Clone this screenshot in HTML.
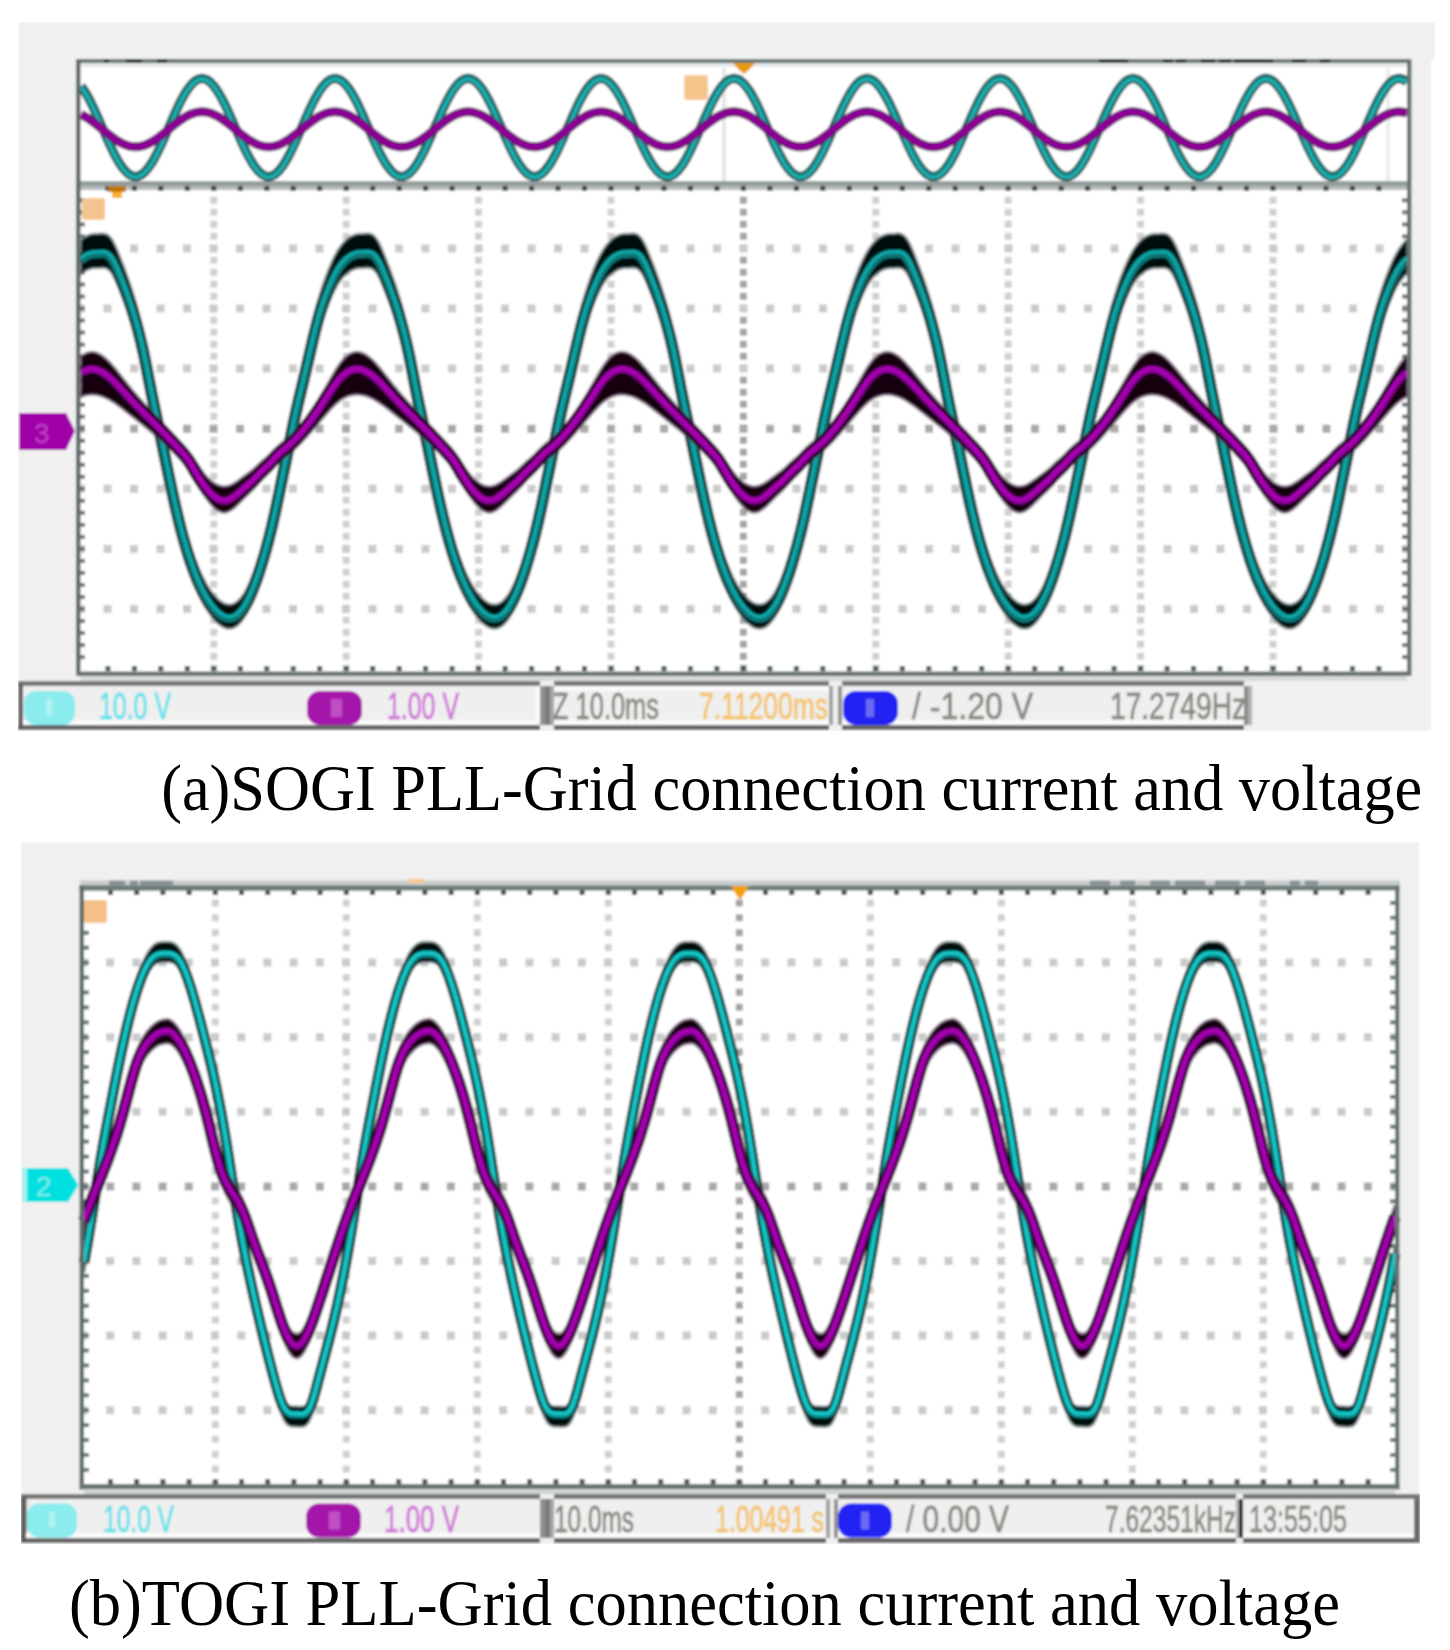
<!DOCTYPE html><html><head><meta charset="utf-8"><style>html,body{margin:0;padding:0;background:#fff;}body{width:1450px;height:1650px;overflow:hidden;} svg{display:block}</style></head><body>
<svg width="1450" height="1650" viewBox="0 0 1450 1650">
<defs><filter id="soft" x="0" y="0" width="1" height="1" filterUnits="objectBoundingBox"><feGaussianBlur stdDeviation="0.8"/></filter></defs>
<rect width="1450" height="1650" fill="#fff"/>
<g filter="url(#soft)">
<rect x="18" y="22" width="1417" height="37" fill="#f0f0f0"/>
<rect x="18" y="59" width="1413" height="672" fill="#f0f0f0"/>
<rect x="78" y="61" width="1331" height="612" fill="#fff"/>
<rect x="80" y="63" width="1327" height="4" fill="#e4e8e8"/>
<rect x="722" y="68" width="4" height="113" fill="#e6e6e6"/>
<rect x="1386" y="68" width="4" height="113" fill="#ececec"/>
<rect x="80" y="181" width="1327" height="5" fill="#949c9c"/>
<rect x="80" y="186" width="1327" height="4" fill="#b4bcbc"/>
<line x1="213.8" y1="196.8" x2="213.8" y2="671" stroke="#d0d0d0" stroke-width="7" stroke-dasharray="7 5" />
<line x1="346.2" y1="196.8" x2="346.2" y2="671" stroke="#d0d0d0" stroke-width="7" stroke-dasharray="7 5" />
<line x1="478.6" y1="196.8" x2="478.6" y2="671" stroke="#d0d0d0" stroke-width="7" stroke-dasharray="7 5" />
<line x1="611" y1="196.8" x2="611" y2="671" stroke="#d0d0d0" stroke-width="7" stroke-dasharray="7 5" />
<line x1="743.4" y1="196.8" x2="743.4" y2="671" stroke="#a4a4a4" stroke-width="7" stroke-dasharray="7 5" />
<line x1="875.8" y1="196.8" x2="875.8" y2="671" stroke="#d0d0d0" stroke-width="7" stroke-dasharray="7 5" />
<line x1="1008.2" y1="196.8" x2="1008.2" y2="671" stroke="#d0d0d0" stroke-width="7" stroke-dasharray="7 5" />
<line x1="1140.6" y1="196.8" x2="1140.6" y2="671" stroke="#d0d0d0" stroke-width="7" stroke-dasharray="7 5" />
<line x1="1273" y1="196.8" x2="1273" y2="671" stroke="#d0d0d0" stroke-width="7" stroke-dasharray="7 5" />
<line x1="81" y1="248.4" x2="1407" y2="248.4" stroke="#cacaca" stroke-width="8" stroke-dasharray="8 18.5" stroke-dashoffset="4"/>
<line x1="81" y1="308.5" x2="1407" y2="308.5" stroke="#cacaca" stroke-width="8" stroke-dasharray="8 18.5" stroke-dashoffset="4"/>
<line x1="81" y1="368.6" x2="1407" y2="368.6" stroke="#cacaca" stroke-width="8" stroke-dasharray="8 18.5" stroke-dashoffset="4"/>
<line x1="81" y1="428.7" x2="1407" y2="428.7" stroke="#a8a8a8" stroke-width="8" stroke-dasharray="8 18.5" stroke-dashoffset="4"/>
<line x1="81" y1="488.8" x2="1407" y2="488.8" stroke="#cacaca" stroke-width="8" stroke-dasharray="8 18.5" stroke-dashoffset="4"/>
<line x1="81" y1="548.9" x2="1407" y2="548.9" stroke="#cacaca" stroke-width="8" stroke-dasharray="8 18.5" stroke-dashoffset="4"/>
<line x1="81" y1="609" x2="1407" y2="609" stroke="#cacaca" stroke-width="8" stroke-dasharray="8 18.5" stroke-dashoffset="4"/>
<rect x="105.4" y="186" width="5" height="5" fill="#3c4848"/>
<rect x="105.4" y="666" width="5" height="5" fill="#4a5656"/>
<rect x="131.9" y="186" width="5" height="5" fill="#3c4848"/>
<rect x="131.9" y="666" width="5" height="5" fill="#4a5656"/>
<rect x="158.3" y="186" width="5" height="5" fill="#3c4848"/>
<rect x="158.3" y="666" width="5" height="5" fill="#4a5656"/>
<rect x="184.8" y="186" width="5" height="5" fill="#3c4848"/>
<rect x="184.8" y="666" width="5" height="5" fill="#4a5656"/>
<rect x="211.3" y="186" width="5" height="5" fill="#3c4848"/>
<rect x="211.3" y="666" width="5" height="5" fill="#4a5656"/>
<rect x="237.8" y="186" width="5" height="5" fill="#3c4848"/>
<rect x="237.8" y="666" width="5" height="5" fill="#4a5656"/>
<rect x="264.3" y="186" width="5" height="5" fill="#3c4848"/>
<rect x="264.3" y="666" width="5" height="5" fill="#4a5656"/>
<rect x="290.7" y="186" width="5" height="5" fill="#3c4848"/>
<rect x="290.7" y="666" width="5" height="5" fill="#4a5656"/>
<rect x="317.2" y="186" width="5" height="5" fill="#3c4848"/>
<rect x="317.2" y="666" width="5" height="5" fill="#4a5656"/>
<rect x="343.7" y="186" width="5" height="5" fill="#3c4848"/>
<rect x="343.7" y="666" width="5" height="5" fill="#4a5656"/>
<rect x="370.2" y="186" width="5" height="5" fill="#3c4848"/>
<rect x="370.2" y="666" width="5" height="5" fill="#4a5656"/>
<rect x="396.7" y="186" width="5" height="5" fill="#3c4848"/>
<rect x="396.7" y="666" width="5" height="5" fill="#4a5656"/>
<rect x="423.1" y="186" width="5" height="5" fill="#3c4848"/>
<rect x="423.1" y="666" width="5" height="5" fill="#4a5656"/>
<rect x="449.6" y="186" width="5" height="5" fill="#3c4848"/>
<rect x="449.6" y="666" width="5" height="5" fill="#4a5656"/>
<rect x="476.1" y="186" width="5" height="5" fill="#3c4848"/>
<rect x="476.1" y="666" width="5" height="5" fill="#4a5656"/>
<rect x="502.6" y="186" width="5" height="5" fill="#3c4848"/>
<rect x="502.6" y="666" width="5" height="5" fill="#4a5656"/>
<rect x="529.1" y="186" width="5" height="5" fill="#3c4848"/>
<rect x="529.1" y="666" width="5" height="5" fill="#4a5656"/>
<rect x="555.5" y="186" width="5" height="5" fill="#3c4848"/>
<rect x="555.5" y="666" width="5" height="5" fill="#4a5656"/>
<rect x="582" y="186" width="5" height="5" fill="#3c4848"/>
<rect x="582" y="666" width="5" height="5" fill="#4a5656"/>
<rect x="608.5" y="186" width="5" height="5" fill="#3c4848"/>
<rect x="608.5" y="666" width="5" height="5" fill="#4a5656"/>
<rect x="635" y="186" width="5" height="5" fill="#3c4848"/>
<rect x="635" y="666" width="5" height="5" fill="#4a5656"/>
<rect x="661.5" y="186" width="5" height="5" fill="#3c4848"/>
<rect x="661.5" y="666" width="5" height="5" fill="#4a5656"/>
<rect x="687.9" y="186" width="5" height="5" fill="#3c4848"/>
<rect x="687.9" y="666" width="5" height="5" fill="#4a5656"/>
<rect x="714.4" y="186" width="5" height="5" fill="#3c4848"/>
<rect x="714.4" y="666" width="5" height="5" fill="#4a5656"/>
<rect x="740.9" y="186" width="5" height="5" fill="#3c4848"/>
<rect x="740.9" y="666" width="5" height="5" fill="#4a5656"/>
<rect x="767.4" y="186" width="5" height="5" fill="#3c4848"/>
<rect x="767.4" y="666" width="5" height="5" fill="#4a5656"/>
<rect x="793.9" y="186" width="5" height="5" fill="#3c4848"/>
<rect x="793.9" y="666" width="5" height="5" fill="#4a5656"/>
<rect x="820.3" y="186" width="5" height="5" fill="#3c4848"/>
<rect x="820.3" y="666" width="5" height="5" fill="#4a5656"/>
<rect x="846.8" y="186" width="5" height="5" fill="#3c4848"/>
<rect x="846.8" y="666" width="5" height="5" fill="#4a5656"/>
<rect x="873.3" y="186" width="5" height="5" fill="#3c4848"/>
<rect x="873.3" y="666" width="5" height="5" fill="#4a5656"/>
<rect x="899.8" y="186" width="5" height="5" fill="#3c4848"/>
<rect x="899.8" y="666" width="5" height="5" fill="#4a5656"/>
<rect x="926.3" y="186" width="5" height="5" fill="#3c4848"/>
<rect x="926.3" y="666" width="5" height="5" fill="#4a5656"/>
<rect x="952.7" y="186" width="5" height="5" fill="#3c4848"/>
<rect x="952.7" y="666" width="5" height="5" fill="#4a5656"/>
<rect x="979.2" y="186" width="5" height="5" fill="#3c4848"/>
<rect x="979.2" y="666" width="5" height="5" fill="#4a5656"/>
<rect x="1005.7" y="186" width="5" height="5" fill="#3c4848"/>
<rect x="1005.7" y="666" width="5" height="5" fill="#4a5656"/>
<rect x="1032.2" y="186" width="5" height="5" fill="#3c4848"/>
<rect x="1032.2" y="666" width="5" height="5" fill="#4a5656"/>
<rect x="1058.7" y="186" width="5" height="5" fill="#3c4848"/>
<rect x="1058.7" y="666" width="5" height="5" fill="#4a5656"/>
<rect x="1085.1" y="186" width="5" height="5" fill="#3c4848"/>
<rect x="1085.1" y="666" width="5" height="5" fill="#4a5656"/>
<rect x="1111.6" y="186" width="5" height="5" fill="#3c4848"/>
<rect x="1111.6" y="666" width="5" height="5" fill="#4a5656"/>
<rect x="1138.1" y="186" width="5" height="5" fill="#3c4848"/>
<rect x="1138.1" y="666" width="5" height="5" fill="#4a5656"/>
<rect x="1164.6" y="186" width="5" height="5" fill="#3c4848"/>
<rect x="1164.6" y="666" width="5" height="5" fill="#4a5656"/>
<rect x="1191.1" y="186" width="5" height="5" fill="#3c4848"/>
<rect x="1191.1" y="666" width="5" height="5" fill="#4a5656"/>
<rect x="1217.5" y="186" width="5" height="5" fill="#3c4848"/>
<rect x="1217.5" y="666" width="5" height="5" fill="#4a5656"/>
<rect x="1244" y="186" width="5" height="5" fill="#3c4848"/>
<rect x="1244" y="666" width="5" height="5" fill="#4a5656"/>
<rect x="1270.5" y="186" width="5" height="5" fill="#3c4848"/>
<rect x="1270.5" y="666" width="5" height="5" fill="#4a5656"/>
<rect x="1297" y="186" width="5" height="5" fill="#3c4848"/>
<rect x="1297" y="666" width="5" height="5" fill="#4a5656"/>
<rect x="1323.5" y="186" width="5" height="5" fill="#3c4848"/>
<rect x="1323.5" y="666" width="5" height="5" fill="#4a5656"/>
<rect x="1349.9" y="186" width="5" height="5" fill="#3c4848"/>
<rect x="1349.9" y="666" width="5" height="5" fill="#4a5656"/>
<rect x="1376.4" y="186" width="5" height="5" fill="#3c4848"/>
<rect x="1376.4" y="666" width="5" height="5" fill="#4a5656"/>
<rect x="80" y="198.3" width="5" height="4" fill="#6a7474"/>
<rect x="1402" y="198.3" width="5" height="4" fill="#6a7474"/>
<rect x="80" y="210.3" width="5" height="4" fill="#6a7474"/>
<rect x="1402" y="210.3" width="5" height="4" fill="#6a7474"/>
<rect x="80" y="222.4" width="5" height="4" fill="#6a7474"/>
<rect x="1402" y="222.4" width="5" height="4" fill="#6a7474"/>
<rect x="80" y="234.4" width="5" height="4" fill="#6a7474"/>
<rect x="1402" y="234.4" width="5" height="4" fill="#6a7474"/>
<rect x="80" y="246.4" width="5" height="4" fill="#6a7474"/>
<rect x="1402" y="246.4" width="5" height="4" fill="#6a7474"/>
<rect x="80" y="258.4" width="5" height="4" fill="#6a7474"/>
<rect x="1402" y="258.4" width="5" height="4" fill="#6a7474"/>
<rect x="80" y="270.4" width="5" height="4" fill="#6a7474"/>
<rect x="1402" y="270.4" width="5" height="4" fill="#6a7474"/>
<rect x="80" y="282.5" width="5" height="4" fill="#6a7474"/>
<rect x="1402" y="282.5" width="5" height="4" fill="#6a7474"/>
<rect x="80" y="294.5" width="5" height="4" fill="#6a7474"/>
<rect x="1402" y="294.5" width="5" height="4" fill="#6a7474"/>
<rect x="80" y="306.5" width="5" height="4" fill="#6a7474"/>
<rect x="1402" y="306.5" width="5" height="4" fill="#6a7474"/>
<rect x="80" y="318.5" width="5" height="4" fill="#6a7474"/>
<rect x="1402" y="318.5" width="5" height="4" fill="#6a7474"/>
<rect x="80" y="330.5" width="5" height="4" fill="#6a7474"/>
<rect x="1402" y="330.5" width="5" height="4" fill="#6a7474"/>
<rect x="80" y="342.6" width="5" height="4" fill="#6a7474"/>
<rect x="1402" y="342.6" width="5" height="4" fill="#6a7474"/>
<rect x="80" y="354.6" width="5" height="4" fill="#6a7474"/>
<rect x="1402" y="354.6" width="5" height="4" fill="#6a7474"/>
<rect x="80" y="366.6" width="5" height="4" fill="#6a7474"/>
<rect x="1402" y="366.6" width="5" height="4" fill="#6a7474"/>
<rect x="80" y="378.6" width="5" height="4" fill="#6a7474"/>
<rect x="1402" y="378.6" width="5" height="4" fill="#6a7474"/>
<rect x="80" y="390.6" width="5" height="4" fill="#6a7474"/>
<rect x="1402" y="390.6" width="5" height="4" fill="#6a7474"/>
<rect x="80" y="402.7" width="5" height="4" fill="#6a7474"/>
<rect x="1402" y="402.7" width="5" height="4" fill="#6a7474"/>
<rect x="80" y="414.7" width="5" height="4" fill="#6a7474"/>
<rect x="1402" y="414.7" width="5" height="4" fill="#6a7474"/>
<rect x="80" y="426.7" width="5" height="4" fill="#6a7474"/>
<rect x="1402" y="426.7" width="5" height="4" fill="#6a7474"/>
<rect x="80" y="438.7" width="5" height="4" fill="#6a7474"/>
<rect x="1402" y="438.7" width="5" height="4" fill="#6a7474"/>
<rect x="80" y="450.7" width="5" height="4" fill="#6a7474"/>
<rect x="1402" y="450.7" width="5" height="4" fill="#6a7474"/>
<rect x="80" y="462.8" width="5" height="4" fill="#6a7474"/>
<rect x="1402" y="462.8" width="5" height="4" fill="#6a7474"/>
<rect x="80" y="474.8" width="5" height="4" fill="#6a7474"/>
<rect x="1402" y="474.8" width="5" height="4" fill="#6a7474"/>
<rect x="80" y="486.8" width="5" height="4" fill="#6a7474"/>
<rect x="1402" y="486.8" width="5" height="4" fill="#6a7474"/>
<rect x="80" y="498.8" width="5" height="4" fill="#6a7474"/>
<rect x="1402" y="498.8" width="5" height="4" fill="#6a7474"/>
<rect x="80" y="510.8" width="5" height="4" fill="#6a7474"/>
<rect x="1402" y="510.8" width="5" height="4" fill="#6a7474"/>
<rect x="80" y="522.9" width="5" height="4" fill="#6a7474"/>
<rect x="1402" y="522.9" width="5" height="4" fill="#6a7474"/>
<rect x="80" y="534.9" width="5" height="4" fill="#6a7474"/>
<rect x="1402" y="534.9" width="5" height="4" fill="#6a7474"/>
<rect x="80" y="546.9" width="5" height="4" fill="#6a7474"/>
<rect x="1402" y="546.9" width="5" height="4" fill="#6a7474"/>
<rect x="80" y="558.9" width="5" height="4" fill="#6a7474"/>
<rect x="1402" y="558.9" width="5" height="4" fill="#6a7474"/>
<rect x="80" y="570.9" width="5" height="4" fill="#6a7474"/>
<rect x="1402" y="570.9" width="5" height="4" fill="#6a7474"/>
<rect x="80" y="583" width="5" height="4" fill="#6a7474"/>
<rect x="1402" y="583" width="5" height="4" fill="#6a7474"/>
<rect x="80" y="595" width="5" height="4" fill="#6a7474"/>
<rect x="1402" y="595" width="5" height="4" fill="#6a7474"/>
<rect x="80" y="607" width="5" height="4" fill="#6a7474"/>
<rect x="1402" y="607" width="5" height="4" fill="#6a7474"/>
<rect x="80" y="619" width="5" height="4" fill="#6a7474"/>
<rect x="1402" y="619" width="5" height="4" fill="#6a7474"/>
<rect x="80" y="631" width="5" height="4" fill="#6a7474"/>
<rect x="1402" y="631" width="5" height="4" fill="#6a7474"/>
<rect x="80" y="643.1" width="5" height="4" fill="#6a7474"/>
<rect x="1402" y="643.1" width="5" height="4" fill="#6a7474"/>
<rect x="80" y="655.1" width="5" height="4" fill="#6a7474"/>
<rect x="1402" y="655.1" width="5" height="4" fill="#6a7474"/>
<path d="M81,86.2 82.5,88.1 84,90.3 85.5,92.6 87,95.2 88.5,97.9 90,100.7 91.5,103.7 93,106.8 94.5,110 96,113.2 97.5,116.6 99,120 100.5,123.5 102,126.9 103.5,130.4 105,133.8 106.5,137.3 108,140.6 109.5,144 111,147.2 112.5,150.3 114,153.3 115.5,156.2 117,158.9 118.5,161.5 120,163.9 121.5,166.2 123,168.2 124.5,170 126,171.6 127.5,173 129,174.2 130.5,175.1 132,175.8 133.5,176.3 135,176.5 136.5,176.4 138,176.2 139.5,175.6 141,174.9 142.5,173.8 144,172.6 145.5,171.1 147,169.4 148.5,167.5 150,165.4 151.5,163.2 153,160.7 154.5,158.1 156,155.3 157.5,152.3 159,149.3 160.5,146.1 162,142.9 163.5,139.5 165,136.1 166.5,132.7 168,129.2 169.5,125.8 171,122.3 172.5,118.9 174,115.5 175.5,112.1 177,108.9 178.5,105.7 180,102.7 181.5,99.7 183,96.9 184.5,94.3 186,91.8 187.5,89.6 189,87.5 190.5,85.6 192,83.9 193.5,82.4 195,81.2 196.5,80.1 198,79.4 199.5,78.8 201,78.6 202.5,78.5 204,78.7 205.5,79.2 207,79.9 208.5,80.8 210,82 211.5,83.4 213,85 214.5,86.8 216,88.8 217.5,91.1 219,93.5 220.5,96.1 222,98.8 223.5,101.7 225,104.7 226.5,107.8 228,111 229.5,114.4 231,117.7 232.5,121.2 234,124.6 235.5,128.1 237,131.5 238.5,135 240,138.4 241.5,141.8 243,145 244.5,148.2 246,151.3 247.5,154.3 249,157.1 250.5,159.8 252,162.4 253.5,164.7 255,166.9 256.5,168.8 258,170.6 259.5,172.1 261,173.5 262.5,174.5 264,175.4 265.5,176 267,176.4 268.5,176.5 270,176.4 271.5,176 273,175.4 274.5,174.5 276,173.5 277.5,172.1 279,170.6 280.5,168.8 282,166.9 283.5,164.7 285,162.4 286.5,159.8 288,157.1 289.5,154.3 291,151.3 292.5,148.2 294,145 295.5,141.8 297,138.4 298.5,135 300,131.5 301.5,128.1 303,124.6 304.5,121.2 306,117.7 307.5,114.4 309,111 310.5,107.8 312,104.7 313.5,101.7 315,98.8 316.5,96.1 318,93.5 319.5,91.1 321,88.8 322.5,86.8 324,85 325.5,83.4 327,82 328.5,80.8 330,79.9 331.5,79.2 333,78.7 334.5,78.5 336,78.6 337.5,78.8 339,79.4 340.5,80.1 342,81.2 343.5,82.4 345,83.9 346.5,85.6 348,87.5 349.5,89.6 351,91.8 352.5,94.3 354,96.9 355.5,99.7 357,102.7 358.5,105.7 360,108.9 361.5,112.1 363,115.5 364.5,118.9 366,122.3 367.5,125.8 369,129.2 370.5,132.7 372,136.1 373.5,139.5 375,142.9 376.5,146.1 378,149.3 379.5,152.3 381,155.3 382.5,158.1 384,160.7 385.5,163.2 387,165.4 388.5,167.5 390,169.4 391.5,171.1 393,172.6 394.5,173.8 396,174.9 397.5,175.6 399,176.2 400.5,176.4 402,176.5 403.5,176.3 405,175.8 406.5,175.1 408,174.2 409.5,173 411,171.6 412.5,170 414,168.2 415.5,166.2 417,163.9 418.5,161.5 420,158.9 421.5,156.2 423,153.3 424.5,150.3 426,147.2 427.5,144 429,140.6 430.5,137.3 432,133.8 433.5,130.4 435,126.9 436.5,123.5 438,120 439.5,116.6 441,113.2 442.5,110 444,106.8 445.5,103.7 447,100.7 448.5,97.9 450,95.2 451.5,92.6 453,90.3 454.5,88.1 456,86.2 457.5,84.4 459,82.9 460.5,81.5 462,80.5 463.5,79.6 465,79 466.5,78.6 468,78.5 469.5,78.6 471,79 472.5,79.6 474,80.5 475.5,81.5 477,82.9 478.5,84.4 480,86.2 481.5,88.1 483,90.3 484.5,92.6 486,95.2 487.5,97.9 489,100.7 490.5,103.7 492,106.8 493.5,110 495,113.2 496.5,116.6 498,120 499.5,123.5 501,126.9 502.5,130.4 504,133.8 505.5,137.3 507,140.6 508.5,144 510,147.2 511.5,150.3 513,153.3 514.5,156.2 516,158.9 517.5,161.5 519,163.9 520.5,166.2 522,168.2 523.5,170 525,171.6 526.5,173 528,174.2 529.5,175.1 531,175.8 532.5,176.3 534,176.5 535.5,176.4 537,176.2 538.5,175.6 540,174.9 541.5,173.8 543,172.6 544.5,171.1 546,169.4 547.5,167.5 549,165.4 550.5,163.2 552,160.7 553.5,158.1 555,155.3 556.5,152.3 558,149.3 559.5,146.1 561,142.9 562.5,139.5 564,136.1 565.5,132.7 567,129.2 568.5,125.8 570,122.3 571.5,118.9 573,115.5 574.5,112.1 576,108.9 577.5,105.7 579,102.7 580.5,99.7 582,96.9 583.5,94.3 585,91.8 586.5,89.6 588,87.5 589.5,85.6 591,83.9 592.5,82.4 594,81.2 595.5,80.1 597,79.4 598.5,78.8 600,78.6 601.5,78.5 603,78.7 604.5,79.2 606,79.9 607.5,80.8 609,82 610.5,83.4 612,85 613.5,86.8 615,88.8 616.5,91.1 618,93.5 619.5,96.1 621,98.8 622.5,101.7 624,104.7 625.5,107.8 627,111 628.5,114.4 630,117.7 631.5,121.2 633,124.6 634.5,128.1 636,131.5 637.5,135 639,138.4 640.5,141.8 642,145 643.5,148.2 645,151.3 646.5,154.3 648,157.1 649.5,159.8 651,162.4 652.5,164.7 654,166.9 655.5,168.8 657,170.6 658.5,172.1 660,173.5 661.5,174.5 663,175.4 664.5,176 666,176.4 667.5,176.5 669,176.4 670.5,176 672,175.4 673.5,174.5 675,173.5 676.5,172.1 678,170.6 679.5,168.8 681,166.9 682.5,164.7 684,162.4 685.5,159.8 687,157.1 688.5,154.3 690,151.3 691.5,148.2 693,145 694.5,141.8 696,138.4 697.5,135 699,131.5 700.5,128.1 702,124.6 703.5,121.2 705,117.7 706.5,114.4 708,111 709.5,107.8 711,104.7 712.5,101.7 714,98.8 715.5,96.1 717,93.5 718.5,91.1 720,88.8 721.5,86.8 723,85 724.5,83.4 726,82 727.5,80.8 729,79.9 730.5,79.2 732,78.7 733.5,78.5 735,78.6 736.5,78.8 738,79.4 739.5,80.1 741,81.2 742.5,82.4 744,83.9 745.5,85.6 747,87.5 748.5,89.6 750,91.8 751.5,94.3 753,96.9 754.5,99.7 756,102.7 757.5,105.7 759,108.9 760.5,112.1 762,115.5 763.5,118.9 765,122.3 766.5,125.8 768,129.2 769.5,132.7 771,136.1 772.5,139.5 774,142.9 775.5,146.1 777,149.3 778.5,152.3 780,155.3 781.5,158.1 783,160.7 784.5,163.2 786,165.4 787.5,167.5 789,169.4 790.5,171.1 792,172.6 793.5,173.8 795,174.9 796.5,175.6 798,176.2 799.5,176.4 801,176.5 802.5,176.3 804,175.8 805.5,175.1 807,174.2 808.5,173 810,171.6 811.5,170 813,168.2 814.5,166.2 816,163.9 817.5,161.5 819,158.9 820.5,156.2 822,153.3 823.5,150.3 825,147.2 826.5,144 828,140.6 829.5,137.3 831,133.8 832.5,130.4 834,126.9 835.5,123.5 837,120 838.5,116.6 840,113.2 841.5,110 843,106.8 844.5,103.7 846,100.7 847.5,97.9 849,95.2 850.5,92.6 852,90.3 853.5,88.1 855,86.2 856.5,84.4 858,82.9 859.5,81.5 861,80.5 862.5,79.6 864,79 865.5,78.6 867,78.5 868.5,78.6 870,79 871.5,79.6 873,80.5 874.5,81.5 876,82.9 877.5,84.4 879,86.2 880.5,88.1 882,90.3 883.5,92.6 885,95.2 886.5,97.9 888,100.7 889.5,103.7 891,106.8 892.5,110 894,113.2 895.5,116.6 897,120 898.5,123.5 900,126.9 901.5,130.4 903,133.8 904.5,137.3 906,140.6 907.5,144 909,147.2 910.5,150.3 912,153.3 913.5,156.2 915,158.9 916.5,161.5 918,163.9 919.5,166.2 921,168.2 922.5,170 924,171.6 925.5,173 927,174.2 928.5,175.1 930,175.8 931.5,176.3 933,176.5 934.5,176.4 936,176.2 937.5,175.6 939,174.9 940.5,173.8 942,172.6 943.5,171.1 945,169.4 946.5,167.5 948,165.4 949.5,163.2 951,160.7 952.5,158.1 954,155.3 955.5,152.3 957,149.3 958.5,146.1 960,142.9 961.5,139.5 963,136.1 964.5,132.7 966,129.2 967.5,125.8 969,122.3 970.5,118.9 972,115.5 973.5,112.1 975,108.9 976.5,105.7 978,102.7 979.5,99.7 981,96.9 982.5,94.3 984,91.8 985.5,89.6 987,87.5 988.5,85.6 990,83.9 991.5,82.4 993,81.2 994.5,80.1 996,79.4 997.5,78.8 999,78.6 1000.5,78.5 1002,78.7 1003.5,79.2 1005,79.9 1006.5,80.8 1008,82 1009.5,83.4 1011,85 1012.5,86.8 1014,88.8 1015.5,91.1 1017,93.5 1018.5,96.1 1020,98.8 1021.5,101.7 1023,104.7 1024.5,107.8 1026,111 1027.5,114.4 1029,117.7 1030.5,121.2 1032,124.6 1033.5,128.1 1035,131.5 1036.5,135 1038,138.4 1039.5,141.8 1041,145 1042.5,148.2 1044,151.3 1045.5,154.3 1047,157.1 1048.5,159.8 1050,162.4 1051.5,164.7 1053,166.9 1054.5,168.8 1056,170.6 1057.5,172.1 1059,173.5 1060.5,174.5 1062,175.4 1063.5,176 1065,176.4 1066.5,176.5 1068,176.4 1069.5,176 1071,175.4 1072.5,174.5 1074,173.5 1075.5,172.1 1077,170.6 1078.5,168.8 1080,166.9 1081.5,164.7 1083,162.4 1084.5,159.8 1086,157.1 1087.5,154.3 1089,151.3 1090.5,148.2 1092,145 1093.5,141.8 1095,138.4 1096.5,135 1098,131.5 1099.5,128.1 1101,124.6 1102.5,121.2 1104,117.7 1105.5,114.4 1107,111 1108.5,107.8 1110,104.7 1111.5,101.7 1113,98.8 1114.5,96.1 1116,93.5 1117.5,91.1 1119,88.8 1120.5,86.8 1122,85 1123.5,83.4 1125,82 1126.5,80.8 1128,79.9 1129.5,79.2 1131,78.7 1132.5,78.5 1134,78.6 1135.5,78.8 1137,79.4 1138.5,80.1 1140,81.2 1141.5,82.4 1143,83.9 1144.5,85.6 1146,87.5 1147.5,89.6 1149,91.8 1150.5,94.3 1152,96.9 1153.5,99.7 1155,102.7 1156.5,105.7 1158,108.9 1159.5,112.1 1161,115.5 1162.5,118.9 1164,122.3 1165.5,125.8 1167,129.2 1168.5,132.7 1170,136.1 1171.5,139.5 1173,142.9 1174.5,146.1 1176,149.3 1177.5,152.3 1179,155.3 1180.5,158.1 1182,160.7 1183.5,163.2 1185,165.4 1186.5,167.5 1188,169.4 1189.5,171.1 1191,172.6 1192.5,173.8 1194,174.9 1195.5,175.6 1197,176.2 1198.5,176.4 1200,176.5 1201.5,176.3 1203,175.8 1204.5,175.1 1206,174.2 1207.5,173 1209,171.6 1210.5,170 1212,168.2 1213.5,166.2 1215,163.9 1216.5,161.5 1218,158.9 1219.5,156.2 1221,153.3 1222.5,150.3 1224,147.2 1225.5,144 1227,140.6 1228.5,137.3 1230,133.8 1231.5,130.4 1233,126.9 1234.5,123.5 1236,120 1237.5,116.6 1239,113.2 1240.5,110 1242,106.8 1243.5,103.7 1245,100.7 1246.5,97.9 1248,95.2 1249.5,92.6 1251,90.3 1252.5,88.1 1254,86.2 1255.5,84.4 1257,82.9 1258.5,81.5 1260,80.5 1261.5,79.6 1263,79 1264.5,78.6 1266,78.5 1267.5,78.6 1269,79 1270.5,79.6 1272,80.5 1273.5,81.5 1275,82.9 1276.5,84.4 1278,86.2 1279.5,88.1 1281,90.3 1282.5,92.6 1284,95.2 1285.5,97.9 1287,100.7 1288.5,103.7 1290,106.8 1291.5,110 1293,113.2 1294.5,116.6 1296,120 1297.5,123.5 1299,126.9 1300.5,130.4 1302,133.8 1303.5,137.3 1305,140.6 1306.5,144 1308,147.2 1309.5,150.3 1311,153.3 1312.5,156.2 1314,158.9 1315.5,161.5 1317,163.9 1318.5,166.2 1320,168.2 1321.5,170 1323,171.6 1324.5,173 1326,174.2 1327.5,175.1 1329,175.8 1330.5,176.3 1332,176.5 1333.5,176.4 1335,176.2 1336.5,175.6 1338,174.9 1339.5,173.8 1341,172.6 1342.5,171.1 1344,169.4 1345.5,167.5 1347,165.4 1348.5,163.2 1350,160.7 1351.5,158.1 1353,155.3 1354.5,152.3 1356,149.3 1357.5,146.1 1359,142.9 1360.5,139.5 1362,136.1 1363.5,132.7 1365,129.2 1366.5,125.8 1368,122.3 1369.5,118.9 1371,115.5 1372.5,112.1 1374,108.9 1375.5,105.7 1377,102.7 1378.5,99.7 1380,96.9 1381.5,94.3 1383,91.8 1384.5,89.6 1386,87.5 1387.5,85.6 1389,83.9 1390.5,82.4 1392,81.2 1393.5,80.1 1395,79.4 1396.5,78.8 1398,78.6 1399.5,78.5 1401,78.7 1402.5,79.2 1404,79.9 1405.5,80.8 1407,82" fill="none" stroke="#1c4848" stroke-width="9.5" stroke-linejoin="round" />
<path d="M81,86.2 82.5,88.1 84,90.3 85.5,92.6 87,95.2 88.5,97.9 90,100.7 91.5,103.7 93,106.8 94.5,110 96,113.2 97.5,116.6 99,120 100.5,123.5 102,126.9 103.5,130.4 105,133.8 106.5,137.3 108,140.6 109.5,144 111,147.2 112.5,150.3 114,153.3 115.5,156.2 117,158.9 118.5,161.5 120,163.9 121.5,166.2 123,168.2 124.5,170 126,171.6 127.5,173 129,174.2 130.5,175.1 132,175.8 133.5,176.3 135,176.5 136.5,176.4 138,176.2 139.5,175.6 141,174.9 142.5,173.8 144,172.6 145.5,171.1 147,169.4 148.5,167.5 150,165.4 151.5,163.2 153,160.7 154.5,158.1 156,155.3 157.5,152.3 159,149.3 160.5,146.1 162,142.9 163.5,139.5 165,136.1 166.5,132.7 168,129.2 169.5,125.8 171,122.3 172.5,118.9 174,115.5 175.5,112.1 177,108.9 178.5,105.7 180,102.7 181.5,99.7 183,96.9 184.5,94.3 186,91.8 187.5,89.6 189,87.5 190.5,85.6 192,83.9 193.5,82.4 195,81.2 196.5,80.1 198,79.4 199.5,78.8 201,78.6 202.5,78.5 204,78.7 205.5,79.2 207,79.9 208.5,80.8 210,82 211.5,83.4 213,85 214.5,86.8 216,88.8 217.5,91.1 219,93.5 220.5,96.1 222,98.8 223.5,101.7 225,104.7 226.5,107.8 228,111 229.5,114.4 231,117.7 232.5,121.2 234,124.6 235.5,128.1 237,131.5 238.5,135 240,138.4 241.5,141.8 243,145 244.5,148.2 246,151.3 247.5,154.3 249,157.1 250.5,159.8 252,162.4 253.5,164.7 255,166.9 256.5,168.8 258,170.6 259.5,172.1 261,173.5 262.5,174.5 264,175.4 265.5,176 267,176.4 268.5,176.5 270,176.4 271.5,176 273,175.4 274.5,174.5 276,173.5 277.5,172.1 279,170.6 280.5,168.8 282,166.9 283.5,164.7 285,162.4 286.5,159.8 288,157.1 289.5,154.3 291,151.3 292.5,148.2 294,145 295.5,141.8 297,138.4 298.5,135 300,131.5 301.5,128.1 303,124.6 304.5,121.2 306,117.7 307.5,114.4 309,111 310.5,107.8 312,104.7 313.5,101.7 315,98.8 316.5,96.1 318,93.5 319.5,91.1 321,88.8 322.5,86.8 324,85 325.5,83.4 327,82 328.5,80.8 330,79.9 331.5,79.2 333,78.7 334.5,78.5 336,78.6 337.5,78.8 339,79.4 340.5,80.1 342,81.2 343.5,82.4 345,83.9 346.5,85.6 348,87.5 349.5,89.6 351,91.8 352.5,94.3 354,96.9 355.5,99.7 357,102.7 358.5,105.7 360,108.9 361.5,112.1 363,115.5 364.5,118.9 366,122.3 367.5,125.8 369,129.2 370.5,132.7 372,136.1 373.5,139.5 375,142.9 376.5,146.1 378,149.3 379.5,152.3 381,155.3 382.5,158.1 384,160.7 385.5,163.2 387,165.4 388.5,167.5 390,169.4 391.5,171.1 393,172.6 394.5,173.8 396,174.9 397.5,175.6 399,176.2 400.5,176.4 402,176.5 403.5,176.3 405,175.8 406.5,175.1 408,174.2 409.5,173 411,171.6 412.5,170 414,168.2 415.5,166.2 417,163.9 418.5,161.5 420,158.9 421.5,156.2 423,153.3 424.5,150.3 426,147.2 427.5,144 429,140.6 430.5,137.3 432,133.8 433.5,130.4 435,126.9 436.5,123.5 438,120 439.5,116.6 441,113.2 442.5,110 444,106.8 445.5,103.7 447,100.7 448.5,97.9 450,95.2 451.5,92.6 453,90.3 454.5,88.1 456,86.2 457.5,84.4 459,82.9 460.5,81.5 462,80.5 463.5,79.6 465,79 466.5,78.6 468,78.5 469.5,78.6 471,79 472.5,79.6 474,80.5 475.5,81.5 477,82.9 478.5,84.4 480,86.2 481.5,88.1 483,90.3 484.5,92.6 486,95.2 487.5,97.9 489,100.7 490.5,103.7 492,106.8 493.5,110 495,113.2 496.5,116.6 498,120 499.5,123.5 501,126.9 502.5,130.4 504,133.8 505.5,137.3 507,140.6 508.5,144 510,147.2 511.5,150.3 513,153.3 514.5,156.2 516,158.9 517.5,161.5 519,163.9 520.5,166.2 522,168.2 523.5,170 525,171.6 526.5,173 528,174.2 529.5,175.1 531,175.8 532.5,176.3 534,176.5 535.5,176.4 537,176.2 538.5,175.6 540,174.9 541.5,173.8 543,172.6 544.5,171.1 546,169.4 547.5,167.5 549,165.4 550.5,163.2 552,160.7 553.5,158.1 555,155.3 556.5,152.3 558,149.3 559.5,146.1 561,142.9 562.5,139.5 564,136.1 565.5,132.7 567,129.2 568.5,125.8 570,122.3 571.5,118.9 573,115.5 574.5,112.1 576,108.9 577.5,105.7 579,102.7 580.5,99.7 582,96.9 583.5,94.3 585,91.8 586.5,89.6 588,87.5 589.5,85.6 591,83.9 592.5,82.4 594,81.2 595.5,80.1 597,79.4 598.5,78.8 600,78.6 601.5,78.5 603,78.7 604.5,79.2 606,79.9 607.5,80.8 609,82 610.5,83.4 612,85 613.5,86.8 615,88.8 616.5,91.1 618,93.5 619.5,96.1 621,98.8 622.5,101.7 624,104.7 625.5,107.8 627,111 628.5,114.4 630,117.7 631.5,121.2 633,124.6 634.5,128.1 636,131.5 637.5,135 639,138.4 640.5,141.8 642,145 643.5,148.2 645,151.3 646.5,154.3 648,157.1 649.5,159.8 651,162.4 652.5,164.7 654,166.9 655.5,168.8 657,170.6 658.5,172.1 660,173.5 661.5,174.5 663,175.4 664.5,176 666,176.4 667.5,176.5 669,176.4 670.5,176 672,175.4 673.5,174.5 675,173.5 676.5,172.1 678,170.6 679.5,168.8 681,166.9 682.5,164.7 684,162.4 685.5,159.8 687,157.1 688.5,154.3 690,151.3 691.5,148.2 693,145 694.5,141.8 696,138.4 697.5,135 699,131.5 700.5,128.1 702,124.6 703.5,121.2 705,117.7 706.5,114.4 708,111 709.5,107.8 711,104.7 712.5,101.7 714,98.8 715.5,96.1 717,93.5 718.5,91.1 720,88.8 721.5,86.8 723,85 724.5,83.4 726,82 727.5,80.8 729,79.9 730.5,79.2 732,78.7 733.5,78.5 735,78.6 736.5,78.8 738,79.4 739.5,80.1 741,81.2 742.5,82.4 744,83.9 745.5,85.6 747,87.5 748.5,89.6 750,91.8 751.5,94.3 753,96.9 754.5,99.7 756,102.7 757.5,105.7 759,108.9 760.5,112.1 762,115.5 763.5,118.9 765,122.3 766.5,125.8 768,129.2 769.5,132.7 771,136.1 772.5,139.5 774,142.9 775.5,146.1 777,149.3 778.5,152.3 780,155.3 781.5,158.1 783,160.7 784.5,163.2 786,165.4 787.5,167.5 789,169.4 790.5,171.1 792,172.6 793.5,173.8 795,174.9 796.5,175.6 798,176.2 799.5,176.4 801,176.5 802.5,176.3 804,175.8 805.5,175.1 807,174.2 808.5,173 810,171.6 811.5,170 813,168.2 814.5,166.2 816,163.9 817.5,161.5 819,158.9 820.5,156.2 822,153.3 823.5,150.3 825,147.2 826.5,144 828,140.6 829.5,137.3 831,133.8 832.5,130.4 834,126.9 835.5,123.5 837,120 838.5,116.6 840,113.2 841.5,110 843,106.8 844.5,103.7 846,100.7 847.5,97.9 849,95.2 850.5,92.6 852,90.3 853.5,88.1 855,86.2 856.5,84.4 858,82.9 859.5,81.5 861,80.5 862.5,79.6 864,79 865.5,78.6 867,78.5 868.5,78.6 870,79 871.5,79.6 873,80.5 874.5,81.5 876,82.9 877.5,84.4 879,86.2 880.5,88.1 882,90.3 883.5,92.6 885,95.2 886.5,97.9 888,100.7 889.5,103.7 891,106.8 892.5,110 894,113.2 895.5,116.6 897,120 898.5,123.5 900,126.9 901.5,130.4 903,133.8 904.5,137.3 906,140.6 907.5,144 909,147.2 910.5,150.3 912,153.3 913.5,156.2 915,158.9 916.5,161.5 918,163.9 919.5,166.2 921,168.2 922.5,170 924,171.6 925.5,173 927,174.2 928.5,175.1 930,175.8 931.5,176.3 933,176.5 934.5,176.4 936,176.2 937.5,175.6 939,174.9 940.5,173.8 942,172.6 943.5,171.1 945,169.4 946.5,167.5 948,165.4 949.5,163.2 951,160.7 952.5,158.1 954,155.3 955.5,152.3 957,149.3 958.5,146.1 960,142.9 961.5,139.5 963,136.1 964.5,132.7 966,129.2 967.5,125.8 969,122.3 970.5,118.9 972,115.5 973.5,112.1 975,108.9 976.5,105.7 978,102.7 979.5,99.7 981,96.9 982.5,94.3 984,91.8 985.5,89.6 987,87.5 988.5,85.6 990,83.9 991.5,82.4 993,81.2 994.5,80.1 996,79.4 997.5,78.8 999,78.6 1000.5,78.5 1002,78.7 1003.5,79.2 1005,79.9 1006.5,80.8 1008,82 1009.5,83.4 1011,85 1012.5,86.8 1014,88.8 1015.5,91.1 1017,93.5 1018.5,96.1 1020,98.8 1021.5,101.7 1023,104.7 1024.5,107.8 1026,111 1027.5,114.4 1029,117.7 1030.5,121.2 1032,124.6 1033.5,128.1 1035,131.5 1036.5,135 1038,138.4 1039.5,141.8 1041,145 1042.5,148.2 1044,151.3 1045.5,154.3 1047,157.1 1048.5,159.8 1050,162.4 1051.5,164.7 1053,166.9 1054.5,168.8 1056,170.6 1057.5,172.1 1059,173.5 1060.5,174.5 1062,175.4 1063.5,176 1065,176.4 1066.5,176.5 1068,176.4 1069.5,176 1071,175.4 1072.5,174.5 1074,173.5 1075.5,172.1 1077,170.6 1078.5,168.8 1080,166.9 1081.5,164.7 1083,162.4 1084.5,159.8 1086,157.1 1087.5,154.3 1089,151.3 1090.5,148.2 1092,145 1093.5,141.8 1095,138.4 1096.5,135 1098,131.5 1099.5,128.1 1101,124.6 1102.5,121.2 1104,117.7 1105.5,114.4 1107,111 1108.5,107.8 1110,104.7 1111.5,101.7 1113,98.8 1114.5,96.1 1116,93.5 1117.5,91.1 1119,88.8 1120.5,86.8 1122,85 1123.5,83.4 1125,82 1126.5,80.8 1128,79.9 1129.5,79.2 1131,78.7 1132.5,78.5 1134,78.6 1135.5,78.8 1137,79.4 1138.5,80.1 1140,81.2 1141.5,82.4 1143,83.9 1144.5,85.6 1146,87.5 1147.5,89.6 1149,91.8 1150.5,94.3 1152,96.9 1153.5,99.7 1155,102.7 1156.5,105.7 1158,108.9 1159.5,112.1 1161,115.5 1162.5,118.9 1164,122.3 1165.5,125.8 1167,129.2 1168.5,132.7 1170,136.1 1171.5,139.5 1173,142.9 1174.5,146.1 1176,149.3 1177.5,152.3 1179,155.3 1180.5,158.1 1182,160.7 1183.5,163.2 1185,165.4 1186.5,167.5 1188,169.4 1189.5,171.1 1191,172.6 1192.5,173.8 1194,174.9 1195.5,175.6 1197,176.2 1198.5,176.4 1200,176.5 1201.5,176.3 1203,175.8 1204.5,175.1 1206,174.2 1207.5,173 1209,171.6 1210.5,170 1212,168.2 1213.5,166.2 1215,163.9 1216.5,161.5 1218,158.9 1219.5,156.2 1221,153.3 1222.5,150.3 1224,147.2 1225.5,144 1227,140.6 1228.5,137.3 1230,133.8 1231.5,130.4 1233,126.9 1234.5,123.5 1236,120 1237.5,116.6 1239,113.2 1240.5,110 1242,106.8 1243.5,103.7 1245,100.7 1246.5,97.9 1248,95.2 1249.5,92.6 1251,90.3 1252.5,88.1 1254,86.2 1255.5,84.4 1257,82.9 1258.5,81.5 1260,80.5 1261.5,79.6 1263,79 1264.5,78.6 1266,78.5 1267.5,78.6 1269,79 1270.5,79.6 1272,80.5 1273.5,81.5 1275,82.9 1276.5,84.4 1278,86.2 1279.5,88.1 1281,90.3 1282.5,92.6 1284,95.2 1285.5,97.9 1287,100.7 1288.5,103.7 1290,106.8 1291.5,110 1293,113.2 1294.5,116.6 1296,120 1297.5,123.5 1299,126.9 1300.5,130.4 1302,133.8 1303.5,137.3 1305,140.6 1306.5,144 1308,147.2 1309.5,150.3 1311,153.3 1312.5,156.2 1314,158.9 1315.5,161.5 1317,163.9 1318.5,166.2 1320,168.2 1321.5,170 1323,171.6 1324.5,173 1326,174.2 1327.5,175.1 1329,175.8 1330.5,176.3 1332,176.5 1333.5,176.4 1335,176.2 1336.5,175.6 1338,174.9 1339.5,173.8 1341,172.6 1342.5,171.1 1344,169.4 1345.5,167.5 1347,165.4 1348.5,163.2 1350,160.7 1351.5,158.1 1353,155.3 1354.5,152.3 1356,149.3 1357.5,146.1 1359,142.9 1360.5,139.5 1362,136.1 1363.5,132.7 1365,129.2 1366.5,125.8 1368,122.3 1369.5,118.9 1371,115.5 1372.5,112.1 1374,108.9 1375.5,105.7 1377,102.7 1378.5,99.7 1380,96.9 1381.5,94.3 1383,91.8 1384.5,89.6 1386,87.5 1387.5,85.6 1389,83.9 1390.5,82.4 1392,81.2 1393.5,80.1 1395,79.4 1396.5,78.8 1398,78.6 1399.5,78.5 1401,78.7 1402.5,79.2 1404,79.9 1405.5,80.8 1407,82" fill="none" stroke="#168a8a" stroke-width="6" stroke-linejoin="round" />
<path d="M81,87.2 82.5,89.1 84,91.3 85.5,93.6 87,96.2 88.5,98.9 90,101.7 91.5,104.7 93,107.8 94.5,111 96,114.2 97.5,117.6 99,121 100.5,124.5 102,127.9 103.5,131.4 105,134.8 106.5,138.3 108,141.6 109.5,145 111,148.2 112.5,151.3 114,154.3 115.5,157.2 117,159.9 118.5,162.5 120,164.9 121.5,167.2 123,169.2 124.5,171 126,172.6 127.5,174 129,175.2 130.5,176.1 132,176.8 133.5,177.3 135,177.5 136.5,177.4 138,177.2 139.5,176.6 141,175.9 142.5,174.8 144,173.6 145.5,172.1 147,170.4 148.5,168.5 150,166.4 151.5,164.2 153,161.7 154.5,159.1 156,156.3 157.5,153.3 159,150.3 160.5,147.1 162,143.9 163.5,140.5 165,137.1 166.5,133.7 168,130.2 169.5,126.8 171,123.3 172.5,119.9 174,116.5 175.5,113.1 177,109.9 178.5,106.7 180,103.7 181.5,100.7 183,97.9 184.5,95.3 186,92.8 187.5,90.6 189,88.5 190.5,86.6 192,84.9 193.5,83.4 195,82.2 196.5,81.1 198,80.4 199.5,79.8 201,79.6 202.5,79.5 204,79.7 205.5,80.2 207,80.9 208.5,81.8 210,83 211.5,84.4 213,86 214.5,87.8 216,89.8 217.5,92.1 219,94.5 220.5,97.1 222,99.8 223.5,102.7 225,105.7 226.5,108.8 228,112 229.5,115.4 231,118.7 232.5,122.2 234,125.6 235.5,129.1 237,132.5 238.5,136 240,139.4 241.5,142.8 243,146 244.5,149.2 246,152.3 247.5,155.3 249,158.1 250.5,160.8 252,163.4 253.5,165.7 255,167.9 256.5,169.8 258,171.6 259.5,173.1 261,174.5 262.5,175.5 264,176.4 265.5,177 267,177.4 268.5,177.5 270,177.4 271.5,177 273,176.4 274.5,175.5 276,174.5 277.5,173.1 279,171.6 280.5,169.8 282,167.9 283.5,165.7 285,163.4 286.5,160.8 288,158.1 289.5,155.3 291,152.3 292.5,149.2 294,146 295.5,142.8 297,139.4 298.5,136 300,132.5 301.5,129.1 303,125.6 304.5,122.2 306,118.7 307.5,115.4 309,112 310.5,108.8 312,105.7 313.5,102.7 315,99.8 316.5,97.1 318,94.5 319.5,92.1 321,89.8 322.5,87.8 324,86 325.5,84.4 327,83 328.5,81.8 330,80.9 331.5,80.2 333,79.7 334.5,79.5 336,79.6 337.5,79.8 339,80.4 340.5,81.1 342,82.2 343.5,83.4 345,84.9 346.5,86.6 348,88.5 349.5,90.6 351,92.8 352.5,95.3 354,97.9 355.5,100.7 357,103.7 358.5,106.7 360,109.9 361.5,113.1 363,116.5 364.5,119.9 366,123.3 367.5,126.8 369,130.2 370.5,133.7 372,137.1 373.5,140.5 375,143.9 376.5,147.1 378,150.3 379.5,153.3 381,156.3 382.5,159.1 384,161.7 385.5,164.2 387,166.4 388.5,168.5 390,170.4 391.5,172.1 393,173.6 394.5,174.8 396,175.9 397.5,176.6 399,177.2 400.5,177.4 402,177.5 403.5,177.3 405,176.8 406.5,176.1 408,175.2 409.5,174 411,172.6 412.5,171 414,169.2 415.5,167.2 417,164.9 418.5,162.5 420,159.9 421.5,157.2 423,154.3 424.5,151.3 426,148.2 427.5,145 429,141.6 430.5,138.3 432,134.8 433.5,131.4 435,127.9 436.5,124.5 438,121 439.5,117.6 441,114.2 442.5,111 444,107.8 445.5,104.7 447,101.7 448.5,98.9 450,96.2 451.5,93.6 453,91.3 454.5,89.1 456,87.2 457.5,85.4 459,83.9 460.5,82.5 462,81.5 463.5,80.6 465,80 466.5,79.6 468,79.5 469.5,79.6 471,80 472.5,80.6 474,81.5 475.5,82.5 477,83.9 478.5,85.4 480,87.2 481.5,89.1 483,91.3 484.5,93.6 486,96.2 487.5,98.9 489,101.7 490.5,104.7 492,107.8 493.5,111 495,114.2 496.5,117.6 498,121 499.5,124.5 501,127.9 502.5,131.4 504,134.8 505.5,138.3 507,141.6 508.5,145 510,148.2 511.5,151.3 513,154.3 514.5,157.2 516,159.9 517.5,162.5 519,164.9 520.5,167.2 522,169.2 523.5,171 525,172.6 526.5,174 528,175.2 529.5,176.1 531,176.8 532.5,177.3 534,177.5 535.5,177.4 537,177.2 538.5,176.6 540,175.9 541.5,174.8 543,173.6 544.5,172.1 546,170.4 547.5,168.5 549,166.4 550.5,164.2 552,161.7 553.5,159.1 555,156.3 556.5,153.3 558,150.3 559.5,147.1 561,143.9 562.5,140.5 564,137.1 565.5,133.7 567,130.2 568.5,126.8 570,123.3 571.5,119.9 573,116.5 574.5,113.1 576,109.9 577.5,106.7 579,103.7 580.5,100.7 582,97.9 583.5,95.3 585,92.8 586.5,90.6 588,88.5 589.5,86.6 591,84.9 592.5,83.4 594,82.2 595.5,81.1 597,80.4 598.5,79.8 600,79.6 601.5,79.5 603,79.7 604.5,80.2 606,80.9 607.5,81.8 609,83 610.5,84.4 612,86 613.5,87.8 615,89.8 616.5,92.1 618,94.5 619.5,97.1 621,99.8 622.5,102.7 624,105.7 625.5,108.8 627,112 628.5,115.4 630,118.7 631.5,122.2 633,125.6 634.5,129.1 636,132.5 637.5,136 639,139.4 640.5,142.8 642,146 643.5,149.2 645,152.3 646.5,155.3 648,158.1 649.5,160.8 651,163.4 652.5,165.7 654,167.9 655.5,169.8 657,171.6 658.5,173.1 660,174.5 661.5,175.5 663,176.4 664.5,177 666,177.4 667.5,177.5 669,177.4 670.5,177 672,176.4 673.5,175.5 675,174.5 676.5,173.1 678,171.6 679.5,169.8 681,167.9 682.5,165.7 684,163.4 685.5,160.8 687,158.1 688.5,155.3 690,152.3 691.5,149.2 693,146 694.5,142.8 696,139.4 697.5,136 699,132.5 700.5,129.1 702,125.6 703.5,122.2 705,118.7 706.5,115.4 708,112 709.5,108.8 711,105.7 712.5,102.7 714,99.8 715.5,97.1 717,94.5 718.5,92.1 720,89.8 721.5,87.8 723,86 724.5,84.4 726,83 727.5,81.8 729,80.9 730.5,80.2 732,79.7 733.5,79.5 735,79.6 736.5,79.8 738,80.4 739.5,81.1 741,82.2 742.5,83.4 744,84.9 745.5,86.6 747,88.5 748.5,90.6 750,92.8 751.5,95.3 753,97.9 754.5,100.7 756,103.7 757.5,106.7 759,109.9 760.5,113.1 762,116.5 763.5,119.9 765,123.3 766.5,126.8 768,130.2 769.5,133.7 771,137.1 772.5,140.5 774,143.9 775.5,147.1 777,150.3 778.5,153.3 780,156.3 781.5,159.1 783,161.7 784.5,164.2 786,166.4 787.5,168.5 789,170.4 790.5,172.1 792,173.6 793.5,174.8 795,175.9 796.5,176.6 798,177.2 799.5,177.4 801,177.5 802.5,177.3 804,176.8 805.5,176.1 807,175.2 808.5,174 810,172.6 811.5,171 813,169.2 814.5,167.2 816,164.9 817.5,162.5 819,159.9 820.5,157.2 822,154.3 823.5,151.3 825,148.2 826.5,145 828,141.6 829.5,138.3 831,134.8 832.5,131.4 834,127.9 835.5,124.5 837,121 838.5,117.6 840,114.2 841.5,111 843,107.8 844.5,104.7 846,101.7 847.5,98.9 849,96.2 850.5,93.6 852,91.3 853.5,89.1 855,87.2 856.5,85.4 858,83.9 859.5,82.5 861,81.5 862.5,80.6 864,80 865.5,79.6 867,79.5 868.5,79.6 870,80 871.5,80.6 873,81.5 874.5,82.5 876,83.9 877.5,85.4 879,87.2 880.5,89.1 882,91.3 883.5,93.6 885,96.2 886.5,98.9 888,101.7 889.5,104.7 891,107.8 892.5,111 894,114.2 895.5,117.6 897,121 898.5,124.5 900,127.9 901.5,131.4 903,134.8 904.5,138.3 906,141.6 907.5,145 909,148.2 910.5,151.3 912,154.3 913.5,157.2 915,159.9 916.5,162.5 918,164.9 919.5,167.2 921,169.2 922.5,171 924,172.6 925.5,174 927,175.2 928.5,176.1 930,176.8 931.5,177.3 933,177.5 934.5,177.4 936,177.2 937.5,176.6 939,175.9 940.5,174.8 942,173.6 943.5,172.1 945,170.4 946.5,168.5 948,166.4 949.5,164.2 951,161.7 952.5,159.1 954,156.3 955.5,153.3 957,150.3 958.5,147.1 960,143.9 961.5,140.5 963,137.1 964.5,133.7 966,130.2 967.5,126.8 969,123.3 970.5,119.9 972,116.5 973.5,113.1 975,109.9 976.5,106.7 978,103.7 979.5,100.7 981,97.9 982.5,95.3 984,92.8 985.5,90.6 987,88.5 988.5,86.6 990,84.9 991.5,83.4 993,82.2 994.5,81.1 996,80.4 997.5,79.8 999,79.6 1000.5,79.5 1002,79.7 1003.5,80.2 1005,80.9 1006.5,81.8 1008,83 1009.5,84.4 1011,86 1012.5,87.8 1014,89.8 1015.5,92.1 1017,94.5 1018.5,97.1 1020,99.8 1021.5,102.7 1023,105.7 1024.5,108.8 1026,112 1027.5,115.4 1029,118.7 1030.5,122.2 1032,125.6 1033.5,129.1 1035,132.5 1036.5,136 1038,139.4 1039.5,142.8 1041,146 1042.5,149.2 1044,152.3 1045.5,155.3 1047,158.1 1048.5,160.8 1050,163.4 1051.5,165.7 1053,167.9 1054.5,169.8 1056,171.6 1057.5,173.1 1059,174.5 1060.5,175.5 1062,176.4 1063.5,177 1065,177.4 1066.5,177.5 1068,177.4 1069.5,177 1071,176.4 1072.5,175.5 1074,174.5 1075.5,173.1 1077,171.6 1078.5,169.8 1080,167.9 1081.5,165.7 1083,163.4 1084.5,160.8 1086,158.1 1087.5,155.3 1089,152.3 1090.5,149.2 1092,146 1093.5,142.8 1095,139.4 1096.5,136 1098,132.5 1099.5,129.1 1101,125.6 1102.5,122.2 1104,118.7 1105.5,115.4 1107,112 1108.5,108.8 1110,105.7 1111.5,102.7 1113,99.8 1114.5,97.1 1116,94.5 1117.5,92.1 1119,89.8 1120.5,87.8 1122,86 1123.5,84.4 1125,83 1126.5,81.8 1128,80.9 1129.5,80.2 1131,79.7 1132.5,79.5 1134,79.6 1135.5,79.8 1137,80.4 1138.5,81.1 1140,82.2 1141.5,83.4 1143,84.9 1144.5,86.6 1146,88.5 1147.5,90.6 1149,92.8 1150.5,95.3 1152,97.9 1153.5,100.7 1155,103.7 1156.5,106.7 1158,109.9 1159.5,113.1 1161,116.5 1162.5,119.9 1164,123.3 1165.5,126.8 1167,130.2 1168.5,133.7 1170,137.1 1171.5,140.5 1173,143.9 1174.5,147.1 1176,150.3 1177.5,153.3 1179,156.3 1180.5,159.1 1182,161.7 1183.5,164.2 1185,166.4 1186.5,168.5 1188,170.4 1189.5,172.1 1191,173.6 1192.5,174.8 1194,175.9 1195.5,176.6 1197,177.2 1198.5,177.4 1200,177.5 1201.5,177.3 1203,176.8 1204.5,176.1 1206,175.2 1207.5,174 1209,172.6 1210.5,171 1212,169.2 1213.5,167.2 1215,164.9 1216.5,162.5 1218,159.9 1219.5,157.2 1221,154.3 1222.5,151.3 1224,148.2 1225.5,145 1227,141.6 1228.5,138.3 1230,134.8 1231.5,131.4 1233,127.9 1234.5,124.5 1236,121 1237.5,117.6 1239,114.2 1240.5,111 1242,107.8 1243.5,104.7 1245,101.7 1246.5,98.9 1248,96.2 1249.5,93.6 1251,91.3 1252.5,89.1 1254,87.2 1255.5,85.4 1257,83.9 1258.5,82.5 1260,81.5 1261.5,80.6 1263,80 1264.5,79.6 1266,79.5 1267.5,79.6 1269,80 1270.5,80.6 1272,81.5 1273.5,82.5 1275,83.9 1276.5,85.4 1278,87.2 1279.5,89.1 1281,91.3 1282.5,93.6 1284,96.2 1285.5,98.9 1287,101.7 1288.5,104.7 1290,107.8 1291.5,111 1293,114.2 1294.5,117.6 1296,121 1297.5,124.5 1299,127.9 1300.5,131.4 1302,134.8 1303.5,138.3 1305,141.6 1306.5,145 1308,148.2 1309.5,151.3 1311,154.3 1312.5,157.2 1314,159.9 1315.5,162.5 1317,164.9 1318.5,167.2 1320,169.2 1321.5,171 1323,172.6 1324.5,174 1326,175.2 1327.5,176.1 1329,176.8 1330.5,177.3 1332,177.5 1333.5,177.4 1335,177.2 1336.5,176.6 1338,175.9 1339.5,174.8 1341,173.6 1342.5,172.1 1344,170.4 1345.5,168.5 1347,166.4 1348.5,164.2 1350,161.7 1351.5,159.1 1353,156.3 1354.5,153.3 1356,150.3 1357.5,147.1 1359,143.9 1360.5,140.5 1362,137.1 1363.5,133.7 1365,130.2 1366.5,126.8 1368,123.3 1369.5,119.9 1371,116.5 1372.5,113.1 1374,109.9 1375.5,106.7 1377,103.7 1378.5,100.7 1380,97.9 1381.5,95.3 1383,92.8 1384.5,90.6 1386,88.5 1387.5,86.6 1389,84.9 1390.5,83.4 1392,82.2 1393.5,81.1 1395,80.4 1396.5,79.8 1398,79.6 1399.5,79.5 1401,79.7 1402.5,80.2 1404,80.9 1405.5,81.8 1407,83" fill="none" stroke="#20b4b4" stroke-width="2.5" stroke-linejoin="round" />
<path d="M81,114.5 82.5,115.2 84,116 85.5,116.9 87,117.8 88.5,118.7 90,119.7 91.5,120.8 93,121.9 94.5,123 96,124.2 97.5,125.4 99,126.6 100.5,127.9 102,129.1 103.5,130.3 105,131.6 106.5,132.8 108,134 109.5,135.2 111,136.3 112.5,137.4 114,138.5 115.5,139.6 117,140.5 118.5,141.5 120,142.3 121.5,143.1 123,143.8 124.5,144.5 126,145.1 127.5,145.6 129,146 130.5,146.3 132,146.6 133.5,146.7 135,146.8 136.5,146.8 138,146.7 139.5,146.5 141,146.2 142.5,145.9 144,145.4 145.5,144.9 147,144.3 148.5,143.6 150,142.9 151.5,142 153,141.2 154.5,140.2 156,139.2 157.5,138.2 159,137.1 160.5,135.9 162,134.8 163.5,133.6 165,132.4 166.5,131.2 168,129.9 169.5,128.7 171,127.4 172.5,126.2 174,125 175.5,123.8 177,122.7 178.5,121.5 180,120.4 181.5,119.4 183,118.4 184.5,117.4 186,116.6 187.5,115.7 189,115 190.5,114.3 192,113.7 193.5,113.2 195,112.7 196.5,112.4 198,112.1 199.5,111.9 201,111.8 202.5,111.8 204,111.9 205.5,112 207,112.3 208.5,112.6 210,113 211.5,113.5 213,114.1 214.5,114.8 216,115.5 217.5,116.3 219,117.1 220.5,118.1 222,119 223.5,120.1 225,121.2 226.5,122.3 228,123.4 229.5,124.6 231,125.8 232.5,127 234,128.3 235.5,129.5 237,130.7 238.5,132 240,133.2 241.5,134.4 243,135.6 244.5,136.7 246,137.8 247.5,138.9 249,139.9 250.5,140.8 252,141.7 253.5,142.6 255,143.4 256.5,144.1 258,144.7 259.5,145.2 261,145.7 262.5,146.1 264,146.4 265.5,146.6 267,146.8 268.5,146.8 270,146.8 271.5,146.6 273,146.4 274.5,146.1 276,145.7 277.5,145.2 279,144.7 280.5,144.1 282,143.4 283.5,142.6 285,141.7 286.5,140.8 288,139.9 289.5,138.9 291,137.8 292.5,136.7 294,135.6 295.5,134.4 297,133.2 298.5,132 300,130.7 301.5,129.5 303,128.3 304.5,127 306,125.8 307.5,124.6 309,123.4 310.5,122.3 312,121.2 313.5,120.1 315,119 316.5,118.1 318,117.1 319.5,116.3 321,115.5 322.5,114.8 324,114.1 325.5,113.5 327,113 328.5,112.6 330,112.3 331.5,112 333,111.9 334.5,111.8 336,111.8 337.5,111.9 339,112.1 340.5,112.4 342,112.7 343.5,113.2 345,113.7 346.5,114.3 348,115 349.5,115.7 351,116.6 352.5,117.4 354,118.4 355.5,119.4 357,120.4 358.5,121.5 360,122.7 361.5,123.8 363,125 364.5,126.2 366,127.4 367.5,128.7 369,129.9 370.5,131.2 372,132.4 373.5,133.6 375,134.8 376.5,135.9 378,137.1 379.5,138.2 381,139.2 382.5,140.2 384,141.2 385.5,142 387,142.9 388.5,143.6 390,144.3 391.5,144.9 393,145.4 394.5,145.9 396,146.2 397.5,146.5 399,146.7 400.5,146.8 402,146.8 403.5,146.7 405,146.6 406.5,146.3 408,146 409.5,145.6 411,145.1 412.5,144.5 414,143.8 415.5,143.1 417,142.3 418.5,141.5 420,140.5 421.5,139.6 423,138.5 424.5,137.4 426,136.3 427.5,135.2 429,134 430.5,132.8 432,131.6 433.5,130.3 435,129.1 436.5,127.9 438,126.6 439.5,125.4 441,124.2 442.5,123 444,121.9 445.5,120.8 447,119.7 448.5,118.7 450,117.8 451.5,116.9 453,116 454.5,115.2 456,114.5 457.5,113.9 459,113.4 460.5,112.9 462,112.5 463.5,112.2 465,112 466.5,111.8 468,111.8 469.5,111.8 471,112 472.5,112.2 474,112.5 475.5,112.9 477,113.4 478.5,113.9 480,114.5 481.5,115.2 483,116 484.5,116.9 486,117.8 487.5,118.7 489,119.7 490.5,120.8 492,121.9 493.5,123 495,124.2 496.5,125.4 498,126.6 499.5,127.9 501,129.1 502.5,130.3 504,131.6 505.5,132.8 507,134 508.5,135.2 510,136.3 511.5,137.4 513,138.5 514.5,139.6 516,140.5 517.5,141.5 519,142.3 520.5,143.1 522,143.8 523.5,144.5 525,145.1 526.5,145.6 528,146 529.5,146.3 531,146.6 532.5,146.7 534,146.8 535.5,146.8 537,146.7 538.5,146.5 540,146.2 541.5,145.9 543,145.4 544.5,144.9 546,144.3 547.5,143.6 549,142.9 550.5,142 552,141.2 553.5,140.2 555,139.2 556.5,138.2 558,137.1 559.5,135.9 561,134.8 562.5,133.6 564,132.4 565.5,131.2 567,129.9 568.5,128.7 570,127.4 571.5,126.2 573,125 574.5,123.8 576,122.7 577.5,121.5 579,120.4 580.5,119.4 582,118.4 583.5,117.4 585,116.6 586.5,115.7 588,115 589.5,114.3 591,113.7 592.5,113.2 594,112.7 595.5,112.4 597,112.1 598.5,111.9 600,111.8 601.5,111.8 603,111.9 604.5,112 606,112.3 607.5,112.6 609,113 610.5,113.5 612,114.1 613.5,114.8 615,115.5 616.5,116.3 618,117.1 619.5,118.1 621,119 622.5,120.1 624,121.2 625.5,122.3 627,123.4 628.5,124.6 630,125.8 631.5,127 633,128.3 634.5,129.5 636,130.7 637.5,132 639,133.2 640.5,134.4 642,135.6 643.5,136.7 645,137.8 646.5,138.9 648,139.9 649.5,140.8 651,141.7 652.5,142.6 654,143.4 655.5,144.1 657,144.7 658.5,145.2 660,145.7 661.5,146.1 663,146.4 664.5,146.6 666,146.8 667.5,146.8 669,146.8 670.5,146.6 672,146.4 673.5,146.1 675,145.7 676.5,145.2 678,144.7 679.5,144.1 681,143.4 682.5,142.6 684,141.7 685.5,140.8 687,139.9 688.5,138.9 690,137.8 691.5,136.7 693,135.6 694.5,134.4 696,133.2 697.5,132 699,130.7 700.5,129.5 702,128.3 703.5,127 705,125.8 706.5,124.6 708,123.4 709.5,122.3 711,121.2 712.5,120.1 714,119 715.5,118.1 717,117.1 718.5,116.3 720,115.5 721.5,114.8 723,114.1 724.5,113.5 726,113 727.5,112.6 729,112.3 730.5,112 732,111.9 733.5,111.8 735,111.8 736.5,111.9 738,112.1 739.5,112.4 741,112.7 742.5,113.2 744,113.7 745.5,114.3 747,115 748.5,115.7 750,116.6 751.5,117.4 753,118.4 754.5,119.4 756,120.4 757.5,121.5 759,122.7 760.5,123.8 762,125 763.5,126.2 765,127.4 766.5,128.7 768,129.9 769.5,131.2 771,132.4 772.5,133.6 774,134.8 775.5,135.9 777,137.1 778.5,138.2 780,139.2 781.5,140.2 783,141.2 784.5,142 786,142.9 787.5,143.6 789,144.3 790.5,144.9 792,145.4 793.5,145.9 795,146.2 796.5,146.5 798,146.7 799.5,146.8 801,146.8 802.5,146.7 804,146.6 805.5,146.3 807,146 808.5,145.6 810,145.1 811.5,144.5 813,143.8 814.5,143.1 816,142.3 817.5,141.5 819,140.5 820.5,139.6 822,138.5 823.5,137.4 825,136.3 826.5,135.2 828,134 829.5,132.8 831,131.6 832.5,130.3 834,129.1 835.5,127.9 837,126.6 838.5,125.4 840,124.2 841.5,123 843,121.9 844.5,120.8 846,119.7 847.5,118.7 849,117.8 850.5,116.9 852,116 853.5,115.2 855,114.5 856.5,113.9 858,113.4 859.5,112.9 861,112.5 862.5,112.2 864,112 865.5,111.8 867,111.8 868.5,111.8 870,112 871.5,112.2 873,112.5 874.5,112.9 876,113.4 877.5,113.9 879,114.5 880.5,115.2 882,116 883.5,116.9 885,117.8 886.5,118.7 888,119.7 889.5,120.8 891,121.9 892.5,123 894,124.2 895.5,125.4 897,126.6 898.5,127.9 900,129.1 901.5,130.3 903,131.6 904.5,132.8 906,134 907.5,135.2 909,136.3 910.5,137.4 912,138.5 913.5,139.6 915,140.5 916.5,141.5 918,142.3 919.5,143.1 921,143.8 922.5,144.5 924,145.1 925.5,145.6 927,146 928.5,146.3 930,146.6 931.5,146.7 933,146.8 934.5,146.8 936,146.7 937.5,146.5 939,146.2 940.5,145.9 942,145.4 943.5,144.9 945,144.3 946.5,143.6 948,142.9 949.5,142 951,141.2 952.5,140.2 954,139.2 955.5,138.2 957,137.1 958.5,135.9 960,134.8 961.5,133.6 963,132.4 964.5,131.2 966,129.9 967.5,128.7 969,127.4 970.5,126.2 972,125 973.5,123.8 975,122.7 976.5,121.5 978,120.4 979.5,119.4 981,118.4 982.5,117.4 984,116.6 985.5,115.7 987,115 988.5,114.3 990,113.7 991.5,113.2 993,112.7 994.5,112.4 996,112.1 997.5,111.9 999,111.8 1000.5,111.8 1002,111.9 1003.5,112 1005,112.3 1006.5,112.6 1008,113 1009.5,113.5 1011,114.1 1012.5,114.8 1014,115.5 1015.5,116.3 1017,117.1 1018.5,118.1 1020,119 1021.5,120.1 1023,121.2 1024.5,122.3 1026,123.4 1027.5,124.6 1029,125.8 1030.5,127 1032,128.3 1033.5,129.5 1035,130.7 1036.5,132 1038,133.2 1039.5,134.4 1041,135.6 1042.5,136.7 1044,137.8 1045.5,138.9 1047,139.9 1048.5,140.8 1050,141.7 1051.5,142.6 1053,143.4 1054.5,144.1 1056,144.7 1057.5,145.2 1059,145.7 1060.5,146.1 1062,146.4 1063.5,146.6 1065,146.8 1066.5,146.8 1068,146.8 1069.5,146.6 1071,146.4 1072.5,146.1 1074,145.7 1075.5,145.2 1077,144.7 1078.5,144.1 1080,143.4 1081.5,142.6 1083,141.7 1084.5,140.8 1086,139.9 1087.5,138.9 1089,137.8 1090.5,136.7 1092,135.6 1093.5,134.4 1095,133.2 1096.5,132 1098,130.7 1099.5,129.5 1101,128.3 1102.5,127 1104,125.8 1105.5,124.6 1107,123.4 1108.5,122.3 1110,121.2 1111.5,120.1 1113,119 1114.5,118.1 1116,117.1 1117.5,116.3 1119,115.5 1120.5,114.8 1122,114.1 1123.5,113.5 1125,113 1126.5,112.6 1128,112.3 1129.5,112 1131,111.9 1132.5,111.8 1134,111.8 1135.5,111.9 1137,112.1 1138.5,112.4 1140,112.7 1141.5,113.2 1143,113.7 1144.5,114.3 1146,115 1147.5,115.7 1149,116.6 1150.5,117.4 1152,118.4 1153.5,119.4 1155,120.4 1156.5,121.5 1158,122.7 1159.5,123.8 1161,125 1162.5,126.2 1164,127.4 1165.5,128.7 1167,129.9 1168.5,131.2 1170,132.4 1171.5,133.6 1173,134.8 1174.5,135.9 1176,137.1 1177.5,138.2 1179,139.2 1180.5,140.2 1182,141.2 1183.5,142 1185,142.9 1186.5,143.6 1188,144.3 1189.5,144.9 1191,145.4 1192.5,145.9 1194,146.2 1195.5,146.5 1197,146.7 1198.5,146.8 1200,146.8 1201.5,146.7 1203,146.6 1204.5,146.3 1206,146 1207.5,145.6 1209,145.1 1210.5,144.5 1212,143.8 1213.5,143.1 1215,142.3 1216.5,141.5 1218,140.5 1219.5,139.6 1221,138.5 1222.5,137.4 1224,136.3 1225.5,135.2 1227,134 1228.5,132.8 1230,131.6 1231.5,130.3 1233,129.1 1234.5,127.9 1236,126.6 1237.5,125.4 1239,124.2 1240.5,123 1242,121.9 1243.5,120.8 1245,119.7 1246.5,118.7 1248,117.8 1249.5,116.9 1251,116 1252.5,115.2 1254,114.5 1255.5,113.9 1257,113.4 1258.5,112.9 1260,112.5 1261.5,112.2 1263,112 1264.5,111.8 1266,111.8 1267.5,111.8 1269,112 1270.5,112.2 1272,112.5 1273.5,112.9 1275,113.4 1276.5,113.9 1278,114.5 1279.5,115.2 1281,116 1282.5,116.9 1284,117.8 1285.5,118.7 1287,119.7 1288.5,120.8 1290,121.9 1291.5,123 1293,124.2 1294.5,125.4 1296,126.6 1297.5,127.9 1299,129.1 1300.5,130.3 1302,131.6 1303.5,132.8 1305,134 1306.5,135.2 1308,136.3 1309.5,137.4 1311,138.5 1312.5,139.6 1314,140.5 1315.5,141.5 1317,142.3 1318.5,143.1 1320,143.8 1321.5,144.5 1323,145.1 1324.5,145.6 1326,146 1327.5,146.3 1329,146.6 1330.5,146.7 1332,146.8 1333.5,146.8 1335,146.7 1336.5,146.5 1338,146.2 1339.5,145.9 1341,145.4 1342.5,144.9 1344,144.3 1345.5,143.6 1347,142.9 1348.5,142 1350,141.2 1351.5,140.2 1353,139.2 1354.5,138.2 1356,137.1 1357.5,135.9 1359,134.8 1360.5,133.6 1362,132.4 1363.5,131.2 1365,129.9 1366.5,128.7 1368,127.4 1369.5,126.2 1371,125 1372.5,123.8 1374,122.7 1375.5,121.5 1377,120.4 1378.5,119.4 1380,118.4 1381.5,117.4 1383,116.6 1384.5,115.7 1386,115 1387.5,114.3 1389,113.7 1390.5,113.2 1392,112.7 1393.5,112.4 1395,112.1 1396.5,111.9 1398,111.8 1399.5,111.8 1401,111.9 1402.5,112 1404,112.3 1405.5,112.6 1407,113" fill="none" stroke="#4a1050" stroke-width="9" stroke-linejoin="round" />
<path d="M81,114.5 82.5,115.2 84,116 85.5,116.9 87,117.8 88.5,118.7 90,119.7 91.5,120.8 93,121.9 94.5,123 96,124.2 97.5,125.4 99,126.6 100.5,127.9 102,129.1 103.5,130.3 105,131.6 106.5,132.8 108,134 109.5,135.2 111,136.3 112.5,137.4 114,138.5 115.5,139.6 117,140.5 118.5,141.5 120,142.3 121.5,143.1 123,143.8 124.5,144.5 126,145.1 127.5,145.6 129,146 130.5,146.3 132,146.6 133.5,146.7 135,146.8 136.5,146.8 138,146.7 139.5,146.5 141,146.2 142.5,145.9 144,145.4 145.5,144.9 147,144.3 148.5,143.6 150,142.9 151.5,142 153,141.2 154.5,140.2 156,139.2 157.5,138.2 159,137.1 160.5,135.9 162,134.8 163.5,133.6 165,132.4 166.5,131.2 168,129.9 169.5,128.7 171,127.4 172.5,126.2 174,125 175.5,123.8 177,122.7 178.5,121.5 180,120.4 181.5,119.4 183,118.4 184.5,117.4 186,116.6 187.5,115.7 189,115 190.5,114.3 192,113.7 193.5,113.2 195,112.7 196.5,112.4 198,112.1 199.5,111.9 201,111.8 202.5,111.8 204,111.9 205.5,112 207,112.3 208.5,112.6 210,113 211.5,113.5 213,114.1 214.5,114.8 216,115.5 217.5,116.3 219,117.1 220.5,118.1 222,119 223.5,120.1 225,121.2 226.5,122.3 228,123.4 229.5,124.6 231,125.8 232.5,127 234,128.3 235.5,129.5 237,130.7 238.5,132 240,133.2 241.5,134.4 243,135.6 244.5,136.7 246,137.8 247.5,138.9 249,139.9 250.5,140.8 252,141.7 253.5,142.6 255,143.4 256.5,144.1 258,144.7 259.5,145.2 261,145.7 262.5,146.1 264,146.4 265.5,146.6 267,146.8 268.5,146.8 270,146.8 271.5,146.6 273,146.4 274.5,146.1 276,145.7 277.5,145.2 279,144.7 280.5,144.1 282,143.4 283.5,142.6 285,141.7 286.5,140.8 288,139.9 289.5,138.9 291,137.8 292.5,136.7 294,135.6 295.5,134.4 297,133.2 298.5,132 300,130.7 301.5,129.5 303,128.3 304.5,127 306,125.8 307.5,124.6 309,123.4 310.5,122.3 312,121.2 313.5,120.1 315,119 316.5,118.1 318,117.1 319.5,116.3 321,115.5 322.5,114.8 324,114.1 325.5,113.5 327,113 328.5,112.6 330,112.3 331.5,112 333,111.9 334.5,111.8 336,111.8 337.5,111.9 339,112.1 340.5,112.4 342,112.7 343.5,113.2 345,113.7 346.5,114.3 348,115 349.5,115.7 351,116.6 352.5,117.4 354,118.4 355.5,119.4 357,120.4 358.5,121.5 360,122.7 361.5,123.8 363,125 364.5,126.2 366,127.4 367.5,128.7 369,129.9 370.5,131.2 372,132.4 373.5,133.6 375,134.8 376.5,135.9 378,137.1 379.5,138.2 381,139.2 382.5,140.2 384,141.2 385.5,142 387,142.9 388.5,143.6 390,144.3 391.5,144.9 393,145.4 394.5,145.9 396,146.2 397.5,146.5 399,146.7 400.5,146.8 402,146.8 403.5,146.7 405,146.6 406.5,146.3 408,146 409.5,145.6 411,145.1 412.5,144.5 414,143.8 415.5,143.1 417,142.3 418.5,141.5 420,140.5 421.5,139.6 423,138.5 424.5,137.4 426,136.3 427.5,135.2 429,134 430.5,132.8 432,131.6 433.5,130.3 435,129.1 436.5,127.9 438,126.6 439.5,125.4 441,124.2 442.5,123 444,121.9 445.5,120.8 447,119.7 448.5,118.7 450,117.8 451.5,116.9 453,116 454.5,115.2 456,114.5 457.5,113.9 459,113.4 460.5,112.9 462,112.5 463.5,112.2 465,112 466.5,111.8 468,111.8 469.5,111.8 471,112 472.5,112.2 474,112.5 475.5,112.9 477,113.4 478.5,113.9 480,114.5 481.5,115.2 483,116 484.5,116.9 486,117.8 487.5,118.7 489,119.7 490.5,120.8 492,121.9 493.5,123 495,124.2 496.5,125.4 498,126.6 499.5,127.9 501,129.1 502.5,130.3 504,131.6 505.5,132.8 507,134 508.5,135.2 510,136.3 511.5,137.4 513,138.5 514.5,139.6 516,140.5 517.5,141.5 519,142.3 520.5,143.1 522,143.8 523.5,144.5 525,145.1 526.5,145.6 528,146 529.5,146.3 531,146.6 532.5,146.7 534,146.8 535.5,146.8 537,146.7 538.5,146.5 540,146.2 541.5,145.9 543,145.4 544.5,144.9 546,144.3 547.5,143.6 549,142.9 550.5,142 552,141.2 553.5,140.2 555,139.2 556.5,138.2 558,137.1 559.5,135.9 561,134.8 562.5,133.6 564,132.4 565.5,131.2 567,129.9 568.5,128.7 570,127.4 571.5,126.2 573,125 574.5,123.8 576,122.7 577.5,121.5 579,120.4 580.5,119.4 582,118.4 583.5,117.4 585,116.6 586.5,115.7 588,115 589.5,114.3 591,113.7 592.5,113.2 594,112.7 595.5,112.4 597,112.1 598.5,111.9 600,111.8 601.5,111.8 603,111.9 604.5,112 606,112.3 607.5,112.6 609,113 610.5,113.5 612,114.1 613.5,114.8 615,115.5 616.5,116.3 618,117.1 619.5,118.1 621,119 622.5,120.1 624,121.2 625.5,122.3 627,123.4 628.5,124.6 630,125.8 631.5,127 633,128.3 634.5,129.5 636,130.7 637.5,132 639,133.2 640.5,134.4 642,135.6 643.5,136.7 645,137.8 646.5,138.9 648,139.9 649.5,140.8 651,141.7 652.5,142.6 654,143.4 655.5,144.1 657,144.7 658.5,145.2 660,145.7 661.5,146.1 663,146.4 664.5,146.6 666,146.8 667.5,146.8 669,146.8 670.5,146.6 672,146.4 673.5,146.1 675,145.7 676.5,145.2 678,144.7 679.5,144.1 681,143.4 682.5,142.6 684,141.7 685.5,140.8 687,139.9 688.5,138.9 690,137.8 691.5,136.7 693,135.6 694.5,134.4 696,133.2 697.5,132 699,130.7 700.5,129.5 702,128.3 703.5,127 705,125.8 706.5,124.6 708,123.4 709.5,122.3 711,121.2 712.5,120.1 714,119 715.5,118.1 717,117.1 718.5,116.3 720,115.5 721.5,114.8 723,114.1 724.5,113.5 726,113 727.5,112.6 729,112.3 730.5,112 732,111.9 733.5,111.8 735,111.8 736.5,111.9 738,112.1 739.5,112.4 741,112.7 742.5,113.2 744,113.7 745.5,114.3 747,115 748.5,115.7 750,116.6 751.5,117.4 753,118.4 754.5,119.4 756,120.4 757.5,121.5 759,122.7 760.5,123.8 762,125 763.5,126.2 765,127.4 766.5,128.7 768,129.9 769.5,131.2 771,132.4 772.5,133.6 774,134.8 775.5,135.9 777,137.1 778.5,138.2 780,139.2 781.5,140.2 783,141.2 784.5,142 786,142.9 787.5,143.6 789,144.3 790.5,144.9 792,145.4 793.5,145.9 795,146.2 796.5,146.5 798,146.7 799.5,146.8 801,146.8 802.5,146.7 804,146.6 805.5,146.3 807,146 808.5,145.6 810,145.1 811.5,144.5 813,143.8 814.5,143.1 816,142.3 817.5,141.5 819,140.5 820.5,139.6 822,138.5 823.5,137.4 825,136.3 826.5,135.2 828,134 829.5,132.8 831,131.6 832.5,130.3 834,129.1 835.5,127.9 837,126.6 838.5,125.4 840,124.2 841.5,123 843,121.9 844.5,120.8 846,119.7 847.5,118.7 849,117.8 850.5,116.9 852,116 853.5,115.2 855,114.5 856.5,113.9 858,113.4 859.5,112.9 861,112.5 862.5,112.2 864,112 865.5,111.8 867,111.8 868.5,111.8 870,112 871.5,112.2 873,112.5 874.5,112.9 876,113.4 877.5,113.9 879,114.5 880.5,115.2 882,116 883.5,116.9 885,117.8 886.5,118.7 888,119.7 889.5,120.8 891,121.9 892.5,123 894,124.2 895.5,125.4 897,126.6 898.5,127.9 900,129.1 901.5,130.3 903,131.6 904.5,132.8 906,134 907.5,135.2 909,136.3 910.5,137.4 912,138.5 913.5,139.6 915,140.5 916.5,141.5 918,142.3 919.5,143.1 921,143.8 922.5,144.5 924,145.1 925.5,145.6 927,146 928.5,146.3 930,146.6 931.5,146.7 933,146.8 934.5,146.8 936,146.7 937.5,146.5 939,146.2 940.5,145.9 942,145.4 943.5,144.9 945,144.3 946.5,143.6 948,142.9 949.5,142 951,141.2 952.5,140.2 954,139.2 955.5,138.2 957,137.1 958.5,135.9 960,134.8 961.5,133.6 963,132.4 964.5,131.2 966,129.9 967.5,128.7 969,127.4 970.5,126.2 972,125 973.5,123.8 975,122.7 976.5,121.5 978,120.4 979.5,119.4 981,118.4 982.5,117.4 984,116.6 985.5,115.7 987,115 988.5,114.3 990,113.7 991.5,113.2 993,112.7 994.5,112.4 996,112.1 997.5,111.9 999,111.8 1000.5,111.8 1002,111.9 1003.5,112 1005,112.3 1006.5,112.6 1008,113 1009.5,113.5 1011,114.1 1012.5,114.8 1014,115.5 1015.5,116.3 1017,117.1 1018.5,118.1 1020,119 1021.5,120.1 1023,121.2 1024.5,122.3 1026,123.4 1027.5,124.6 1029,125.8 1030.5,127 1032,128.3 1033.5,129.5 1035,130.7 1036.5,132 1038,133.2 1039.5,134.4 1041,135.6 1042.5,136.7 1044,137.8 1045.5,138.9 1047,139.9 1048.5,140.8 1050,141.7 1051.5,142.6 1053,143.4 1054.5,144.1 1056,144.7 1057.5,145.2 1059,145.7 1060.5,146.1 1062,146.4 1063.5,146.6 1065,146.8 1066.5,146.8 1068,146.8 1069.5,146.6 1071,146.4 1072.5,146.1 1074,145.7 1075.5,145.2 1077,144.7 1078.5,144.1 1080,143.4 1081.5,142.6 1083,141.7 1084.5,140.8 1086,139.9 1087.5,138.9 1089,137.8 1090.5,136.7 1092,135.6 1093.5,134.4 1095,133.2 1096.5,132 1098,130.7 1099.5,129.5 1101,128.3 1102.5,127 1104,125.8 1105.5,124.6 1107,123.4 1108.5,122.3 1110,121.2 1111.5,120.1 1113,119 1114.5,118.1 1116,117.1 1117.5,116.3 1119,115.5 1120.5,114.8 1122,114.1 1123.5,113.5 1125,113 1126.5,112.6 1128,112.3 1129.5,112 1131,111.9 1132.5,111.8 1134,111.8 1135.5,111.9 1137,112.1 1138.5,112.4 1140,112.7 1141.5,113.2 1143,113.7 1144.5,114.3 1146,115 1147.5,115.7 1149,116.6 1150.5,117.4 1152,118.4 1153.5,119.4 1155,120.4 1156.5,121.5 1158,122.7 1159.5,123.8 1161,125 1162.5,126.2 1164,127.4 1165.5,128.7 1167,129.9 1168.5,131.2 1170,132.4 1171.5,133.6 1173,134.8 1174.5,135.9 1176,137.1 1177.5,138.2 1179,139.2 1180.5,140.2 1182,141.2 1183.5,142 1185,142.9 1186.5,143.6 1188,144.3 1189.5,144.9 1191,145.4 1192.5,145.9 1194,146.2 1195.5,146.5 1197,146.7 1198.5,146.8 1200,146.8 1201.5,146.7 1203,146.6 1204.5,146.3 1206,146 1207.5,145.6 1209,145.1 1210.5,144.5 1212,143.8 1213.5,143.1 1215,142.3 1216.5,141.5 1218,140.5 1219.5,139.6 1221,138.5 1222.5,137.4 1224,136.3 1225.5,135.2 1227,134 1228.5,132.8 1230,131.6 1231.5,130.3 1233,129.1 1234.5,127.9 1236,126.6 1237.5,125.4 1239,124.2 1240.5,123 1242,121.9 1243.5,120.8 1245,119.7 1246.5,118.7 1248,117.8 1249.5,116.9 1251,116 1252.5,115.2 1254,114.5 1255.5,113.9 1257,113.4 1258.5,112.9 1260,112.5 1261.5,112.2 1263,112 1264.5,111.8 1266,111.8 1267.5,111.8 1269,112 1270.5,112.2 1272,112.5 1273.5,112.9 1275,113.4 1276.5,113.9 1278,114.5 1279.5,115.2 1281,116 1282.5,116.9 1284,117.8 1285.5,118.7 1287,119.7 1288.5,120.8 1290,121.9 1291.5,123 1293,124.2 1294.5,125.4 1296,126.6 1297.5,127.9 1299,129.1 1300.5,130.3 1302,131.6 1303.5,132.8 1305,134 1306.5,135.2 1308,136.3 1309.5,137.4 1311,138.5 1312.5,139.6 1314,140.5 1315.5,141.5 1317,142.3 1318.5,143.1 1320,143.8 1321.5,144.5 1323,145.1 1324.5,145.6 1326,146 1327.5,146.3 1329,146.6 1330.5,146.7 1332,146.8 1333.5,146.8 1335,146.7 1336.5,146.5 1338,146.2 1339.5,145.9 1341,145.4 1342.5,144.9 1344,144.3 1345.5,143.6 1347,142.9 1348.5,142 1350,141.2 1351.5,140.2 1353,139.2 1354.5,138.2 1356,137.1 1357.5,135.9 1359,134.8 1360.5,133.6 1362,132.4 1363.5,131.2 1365,129.9 1366.5,128.7 1368,127.4 1369.5,126.2 1371,125 1372.5,123.8 1374,122.7 1375.5,121.5 1377,120.4 1378.5,119.4 1380,118.4 1381.5,117.4 1383,116.6 1384.5,115.7 1386,115 1387.5,114.3 1389,113.7 1390.5,113.2 1392,112.7 1393.5,112.4 1395,112.1 1396.5,111.9 1398,111.8 1399.5,111.8 1401,111.9 1402.5,112 1404,112.3 1405.5,112.6 1407,113" fill="none" stroke="#8c0096" stroke-width="6.5" stroke-linejoin="round" />
<path d="M81,240.2 82.5,238.9 84,237.8 85.5,236.9 87,236 88.5,235.3 90,234.8 91.5,234.4 93,234.1 94.5,234 96,234 97.5,233.9 99,233.8 100.5,233.7 102,233.6 103.5,233.7 105,233.9 106.5,234.4 108,235.3 109.5,236.6 111,238.3 112.5,240.5 114,243.2 115.5,246.3 117,249.7 118.5,253.3 120,257.1 121.5,261 123,264.8 124.5,268.8 126,272.8 127.5,276.9 129,281.2 130.5,285.6 132,290.3 133.5,295.1 135,300.2 136.5,305.6 138,311.1 139.5,317 141,323.1 142.5,329.7 144,336.7 145.5,344.2 147,351.9 148.5,359.8 150,367.7 151.5,375.4 153,382.9 154.5,390.2 156,397.4 157.5,404.4 159,411.6 160.5,418.8 162,426.1 163.5,433.4 165,440.8 166.5,448.3 168,455.7 169.5,463 171,470.3 172.5,477.4 174,484.3 175.5,491.1 177,497.7 178.5,504 180,510.1 181.5,516 183,521.7 184.5,527.1 186,532.4 187.5,537.4 189,542.3 190.5,546.9 192,551.3 193.5,555.5 195,559.6 196.5,563.4 198,567 199.5,570.5 201,573.8 202.5,576.9 204,579.8 205.5,582.6 207,585.2 208.5,587.6 210,589.9 211.5,592 213,593.9 214.5,595.7 216,597.3 217.5,598.8 219,600.2 220.5,601.3 222,602.3 223.5,603.2 225,603.8 226.5,604.3 228,604.6 229.5,604.7 231,604.5 232.5,604.2 234,603.6 235.5,602.8 237,601.7 238.5,600.4 240,598.9 241.5,597 243,595 244.5,592.7 246,590.1 247.5,587.2 249,584.2 250.5,580.9 252,577.3 253.5,573.6 255,569.6 256.5,565.4 258,561 259.5,556.5 261,551.7 262.5,546.7 264,541.6 265.5,536.2 267,530.7 268.5,524.9 270,518.9 271.5,512.7 273,506.2 274.5,499.5 276,492.6 277.5,485.4 279,478.1 280.5,470.7 282,463.2 283.5,455.8 285,448.5 286.5,441.2 288,433.8 289.5,426.4 291,419 292.5,411.5 294,404.2 295.5,397.1 297,390.3 298.5,383.7 300,377.3 301.5,371 303,364.6 304.5,358.2 306,351.7 307.5,345.1 309,338.5 310.5,331.8 312,325.3 313.5,318.9 315,312.7 316.5,306.8 318,301.2 319.5,295.9 321,290.9 322.5,286.3 324,281.9 325.5,277.7 327,273.7 328.5,269.9 330,266.3 331.5,262.8 333,259.6 334.5,256.5 336,253.7 337.5,251.1 339,248.7 340.5,246.5 342,244.5 343.5,242.8 345,241.2 346.5,239.8 348,238.6 349.5,237.5 351,236.6 352.5,235.8 354,235.2 355.5,234.7 357,234.3 358.5,234.1 360,234 361.5,234 363,233.9 364.5,233.8 366,233.7 367.5,233.6 369,233.7 370.5,234 372,234.6 373.5,235.6 375,237 376.5,238.9 378,241.2 379.5,244 381,247.2 382.5,250.7 384,254.3 385.5,258.1 387,262 388.5,265.9 390,269.8 391.5,273.9 393,278 394.5,282.3 396,286.8 397.5,291.6 399,296.5 400.5,301.6 402,307 403.5,312.7 405,318.6 406.5,324.9 408,331.5 409.5,338.7 411,346.2 412.5,354 414,361.9 415.5,369.8 417,377.5 418.5,384.9 420,392.1 421.5,399.2 423,406.3 424.5,413.5 426,420.7 427.5,428 429,435.4 430.5,442.8 432,450.3 433.5,457.6 435,465 436.5,472.2 438,479.3 439.5,486.2 441,492.9 442.5,499.4 444,505.7 445.5,511.7 447,517.5 448.5,523.2 450,528.6 451.5,533.8 453,538.7 454.5,543.5 456,548.1 457.5,552.4 459,556.6 460.5,560.6 462,564.4 463.5,568 465,571.4 466.5,574.6 468,577.7 469.5,580.6 471,583.3 472.5,585.8 474,588.2 475.5,590.4 477,592.5 478.5,594.4 480,596.2 481.5,597.8 483,599.2 484.5,600.5 486,601.6 487.5,602.6 489,603.4 490.5,604 492,604.4 493.5,604.6 495,604.6 496.5,604.4 498,604 499.5,603.4 501,602.5 502.5,601.4 504,600 505.5,598.4 507,596.5 508.5,594.4 510,592 511.5,589.3 513,586.5 514.5,583.3 516,580 517.5,576.4 519,572.5 520.5,568.5 522,564.3 523.5,559.8 525,555.2 526.5,550.4 528,545.4 529.5,540.1 531,534.7 532.5,529.1 534,523.3 535.5,517.3 537,511 538.5,504.5 540,497.7 541.5,490.7 543,483.5 544.5,476.1 546,468.7 547.5,461.2 549,453.9 550.5,446.5 552,439.2 553.5,431.9 555,424.5 556.5,417 558,409.6 559.5,402.3 561,395.3 562.5,388.5 564,382 565.5,375.6 567,369.3 568.5,362.9 570,356.5 571.5,349.9 573,343.3 574.5,336.7 576,330.1 577.5,323.6 579,317.2 580.5,311.1 582,305.3 583.5,299.7 585,294.5 586.5,289.7 588,285.1 589.5,280.8 591,276.6 592.5,272.7 594,268.9 595.5,265.3 597,261.9 598.5,258.7 600,255.7 601.5,253 603,250.4 604.5,248.1 606,246 607.5,244.1 609,242.4 610.5,240.8 612,239.5 613.5,238.3 615,237.3 616.5,236.4 618,235.7 619.5,235 621,234.6 622.5,234.2 624,234 625.5,234 627,234 628.5,233.9 630,233.8 631.5,233.7 633,233.6 634.5,233.7 636,234.1 637.5,234.8 639,235.9 640.5,237.4 642,239.4 643.5,241.9 645,244.8 646.5,248.1 648,251.6 649.5,255.3 651,259.2 652.5,263 654,266.9 655.5,270.9 657,275 658.5,279.2 660,283.5 661.5,288.1 663,292.8 664.5,297.8 666,303 667.5,308.5 669,314.2 670.5,320.2 672,326.6 673.5,333.4 675,340.6 676.5,348.3 678,356.1 679.5,364 681,371.9 682.5,379.5 684,386.8 685.5,394 687,401.1 688.5,408.2 690,415.4 691.5,422.7 693,430 694.5,437.4 696,444.8 697.5,452.2 699,459.6 700.5,466.9 702,474.1 703.5,481.1 705,488 706.5,494.6 708,501.1 709.5,507.3 711,513.3 712.5,519.1 714,524.6 715.5,530 717,535.1 718.5,540 720,544.7 721.5,549.3 723,553.6 724.5,557.7 726,561.6 727.5,565.4 729,568.9 730.5,572.3 732,575.5 733.5,578.5 735,581.3 736.5,584 738,586.5 739.5,588.8 741,591 742.5,593 744,594.9 745.5,596.6 747,598.2 748.5,599.6 750,600.8 751.5,601.9 753,602.8 754.5,603.6 756,604.1 757.5,604.5 759,604.6 760.5,604.6 762,604.4 763.5,603.9 765,603.2 766.5,602.2 768,601.1 769.5,599.6 771,597.9 772.5,596 774,593.8 775.5,591.3 777,588.6 778.5,585.6 780,582.4 781.5,579 783,575.4 784.5,571.5 786,567.4 787.5,563.1 789,558.6 790.5,553.9 792,549.1 793.5,544 795,538.7 796.5,533.3 798,527.6 799.5,521.7 801,515.6 802.5,509.3 804,502.7 805.5,495.9 807,488.8 808.5,481.5 810,474.1 811.5,466.7 813,459.3 814.5,451.9 816,444.6 817.5,437.3 819,429.9 820.5,422.5 822,415 823.5,407.6 825,400.4 826.5,393.4 828,386.8 829.5,380.3 831,373.9 832.5,367.6 834,361.2 835.5,354.8 837,348.2 838.5,341.6 840,334.9 841.5,328.3 843,321.9 844.5,315.6 846,309.5 847.5,303.7 849,298.3 850.5,293.2 852,288.4 853.5,283.9 855,279.6 856.5,275.6 858,271.7 859.5,267.9 861,264.4 862.5,261.1 864,257.9 865.5,255 867,252.3 868.5,249.8 870,247.5 871.5,245.4 873,243.6 874.5,241.9 876,240.5 877.5,239.2 879,238 880.5,237 882,236.2 883.5,235.5 885,234.9 886.5,234.4 888,234.2 889.5,234 891,234 892.5,233.9 894,233.9 895.5,233.8 897,233.6 898.5,233.6 900,233.8 901.5,234.3 903,235.1 904.5,236.3 906,237.9 907.5,240.1 909,242.6 910.5,245.6 912,249 913.5,252.6 915,256.3 916.5,260.2 918,264.1 919.5,268 921,272 922.5,276.1 924,280.3 925.5,284.7 927,289.3 928.5,294.2 930,299.2 931.5,304.5 933,310 934.5,315.8 936,321.9 937.5,328.4 939,335.3 940.5,342.6 942,350.3 943.5,358.2 945,366.1 946.5,373.9 948,381.4 949.5,388.8 951,395.9 952.5,403 954,410.1 955.5,417.3 957,424.6 958.5,432 960,439.4 961.5,446.8 963,454.2 964.5,461.6 966,468.8 967.5,476 969,483 970.5,489.8 972,496.4 973.5,502.7 975,508.9 976.5,514.8 978,520.6 979.5,526.1 981,531.4 982.5,536.4 984,541.3 985.5,546 987,550.4 988.5,554.7 990,558.8 991.5,562.6 993,566.3 994.5,569.8 996,573.2 997.5,576.3 999,579.3 1000.5,582.1 1002,584.7 1003.5,587.1 1005,589.4 1006.5,591.6 1008,593.5 1009.5,595.4 1011,597 1012.5,598.5 1014,599.9 1015.5,601.1 1017,602.2 1018.5,603 1020,603.7 1021.5,604.2 1023,604.5 1024.5,604.7 1026,604.6 1027.5,604.3 1029,603.7 1030.5,603 1032,601.9 1033.5,600.7 1035,599.2 1036.5,597.4 1038,595.4 1039.5,593.1 1041,590.6 1042.5,587.8 1044,584.8 1045.5,581.6 1047,578.1 1048.5,574.4 1050,570.4 1051.5,566.3 1053,561.9 1054.5,557.4 1056,552.7 1057.5,547.7 1059,542.6 1060.5,537.3 1062,531.8 1063.5,526.1 1065,520.1 1066.5,514 1068,507.6 1069.5,500.9 1071,494 1072.5,486.9 1074,479.6 1075.5,472.2 1077,464.7 1078.5,457.3 1080,449.9 1081.5,442.6 1083,435.3 1084.5,427.9 1086,420.5 1087.5,413 1089,405.7 1090.5,398.5 1092,391.6 1093.5,385 1095,378.6 1096.5,372.3 1098,365.9 1099.5,359.5 1101,353 1102.5,346.4 1104,339.8 1105.5,333.2 1107,326.6 1108.5,320.2 1110,313.9 1111.5,307.9 1113,302.3 1114.5,296.9 1116,291.9 1117.5,287.2 1119,282.8 1120.5,278.5 1122,274.5 1123.5,270.7 1125,267 1126.5,263.5 1128,260.2 1129.5,257.1 1131,254.2 1132.5,251.6 1134,249.1 1135.5,246.9 1137,244.9 1138.5,243.1 1140,241.5 1141.5,240.1 1143,238.8 1144.5,237.7 1146,236.8 1147.5,236 1149,235.3 1150.5,234.8 1152,234.4 1153.5,234.1 1155,234 1156.5,234 1158,233.9 1159.5,233.8 1161,233.7 1162.5,233.6 1164,233.7 1165.5,233.9 1167,234.4 1168.5,235.4 1170,236.7 1171.5,238.4 1173,240.7 1174.5,243.4 1176,246.5 1177.5,249.9 1179,253.6 1180.5,257.4 1182,261.2 1183.5,265.1 1185,269 1186.5,273.1 1188,277.2 1189.5,281.5 1191,285.9 1192.5,290.6 1194,295.5 1195.5,300.6 1197,305.9 1198.5,311.5 1200,317.4 1201.5,323.6 1203,330.2 1204.5,337.2 1206,344.7 1207.5,352.4 1209,360.4 1210.5,368.2 1212,375.9 1213.5,383.4 1215,390.7 1216.5,397.8 1218,404.9 1219.5,412.1 1221,419.3 1222.5,426.6 1224,433.9 1225.5,441.3 1227,448.8 1228.5,456.2 1230,463.5 1231.5,470.7 1233,477.9 1234.5,484.8 1236,491.5 1237.5,498.1 1239,504.4 1240.5,510.5 1242,516.4 1243.5,522.1 1245,527.5 1246.5,532.7 1248,537.8 1249.5,542.6 1251,547.2 1252.5,551.6 1254,555.8 1255.5,559.8 1257,563.6 1258.5,567.3 1260,570.7 1261.5,574 1263,577.1 1264.5,580 1266,582.8 1267.5,585.3 1269,587.8 1270.5,590 1272,592.1 1273.5,594 1275,595.8 1276.5,597.4 1278,598.9 1279.5,600.2 1281,601.4 1282.5,602.4 1284,603.2 1285.5,603.9 1287,604.3 1288.5,604.6 1290,604.7 1291.5,604.5 1293,604.1 1294.5,603.5 1296,602.7 1297.5,601.6 1299,600.3 1300.5,598.7 1302,596.9 1303.5,594.8 1305,592.5 1306.5,589.9 1308,587.1 1309.5,584 1311,580.6 1312.5,577.1 1314,573.3 1315.5,569.3 1317,565.1 1318.5,560.7 1320,556.1 1321.5,551.4 1323,546.4 1324.5,541.2 1326,535.8 1327.5,530.3 1329,524.5 1330.5,518.5 1332,512.3 1333.5,505.8 1335,499.1 1336.5,492.1 1338,484.9 1339.5,477.6 1341,470.2 1342.5,462.7 1344,455.3 1345.5,448 1347,440.7 1348.5,433.4 1350,425.9 1351.5,418.5 1353,411.1 1354.5,403.7 1356,396.7 1357.5,389.9 1359,383.3 1360.5,376.9 1362,370.6 1363.5,364.2 1365,357.8 1366.5,351.3 1368,344.7 1369.5,338 1371,331.4 1372.5,324.9 1374,318.5 1375.5,312.3 1377,306.4 1378.5,300.8 1380,295.5 1381.5,290.6 1383,286 1384.5,281.6 1386,277.4 1387.5,273.5 1389,269.7 1390.5,266 1392,262.6 1393.5,259.3 1395,256.3 1396.5,253.5 1398,250.9 1399.5,248.5 1401,246.4 1402.5,244.4 1404,242.7 1405.5,241.1 1407,239.7 1407,273.6 1405.5,274.9 1404,276.5 1402.5,278.2 1401,280 1399.5,282.1 1398,284.4 1396.5,287 1395,289.7 1393.5,292.7 1392,295.8 1390.5,299.2 1389,302.7 1387.5,306.4 1386,310.3 1384.5,314.3 1383,318.6 1381.5,323.1 1380,327.9 1378.5,333 1377,338.4 1375.5,344.2 1374,350.2 1372.5,356.4 1371,362.8 1369.5,369.2 1368,375.7 1366.5,382.1 1365,388.4 1363.5,394.7 1362,400.9 1360.5,407 1359,413.2 1357.5,419.6 1356,426.2 1354.5,433.1 1353,440.2 1351.5,447.5 1350,454.7 1348.5,461.9 1347,469.1 1345.5,476.2 1344,483.3 1342.5,490.5 1341,497.7 1339.5,505 1338,512.1 1336.5,519.1 1335,525.9 1333.5,532.4 1332,538.7 1330.5,544.8 1329,550.6 1327.5,556.2 1326,561.6 1324.5,566.8 1323,571.9 1321.5,576.7 1320,581.4 1318.5,585.9 1317,590.1 1315.5,594.2 1314,598.1 1312.5,601.8 1311,605.2 1309.5,608.4 1308,611.4 1306.5,614.2 1305,616.7 1303.5,619 1302,621 1300.5,622.8 1299,624.4 1297.5,625.6 1296,626.7 1294.5,627.5 1293,628.1 1291.5,628.4 1290,628.6 1288.5,628.5 1287,628.3 1285.5,627.8 1284,627.2 1282.5,626.4 1281,625.4 1279.5,624.3 1278,623 1276.5,621.6 1275,620 1273.5,618.2 1272,616.4 1270.5,614.3 1269,612.1 1267.5,609.8 1266,607.3 1264.5,604.6 1263,601.8 1261.5,598.8 1260,595.6 1258.5,592.2 1257,588.7 1255.5,585 1254,581 1252.5,577 1251,572.7 1249.5,568.2 1248,563.5 1246.5,558.6 1245,553.5 1243.5,548.2 1242,542.7 1240.5,537 1239,531.1 1237.5,524.9 1236,518.5 1234.5,512 1233,505.2 1231.5,498.3 1230,491.3 1228.5,484.1 1227,476.9 1225.5,469.7 1224,462.5 1222.5,455.3 1221,448.2 1219.5,441.2 1218,434.3 1216.5,427.4 1215,420.4 1213.5,413.4 1212,406.1 1210.5,398.6 1209,390.9 1207.5,383.2 1206,375.7 1204.5,368.4 1203,361.6 1201.5,355.2 1200,349.1 1198.5,343.4 1197,338 1195.5,332.8 1194,327.8 1192.5,323.1 1191,318.5 1189.5,314.2 1188,310 1186.5,306 1185,302.1 1183.5,298.3 1182,294.5 1180.5,290.7 1179,287.1 1177.5,283.5 1176,280.2 1174.5,277.2 1173,274.5 1171.5,272.3 1170,270.6 1168.5,269.3 1167,268.4 1165.5,267.9 1164,267.7 1162.5,267.7 1161,267.7 1159.5,267.9 1158,267.9 1156.5,268 1155,268 1153.5,268.1 1152,268.4 1150.5,268.8 1149,269.3 1147.5,269.9 1146,270.7 1144.5,271.7 1143,272.7 1141.5,273.9 1140,275.3 1138.5,276.9 1137,278.6 1135.5,280.6 1134,282.7 1132.5,285.1 1131,287.7 1129.5,290.5 1128,293.5 1126.5,296.7 1125,300.1 1123.5,303.7 1122,307.4 1120.5,311.3 1119,315.4 1117.5,319.8 1116,324.3 1114.5,329.2 1113,334.4 1111.5,339.9 1110,345.8 1108.5,351.8 1107,358.1 1105.5,364.5 1104,370.9 1102.5,377.4 1101,383.8 1099.5,390.1 1098,396.3 1096.5,402.5 1095,408.7 1093.5,414.9 1092,421.4 1090.5,428.1 1089,435 1087.5,442.2 1086,449.4 1084.5,456.7 1083,463.8 1081.5,471 1080,478.1 1078.5,485.2 1077,492.4 1075.5,499.7 1074,506.9 1072.5,514 1071,520.9 1069.5,527.6 1068,534.1 1066.5,540.3 1065,546.3 1063.5,552.1 1062,557.7 1060.5,563 1059,568.2 1057.5,573.2 1056,578 1054.5,582.6 1053,587 1051.5,591.2 1050,595.3 1048.5,599.1 1047,602.7 1045.5,606.1 1044,609.3 1042.5,612.2 1041,614.9 1039.5,617.4 1038,619.6 1036.5,621.5 1035,623.3 1033.5,624.7 1032,625.9 1030.5,626.9 1029,627.7 1027.5,628.2 1026,628.5 1024.5,628.6 1023,628.5 1021.5,628.2 1020,627.7 1018.5,627 1017,626.1 1015.5,625.1 1014,624 1012.5,622.6 1011,621.2 1009.5,619.5 1008,617.8 1006.5,615.8 1005,613.8 1003.5,611.5 1002,609.1 1000.5,606.6 999,603.9 997.5,601 996,597.9 994.5,594.7 993,591.3 991.5,587.7 990,583.9 988.5,580 987,575.8 985.5,571.5 984,566.9 982.5,562.2 981,557.3 979.5,552.1 978,546.8 976.5,541.2 975,535.4 973.5,529.4 972,523.2 970.5,516.8 969,510.2 967.5,503.4 966,496.4 964.5,489.4 963,482.2 961.5,475 960,467.8 958.5,460.6 957,453.4 955.5,446.4 954,439.4 952.5,432.4 951,425.5 949.5,418.6 948,411.4 946.5,404.1 945,396.6 943.5,388.9 942,381.2 940.5,373.7 939,366.5 937.5,359.8 936,353.5 934.5,347.6 933,341.9 931.5,336.6 930,331.4 928.5,326.5 927,321.8 925.5,317.4 924,313.1 922.5,308.9 921,305 919.5,301.1 918,297.3 916.5,293.5 915,289.7 913.5,286.1 912,282.6 910.5,279.3 909,276.4 907.5,273.9 906,271.8 904.5,270.2 903,269.1 901.5,268.3 900,267.8 898.5,267.7 897,267.7 895.5,267.8 894,267.9 892.5,268 891,268 889.5,268 888,268.2 886.5,268.5 885,268.9 883.5,269.5 882,270.1 880.5,271 879,271.9 877.5,273 876,274.3 874.5,275.7 873,277.3 871.5,279.1 870,281.1 868.5,283.3 867,285.8 865.5,288.4 864,291.3 862.5,294.3 861,297.6 859.5,301 858,304.7 856.5,308.4 855,312.4 853.5,316.6 852,320.9 850.5,325.6 849,330.6 847.5,335.9 846,341.5 844.5,347.4 843,353.5 841.5,359.8 840,366.2 838.5,372.6 837,379.1 835.5,385.5 834,391.8 832.5,398 831,404.1 829.5,410.3 828,416.6 826.5,423.1 825,429.9 823.5,436.9 822,444.1 820.5,451.4 819,458.6 817.5,465.7 816,472.9 814.5,480 813,487.1 811.5,494.4 810,501.6 808.5,508.8 807,515.9 805.5,522.7 804,529.4 802.5,535.8 801,542 799.5,547.9 798,553.6 796.5,559.1 795,564.4 793.5,569.5 792,574.5 790.5,579.2 789,583.8 787.5,588.2 786,592.3 784.5,596.3 783,600.1 781.5,603.6 780,607 778.5,610.1 777,612.9 775.5,615.6 774,618 772.5,620.1 771,622 769.5,623.7 768,625.1 766.5,626.2 765,627.1 763.5,627.8 762,628.3 760.5,628.5 759,628.6 757.5,628.4 756,628 754.5,627.5 753,626.8 751.5,625.9 750,624.8 748.5,623.6 747,622.2 745.5,620.7 744,619.1 742.5,617.3 741,615.3 739.5,613.2 738,610.9 736.5,608.5 735,605.9 733.5,603.1 732,600.2 730.5,597.1 729,593.8 727.5,590.4 726,586.7 724.5,582.9 723,578.9 721.5,574.7 720,570.3 718.5,565.7 717,560.9 715.5,555.9 714,550.7 712.5,545.3 711,539.7 709.5,533.9 708,527.8 706.5,521.5 705,515.1 703.5,508.4 702,501.6 700.5,494.6 699,487.5 697.5,480.3 696,473.1 694.5,465.9 693,458.7 691.5,451.5 690,444.5 688.5,437.5 687,430.6 685.5,423.7 684,416.7 682.5,409.5 681,402.1 679.5,394.5 678,386.8 676.5,379.2 675,371.7 673.5,364.7 672,358.1 670.5,351.9 669,346 667.5,340.5 666,335.2 664.5,330.1 663,325.3 661.5,320.6 660,316.2 658.5,312 657,307.9 655.5,303.9 654,300 652.5,296.2 651,292.5 649.5,288.8 648,285.1 646.5,281.7 645,278.5 643.5,275.7 642,273.3 640.5,271.4 639,269.9 637.5,268.8 636,268.1 634.5,267.8 633,267.6 631.5,267.7 630,267.8 628.5,267.9 627,268 625.5,268 624,268.1 622.5,268.2 621,268.6 619.5,269 618,269.6 616.5,270.4 615,271.2 613.5,272.2 612,273.4 610.5,274.7 609,276.1 607.5,277.8 606,279.6 604.5,281.7 603,284 601.5,286.5 600,289.2 598.5,292.1 597,295.2 595.5,298.5 594,302 592.5,305.7 591,309.5 589.5,313.5 588,317.7 586.5,322.2 585,326.9 583.5,331.9 582,337.3 580.5,343 579,349 577.5,355.2 576,361.5 574.5,367.9 573,374.4 571.5,380.8 570,387.2 568.5,393.4 567,399.6 565.5,405.8 564,412 562.5,418.3 561,424.9 559.5,431.7 558,438.8 556.5,446 555,453.3 553.5,460.5 552,467.6 550.5,474.8 549,481.9 547.5,489.1 546,496.3 544.5,503.5 543,510.7 541.5,517.7 540,524.5 538.5,531.1 537,537.5 535.5,543.6 534,549.5 532.5,555.1 531,560.6 529.5,565.8 528,570.9 526.5,575.8 525,580.5 523.5,585 522,589.3 520.5,593.4 519,597.3 517.5,601 516,604.5 514.5,607.8 513,610.9 511.5,613.7 510,616.2 508.5,618.6 507,620.7 505.5,622.5 504,624.1 502.5,625.4 501,626.5 499.5,627.3 498,628 496.5,628.4 495,628.6 493.5,628.5 492,628.3 490.5,627.9 489,627.3 487.5,626.6 486,625.6 484.5,624.5 483,623.3 481.5,621.9 480,620.3 478.5,618.6 477,616.7 475.5,614.7 474,612.6 472.5,610.3 471,607.8 469.5,605.2 468,602.3 466.5,599.4 465,596.2 463.5,592.9 462,589.4 460.5,585.7 459,581.8 457.5,577.8 456,573.5 454.5,569.1 453,564.4 451.5,559.6 450,554.6 448.5,549.3 447,543.8 445.5,538.2 444,532.3 442.5,526.2 441,519.8 439.5,513.3 438,506.6 436.5,499.7 435,492.7 433.5,485.6 432,478.4 430.5,471.2 429,463.9 427.5,456.8 426,449.6 424.5,442.6 423,435.7 421.5,428.8 420,421.8 418.5,414.8 417,407.6 415.5,400.1 414,392.5 412.5,384.8 411,377.2 409.5,369.8 408,362.9 406.5,356.4 405,350.3 403.5,344.5 402,339 400.5,333.8 399,328.8 397.5,324 396,319.4 394.5,315 393,310.9 391.5,306.8 390,302.9 388.5,299 387,295.2 385.5,291.5 384,287.8 382.5,284.2 381,280.8 379.5,277.7 378,275 376.5,272.8 375,270.9 373.5,269.5 372,268.6 370.5,268 369,267.7 367.5,267.6 366,267.7 364.5,267.8 363,267.9 361.5,268 360,268 358.5,268.1 357,268.3 355.5,268.7 354,269.2 352.5,269.8 351,270.6 349.5,271.5 348,272.5 346.5,273.7 345,275 343.5,276.6 342,278.3 340.5,280.2 339,282.3 337.5,284.6 336,287.2 334.5,289.9 333,292.9 331.5,296 330,299.4 328.5,302.9 327,306.7 325.5,310.5 324,314.6 322.5,318.9 321,323.4 319.5,328.2 318,333.3 316.5,338.8 315,344.6 313.5,350.6 312,356.8 310.5,363.2 309,369.6 307.5,376.1 306,382.5 304.5,388.9 303,395.1 301.5,401.3 300,407.4 298.5,413.7 297,420.1 295.5,426.7 294,433.6 292.5,440.7 291,448 289.5,455.2 288,462.4 286.5,469.5 285,476.7 283.5,483.8 282,491 280.5,498.2 279,505.5 277.5,512.6 276,519.6 274.5,526.3 273,532.8 271.5,539.1 270,545.2 268.5,551 267,556.6 265.5,562 264,567.2 262.5,572.2 261,577 259.5,581.7 258,586.1 256.5,590.4 255,594.5 253.5,598.3 252,602 250.5,605.4 249,608.7 247.5,611.6 246,614.4 244.5,616.9 243,619.2 241.5,621.2 240,622.9 238.5,624.4 237,625.7 235.5,626.7 234,627.5 232.5,628.1 231,628.4 229.5,628.6 228,628.5 226.5,628.2 225,627.8 223.5,627.1 222,626.3 220.5,625.3 219,624.2 217.5,622.9 216,621.5 214.5,619.9 213,618.1 211.5,616.2 210,614.2 208.5,612 207,609.6 205.5,607.1 204,604.4 202.5,601.6 201,598.6 199.5,595.4 198,592 196.5,588.4 195,584.7 193.5,580.8 192,576.7 190.5,572.4 189,567.9 187.5,563.2 186,558.3 184.5,553.2 183,547.9 181.5,542.3 180,536.6 178.5,530.7 177,524.5 175.5,518.1 174,511.5 172.5,504.8 171,497.8 169.5,490.8 168,483.7 166.5,476.5 165,469.2 163.5,462 162,454.9 160.5,447.8 159,440.8 157.5,433.8 156,426.9 154.5,420 153,412.9 151.5,405.6 150,398.1 148.5,390.4 147,382.7 145.5,375.2 144,367.9 142.5,361.1 141,354.7 139.5,348.7 138,343 136.5,337.6 135,332.4 133.5,327.5 132,322.8 130.5,318.2 129,313.9 127.5,309.8 126,305.7 124.5,301.8 123,298 121.5,294.2 120,290.5 118.5,286.8 117,283.3 115.5,280 114,277 112.5,274.4 111,272.2 109.5,270.5 108,269.3 106.5,268.4 105,267.9 103.5,267.7 102,267.7 100.5,267.7 99,267.9 97.5,267.9 96,268 94.5,268 93,268.1 91.5,268.4 90,268.8 88.5,269.3 87,270 85.5,270.8 84,271.7 82.5,272.8 81,274Z" fill="#030c0c" stroke="#6a7878" stroke-width="3" stroke-opacity="0.55"/>
<path d="M81,260.1 82.5,258.9 84,257.8 85.5,256.8 87,256 88.5,255.3 90,254.8 91.5,254.4 93,254.1 94.5,254 96,254 97.5,253.9 99,253.9 100.5,253.7 102,253.6 103.5,253.7 105,253.9 106.5,254.4 108,255.3 109.5,256.5 111,258.3 112.5,260.4 114,263.1 115.5,266.1 117,269.4 118.5,273 120,276.7 121.5,280.5 123,284.3 124.5,288.2 126,292.2 127.5,296.2 129,300.4 130.5,304.8 132,309.4 133.5,314.2 135,319.2 136.5,324.4 138,329.9 139.5,335.6 141,341.7 142.5,348.2 144,355.1 145.5,362.4 147,370 148.5,377.8 150,385.5 151.5,393.1 153,400.5 154.5,407.7 156,414.7 157.5,421.7 159,428.7 160.5,435.8 162,442.9 163.5,450.2 165,457.5 166.5,464.8 168,472.1 169.5,479.3 171,486.4 172.5,493.4 174,500.3 175.5,506.9 177,513.4 178.5,519.6 180,525.6 181.5,531.4 183,537 184.5,542.4 186,547.5 187.5,552.5 189,557.2 190.5,561.8 192,566.1 193.5,570.3 195,574.2 196.5,578 198,581.6 199.5,585 201,588.2 202.5,591.3 204,594.2 205.5,596.9 207,599.4 208.5,601.8 210,604.1 211.5,606.1 213,608 214.5,609.8 216,611.4 217.5,612.9 219,614.2 220.5,615.3 222,616.3 223.5,617.1 225,617.8 226.5,618.3 228,618.5 229.5,618.6 231,618.5 232.5,618.1 234,617.5 235.5,616.7 237,615.7 238.5,614.4 240,612.9 241.5,611.1 243,609.1 244.5,606.8 246,604.3 247.5,601.5 249,598.5 250.5,595.2 252,591.7 253.5,588 255,584.1 256.5,580 258,575.7 259.5,571.2 261,566.5 262.5,561.6 264,556.5 265.5,551.3 267,545.8 268.5,540.1 270,534.3 271.5,528.2 273,521.8 274.5,515.2 276,508.4 277.5,501.3 279,494.1 280.5,486.8 282,479.5 283.5,472.2 285,465 286.5,457.8 288,450.6 289.5,443.3 291,436 292.5,428.7 294,421.4 295.5,414.5 297,407.7 298.5,401.3 300,395 301.5,388.8 303,382.5 304.5,376.2 306,369.8 307.5,363.3 309,356.8 310.5,350.3 312,343.8 313.5,337.5 315,331.4 316.5,325.6 318,320.1 319.5,314.9 321,310 322.5,305.4 324,301.1 325.5,297 327,293.1 328.5,289.3 330,285.8 331.5,282.4 333,279.1 334.5,276.1 336,273.4 337.5,270.8 339,268.4 340.5,266.3 342,264.4 343.5,262.7 345,261.1 346.5,259.7 348,258.5 349.5,257.5 351,256.6 352.5,255.8 354,255.2 355.5,254.7 357,254.3 358.5,254.1 360,254 361.5,254 363,253.9 364.5,253.8 366,253.7 367.5,253.6 369,253.7 370.5,254 372,254.6 373.5,255.6 375,257 376.5,258.8 378,261.1 379.5,263.8 381,267 382.5,270.4 384,274 385.5,277.7 387,281.5 388.5,285.4 390,289.3 391.5,293.2 393,297.3 394.5,301.6 396,306 397.5,310.6 399,315.5 400.5,320.5 402,325.8 403.5,331.4 405,337.2 406.5,343.4 408,350 409.5,357 411,364.4 412.5,372.1 414,379.9 415.5,387.6 417,395.1 418.5,402.4 420,409.5 421.5,416.6 423,423.5 424.5,430.6 426,437.7 427.5,444.9 429,452.1 430.5,459.4 432,466.7 433.5,474 435,481.2 436.5,488.3 438,495.3 439.5,502 441,508.6 442.5,515 444,521.2 445.5,527.2 447,532.9 448.5,538.4 450,543.8 451.5,548.9 453,553.8 454.5,558.5 456,563 457.5,567.2 459,571.4 460.5,575.3 462,579 463.5,582.5 465,585.9 466.5,589.1 468,592.1 469.5,594.9 471,597.6 472.5,600.1 474,602.4 475.5,604.6 477,606.7 478.5,608.5 480,610.2 481.5,611.8 483,613.2 484.5,614.5 486,615.6 487.5,616.6 489,617.3 490.5,617.9 492,618.4 493.5,618.6 495,618.6 496.5,618.4 498,618 499.5,617.4 501,616.5 502.5,615.4 504,614 505.5,612.5 507,610.6 508.5,608.5 510,606.1 511.5,603.5 513,600.7 514.5,597.6 516,594.3 517.5,590.8 519,587 520.5,583.1 522,578.9 523.5,574.5 525,570 526.5,565.2 528,560.3 529.5,555.1 531,549.8 532.5,544.3 534,538.6 535.5,532.7 537,526.5 538.5,520.1 540,513.4 541.5,506.5 543,499.4 544.5,492.2 546,484.9 547.5,477.5 549,470.3 550.5,463.1 552,455.9 553.5,448.6 555,441.4 556.5,434 558,426.7 559.5,419.6 561,412.6 562.5,406 564,399.6 565.5,393.3 567,387.1 568.5,380.8 570,374.5 571.5,368.1 573,361.6 574.5,355 576,348.5 577.5,342.1 579,335.9 580.5,329.9 582,324.1 583.5,318.7 585,313.5 586.5,308.8 588,304.3 589.5,300 591,295.9 592.5,292.1 594,288.4 595.5,284.8 597,281.5 598.5,278.3 600,275.4 601.5,272.7 603,270.1 604.5,267.9 606,265.8 607.5,263.9 609,262.2 610.5,260.7 612,259.4 613.5,258.2 615,257.2 616.5,256.4 618,255.6 619.5,255 621,254.6 622.5,254.2 624,254.1 625.5,254 627,254 628.5,253.9 630,253.8 631.5,253.7 633,253.6 634.5,253.8 636,254.1 637.5,254.8 639,255.9 640.5,257.4 642,259.4 643.5,261.8 645,264.6 646.5,267.9 648,271.3 649.5,275 651,278.7 652.5,282.6 654,286.4 655.5,290.3 657,294.3 658.5,298.4 660,302.7 661.5,307.2 663,311.9 664.5,316.8 666,321.9 667.5,327.3 669,332.9 670.5,338.8 672,345.1 673.5,351.8 675,358.9 676.5,366.4 678,374.1 679.5,381.9 681,389.6 682.5,397.1 684,404.3 685.5,411.4 687,418.4 688.5,425.4 690,432.5 691.5,439.6 693,446.8 694.5,454.1 696,461.4 697.5,468.7 699,475.9 700.5,483.1 702,490.2 703.5,497.1 705,503.8 706.5,510.4 708,516.7 709.5,522.8 711,528.7 712.5,534.4 714,539.9 715.5,545.1 717,550.2 718.5,555 720,559.7 721.5,564.1 723,568.4 724.5,572.4 726,576.3 727.5,580 729,583.5 730.5,586.8 732,589.9 733.5,592.9 735,595.7 736.5,598.3 738,600.7 739.5,603 741,605.2 742.5,607.2 744,609 745.5,610.7 747,612.2 748.5,613.6 750,614.8 751.5,615.9 753,616.8 754.5,617.5 756,618.1 757.5,618.4 759,618.6 760.5,618.6 762,618.3 763.5,617.8 765,617.2 766.5,616.2 768,615.1 769.5,613.6 771,612 772.5,610.1 774,607.9 775.5,605.5 777,602.8 778.5,599.9 780,596.8 781.5,593.4 783,589.8 784.5,586 786,582 787.5,577.7 789,573.3 790.5,568.7 792,563.9 793.5,558.9 795,553.7 796.5,548.4 798,542.8 799.5,537 801,531 802.5,524.8 804,518.3 805.5,511.6 807,504.6 808.5,497.5 810,490.2 811.5,482.9 813,475.6 814.5,468.3 816,461.2 817.5,454 819,446.7 820.5,439.4 822,432.1 823.5,424.8 825,417.7 826.5,410.8 828,404.3 829.5,397.9 831,391.7 832.5,385.4 834,379.2 835.5,372.8 837,366.3 838.5,359.8 840,353.3 841.5,346.8 843,340.5 844.5,334.3 846,328.3 847.5,322.6 849,317.3 850.5,312.2 852,307.5 853.5,303.1 855,298.9 856.5,294.9 858,291.1 859.5,287.4 861,283.9 862.5,280.6 864,277.5 865.5,274.6 867,272 868.5,269.5 870,267.3 871.5,265.3 873,263.4 874.5,261.8 876,260.4 877.5,259.1 879,258 880.5,257 882,256.2 883.5,255.5 885,254.9 886.5,254.4 888,254.2 889.5,254 891,254 892.5,254 894,253.9 895.5,253.8 897,253.7 898.5,253.6 900,253.8 901.5,254.3 903,255.1 904.5,256.2 906,257.9 907.5,260 909,262.5 910.5,265.5 912,268.8 913.5,272.3 915,276 916.5,279.8 918,283.6 919.5,287.4 921,291.4 922.5,295.4 924,299.6 925.5,303.9 927,308.4 928.5,313.2 930,318.1 931.5,323.3 933,328.8 934.5,334.5 936,340.5 937.5,346.8 939,353.6 940.5,360.9 942,368.4 943.5,376.2 945,384 946.5,391.6 948,399 949.5,406.2 951,413.3 952.5,420.3 954,427.3 955.5,434.3 957,441.5 958.5,448.7 960,456 961.5,463.3 963,470.6 964.5,477.8 966,485 967.5,492 969,498.9 970.5,505.6 972,512.1 973.5,518.4 975,524.4 976.5,530.3 978,535.9 979.5,541.3 981,546.5 982.5,551.5 984,556.3 985.5,560.9 987,565.3 988.5,569.5 990,573.5 991.5,577.3 993,580.9 994.5,584.4 996,587.6 997.5,590.7 999,593.6 1000.5,596.4 1002,599 1003.5,601.4 1005,603.6 1006.5,605.7 1008,607.7 1009.5,609.5 1011,611.1 1012.5,612.6 1014,613.9 1015.5,615.1 1017,616.1 1018.5,617 1020,617.7 1021.5,618.2 1023,618.5 1024.5,618.6 1026,618.5 1027.5,618.2 1029,617.7 1030.5,616.9 1032,615.9 1033.5,614.7 1035,613.2 1036.5,611.5 1038,609.5 1039.5,607.3 1041,604.8 1042.5,602.1 1044,599.1 1045.5,595.9 1047,592.5 1048.5,588.8 1050,584.9 1051.5,580.9 1053,576.6 1054.5,572.1 1056,567.4 1057.5,562.6 1059,557.6 1060.5,552.3 1062,546.9 1063.5,541.3 1065,535.5 1066.5,529.4 1068,523.1 1069.5,516.5 1071,509.8 1072.5,502.7 1074,495.6 1075.5,488.3 1077,480.9 1078.5,473.7 1080,466.4 1081.5,459.2 1083,452 1084.5,444.8 1086,437.4 1087.5,430.1 1089,422.9 1090.5,415.8 1092,409.1 1093.5,402.6 1095,396.2 1096.5,390 1098,383.8 1099.5,377.5 1101,371.1 1102.5,364.6 1104,358.1 1105.5,351.6 1107,345.1 1108.5,338.8 1110,332.6 1111.5,326.7 1113,321.2 1114.5,315.9 1116,311 1117.5,306.3 1119,302 1120.5,297.8 1122,293.9 1123.5,290.1 1125,286.5 1126.5,283 1128,279.8 1129.5,276.7 1131,273.9 1132.5,271.3 1134,268.9 1135.5,266.7 1137,264.7 1138.5,263 1140,261.4 1141.5,260 1143,258.8 1144.5,257.7 1146,256.8 1147.5,256 1149,255.3 1150.5,254.8 1152,254.4 1153.5,254.1 1155,254 1156.5,254 1158,253.9 1159.5,253.9 1161,253.7 1162.5,253.6 1164,253.7 1165.5,253.9 1167,254.4 1168.5,255.3 1170,256.6 1171.5,258.4 1173,260.6 1174.5,263.3 1176,266.3 1177.5,269.7 1179,273.3 1180.5,277 1182,280.8 1183.5,284.6 1185,288.5 1186.5,292.4 1188,296.5 1189.5,300.7 1191,305.1 1192.5,309.7 1194,314.5 1195.5,319.5 1197,324.8 1198.5,330.3 1200,336 1201.5,342.1 1203,348.6 1204.5,355.5 1206,362.9 1207.5,370.5 1209,378.3 1210.5,386.1 1212,393.6 1213.5,401 1215,408.1 1216.5,415.2 1218,422.1 1219.5,429.2 1221,436.2 1222.5,443.4 1224,450.7 1225.5,458 1227,465.3 1228.5,472.5 1230,479.8 1231.5,486.9 1233,493.9 1234.5,500.7 1236,507.3 1237.5,513.8 1239,520 1240.5,526 1242,531.8 1243.5,537.4 1245,542.7 1246.5,547.9 1248,552.8 1249.5,557.5 1251,562.1 1252.5,566.4 1254,570.5 1255.5,574.5 1257,578.3 1258.5,581.8 1260,585.2 1261.5,588.5 1263,591.5 1264.5,594.4 1266,597.1 1267.5,599.6 1269,602 1270.5,604.2 1272,606.3 1273.5,608.2 1275,609.9 1276.5,611.5 1278,613 1279.5,614.3 1281,615.4 1282.5,616.4 1284,617.2 1285.5,617.8 1287,618.3 1288.5,618.5 1290,618.6 1291.5,618.5 1293,618.1 1294.5,617.5 1296,616.7 1297.5,615.6 1299,614.3 1300.5,612.8 1302,611 1303.5,608.9 1305,606.6 1306.5,604.1 1308,601.3 1309.5,598.3 1311,595 1312.5,591.5 1314,587.8 1315.5,583.9 1317,579.7 1318.5,575.4 1320,570.9 1321.5,566.2 1323,561.3 1324.5,556.2 1326,550.9 1327.5,545.4 1329,539.8 1330.5,533.9 1332,527.7 1333.5,521.4 1335,514.8 1336.5,507.9 1338,500.9 1339.5,493.6 1341,486.3 1342.5,479 1344,471.7 1345.5,464.5 1347,457.3 1348.5,450.1 1350,442.8 1351.5,435.5 1353,428.2 1354.5,421 1356,414 1357.5,407.3 1359,400.9 1360.5,394.6 1362,388.4 1363.5,382.1 1365,375.8 1366.5,369.4 1368,362.9 1369.5,356.3 1371,349.8 1372.5,343.4 1374,337.1 1375.5,331 1377,325.2 1378.5,319.7 1380,314.5 1381.5,309.7 1383,305.1 1384.5,300.8 1386,296.7 1387.5,292.8 1389,289.1 1390.5,285.5 1392,282.1 1393.5,278.9 1395,276 1396.5,273.2 1398,270.6 1399.5,268.3 1401,266.2 1402.5,264.3 1404,262.5 1405.5,261 1407,259.7" fill="none" stroke="#051818" stroke-width="12" stroke-linejoin="round" />
<path d="M81,260.1 82.5,258.9 84,257.8 85.5,256.8 87,256 88.5,255.3 90,254.8 91.5,254.4 93,254.1 94.5,254 96,254 97.5,253.9 99,253.9 100.5,253.7 102,253.6 103.5,253.7 105,253.9 106.5,254.4 108,255.3 109.5,256.5 111,258.3 112.5,260.4 114,263.1 115.5,266.1 117,269.4 118.5,273 120,276.7 121.5,280.5 123,284.3 124.5,288.2 126,292.2 127.5,296.2 129,300.4 130.5,304.8 132,309.4 133.5,314.2 135,319.2 136.5,324.4 138,329.9 139.5,335.6 141,341.7 142.5,348.2 144,355.1 145.5,362.4 147,370 148.5,377.8 150,385.5 151.5,393.1 153,400.5 154.5,407.7 156,414.7 157.5,421.7 159,428.7 160.5,435.8 162,442.9 163.5,450.2 165,457.5 166.5,464.8 168,472.1 169.5,479.3 171,486.4 172.5,493.4 174,500.3 175.5,506.9 177,513.4 178.5,519.6 180,525.6 181.5,531.4 183,537 184.5,542.4 186,547.5 187.5,552.5 189,557.2 190.5,561.8 192,566.1 193.5,570.3 195,574.2 196.5,578 198,581.6 199.5,585 201,588.2 202.5,591.3 204,594.2 205.5,596.9 207,599.4 208.5,601.8 210,604.1 211.5,606.1 213,608 214.5,609.8 216,611.4 217.5,612.9 219,614.2 220.5,615.3 222,616.3 223.5,617.1 225,617.8 226.5,618.3 228,618.5 229.5,618.6 231,618.5 232.5,618.1 234,617.5 235.5,616.7 237,615.7 238.5,614.4 240,612.9 241.5,611.1 243,609.1 244.5,606.8 246,604.3 247.5,601.5 249,598.5 250.5,595.2 252,591.7 253.5,588 255,584.1 256.5,580 258,575.7 259.5,571.2 261,566.5 262.5,561.6 264,556.5 265.5,551.3 267,545.8 268.5,540.1 270,534.3 271.5,528.2 273,521.8 274.5,515.2 276,508.4 277.5,501.3 279,494.1 280.5,486.8 282,479.5 283.5,472.2 285,465 286.5,457.8 288,450.6 289.5,443.3 291,436 292.5,428.7 294,421.4 295.5,414.5 297,407.7 298.5,401.3 300,395 301.5,388.8 303,382.5 304.5,376.2 306,369.8 307.5,363.3 309,356.8 310.5,350.3 312,343.8 313.5,337.5 315,331.4 316.5,325.6 318,320.1 319.5,314.9 321,310 322.5,305.4 324,301.1 325.5,297 327,293.1 328.5,289.3 330,285.8 331.5,282.4 333,279.1 334.5,276.1 336,273.4 337.5,270.8 339,268.4 340.5,266.3 342,264.4 343.5,262.7 345,261.1 346.5,259.7 348,258.5 349.5,257.5 351,256.6 352.5,255.8 354,255.2 355.5,254.7 357,254.3 358.5,254.1 360,254 361.5,254 363,253.9 364.5,253.8 366,253.7 367.5,253.6 369,253.7 370.5,254 372,254.6 373.5,255.6 375,257 376.5,258.8 378,261.1 379.5,263.8 381,267 382.5,270.4 384,274 385.5,277.7 387,281.5 388.5,285.4 390,289.3 391.5,293.2 393,297.3 394.5,301.6 396,306 397.5,310.6 399,315.5 400.5,320.5 402,325.8 403.5,331.4 405,337.2 406.5,343.4 408,350 409.5,357 411,364.4 412.5,372.1 414,379.9 415.5,387.6 417,395.1 418.5,402.4 420,409.5 421.5,416.6 423,423.5 424.5,430.6 426,437.7 427.5,444.9 429,452.1 430.5,459.4 432,466.7 433.5,474 435,481.2 436.5,488.3 438,495.3 439.5,502 441,508.6 442.5,515 444,521.2 445.5,527.2 447,532.9 448.5,538.4 450,543.8 451.5,548.9 453,553.8 454.5,558.5 456,563 457.5,567.2 459,571.4 460.5,575.3 462,579 463.5,582.5 465,585.9 466.5,589.1 468,592.1 469.5,594.9 471,597.6 472.5,600.1 474,602.4 475.5,604.6 477,606.7 478.5,608.5 480,610.2 481.5,611.8 483,613.2 484.5,614.5 486,615.6 487.5,616.6 489,617.3 490.5,617.9 492,618.4 493.5,618.6 495,618.6 496.5,618.4 498,618 499.5,617.4 501,616.5 502.5,615.4 504,614 505.5,612.5 507,610.6 508.5,608.5 510,606.1 511.5,603.5 513,600.7 514.5,597.6 516,594.3 517.5,590.8 519,587 520.5,583.1 522,578.9 523.5,574.5 525,570 526.5,565.2 528,560.3 529.5,555.1 531,549.8 532.5,544.3 534,538.6 535.5,532.7 537,526.5 538.5,520.1 540,513.4 541.5,506.5 543,499.4 544.5,492.2 546,484.9 547.5,477.5 549,470.3 550.5,463.1 552,455.9 553.5,448.6 555,441.4 556.5,434 558,426.7 559.5,419.6 561,412.6 562.5,406 564,399.6 565.5,393.3 567,387.1 568.5,380.8 570,374.5 571.5,368.1 573,361.6 574.5,355 576,348.5 577.5,342.1 579,335.9 580.5,329.9 582,324.1 583.5,318.7 585,313.5 586.5,308.8 588,304.3 589.5,300 591,295.9 592.5,292.1 594,288.4 595.5,284.8 597,281.5 598.5,278.3 600,275.4 601.5,272.7 603,270.1 604.5,267.9 606,265.8 607.5,263.9 609,262.2 610.5,260.7 612,259.4 613.5,258.2 615,257.2 616.5,256.4 618,255.6 619.5,255 621,254.6 622.5,254.2 624,254.1 625.5,254 627,254 628.5,253.9 630,253.8 631.5,253.7 633,253.6 634.5,253.8 636,254.1 637.5,254.8 639,255.9 640.5,257.4 642,259.4 643.5,261.8 645,264.6 646.5,267.9 648,271.3 649.5,275 651,278.7 652.5,282.6 654,286.4 655.5,290.3 657,294.3 658.5,298.4 660,302.7 661.5,307.2 663,311.9 664.5,316.8 666,321.9 667.5,327.3 669,332.9 670.5,338.8 672,345.1 673.5,351.8 675,358.9 676.5,366.4 678,374.1 679.5,381.9 681,389.6 682.5,397.1 684,404.3 685.5,411.4 687,418.4 688.5,425.4 690,432.5 691.5,439.6 693,446.8 694.5,454.1 696,461.4 697.5,468.7 699,475.9 700.5,483.1 702,490.2 703.5,497.1 705,503.8 706.5,510.4 708,516.7 709.5,522.8 711,528.7 712.5,534.4 714,539.9 715.5,545.1 717,550.2 718.5,555 720,559.7 721.5,564.1 723,568.4 724.5,572.4 726,576.3 727.5,580 729,583.5 730.5,586.8 732,589.9 733.5,592.9 735,595.7 736.5,598.3 738,600.7 739.5,603 741,605.2 742.5,607.2 744,609 745.5,610.7 747,612.2 748.5,613.6 750,614.8 751.5,615.9 753,616.8 754.5,617.5 756,618.1 757.5,618.4 759,618.6 760.5,618.6 762,618.3 763.5,617.8 765,617.2 766.5,616.2 768,615.1 769.5,613.6 771,612 772.5,610.1 774,607.9 775.5,605.5 777,602.8 778.5,599.9 780,596.8 781.5,593.4 783,589.8 784.5,586 786,582 787.5,577.7 789,573.3 790.5,568.7 792,563.9 793.5,558.9 795,553.7 796.5,548.4 798,542.8 799.5,537 801,531 802.5,524.8 804,518.3 805.5,511.6 807,504.6 808.5,497.5 810,490.2 811.5,482.9 813,475.6 814.5,468.3 816,461.2 817.5,454 819,446.7 820.5,439.4 822,432.1 823.5,424.8 825,417.7 826.5,410.8 828,404.3 829.5,397.9 831,391.7 832.5,385.4 834,379.2 835.5,372.8 837,366.3 838.5,359.8 840,353.3 841.5,346.8 843,340.5 844.5,334.3 846,328.3 847.5,322.6 849,317.3 850.5,312.2 852,307.5 853.5,303.1 855,298.9 856.5,294.9 858,291.1 859.5,287.4 861,283.9 862.5,280.6 864,277.5 865.5,274.6 867,272 868.5,269.5 870,267.3 871.5,265.3 873,263.4 874.5,261.8 876,260.4 877.5,259.1 879,258 880.5,257 882,256.2 883.5,255.5 885,254.9 886.5,254.4 888,254.2 889.5,254 891,254 892.5,254 894,253.9 895.5,253.8 897,253.7 898.5,253.6 900,253.8 901.5,254.3 903,255.1 904.5,256.2 906,257.9 907.5,260 909,262.5 910.5,265.5 912,268.8 913.5,272.3 915,276 916.5,279.8 918,283.6 919.5,287.4 921,291.4 922.5,295.4 924,299.6 925.5,303.9 927,308.4 928.5,313.2 930,318.1 931.5,323.3 933,328.8 934.5,334.5 936,340.5 937.5,346.8 939,353.6 940.5,360.9 942,368.4 943.5,376.2 945,384 946.5,391.6 948,399 949.5,406.2 951,413.3 952.5,420.3 954,427.3 955.5,434.3 957,441.5 958.5,448.7 960,456 961.5,463.3 963,470.6 964.5,477.8 966,485 967.5,492 969,498.9 970.5,505.6 972,512.1 973.5,518.4 975,524.4 976.5,530.3 978,535.9 979.5,541.3 981,546.5 982.5,551.5 984,556.3 985.5,560.9 987,565.3 988.5,569.5 990,573.5 991.5,577.3 993,580.9 994.5,584.4 996,587.6 997.5,590.7 999,593.6 1000.5,596.4 1002,599 1003.5,601.4 1005,603.6 1006.5,605.7 1008,607.7 1009.5,609.5 1011,611.1 1012.5,612.6 1014,613.9 1015.5,615.1 1017,616.1 1018.5,617 1020,617.7 1021.5,618.2 1023,618.5 1024.5,618.6 1026,618.5 1027.5,618.2 1029,617.7 1030.5,616.9 1032,615.9 1033.5,614.7 1035,613.2 1036.5,611.5 1038,609.5 1039.5,607.3 1041,604.8 1042.5,602.1 1044,599.1 1045.5,595.9 1047,592.5 1048.5,588.8 1050,584.9 1051.5,580.9 1053,576.6 1054.5,572.1 1056,567.4 1057.5,562.6 1059,557.6 1060.5,552.3 1062,546.9 1063.5,541.3 1065,535.5 1066.5,529.4 1068,523.1 1069.5,516.5 1071,509.8 1072.5,502.7 1074,495.6 1075.5,488.3 1077,480.9 1078.5,473.7 1080,466.4 1081.5,459.2 1083,452 1084.5,444.8 1086,437.4 1087.5,430.1 1089,422.9 1090.5,415.8 1092,409.1 1093.5,402.6 1095,396.2 1096.5,390 1098,383.8 1099.5,377.5 1101,371.1 1102.5,364.6 1104,358.1 1105.5,351.6 1107,345.1 1108.5,338.8 1110,332.6 1111.5,326.7 1113,321.2 1114.5,315.9 1116,311 1117.5,306.3 1119,302 1120.5,297.8 1122,293.9 1123.5,290.1 1125,286.5 1126.5,283 1128,279.8 1129.5,276.7 1131,273.9 1132.5,271.3 1134,268.9 1135.5,266.7 1137,264.7 1138.5,263 1140,261.4 1141.5,260 1143,258.8 1144.5,257.7 1146,256.8 1147.5,256 1149,255.3 1150.5,254.8 1152,254.4 1153.5,254.1 1155,254 1156.5,254 1158,253.9 1159.5,253.9 1161,253.7 1162.5,253.6 1164,253.7 1165.5,253.9 1167,254.4 1168.5,255.3 1170,256.6 1171.5,258.4 1173,260.6 1174.5,263.3 1176,266.3 1177.5,269.7 1179,273.3 1180.5,277 1182,280.8 1183.5,284.6 1185,288.5 1186.5,292.4 1188,296.5 1189.5,300.7 1191,305.1 1192.5,309.7 1194,314.5 1195.5,319.5 1197,324.8 1198.5,330.3 1200,336 1201.5,342.1 1203,348.6 1204.5,355.5 1206,362.9 1207.5,370.5 1209,378.3 1210.5,386.1 1212,393.6 1213.5,401 1215,408.1 1216.5,415.2 1218,422.1 1219.5,429.2 1221,436.2 1222.5,443.4 1224,450.7 1225.5,458 1227,465.3 1228.5,472.5 1230,479.8 1231.5,486.9 1233,493.9 1234.5,500.7 1236,507.3 1237.5,513.8 1239,520 1240.5,526 1242,531.8 1243.5,537.4 1245,542.7 1246.5,547.9 1248,552.8 1249.5,557.5 1251,562.1 1252.5,566.4 1254,570.5 1255.5,574.5 1257,578.3 1258.5,581.8 1260,585.2 1261.5,588.5 1263,591.5 1264.5,594.4 1266,597.1 1267.5,599.6 1269,602 1270.5,604.2 1272,606.3 1273.5,608.2 1275,609.9 1276.5,611.5 1278,613 1279.5,614.3 1281,615.4 1282.5,616.4 1284,617.2 1285.5,617.8 1287,618.3 1288.5,618.5 1290,618.6 1291.5,618.5 1293,618.1 1294.5,617.5 1296,616.7 1297.5,615.6 1299,614.3 1300.5,612.8 1302,611 1303.5,608.9 1305,606.6 1306.5,604.1 1308,601.3 1309.5,598.3 1311,595 1312.5,591.5 1314,587.8 1315.5,583.9 1317,579.7 1318.5,575.4 1320,570.9 1321.5,566.2 1323,561.3 1324.5,556.2 1326,550.9 1327.5,545.4 1329,539.8 1330.5,533.9 1332,527.7 1333.5,521.4 1335,514.8 1336.5,507.9 1338,500.9 1339.5,493.6 1341,486.3 1342.5,479 1344,471.7 1345.5,464.5 1347,457.3 1348.5,450.1 1350,442.8 1351.5,435.5 1353,428.2 1354.5,421 1356,414 1357.5,407.3 1359,400.9 1360.5,394.6 1362,388.4 1363.5,382.1 1365,375.8 1366.5,369.4 1368,362.9 1369.5,356.3 1371,349.8 1372.5,343.4 1374,337.1 1375.5,331 1377,325.2 1378.5,319.7 1380,314.5 1381.5,309.7 1383,305.1 1384.5,300.8 1386,296.7 1387.5,292.8 1389,289.1 1390.5,285.5 1392,282.1 1393.5,278.9 1395,276 1396.5,273.2 1398,270.6 1399.5,268.3 1401,266.2 1402.5,264.3 1404,262.5 1405.5,261 1407,259.7" fill="none" stroke="#0a7474" stroke-width="8" stroke-linejoin="round" />
<path d="M81,258.1 82.5,256.9 84,255.8 85.5,254.8 87,254 88.5,253.3 90,252.8 91.5,252.4 93,252.1 94.5,252 96,252 97.5,251.9 99,251.9 100.5,251.7 102,251.6 103.5,251.7 105,251.9 106.5,252.4 108,253.3 109.5,254.5 111,256.3 112.5,258.4 114,261.1 115.5,264.1 117,267.4 118.5,271 120,274.7 121.5,278.5 123,282.3 124.5,286.2 126,290.2 127.5,294.2 129,298.4 130.5,302.8 132,307.4 133.5,312.2 135,317.2 136.5,322.4 138,327.9 139.5,333.6 141,339.7 142.5,346.2 144,353.1 145.5,360.4 147,368 148.5,375.8 150,383.5 151.5,391.1 153,398.5 154.5,405.7 156,412.7 157.5,419.7 159,426.7 160.5,433.8 162,440.9 163.5,448.2 165,455.5 166.5,462.8 168,470.1 169.5,477.3 171,484.4 172.5,491.4 174,498.3 175.5,504.9 177,511.4 178.5,517.6 180,523.6 181.5,529.4 183,535 184.5,540.4 186,545.5 187.5,550.5 189,555.2 190.5,559.8 192,564.1 193.5,568.3 195,572.2 196.5,576 198,579.6 199.5,583 201,586.2 202.5,589.3 204,592.2 205.5,594.9 207,597.4 208.5,599.8 210,602.1 211.5,604.1 213,606 214.5,607.8 216,609.4 217.5,610.9 219,612.2 220.5,613.3 222,614.3 223.5,615.1 225,615.8 226.5,616.3 228,616.5 229.5,616.6 231,616.5 232.5,616.1 234,615.5 235.5,614.7 237,613.7 238.5,612.4 240,610.9 241.5,609.1 243,607.1 244.5,604.8 246,602.3 247.5,599.5 249,596.5 250.5,593.2 252,589.7 253.5,586 255,582.1 256.5,578 258,573.7 259.5,569.2 261,564.5 262.5,559.6 264,554.5 265.5,549.3 267,543.8 268.5,538.1 270,532.3 271.5,526.2 273,519.8 274.5,513.2 276,506.4 277.5,499.3 279,492.1 280.5,484.8 282,477.5 283.5,470.2 285,463 286.5,455.8 288,448.6 289.5,441.3 291,434 292.5,426.7 294,419.4 295.5,412.5 297,405.7 298.5,399.3 300,393 301.5,386.8 303,380.5 304.5,374.2 306,367.8 307.5,361.3 309,354.8 310.5,348.3 312,341.8 313.5,335.5 315,329.4 316.5,323.6 318,318.1 319.5,312.9 321,308 322.5,303.4 324,299.1 325.5,295 327,291.1 328.5,287.3 330,283.8 331.5,280.4 333,277.1 334.5,274.1 336,271.4 337.5,268.8 339,266.4 340.5,264.3 342,262.4 343.5,260.7 345,259.1 346.5,257.7 348,256.5 349.5,255.5 351,254.6 352.5,253.8 354,253.2 355.5,252.7 357,252.3 358.5,252.1 360,252 361.5,252 363,251.9 364.5,251.8 366,251.7 367.5,251.6 369,251.7 370.5,252 372,252.6 373.5,253.6 375,255 376.5,256.8 378,259.1 379.5,261.8 381,265 382.5,268.4 384,272 385.5,275.7 387,279.5 388.5,283.4 390,287.3 391.5,291.2 393,295.3 394.5,299.6 396,304 397.5,308.6 399,313.5 400.5,318.5 402,323.8 403.5,329.4 405,335.2 406.5,341.4 408,348 409.5,355 411,362.4 412.5,370.1 414,377.9 415.5,385.6 417,393.1 418.5,400.4 420,407.5 421.5,414.6 423,421.5 424.5,428.6 426,435.7 427.5,442.9 429,450.1 430.5,457.4 432,464.7 433.5,472 435,479.2 436.5,486.3 438,493.3 439.5,500 441,506.6 442.5,513 444,519.2 445.5,525.2 447,530.9 448.5,536.4 450,541.8 451.5,546.9 453,551.8 454.5,556.5 456,561 457.5,565.2 459,569.4 460.5,573.3 462,577 463.5,580.5 465,583.9 466.5,587.1 468,590.1 469.5,592.9 471,595.6 472.5,598.1 474,600.4 475.5,602.6 477,604.7 478.5,606.5 480,608.2 481.5,609.8 483,611.2 484.5,612.5 486,613.6 487.5,614.6 489,615.3 490.5,615.9 492,616.4 493.5,616.6 495,616.6 496.5,616.4 498,616 499.5,615.4 501,614.5 502.5,613.4 504,612 505.5,610.5 507,608.6 508.5,606.5 510,604.1 511.5,601.5 513,598.7 514.5,595.6 516,592.3 517.5,588.8 519,585 520.5,581.1 522,576.9 523.5,572.5 525,568 526.5,563.2 528,558.3 529.5,553.1 531,547.8 532.5,542.3 534,536.6 535.5,530.7 537,524.5 538.5,518.1 540,511.4 541.5,504.5 543,497.4 544.5,490.2 546,482.9 547.5,475.5 549,468.3 550.5,461.1 552,453.9 553.5,446.6 555,439.4 556.5,432 558,424.7 559.5,417.6 561,410.6 562.5,404 564,397.6 565.5,391.3 567,385.1 568.5,378.8 570,372.5 571.5,366.1 573,359.6 574.5,353 576,346.5 577.5,340.1 579,333.9 580.5,327.9 582,322.1 583.5,316.7 585,311.5 586.5,306.8 588,302.3 589.5,298 591,293.9 592.5,290.1 594,286.4 595.5,282.8 597,279.5 598.5,276.3 600,273.4 601.5,270.7 603,268.1 604.5,265.9 606,263.8 607.5,261.9 609,260.2 610.5,258.7 612,257.4 613.5,256.2 615,255.2 616.5,254.4 618,253.6 619.5,253 621,252.6 622.5,252.2 624,252.1 625.5,252 627,252 628.5,251.9 630,251.8 631.5,251.7 633,251.6 634.5,251.8 636,252.1 637.5,252.8 639,253.9 640.5,255.4 642,257.4 643.5,259.8 645,262.6 646.5,265.9 648,269.3 649.5,273 651,276.7 652.5,280.6 654,284.4 655.5,288.3 657,292.3 658.5,296.4 660,300.7 661.5,305.2 663,309.9 664.5,314.8 666,319.9 667.5,325.3 669,330.9 670.5,336.8 672,343.1 673.5,349.8 675,356.9 676.5,364.4 678,372.1 679.5,379.9 681,387.6 682.5,395.1 684,402.3 685.5,409.4 687,416.4 688.5,423.4 690,430.5 691.5,437.6 693,444.8 694.5,452.1 696,459.4 697.5,466.7 699,473.9 700.5,481.1 702,488.2 703.5,495.1 705,501.8 706.5,508.4 708,514.7 709.5,520.8 711,526.7 712.5,532.4 714,537.9 715.5,543.1 717,548.2 718.5,553 720,557.7 721.5,562.1 723,566.4 724.5,570.4 726,574.3 727.5,578 729,581.5 730.5,584.8 732,587.9 733.5,590.9 735,593.7 736.5,596.3 738,598.7 739.5,601 741,603.2 742.5,605.2 744,607 745.5,608.7 747,610.2 748.5,611.6 750,612.8 751.5,613.9 753,614.8 754.5,615.5 756,616.1 757.5,616.4 759,616.6 760.5,616.6 762,616.3 763.5,615.8 765,615.2 766.5,614.2 768,613.1 769.5,611.6 771,610 772.5,608.1 774,605.9 775.5,603.5 777,600.8 778.5,597.9 780,594.8 781.5,591.4 783,587.8 784.5,584 786,580 787.5,575.7 789,571.3 790.5,566.7 792,561.9 793.5,556.9 795,551.7 796.5,546.4 798,540.8 799.5,535 801,529 802.5,522.8 804,516.3 805.5,509.6 807,502.6 808.5,495.5 810,488.2 811.5,480.9 813,473.6 814.5,466.3 816,459.2 817.5,452 819,444.7 820.5,437.4 822,430.1 823.5,422.8 825,415.7 826.5,408.8 828,402.3 829.5,395.9 831,389.7 832.5,383.4 834,377.2 835.5,370.8 837,364.3 838.5,357.8 840,351.3 841.5,344.8 843,338.5 844.5,332.3 846,326.3 847.5,320.6 849,315.3 850.5,310.2 852,305.5 853.5,301.1 855,296.9 856.5,292.9 858,289.1 859.5,285.4 861,281.9 862.5,278.6 864,275.5 865.5,272.6 867,270 868.5,267.5 870,265.3 871.5,263.3 873,261.4 874.5,259.8 876,258.4 877.5,257.1 879,256 880.5,255 882,254.2 883.5,253.5 885,252.9 886.5,252.4 888,252.2 889.5,252 891,252 892.5,252 894,251.9 895.5,251.8 897,251.7 898.5,251.6 900,251.8 901.5,252.3 903,253.1 904.5,254.2 906,255.9 907.5,258 909,260.5 910.5,263.5 912,266.8 913.5,270.3 915,274 916.5,277.8 918,281.6 919.5,285.4 921,289.4 922.5,293.4 924,297.6 925.5,301.9 927,306.4 928.5,311.2 930,316.1 931.5,321.3 933,326.8 934.5,332.5 936,338.5 937.5,344.8 939,351.6 940.5,358.9 942,366.4 943.5,374.2 945,382 946.5,389.6 948,397 949.5,404.2 951,411.3 952.5,418.3 954,425.3 955.5,432.3 957,439.5 958.5,446.7 960,454 961.5,461.3 963,468.6 964.5,475.8 966,483 967.5,490 969,496.9 970.5,503.6 972,510.1 973.5,516.4 975,522.4 976.5,528.3 978,533.9 979.5,539.3 981,544.5 982.5,549.5 984,554.3 985.5,558.9 987,563.3 988.5,567.5 990,571.5 991.5,575.3 993,578.9 994.5,582.4 996,585.6 997.5,588.7 999,591.6 1000.5,594.4 1002,597 1003.5,599.4 1005,601.6 1006.5,603.7 1008,605.7 1009.5,607.5 1011,609.1 1012.5,610.6 1014,611.9 1015.5,613.1 1017,614.1 1018.5,615 1020,615.7 1021.5,616.2 1023,616.5 1024.5,616.6 1026,616.5 1027.5,616.2 1029,615.7 1030.5,614.9 1032,613.9 1033.5,612.7 1035,611.2 1036.5,609.5 1038,607.5 1039.5,605.3 1041,602.8 1042.5,600.1 1044,597.1 1045.5,593.9 1047,590.5 1048.5,586.8 1050,582.9 1051.5,578.9 1053,574.6 1054.5,570.1 1056,565.4 1057.5,560.6 1059,555.6 1060.5,550.3 1062,544.9 1063.5,539.3 1065,533.5 1066.5,527.4 1068,521.1 1069.5,514.5 1071,507.8 1072.5,500.7 1074,493.6 1075.5,486.3 1077,478.9 1078.5,471.7 1080,464.4 1081.5,457.2 1083,450 1084.5,442.8 1086,435.4 1087.5,428.1 1089,420.9 1090.5,413.8 1092,407.1 1093.5,400.6 1095,394.2 1096.5,388 1098,381.8 1099.5,375.5 1101,369.1 1102.5,362.6 1104,356.1 1105.5,349.6 1107,343.1 1108.5,336.8 1110,330.6 1111.5,324.7 1113,319.2 1114.5,313.9 1116,309 1117.5,304.3 1119,300 1120.5,295.8 1122,291.9 1123.5,288.1 1125,284.5 1126.5,281 1128,277.8 1129.5,274.7 1131,271.9 1132.5,269.3 1134,266.9 1135.5,264.7 1137,262.7 1138.5,261 1140,259.4 1141.5,258 1143,256.8 1144.5,255.7 1146,254.8 1147.5,254 1149,253.3 1150.5,252.8 1152,252.4 1153.5,252.1 1155,252 1156.5,252 1158,251.9 1159.5,251.9 1161,251.7 1162.5,251.6 1164,251.7 1165.5,251.9 1167,252.4 1168.5,253.3 1170,254.6 1171.5,256.4 1173,258.6 1174.5,261.3 1176,264.3 1177.5,267.7 1179,271.3 1180.5,275 1182,278.8 1183.5,282.6 1185,286.5 1186.5,290.4 1188,294.5 1189.5,298.7 1191,303.1 1192.5,307.7 1194,312.5 1195.5,317.5 1197,322.8 1198.5,328.3 1200,334 1201.5,340.1 1203,346.6 1204.5,353.5 1206,360.9 1207.5,368.5 1209,376.3 1210.5,384.1 1212,391.6 1213.5,399 1215,406.1 1216.5,413.2 1218,420.1 1219.5,427.2 1221,434.2 1222.5,441.4 1224,448.7 1225.5,456 1227,463.3 1228.5,470.5 1230,477.8 1231.5,484.9 1233,491.9 1234.5,498.7 1236,505.3 1237.5,511.8 1239,518 1240.5,524 1242,529.8 1243.5,535.4 1245,540.7 1246.5,545.9 1248,550.8 1249.5,555.5 1251,560.1 1252.5,564.4 1254,568.5 1255.5,572.5 1257,576.3 1258.5,579.8 1260,583.2 1261.5,586.5 1263,589.5 1264.5,592.4 1266,595.1 1267.5,597.6 1269,600 1270.5,602.2 1272,604.3 1273.5,606.2 1275,607.9 1276.5,609.5 1278,611 1279.5,612.3 1281,613.4 1282.5,614.4 1284,615.2 1285.5,615.8 1287,616.3 1288.5,616.5 1290,616.6 1291.5,616.5 1293,616.1 1294.5,615.5 1296,614.7 1297.5,613.6 1299,612.3 1300.5,610.8 1302,609 1303.5,606.9 1305,604.6 1306.5,602.1 1308,599.3 1309.5,596.3 1311,593 1312.5,589.5 1314,585.8 1315.5,581.9 1317,577.7 1318.5,573.4 1320,568.9 1321.5,564.2 1323,559.3 1324.5,554.2 1326,548.9 1327.5,543.4 1329,537.8 1330.5,531.9 1332,525.7 1333.5,519.4 1335,512.8 1336.5,505.9 1338,498.9 1339.5,491.6 1341,484.3 1342.5,477 1344,469.7 1345.5,462.5 1347,455.3 1348.5,448.1 1350,440.8 1351.5,433.5 1353,426.2 1354.5,419 1356,412 1357.5,405.3 1359,398.9 1360.5,392.6 1362,386.4 1363.5,380.1 1365,373.8 1366.5,367.4 1368,360.9 1369.5,354.3 1371,347.8 1372.5,341.4 1374,335.1 1375.5,329 1377,323.2 1378.5,317.7 1380,312.5 1381.5,307.7 1383,303.1 1384.5,298.8 1386,294.7 1387.5,290.8 1389,287.1 1390.5,283.5 1392,280.1 1393.5,276.9 1395,274 1396.5,271.2 1398,268.6 1399.5,266.3 1401,264.2 1402.5,262.3 1404,260.5 1405.5,259 1407,257.7" fill="none" stroke="#10acac" stroke-width="3" stroke-linejoin="round" />
<path d="M81,356.7 82.5,355.5 84,354.5 85.5,353.6 87,352.9 88.5,352.5 90,352.2 91.5,352 93,352.1 94.5,352.3 96,352.7 97.5,353.2 99,353.9 100.5,354.7 102,355.6 103.5,356.7 105,357.9 106.5,359.3 108,360.7 109.5,362.2 111,363.8 112.5,365.5 114,367.2 115.5,369 117,370.9 118.5,372.8 120,374.6 121.5,376.6 123,378.5 124.5,380.4 126,382.3 127.5,384.2 129,386 130.5,387.9 132,389.7 133.5,391.4 135,393.2 136.5,395 138,396.7 139.5,398.4 141,400.1 142.5,401.8 144,403.4 145.5,405.1 147,406.7 148.5,408.3 150,409.9 151.5,411.5 153,413.1 154.5,414.7 156,416.3 157.5,417.9 159,419.5 160.5,421 162,422.6 163.5,424.2 165,425.8 166.5,427.4 168,428.9 169.5,430.5 171,432.1 172.5,433.7 174,435.3 175.5,436.9 177,438.5 178.5,440.2 180,441.8 181.5,443.4 183,445 184.5,446.6 186,448.3 187.5,450.1 189,452.1 190.5,454.3 192,456.6 193.5,458.9 195,461.3 196.5,463.6 198,465.8 199.5,467.9 201,469.9 202.5,471.8 204,473.7 205.5,475.4 207,477 208.5,478.5 210,479.9 211.5,481.2 213,482.3 214.5,483.3 216,484.2 217.5,484.9 219,485.5 220.5,486 222,486.3 223.5,486.4 225,486.4 226.5,486.3 228,485.9 229.5,485.5 231,484.9 232.5,484.2 234,483.3 235.5,482.4 237,481.4 238.5,480.4 240,479.3 241.5,478.1 243,477 244.5,475.9 246,474.8 247.5,473.7 249,472.6 250.5,471.5 252,470.3 253.5,469.1 255,467.8 256.5,466.3 258,464.9 259.5,463.4 261,462 262.5,460.7 264,459.4 265.5,458.2 267,457 268.5,455.6 270,454.2 271.5,452.6 273,451 274.5,449.4 276,447.9 277.5,446.4 279,445.1 280.5,443.8 282,442.6 283.5,441.5 285,440.3 286.5,439.1 288,437.9 289.5,436.6 291,435.2 292.5,433.8 294,432.3 295.5,430.8 297,429.2 298.5,427.5 300,425.8 301.5,424 303,422.1 304.5,420.2 306,418.3 307.5,416.3 309,414.2 310.5,412 312,409.9 313.5,407.6 315,405.3 316.5,403 318,400.6 319.5,398.1 321,395.6 322.5,393 324,390.4 325.5,387.8 327,385.1 328.5,382.4 330,379.7 331.5,377.1 333,374.4 334.5,371.9 336,369.4 337.5,367.1 339,364.9 340.5,362.8 342,360.9 343.5,359.2 345,357.7 346.5,356.4 348,355.2 349.5,354.2 351,353.4 352.5,352.8 354,352.4 355.5,352.1 357,352 358.5,352.1 360,352.4 361.5,352.8 363,353.4 364.5,354.1 366,354.9 367.5,355.9 369,357 370.5,358.3 372,359.6 373.5,361.1 375,362.6 376.5,364.3 378,366 379.5,367.7 381,369.5 382.5,371.4 384,373.3 385.5,375.2 387,377.1 388.5,379 390,380.9 391.5,382.8 393,384.7 394.5,386.5 396,388.3 397.5,390.1 399,391.9 400.5,393.7 402,395.4 403.5,397.1 405,398.8 406.5,400.5 408,402.2 409.5,403.8 411,405.5 412.5,407.1 414,408.7 415.5,410.4 417,412 418.5,413.6 420,415.1 421.5,416.7 423,418.3 424.5,419.9 426,421.5 427.5,423 429,424.6 430.5,426.2 432,427.8 433.5,429.4 435,431 436.5,432.6 438,434.2 439.5,435.8 441,437.4 442.5,439 444,440.6 445.5,442.2 447,443.8 448.5,445.4 450,447 451.5,448.8 453,450.7 454.5,452.7 456,454.9 457.5,457.2 459,459.6 460.5,461.9 462,464.2 463.5,466.3 465,468.4 466.5,470.4 468,472.3 469.5,474.1 471,475.8 472.5,477.4 474,478.9 475.5,480.2 477,481.5 478.5,482.6 480,483.6 481.5,484.4 483,485.1 484.5,485.7 486,486.1 487.5,486.3 489,486.4 490.5,486.4 492,486.2 493.5,485.8 495,485.3 496.5,484.7 498,483.9 499.5,483.1 501,482.2 502.5,481.1 504,480.1 505.5,479 507,477.8 508.5,476.7 510,475.6 511.5,474.5 513,473.4 514.5,472.3 516,471.2 517.5,470 519,468.7 520.5,467.4 522,465.9 523.5,464.5 525,463 526.5,461.6 528,460.3 529.5,459.1 531,457.9 532.5,456.6 534,455.2 535.5,453.8 537,452.2 538.5,450.6 540,449 541.5,447.5 543,446.1 544.5,444.8 546,443.5 547.5,442.3 549,441.2 550.5,440 552,438.8 553.5,437.5 555,436.2 556.5,434.8 558,433.4 559.5,431.9 561,430.4 562.5,428.7 564,427 565.5,425.3 567,423.5 568.5,421.6 570,419.7 571.5,417.7 573,415.7 574.5,413.6 576,411.5 577.5,409.3 579,407 580.5,404.7 582,402.3 583.5,399.9 585,397.4 586.5,394.9 588,392.4 589.5,389.7 591,387.1 592.5,384.4 594,381.7 595.5,379 597,376.4 598.5,373.7 600,371.2 601.5,368.8 603,366.5 604.5,364.3 606,362.3 607.5,360.5 609,358.8 610.5,357.3 612,356 613.5,354.9 615,354 616.5,353.2 618,352.7 619.5,352.3 621,352.1 622.5,352 624,352.2 625.5,352.5 627,352.9 628.5,353.5 630,354.3 631.5,355.2 633,356.2 634.5,357.4 636,358.6 637.5,360 639,361.5 640.5,363.1 642,364.7 643.5,366.4 645,368.2 646.5,370 648,371.9 649.5,373.8 651,375.7 652.5,377.6 654,379.5 655.5,381.4 657,383.3 658.5,385.2 660,387 661.5,388.8 663,390.6 664.5,392.4 666,394.1 667.5,395.9 669,397.6 670.5,399.3 672,401 673.5,402.6 675,404.3 676.5,405.9 678,407.6 679.5,409.2 681,410.8 682.5,412.4 684,414 685.5,415.6 687,417.1 688.5,418.7 690,420.3 691.5,421.9 693,423.5 694.5,425 696,426.6 697.5,428.2 699,429.8 700.5,431.4 702,433 703.5,434.6 705,436.2 706.5,437.8 708,439.4 709.5,441 711,442.6 712.5,444.2 714,445.8 715.5,447.5 717,449.3 718.5,451.2 720,453.3 721.5,455.5 723,457.9 724.5,460.2 726,462.5 727.5,464.7 729,466.9 730.5,469 732,471 733.5,472.8 735,474.6 736.5,476.3 738,477.8 739.5,479.3 741,480.6 742.5,481.8 744,482.9 745.5,483.8 747,484.6 748.5,485.3 750,485.8 751.5,486.2 753,486.4 754.5,486.4 756,486.4 757.5,486.1 759,485.7 760.5,485.2 762,484.5 763.5,483.7 765,482.9 766.5,481.9 768,480.9 769.5,479.8 771,478.7 772.5,477.5 774,476.4 775.5,475.3 777,474.2 778.5,473.1 780,472 781.5,470.9 783,469.7 784.5,468.4 786,467 787.5,465.5 789,464.1 790.5,462.6 792,461.3 793.5,460 795,458.8 796.5,457.5 798,456.3 799.5,454.9 801,453.4 802.5,451.8 804,450.2 805.5,448.6 807,447.1 808.5,445.7 810,444.4 811.5,443.2 813,442 814.5,440.8 816,439.7 817.5,438.4 819,437.2 820.5,435.8 822,434.5 823.5,433 825,431.5 826.5,429.9 828,428.3 829.5,426.6 831,424.8 832.5,423 834,421.1 835.5,419.2 837,417.2 838.5,415.2 840,413 841.5,410.9 843,408.7 844.5,406.4 846,404.1 847.5,401.7 849,399.3 850.5,396.8 852,394.2 853.5,391.7 855,389 856.5,386.4 858,383.7 859.5,381 861,378.3 862.5,375.7 864,373.1 865.5,370.5 867,368.1 868.5,365.9 870,363.7 871.5,361.8 873,360 874.5,358.4 876,357 877.5,355.7 879,354.6 880.5,353.8 882,353.1 883.5,352.5 885,352.2 886.5,352 888,352.1 889.5,352.3 891,352.6 892.5,353.1 894,353.7 895.5,354.5 897,355.4 898.5,356.5 900,357.7 901.5,359 903,360.4 904.5,361.9 906,363.5 907.5,365.2 909,366.9 910.5,368.7 912,370.5 913.5,372.4 915,374.3 916.5,376.2 918,378.1 919.5,380 921,381.9 922.5,383.8 924,385.6 925.5,387.5 927,389.3 928.5,391.1 930,392.9 931.5,394.6 933,396.3 934.5,398 936,399.7 937.5,401.4 939,403.1 940.5,404.7 942,406.4 943.5,408 945,409.6 946.5,411.2 948,412.8 949.5,414.4 951,416 952.5,417.6 954,419.2 955.5,420.7 957,422.3 958.5,423.9 960,425.5 961.5,427 963,428.6 964.5,430.2 966,431.8 967.5,433.4 969,435 970.5,436.6 972,438.2 973.5,439.8 975,441.4 976.5,443 978,444.6 979.5,446.3 981,447.9 982.5,449.8 984,451.7 985.5,453.9 987,456.1 988.5,458.5 990,460.8 991.5,463.1 993,465.3 994.5,467.5 996,469.5 997.5,471.5 999,473.3 1000.5,475.1 1002,476.7 1003.5,478.2 1005,479.6 1006.5,480.9 1008,482.1 1009.5,483.1 1011,484 1012.5,484.8 1014,485.4 1015.5,485.9 1017,486.2 1018.5,486.4 1020,486.4 1021.5,486.3 1023,486 1024.5,485.6 1026,485 1027.5,484.3 1029,483.5 1030.5,482.6 1032,481.6 1033.5,480.6 1035,479.5 1036.5,478.4 1038,477.2 1039.5,476.1 1041,475 1042.5,473.9 1044,472.8 1045.5,471.7 1047,470.6 1048.5,469.3 1050,468 1051.5,466.6 1053,465.2 1054.5,463.7 1056,462.3 1057.5,460.9 1059,459.7 1060.5,458.4 1062,457.2 1063.5,455.9 1065,454.5 1066.5,452.9 1068,451.3 1069.5,449.7 1071,448.2 1072.5,446.7 1074,445.4 1075.5,444.1 1077,442.9 1078.5,441.7 1080,440.5 1081.5,439.3 1083,438.1 1084.5,436.8 1086,435.5 1087.5,434.1 1089,432.6 1090.5,431.1 1092,429.5 1093.5,427.8 1095,426.1 1096.5,424.4 1098,422.5 1099.5,420.6 1101,418.7 1102.5,416.7 1104,414.6 1105.5,412.5 1107,410.3 1108.5,408.1 1110,405.8 1111.5,403.4 1113,401 1114.5,398.6 1116,396.1 1117.5,393.6 1119,391 1120.5,388.3 1122,385.7 1123.5,383 1125,380.3 1126.5,377.6 1128,375 1129.5,372.4 1131,369.9 1132.5,367.5 1134,365.3 1135.5,363.2 1137,361.3 1138.5,359.6 1140,358 1141.5,356.6 1143,355.4 1144.5,354.4 1146,353.6 1147.5,352.9 1149,352.4 1150.5,352.1 1152,352 1153.5,352.1 1155,352.3 1156.5,352.7 1158,353.3 1159.5,353.9 1161,354.7 1162.5,355.7 1164,356.8 1165.5,358 1167,359.4 1168.5,360.8 1170,362.3 1171.5,363.9 1173,365.6 1174.5,367.4 1176,369.2 1177.5,371 1179,372.9 1180.5,374.8 1182,376.7 1183.5,378.6 1185,380.5 1186.5,382.4 1188,384.3 1189.5,386.1 1191,388 1192.5,389.8 1194,391.6 1195.5,393.3 1197,395.1 1198.5,396.8 1200,398.5 1201.5,400.2 1203,401.9 1204.5,403.5 1206,405.2 1207.5,406.8 1209,408.4 1210.5,410 1212,411.6 1213.5,413.2 1215,414.8 1216.5,416.4 1218,418 1219.5,419.6 1221,421.1 1222.5,422.7 1224,424.3 1225.5,425.9 1227,427.5 1228.5,429.1 1230,430.6 1231.5,432.2 1233,433.8 1234.5,435.4 1236,437 1237.5,438.7 1239,440.3 1240.5,441.9 1242,443.5 1243.5,445.1 1245,446.7 1246.5,448.4 1248,450.3 1249.5,452.3 1251,454.5 1252.5,456.8 1254,459.1 1255.5,461.4 1257,463.7 1258.5,465.9 1260,468 1261.5,470 1263,472 1264.5,473.8 1266,475.5 1267.5,477.1 1269,478.6 1270.5,480 1272,481.2 1273.5,482.4 1275,483.4 1276.5,484.2 1278,485 1279.5,485.6 1281,486 1282.5,486.3 1284,486.4 1285.5,486.4 1287,486.2 1288.5,485.9 1290,485.4 1291.5,484.8 1293,484.1 1294.5,483.3 1296,482.3 1297.5,481.4 1299,480.3 1300.5,479.2 1302,478.1 1303.5,476.9 1305,475.8 1306.5,474.7 1308,473.6 1309.5,472.5 1311,471.4 1312.5,470.2 1314,469 1315.5,467.7 1317,466.2 1318.5,464.8 1320,463.3 1321.5,461.9 1323,460.6 1324.5,459.3 1326,458.1 1327.5,456.9 1329,455.5 1330.5,454.1 1332,452.5 1333.5,450.9 1335,449.3 1336.5,447.8 1338,446.4 1339.5,445 1341,443.8 1342.5,442.6 1344,441.4 1345.5,440.2 1347,439 1348.5,437.8 1350,436.5 1351.5,435.1 1353,433.7 1354.5,432.2 1356,430.7 1357.5,429.1 1359,427.4 1360.5,425.7 1362,423.9 1363.5,422 1365,420.1 1366.5,418.1 1368,416.1 1369.5,414 1371,411.9 1372.5,409.7 1374,407.5 1375.5,405.2 1377,402.8 1378.5,400.4 1380,397.9 1381.5,395.4 1383,392.9 1384.5,390.3 1386,387.6 1387.5,385 1389,382.3 1390.5,379.6 1392,376.9 1393.5,374.3 1395,371.7 1396.5,369.3 1398,366.9 1399.5,364.7 1401,362.7 1402.5,360.8 1404,359.1 1405.5,357.6 1407,356.3 1407,396.7 1405.5,397.4 1404,398.1 1402.5,399 1401,400.1 1399.5,401.2 1398,402.4 1396.5,403.7 1395,405.1 1393.5,406.6 1392,408.2 1390.5,409.8 1389,411.5 1387.5,413.2 1386,414.9 1384.5,416.6 1383,418.4 1381.5,420.2 1380,421.9 1378.5,423.7 1377,425.4 1375.5,427.1 1374,428.9 1372.5,430.6 1371,432.3 1369.5,434 1368,435.7 1366.5,437.3 1365,438.9 1363.5,440.6 1362,442.1 1360.5,443.7 1359,445.2 1357.5,446.7 1356,448.1 1354.5,449.5 1353,450.9 1351.5,452.2 1350,453.5 1348.5,454.8 1347,456 1345.5,457.1 1344,458.3 1342.5,459.4 1341,460.7 1339.5,461.9 1338,463.3 1336.5,464.8 1335,466.4 1333.5,468.1 1332,469.8 1330.5,471.5 1329,473.1 1327.5,474.6 1326,476 1324.5,477.4 1323,478.8 1321.5,480.3 1320,482 1318.5,483.7 1317,485.5 1315.5,487.3 1314,488.9 1312.5,490.5 1311,491.9 1309.5,493.4 1308,494.8 1306.5,496.2 1305,497.7 1303.5,499.2 1302,500.7 1300.5,502.2 1299,503.7 1297.5,505.2 1296,506.6 1294.5,507.9 1293,509.1 1291.5,510.1 1290,511 1288.5,511.7 1287,512.2 1285.5,512.4 1284,512.4 1282.5,512.2 1281,511.8 1279.5,511.2 1278,510.3 1276.5,509.3 1275,508 1273.5,506.6 1272,505 1270.5,503.3 1269,501.4 1267.5,499.4 1266,497.3 1264.5,495 1263,492.7 1261.5,490.2 1260,487.7 1258.5,485.1 1257,482.5 1255.5,479.8 1254,477.1 1252.5,474.5 1251,471.9 1249.5,469.5 1248,467.4 1246.5,465.4 1245,463.6 1243.5,462 1242,460.3 1240.5,458.8 1239,457.2 1237.5,455.6 1236,454.1 1234.5,452.5 1233,451 1231.5,449.6 1230,448.1 1228.5,446.7 1227,445.3 1225.5,443.9 1224,442.5 1222.5,441.2 1221,439.8 1219.5,438.5 1218,437.2 1216.5,435.9 1215,434.6 1213.5,433.3 1212,432.1 1210.5,430.8 1209,429.6 1207.5,428.4 1206,427.1 1204.5,425.9 1203,424.7 1201.5,423.5 1200,422.3 1198.5,421.1 1197,419.9 1195.5,418.7 1194,417.5 1192.5,416.3 1191,415.1 1189.5,413.9 1188,412.7 1186.5,411.6 1185,410.4 1183.5,409.2 1182,408 1180.5,406.9 1179,405.8 1177.5,404.7 1176,403.6 1174.5,402.6 1173,401.7 1171.5,400.7 1170,399.9 1168.5,399 1167,398.3 1165.5,397.6 1164,396.9 1162.5,396.4 1161,395.9 1159.5,395.5 1158,395.1 1156.5,394.9 1155,394.7 1153.5,394.6 1152,394.5 1150.5,394.6 1149,394.7 1147.5,395 1146,395.3 1144.5,395.7 1143,396.2 1141.5,396.8 1140,397.6 1138.5,398.4 1137,399.3 1135.5,400.3 1134,401.5 1132.5,402.7 1131,404.1 1129.5,405.5 1128,407 1126.5,408.6 1125,410.2 1123.5,411.9 1122,413.6 1120.5,415.4 1119,417.1 1117.5,418.9 1116,420.6 1114.5,422.4 1113,424.1 1111.5,425.9 1110,427.6 1108.5,429.3 1107,431 1105.5,432.7 1104,434.4 1102.5,436.1 1101,437.8 1099.5,439.4 1098,441 1096.5,442.5 1095,444.1 1093.5,445.6 1092,447.1 1090.5,448.5 1089,449.9 1087.5,451.3 1086,452.6 1084.5,453.9 1083,455.1 1081.5,456.3 1080,457.4 1078.5,458.6 1077,459.8 1075.5,461 1074,462.3 1072.5,463.7 1071,465.2 1069.5,466.8 1068,468.5 1066.5,470.2 1065,471.9 1063.5,473.5 1062,475 1060.5,476.4 1059,477.8 1057.5,479.2 1056,480.8 1054.5,482.4 1053,484.2 1051.5,486 1050,487.7 1048.5,489.3 1047,490.9 1045.5,492.3 1044,493.7 1042.5,495.1 1041,496.6 1039.5,498.1 1038,499.6 1036.5,501.1 1035,502.6 1033.5,504.1 1032,505.6 1030.5,506.9 1029,508.2 1027.5,509.4 1026,510.4 1024.5,511.2 1023,511.8 1021.5,512.2 1020,512.4 1018.5,512.4 1017,512.1 1015.5,511.7 1014,511 1012.5,510.1 1011,509 1009.5,507.7 1008,506.2 1006.5,504.6 1005,502.8 1003.5,500.9 1002,498.8 1000.5,496.7 999,494.4 997.5,492 996,489.6 994.5,487 993,484.4 991.5,481.8 990,479.1 988.5,476.4 987,473.8 985.5,471.3 984,468.9 982.5,466.8 981,464.9 979.5,463.2 978,461.5 976.5,459.9 975,458.3 973.5,456.8 972,455.2 970.5,453.7 969,452.1 967.5,450.6 966,449.2 964.5,447.7 963,446.3 961.5,444.9 960,443.5 958.5,442.1 957,440.8 955.5,439.5 954,438.1 952.5,436.8 951,435.6 949.5,434.3 948,433 946.5,431.8 945,430.5 943.5,429.3 942,428 940.5,426.8 939,425.6 937.5,424.4 936,423.2 934.5,422 933,420.8 931.5,419.6 930,418.4 928.5,417.2 927,416 925.5,414.8 924,413.6 922.5,412.4 921,411.2 919.5,410.1 918,408.9 916.5,407.7 915,406.6 913.5,405.5 912,404.4 910.5,403.4 909,402.4 907.5,401.4 906,400.5 904.5,399.6 903,398.8 901.5,398.1 900,397.4 898.5,396.8 897,396.2 895.5,395.8 894,395.4 892.5,395 891,394.8 889.5,394.6 888,394.5 886.5,394.5 885,394.6 883.5,394.8 882,395 880.5,395.4 879,395.8 877.5,396.4 876,397 874.5,397.8 873,398.6 871.5,399.6 870,400.6 868.5,401.8 867,403.1 865.5,404.4 864,405.9 862.5,407.4 861,409 859.5,410.7 858,412.4 856.5,414.1 855,415.8 853.5,417.6 852,419.3 850.5,421.1 849,422.8 847.5,424.6 846,426.3 844.5,428.1 843,429.8 841.5,431.5 840,433.2 838.5,434.9 837,436.5 835.5,438.2 834,439.8 832.5,441.4 831,443 829.5,444.5 828,446 826.5,447.5 825,448.9 823.5,450.3 822,451.6 820.5,452.9 819,454.2 817.5,455.4 816,456.6 814.5,457.7 813,458.9 811.5,460.1 810,461.3 808.5,462.6 807,464.1 805.5,465.6 804,467.3 802.5,469 801,470.7 799.5,472.3 798,473.9 796.5,475.3 795,476.7 793.5,478.1 792,479.6 790.5,481.2 789,482.9 787.5,484.7 786,486.5 784.5,488.2 783,489.8 781.5,491.3 780,492.7 778.5,494.1 777,495.5 775.5,497 774,498.5 772.5,500 771,501.5 769.5,503 768,504.5 766.5,505.9 765,507.3 763.5,508.5 762,509.6 760.5,510.6 759,511.4 757.5,512 756,512.3 754.5,512.5 753,512.4 751.5,512 750,511.5 748.5,510.7 747,509.8 745.5,508.6 744,507.3 742.5,505.8 741,504.1 739.5,502.3 738,500.4 736.5,498.3 735,496.1 733.5,493.8 732,491.4 730.5,488.9 729,486.3 727.5,483.7 726,481 724.5,478.4 723,475.7 721.5,473.1 720,470.6 718.5,468.4 717,466.3 715.5,464.5 714,462.7 712.5,461.1 711,459.5 709.5,457.9 708,456.3 706.5,454.8 705,453.3 703.5,451.7 702,450.3 700.5,448.8 699,447.3 697.5,445.9 696,444.5 694.5,443.1 693,441.8 691.5,440.4 690,439.1 688.5,437.8 687,436.5 685.5,435.2 684,433.9 682.5,432.7 681,431.4 679.5,430.2 678,428.9 676.5,427.7 675,426.5 673.5,425.3 672,424.1 670.5,422.9 669,421.7 667.5,420.5 666,419.3 664.5,418.1 663,416.9 661.5,415.7 660,414.5 658.5,413.3 657,412.1 655.5,410.9 654,409.8 652.5,408.6 651,407.4 649.5,406.3 648,405.2 646.5,404.1 645,403.1 643.5,402.1 642,401.2 640.5,400.3 639,399.4 637.5,398.6 636,397.9 634.5,397.2 633,396.6 631.5,396.1 630,395.7 628.5,395.3 627,395 625.5,394.7 624,394.6 622.5,394.5 621,394.5 619.5,394.6 618,394.8 616.5,395.1 615,395.5 613.5,396 612,396.5 610.5,397.2 609,398 607.5,398.9 606,399.8 604.5,400.9 603,402.1 601.5,403.4 600,404.8 598.5,406.3 597,407.9 595.5,409.5 594,411.1 592.5,412.8 591,414.6 589.5,416.3 588,418 586.5,419.8 585,421.6 583.5,423.3 582,425.1 580.5,426.8 579,428.5 577.5,430.2 576,432 574.5,433.7 573,435.3 571.5,437 570,438.6 568.5,440.2 567,441.8 565.5,443.4 564,444.9 562.5,446.4 561,447.8 559.5,449.3 558,450.6 556.5,452 555,453.3 553.5,454.5 552,455.7 550.5,456.9 549,458.1 547.5,459.2 546,460.4 544.5,461.7 543,463 541.5,464.5 540,466 538.5,467.7 537,469.4 535.5,471.2 534,472.8 532.5,474.3 531,475.7 529.5,477.1 528,478.5 526.5,480 525,481.6 523.5,483.4 522,485.2 520.5,486.9 519,488.6 517.5,490.2 516,491.6 514.5,493.1 513,494.5 511.5,495.9 510,497.4 508.5,498.9 507,500.4 505.5,501.9 504,503.4 502.5,504.9 501,506.3 499.5,507.6 498,508.8 496.5,509.9 495,510.8 493.5,511.6 492,512.1 490.5,512.4 489,512.5 487.5,512.3 486,511.9 484.5,511.3 483,510.5 481.5,509.5 480,508.3 478.5,506.9 477,505.4 475.5,503.7 474,501.8 472.5,499.8 471,497.7 469.5,495.5 468,493.1 466.5,490.7 465,488.2 463.5,485.6 462,483 460.5,480.3 459,477.6 457.5,475 456,472.4 454.5,470 453,467.8 451.5,465.8 450,464 448.5,462.3 447,460.7 445.5,459.1 444,457.5 442.5,455.9 441,454.4 439.5,452.8 438,451.3 436.5,449.9 435,448.4 433.5,447 432,445.6 430.5,444.2 429,442.8 427.5,441.4 426,440.1 424.5,438.8 423,437.5 421.5,436.2 420,434.9 418.5,433.6 417,432.3 415.5,431.1 414,429.8 412.5,428.6 411,427.4 409.5,426.2 408,425 406.5,423.7 405,422.5 403.5,421.3 402,420.1 400.5,418.9 399,417.8 397.5,416.6 396,415.4 394.5,414.2 393,413 391.5,411.8 390,410.6 388.5,409.4 387,408.3 385.5,407.1 384,406 382.5,404.9 381,403.9 379.5,402.8 378,401.9 376.5,400.9 375,400 373.5,399.2 372,398.4 370.5,397.7 369,397.1 367.5,396.5 366,396 364.5,395.5 363,395.2 361.5,394.9 360,394.7 358.5,394.6 357,394.5 355.5,394.6 354,394.7 352.5,394.9 351,395.2 349.5,395.6 348,396.1 346.5,396.7 345,397.4 343.5,398.2 342,399.1 340.5,400.1 339,401.2 337.5,402.5 336,403.8 334.5,405.2 333,406.7 331.5,408.3 330,409.9 328.5,411.6 327,413.3 325.5,415 324,416.8 322.5,418.5 321,420.3 319.5,422 318,423.8 316.5,425.5 315,427.3 313.5,429 312,430.7 310.5,432.4 309,434.1 307.5,435.8 306,437.4 304.5,439.1 303,440.7 301.5,442.2 300,443.8 298.5,445.3 297,446.8 295.5,448.2 294,449.6 292.5,451 291,452.3 289.5,453.6 288,454.8 286.5,456 285,457.2 283.5,458.4 282,459.5 280.5,460.7 279,462 277.5,463.4 276,464.9 274.5,466.5 273,468.2 271.5,469.9 270,471.6 268.5,473.2 267,474.7 265.5,476.1 264,477.5 262.5,478.9 261,480.4 259.5,482.1 258,483.8 256.5,485.6 255,487.4 253.5,489 252,490.6 250.5,492 249,493.4 247.5,494.9 246,496.3 244.5,497.8 243,499.3 241.5,500.8 240,502.3 238.5,503.8 237,505.3 235.5,506.7 234,508 232.5,509.1 231,510.2 229.5,511 228,511.7 226.5,512.2 225,512.4 223.5,512.4 222,512.2 220.5,511.8 219,511.1 217.5,510.2 216,509.2 214.5,507.9 213,506.5 211.5,504.9 210,503.2 208.5,501.3 207,499.3 205.5,497.1 204,494.9 202.5,492.5 201,490.1 199.5,487.5 198,484.9 196.5,482.3 195,479.6 193.5,476.9 192,474.3 190.5,471.8 189,469.4 187.5,467.2 186,465.3 184.5,463.5 183,461.9 181.5,460.2 180,458.6 178.5,457.1 177,455.5 175.5,454 174,452.4 172.5,450.9 171,449.5 169.5,448 168,446.6 166.5,445.2 165,443.8 163.5,442.4 162,441.1 160.5,439.7 159,438.4 157.5,437.1 156,435.8 154.5,434.5 153,433.3 151.5,432 150,430.8 148.5,429.5 147,428.3 145.5,427.1 144,425.8 142.5,424.6 141,423.4 139.5,422.2 138,421 136.5,419.8 135,418.6 133.5,417.4 132,416.2 130.5,415.1 129,413.9 127.5,412.7 126,411.5 124.5,410.3 123,409.1 121.5,408 120,406.8 118.5,405.7 117,404.6 115.5,403.6 114,402.6 112.5,401.6 111,400.7 109.5,399.8 108,399 106.5,398.2 105,397.5 103.5,396.9 102,396.3 100.5,395.9 99,395.4 97.5,395.1 96,394.8 94.5,394.7 93,394.5 91.5,394.5 90,394.6 88.5,394.7 87,395 85.5,395.3 84,395.7 82.5,396.3 81,396.9Z" fill="#120010" stroke="#705870" stroke-width="3" stroke-opacity="0.55"/>
<path d="M81,373 82.5,372 84,371.2 85.5,370.5 87,370 88.5,369.6 90,369.3 91.5,369.2 93,369.3 94.5,369.4 96,369.7 97.5,370.2 99,370.7 100.5,371.4 102,372.1 103.5,373 105,374 106.5,375.1 108,376.3 109.5,377.5 111,378.8 112.5,380.2 114,381.7 115.5,383.2 117,384.7 118.5,386.3 120,387.9 121.5,389.5 123,391.2 124.5,392.8 126,394.4 127.5,396.1 129,397.7 130.5,399.3 132,400.9 133.5,402.5 135,404 136.5,405.6 138,407.1 139.5,408.7 141,410.2 142.5,411.7 144,413.2 145.5,414.7 147,416.2 148.5,417.7 150,419.2 151.5,420.7 153,422.2 154.5,423.7 156,425.2 157.5,426.7 159,428.2 160.5,429.7 162,431.2 163.5,432.8 165,434.3 166.5,435.9 168,437.4 169.5,439 171,440.6 172.5,442.2 174,443.8 175.5,445.4 177,447 178.5,448.7 180,450.3 181.5,452 183,453.6 184.5,455.3 186,457.1 187.5,459.1 189,461.2 190.5,463.6 192,466 193.5,468.6 195,471.2 196.5,473.7 198,476.2 199.5,478.6 201,480.9 202.5,483.2 204,485.3 205.5,487.3 207,489.2 208.5,491 210,492.7 211.5,494.2 213,495.6 214.5,496.8 216,497.9 217.5,498.8 219,499.5 220.5,500.1 222,500.5 223.5,500.7 225,500.7 226.5,500.5 228,500.1 229.5,499.5 231,498.7 232.5,497.9 234,496.8 235.5,495.7 237,494.5 238.5,493.2 240,491.9 241.5,490.6 243,489.2 244.5,487.9 246,486.6 247.5,485.3 249,484 250.5,482.7 252,481.4 253.5,480 255,478.5 256.5,476.8 258,475.2 259.5,473.5 261,472 262.5,470.5 264,469.1 265.5,467.8 267,466.4 268.5,465 270,463.4 271.5,461.7 273,460 274.5,458.3 276,456.7 277.5,455.2 279,453.8 280.5,452.5 282,451.2 283.5,450 285,448.8 286.5,447.6 288,446.3 289.5,445 291,443.7 292.5,442.2 294,440.8 295.5,439.2 297,437.6 298.5,436 300,434.3 301.5,432.6 303,430.8 304.5,429 306,427.1 307.5,425.2 309,423.2 310.5,421.2 312,419.1 313.5,417.1 315,414.9 316.5,412.8 318,410.6 319.5,408.4 321,406.1 322.5,403.9 324,401.6 325.5,399.2 327,396.9 328.5,394.6 330,392.3 331.5,390 333,387.7 334.5,385.6 336,383.5 337.5,381.5 339,379.7 340.5,378 342,376.5 343.5,375.1 345,373.8 346.5,372.7 348,371.8 349.5,371 351,370.3 352.5,369.8 354,369.5 355.5,369.3 357,369.2 358.5,369.3 360,369.5 361.5,369.8 363,370.3 364.5,370.9 366,371.6 367.5,372.4 369,373.3 370.5,374.3 372,375.4 373.5,376.6 375,377.9 376.5,379.2 378,380.6 379.5,382.1 381,383.6 382.5,385.1 384,386.7 385.5,388.3 387,390 388.5,391.6 390,393.2 391.5,394.9 393,396.5 394.5,398.1 396,399.7 397.5,401.3 399,402.9 400.5,404.4 402,406 403.5,407.5 405,409.1 406.5,410.6 408,412.1 409.5,413.6 411,415.1 412.5,416.6 414,418.1 415.5,419.6 417,421.1 418.5,422.6 420,424.1 421.5,425.6 423,427.1 424.5,428.6 426,430.1 427.5,431.7 429,433.2 430.5,434.7 432,436.3 433.5,437.8 435,439.4 436.5,441 438,442.6 439.5,444.2 441,445.8 442.5,447.5 444,449.1 445.5,450.8 447,452.4 448.5,454.1 450,455.8 451.5,457.6 453,459.6 454.5,461.8 456,464.2 457.5,466.7 459,469.3 460.5,471.9 462,474.4 463.5,476.8 465,479.2 466.5,481.5 468,483.7 469.5,485.8 471,487.8 472.5,489.7 474,491.5 475.5,493.1 477,494.6 478.5,495.9 480,497.1 481.5,498.2 483,499 484.5,499.7 486,500.2 487.5,500.6 489,500.7 490.5,500.6 492,500.4 493.5,499.9 495,499.3 496.5,498.5 498,497.6 499.5,496.6 501,495.4 502.5,494.2 504,492.9 505.5,491.6 507,490.2 508.5,488.9 510,487.5 511.5,486.2 513,484.9 514.5,483.7 516,482.4 517.5,481 519,479.6 520.5,478 522,476.4 523.5,474.7 525,473.1 526.5,471.6 528,470.1 529.5,468.8 531,467.4 532.5,466 534,464.6 535.5,463 537,461.3 538.5,459.6 540,457.9 541.5,456.3 543,454.8 544.5,453.4 546,452.1 547.5,450.9 549,449.7 550.5,448.5 552,447.3 553.5,446 555,444.7 556.5,443.3 558,441.8 559.5,440.4 561,438.8 562.5,437.2 564,435.6 565.5,433.9 567,432.1 568.5,430.3 570,428.5 571.5,426.6 573,424.6 574.5,422.7 576,420.6 577.5,418.6 579,416.5 580.5,414.4 582,412.2 583.5,410 585,407.8 586.5,405.5 588,403.3 589.5,401 591,398.6 592.5,396.3 594,394 595.5,391.6 597,389.4 598.5,387.1 600,385 601.5,383 603,381 604.5,379.2 606,377.6 607.5,376.1 609,374.7 610.5,373.5 612,372.5 613.5,371.5 615,370.8 616.5,370.2 618,369.7 619.5,369.4 621,369.3 622.5,369.2 624,369.3 625.5,369.6 627,370 628.5,370.4 630,371 631.5,371.8 633,372.6 634.5,373.5 636,374.6 637.5,375.7 639,376.9 640.5,378.2 642,379.6 643.5,381 645,382.5 646.5,384 648,385.6 649.5,387.2 651,388.8 652.5,390.4 654,392 655.5,393.7 657,395.3 658.5,396.9 660,398.5 661.5,400.1 663,401.7 664.5,403.3 666,404.9 667.5,406.4 669,407.9 670.5,409.5 672,411 673.5,412.5 675,414 676.5,415.5 678,417 679.5,418.5 681,420 682.5,421.5 684,423 685.5,424.5 687,426 688.5,427.5 690,429 691.5,430.5 693,432.1 694.5,433.6 696,435.1 697.5,436.7 699,438.3 700.5,439.8 702,441.4 703.5,443 705,444.6 706.5,446.3 708,447.9 709.5,449.6 711,451.2 712.5,452.9 714,454.5 715.5,456.3 717,458.2 718.5,460.2 720,462.5 721.5,464.9 723,467.4 724.5,470 726,472.5 727.5,475 729,477.5 730.5,479.8 732,482.1 733.5,484.3 735,486.4 736.5,488.3 738,490.2 739.5,491.9 741,493.5 742.5,495 744,496.3 745.5,497.4 747,498.4 748.5,499.2 750,499.9 751.5,500.3 753,500.6 754.5,500.7 756,500.6 757.5,500.3 759,499.8 760.5,499.1 762,498.3 763.5,497.3 765,496.3 766.5,495.1 768,493.8 769.5,492.5 771,491.2 772.5,489.8 774,488.5 775.5,487.2 777,485.9 778.5,484.6 780,483.3 781.5,482 783,480.6 784.5,479.2 786,477.6 787.5,475.9 789,474.3 790.5,472.7 792,471.2 793.5,469.8 795,468.4 796.5,467.1 798,465.7 799.5,464.1 801,462.5 802.5,460.8 804,459.1 805.5,457.5 807,455.9 808.5,454.4 810,453.1 811.5,451.8 813,450.6 814.5,449.4 816,448.2 817.5,446.9 819,445.6 820.5,444.3 822,442.9 823.5,441.5 825,440 826.5,438.4 828,436.8 829.5,435.1 831,433.4 832.5,431.6 834,429.8 835.5,428 837,426.1 838.5,424.1 840,422.1 841.5,420.1 843,418 844.5,415.9 846,413.8 847.5,411.6 849,409.4 850.5,407.2 852,404.9 853.5,402.6 855,400.3 856.5,398 858,395.7 859.5,393.3 861,391 862.5,388.8 864,386.6 865.5,384.4 867,382.4 868.5,380.5 870,378.8 871.5,377.2 873,375.7 874.5,374.4 876,373.2 877.5,372.2 879,371.3 880.5,370.6 882,370 883.5,369.6 885,369.4 886.5,369.2 888,369.2 889.5,369.4 891,369.7 892.5,370.1 894,370.6 895.5,371.2 897,372 898.5,372.8 900,373.8 901.5,374.9 903,376 904.5,377.3 906,378.6 907.5,380 909,381.4 910.5,382.9 912,384.4 913.5,386 915,387.6 916.5,389.2 918,390.8 919.5,392.5 921,394.1 922.5,395.7 924,397.4 925.5,399 927,400.6 928.5,402.1 930,403.7 931.5,405.3 933,406.8 934.5,408.3 936,409.9 937.5,411.4 939,412.9 940.5,414.4 942,415.9 943.5,417.4 945,418.9 946.5,420.4 948,421.9 949.5,423.4 951,424.9 952.5,426.4 954,427.9 955.5,429.4 957,430.9 958.5,432.5 960,434 961.5,435.6 963,437.1 964.5,438.7 966,440.3 967.5,441.9 969,443.5 970.5,445.1 972,446.7 973.5,448.4 975,450 976.5,451.6 978,453.3 979.5,455 981,456.8 982.5,458.7 984,460.8 985.5,463.1 987,465.5 988.5,468.1 990,470.7 991.5,473.2 993,475.7 994.5,478.1 996,480.5 997.5,482.7 999,484.9 1000.5,486.9 1002,488.8 1003.5,490.7 1005,492.3 1006.5,493.9 1008,495.3 1009.5,496.6 1011,497.7 1012.5,498.6 1014,499.4 1015.5,500 1017,500.4 1018.5,500.6 1020,500.7 1021.5,500.5 1023,500.2 1024.5,499.6 1026,498.9 1027.5,498 1029,497.1 1030.5,495.9 1032,494.8 1033.5,493.5 1035,492.2 1036.5,490.8 1038,489.5 1039.5,488.1 1041,486.8 1042.5,485.5 1044,484.3 1045.5,483 1047,481.7 1048.5,480.3 1050,478.8 1051.5,477.2 1053,475.5 1054.5,473.8 1056,472.3 1057.5,470.8 1059,469.4 1060.5,468 1062,466.7 1063.5,465.3 1065,463.7 1066.5,462.1 1068,460.4 1069.5,458.7 1071,457 1072.5,455.5 1074,454.1 1075.5,452.7 1077,451.5 1078.5,450.3 1080,449.1 1081.5,447.8 1083,446.6 1084.5,445.3 1086,443.9 1087.5,442.5 1089,441.1 1090.5,439.5 1092,438 1093.5,436.3 1095,434.7 1096.5,432.9 1098,431.1 1099.5,429.3 1101,427.5 1102.5,425.5 1104,423.6 1105.5,421.6 1107,419.6 1108.5,417.5 1110,415.4 1111.5,413.2 1113,411 1114.5,408.8 1116,406.6 1117.5,404.3 1119,402 1120.5,399.7 1122,397.4 1123.5,395 1125,392.7 1126.5,390.4 1128,388.2 1129.5,386 1131,383.9 1132.5,381.9 1134,380.1 1135.5,378.3 1137,376.8 1138.5,375.3 1140,374.1 1141.5,372.9 1143,371.9 1144.5,371.1 1146,370.5 1147.5,369.9 1149,369.5 1150.5,369.3 1152,369.2 1153.5,369.3 1155,369.5 1156.5,369.8 1158,370.2 1159.5,370.7 1161,371.4 1162.5,372.2 1164,373.1 1165.5,374.1 1167,375.2 1168.5,376.3 1170,377.6 1171.5,378.9 1173,380.3 1174.5,381.8 1176,383.3 1177.5,384.8 1179,386.4 1180.5,388 1182,389.6 1183.5,391.3 1185,392.9 1186.5,394.5 1188,396.2 1189.5,397.8 1191,399.4 1192.5,401 1194,402.6 1195.5,404.1 1197,405.7 1198.5,407.2 1200,408.8 1201.5,410.3 1203,411.8 1204.5,413.3 1206,414.8 1207.5,416.3 1209,417.8 1210.5,419.3 1212,420.8 1213.5,422.3 1215,423.8 1216.5,425.3 1218,426.8 1219.5,428.3 1221,429.8 1222.5,431.4 1224,432.9 1225.5,434.4 1227,436 1228.5,437.5 1230,439.1 1231.5,440.7 1233,442.3 1234.5,443.9 1236,445.5 1237.5,447.1 1239,448.8 1240.5,450.4 1242,452.1 1243.5,453.7 1245,455.5 1246.5,457.3 1248,459.2 1249.5,461.4 1251,463.7 1252.5,466.2 1254,468.8 1255.5,471.3 1257,473.9 1258.5,476.4 1260,478.8 1261.5,481.1 1263,483.3 1264.5,485.4 1266,487.4 1267.5,489.3 1269,491.1 1270.5,492.8 1272,494.3 1273.5,495.7 1275,496.9 1276.5,498 1278,498.9 1279.5,499.6 1281,500.1 1282.5,500.5 1284,500.7 1285.5,500.7 1287,500.4 1288.5,500 1290,499.4 1291.5,498.7 1293,497.8 1294.5,496.8 1296,495.6 1297.5,494.4 1299,493.1 1300.5,491.8 1302,490.5 1303.5,489.1 1305,487.8 1306.5,486.5 1308,485.2 1309.5,483.9 1311,482.6 1312.5,481.3 1314,479.9 1315.5,478.3 1317,476.7 1318.5,475.1 1320,473.4 1321.5,471.9 1323,470.4 1324.5,469 1326,467.7 1327.5,466.3 1329,464.9 1330.5,463.3 1332,461.6 1333.5,459.9 1335,458.2 1336.5,456.6 1338,455.1 1339.5,453.7 1341,452.4 1342.5,451.2 1344,449.9 1345.5,448.7 1347,447.5 1348.5,446.2 1350,444.9 1351.5,443.6 1353,442.1 1354.5,440.7 1356,439.1 1357.5,437.5 1359,435.9 1360.5,434.2 1362,432.5 1363.5,430.7 1365,428.8 1366.5,427 1368,425 1369.5,423.1 1371,421.1 1372.5,419 1374,416.9 1375.5,414.8 1377,412.6 1378.5,410.5 1380,408.2 1381.5,406 1383,403.7 1384.5,401.4 1386,399.1 1387.5,396.8 1389,394.4 1390.5,392.1 1392,389.8 1393.5,387.6 1395,385.4 1396.5,383.4 1398,381.4 1399.5,379.6 1401,377.9 1402.5,376.4 1404,375 1405.5,373.7 1407,372.7" fill="none" stroke="#1a0018" stroke-width="13" stroke-linejoin="round" />
<path d="M81,373 82.5,372 84,371.2 85.5,370.5 87,370 88.5,369.6 90,369.3 91.5,369.2 93,369.3 94.5,369.4 96,369.7 97.5,370.2 99,370.7 100.5,371.4 102,372.1 103.5,373 105,374 106.5,375.1 108,376.3 109.5,377.5 111,378.8 112.5,380.2 114,381.7 115.5,383.2 117,384.7 118.5,386.3 120,387.9 121.5,389.5 123,391.2 124.5,392.8 126,394.4 127.5,396.1 129,397.7 130.5,399.3 132,400.9 133.5,402.5 135,404 136.5,405.6 138,407.1 139.5,408.7 141,410.2 142.5,411.7 144,413.2 145.5,414.7 147,416.2 148.5,417.7 150,419.2 151.5,420.7 153,422.2 154.5,423.7 156,425.2 157.5,426.7 159,428.2 160.5,429.7 162,431.2 163.5,432.8 165,434.3 166.5,435.9 168,437.4 169.5,439 171,440.6 172.5,442.2 174,443.8 175.5,445.4 177,447 178.5,448.7 180,450.3 181.5,452 183,453.6 184.5,455.3 186,457.1 187.5,459.1 189,461.2 190.5,463.6 192,466 193.5,468.6 195,471.2 196.5,473.7 198,476.2 199.5,478.6 201,480.9 202.5,483.2 204,485.3 205.5,487.3 207,489.2 208.5,491 210,492.7 211.5,494.2 213,495.6 214.5,496.8 216,497.9 217.5,498.8 219,499.5 220.5,500.1 222,500.5 223.5,500.7 225,500.7 226.5,500.5 228,500.1 229.5,499.5 231,498.7 232.5,497.9 234,496.8 235.5,495.7 237,494.5 238.5,493.2 240,491.9 241.5,490.6 243,489.2 244.5,487.9 246,486.6 247.5,485.3 249,484 250.5,482.7 252,481.4 253.5,480 255,478.5 256.5,476.8 258,475.2 259.5,473.5 261,472 262.5,470.5 264,469.1 265.5,467.8 267,466.4 268.5,465 270,463.4 271.5,461.7 273,460 274.5,458.3 276,456.7 277.5,455.2 279,453.8 280.5,452.5 282,451.2 283.5,450 285,448.8 286.5,447.6 288,446.3 289.5,445 291,443.7 292.5,442.2 294,440.8 295.5,439.2 297,437.6 298.5,436 300,434.3 301.5,432.6 303,430.8 304.5,429 306,427.1 307.5,425.2 309,423.2 310.5,421.2 312,419.1 313.5,417.1 315,414.9 316.5,412.8 318,410.6 319.5,408.4 321,406.1 322.5,403.9 324,401.6 325.5,399.2 327,396.9 328.5,394.6 330,392.3 331.5,390 333,387.7 334.5,385.6 336,383.5 337.5,381.5 339,379.7 340.5,378 342,376.5 343.5,375.1 345,373.8 346.5,372.7 348,371.8 349.5,371 351,370.3 352.5,369.8 354,369.5 355.5,369.3 357,369.2 358.5,369.3 360,369.5 361.5,369.8 363,370.3 364.5,370.9 366,371.6 367.5,372.4 369,373.3 370.5,374.3 372,375.4 373.5,376.6 375,377.9 376.5,379.2 378,380.6 379.5,382.1 381,383.6 382.5,385.1 384,386.7 385.5,388.3 387,390 388.5,391.6 390,393.2 391.5,394.9 393,396.5 394.5,398.1 396,399.7 397.5,401.3 399,402.9 400.5,404.4 402,406 403.5,407.5 405,409.1 406.5,410.6 408,412.1 409.5,413.6 411,415.1 412.5,416.6 414,418.1 415.5,419.6 417,421.1 418.5,422.6 420,424.1 421.5,425.6 423,427.1 424.5,428.6 426,430.1 427.5,431.7 429,433.2 430.5,434.7 432,436.3 433.5,437.8 435,439.4 436.5,441 438,442.6 439.5,444.2 441,445.8 442.5,447.5 444,449.1 445.5,450.8 447,452.4 448.5,454.1 450,455.8 451.5,457.6 453,459.6 454.5,461.8 456,464.2 457.5,466.7 459,469.3 460.5,471.9 462,474.4 463.5,476.8 465,479.2 466.5,481.5 468,483.7 469.5,485.8 471,487.8 472.5,489.7 474,491.5 475.5,493.1 477,494.6 478.5,495.9 480,497.1 481.5,498.2 483,499 484.5,499.7 486,500.2 487.5,500.6 489,500.7 490.5,500.6 492,500.4 493.5,499.9 495,499.3 496.5,498.5 498,497.6 499.5,496.6 501,495.4 502.5,494.2 504,492.9 505.5,491.6 507,490.2 508.5,488.9 510,487.5 511.5,486.2 513,484.9 514.5,483.7 516,482.4 517.5,481 519,479.6 520.5,478 522,476.4 523.5,474.7 525,473.1 526.5,471.6 528,470.1 529.5,468.8 531,467.4 532.5,466 534,464.6 535.5,463 537,461.3 538.5,459.6 540,457.9 541.5,456.3 543,454.8 544.5,453.4 546,452.1 547.5,450.9 549,449.7 550.5,448.5 552,447.3 553.5,446 555,444.7 556.5,443.3 558,441.8 559.5,440.4 561,438.8 562.5,437.2 564,435.6 565.5,433.9 567,432.1 568.5,430.3 570,428.5 571.5,426.6 573,424.6 574.5,422.7 576,420.6 577.5,418.6 579,416.5 580.5,414.4 582,412.2 583.5,410 585,407.8 586.5,405.5 588,403.3 589.5,401 591,398.6 592.5,396.3 594,394 595.5,391.6 597,389.4 598.5,387.1 600,385 601.5,383 603,381 604.5,379.2 606,377.6 607.5,376.1 609,374.7 610.5,373.5 612,372.5 613.5,371.5 615,370.8 616.5,370.2 618,369.7 619.5,369.4 621,369.3 622.5,369.2 624,369.3 625.5,369.6 627,370 628.5,370.4 630,371 631.5,371.8 633,372.6 634.5,373.5 636,374.6 637.5,375.7 639,376.9 640.5,378.2 642,379.6 643.5,381 645,382.5 646.5,384 648,385.6 649.5,387.2 651,388.8 652.5,390.4 654,392 655.5,393.7 657,395.3 658.5,396.9 660,398.5 661.5,400.1 663,401.7 664.5,403.3 666,404.9 667.5,406.4 669,407.9 670.5,409.5 672,411 673.5,412.5 675,414 676.5,415.5 678,417 679.5,418.5 681,420 682.5,421.5 684,423 685.5,424.5 687,426 688.5,427.5 690,429 691.5,430.5 693,432.1 694.5,433.6 696,435.1 697.5,436.7 699,438.3 700.5,439.8 702,441.4 703.5,443 705,444.6 706.5,446.3 708,447.9 709.5,449.6 711,451.2 712.5,452.9 714,454.5 715.5,456.3 717,458.2 718.5,460.2 720,462.5 721.5,464.9 723,467.4 724.5,470 726,472.5 727.5,475 729,477.5 730.5,479.8 732,482.1 733.5,484.3 735,486.4 736.5,488.3 738,490.2 739.5,491.9 741,493.5 742.5,495 744,496.3 745.5,497.4 747,498.4 748.5,499.2 750,499.9 751.5,500.3 753,500.6 754.5,500.7 756,500.6 757.5,500.3 759,499.8 760.5,499.1 762,498.3 763.5,497.3 765,496.3 766.5,495.1 768,493.8 769.5,492.5 771,491.2 772.5,489.8 774,488.5 775.5,487.2 777,485.9 778.5,484.6 780,483.3 781.5,482 783,480.6 784.5,479.2 786,477.6 787.5,475.9 789,474.3 790.5,472.7 792,471.2 793.5,469.8 795,468.4 796.5,467.1 798,465.7 799.5,464.1 801,462.5 802.5,460.8 804,459.1 805.5,457.5 807,455.9 808.5,454.4 810,453.1 811.5,451.8 813,450.6 814.5,449.4 816,448.2 817.5,446.9 819,445.6 820.5,444.3 822,442.9 823.5,441.5 825,440 826.5,438.4 828,436.8 829.5,435.1 831,433.4 832.5,431.6 834,429.8 835.5,428 837,426.1 838.5,424.1 840,422.1 841.5,420.1 843,418 844.5,415.9 846,413.8 847.5,411.6 849,409.4 850.5,407.2 852,404.9 853.5,402.6 855,400.3 856.5,398 858,395.7 859.5,393.3 861,391 862.5,388.8 864,386.6 865.5,384.4 867,382.4 868.5,380.5 870,378.8 871.5,377.2 873,375.7 874.5,374.4 876,373.2 877.5,372.2 879,371.3 880.5,370.6 882,370 883.5,369.6 885,369.4 886.5,369.2 888,369.2 889.5,369.4 891,369.7 892.5,370.1 894,370.6 895.5,371.2 897,372 898.5,372.8 900,373.8 901.5,374.9 903,376 904.5,377.3 906,378.6 907.5,380 909,381.4 910.5,382.9 912,384.4 913.5,386 915,387.6 916.5,389.2 918,390.8 919.5,392.5 921,394.1 922.5,395.7 924,397.4 925.5,399 927,400.6 928.5,402.1 930,403.7 931.5,405.3 933,406.8 934.5,408.3 936,409.9 937.5,411.4 939,412.9 940.5,414.4 942,415.9 943.5,417.4 945,418.9 946.5,420.4 948,421.9 949.5,423.4 951,424.9 952.5,426.4 954,427.9 955.5,429.4 957,430.9 958.5,432.5 960,434 961.5,435.6 963,437.1 964.5,438.7 966,440.3 967.5,441.9 969,443.5 970.5,445.1 972,446.7 973.5,448.4 975,450 976.5,451.6 978,453.3 979.5,455 981,456.8 982.5,458.7 984,460.8 985.5,463.1 987,465.5 988.5,468.1 990,470.7 991.5,473.2 993,475.7 994.5,478.1 996,480.5 997.5,482.7 999,484.9 1000.5,486.9 1002,488.8 1003.5,490.7 1005,492.3 1006.5,493.9 1008,495.3 1009.5,496.6 1011,497.7 1012.5,498.6 1014,499.4 1015.5,500 1017,500.4 1018.5,500.6 1020,500.7 1021.5,500.5 1023,500.2 1024.5,499.6 1026,498.9 1027.5,498 1029,497.1 1030.5,495.9 1032,494.8 1033.5,493.5 1035,492.2 1036.5,490.8 1038,489.5 1039.5,488.1 1041,486.8 1042.5,485.5 1044,484.3 1045.5,483 1047,481.7 1048.5,480.3 1050,478.8 1051.5,477.2 1053,475.5 1054.5,473.8 1056,472.3 1057.5,470.8 1059,469.4 1060.5,468 1062,466.7 1063.5,465.3 1065,463.7 1066.5,462.1 1068,460.4 1069.5,458.7 1071,457 1072.5,455.5 1074,454.1 1075.5,452.7 1077,451.5 1078.5,450.3 1080,449.1 1081.5,447.8 1083,446.6 1084.5,445.3 1086,443.9 1087.5,442.5 1089,441.1 1090.5,439.5 1092,438 1093.5,436.3 1095,434.7 1096.5,432.9 1098,431.1 1099.5,429.3 1101,427.5 1102.5,425.5 1104,423.6 1105.5,421.6 1107,419.6 1108.5,417.5 1110,415.4 1111.5,413.2 1113,411 1114.5,408.8 1116,406.6 1117.5,404.3 1119,402 1120.5,399.7 1122,397.4 1123.5,395 1125,392.7 1126.5,390.4 1128,388.2 1129.5,386 1131,383.9 1132.5,381.9 1134,380.1 1135.5,378.3 1137,376.8 1138.5,375.3 1140,374.1 1141.5,372.9 1143,371.9 1144.5,371.1 1146,370.5 1147.5,369.9 1149,369.5 1150.5,369.3 1152,369.2 1153.5,369.3 1155,369.5 1156.5,369.8 1158,370.2 1159.5,370.7 1161,371.4 1162.5,372.2 1164,373.1 1165.5,374.1 1167,375.2 1168.5,376.3 1170,377.6 1171.5,378.9 1173,380.3 1174.5,381.8 1176,383.3 1177.5,384.8 1179,386.4 1180.5,388 1182,389.6 1183.5,391.3 1185,392.9 1186.5,394.5 1188,396.2 1189.5,397.8 1191,399.4 1192.5,401 1194,402.6 1195.5,404.1 1197,405.7 1198.5,407.2 1200,408.8 1201.5,410.3 1203,411.8 1204.5,413.3 1206,414.8 1207.5,416.3 1209,417.8 1210.5,419.3 1212,420.8 1213.5,422.3 1215,423.8 1216.5,425.3 1218,426.8 1219.5,428.3 1221,429.8 1222.5,431.4 1224,432.9 1225.5,434.4 1227,436 1228.5,437.5 1230,439.1 1231.5,440.7 1233,442.3 1234.5,443.9 1236,445.5 1237.5,447.1 1239,448.8 1240.5,450.4 1242,452.1 1243.5,453.7 1245,455.5 1246.5,457.3 1248,459.2 1249.5,461.4 1251,463.7 1252.5,466.2 1254,468.8 1255.5,471.3 1257,473.9 1258.5,476.4 1260,478.8 1261.5,481.1 1263,483.3 1264.5,485.4 1266,487.4 1267.5,489.3 1269,491.1 1270.5,492.8 1272,494.3 1273.5,495.7 1275,496.9 1276.5,498 1278,498.9 1279.5,499.6 1281,500.1 1282.5,500.5 1284,500.7 1285.5,500.7 1287,500.4 1288.5,500 1290,499.4 1291.5,498.7 1293,497.8 1294.5,496.8 1296,495.6 1297.5,494.4 1299,493.1 1300.5,491.8 1302,490.5 1303.5,489.1 1305,487.8 1306.5,486.5 1308,485.2 1309.5,483.9 1311,482.6 1312.5,481.3 1314,479.9 1315.5,478.3 1317,476.7 1318.5,475.1 1320,473.4 1321.5,471.9 1323,470.4 1324.5,469 1326,467.7 1327.5,466.3 1329,464.9 1330.5,463.3 1332,461.6 1333.5,459.9 1335,458.2 1336.5,456.6 1338,455.1 1339.5,453.7 1341,452.4 1342.5,451.2 1344,449.9 1345.5,448.7 1347,447.5 1348.5,446.2 1350,444.9 1351.5,443.6 1353,442.1 1354.5,440.7 1356,439.1 1357.5,437.5 1359,435.9 1360.5,434.2 1362,432.5 1363.5,430.7 1365,428.8 1366.5,427 1368,425 1369.5,423.1 1371,421.1 1372.5,419 1374,416.9 1375.5,414.8 1377,412.6 1378.5,410.5 1380,408.2 1381.5,406 1383,403.7 1384.5,401.4 1386,399.1 1387.5,396.8 1389,394.4 1390.5,392.1 1392,389.8 1393.5,387.6 1395,385.4 1396.5,383.4 1398,381.4 1399.5,379.6 1401,377.9 1402.5,376.4 1404,375 1405.5,373.7 1407,372.7" fill="none" stroke="#90009c" stroke-width="7" stroke-linejoin="round" />
<path d="M81,372 82.5,371 84,370.2 85.5,369.5 87,369 88.5,368.6 90,368.3 91.5,368.2 93,368.3 94.5,368.4 96,368.7 97.5,369.2 99,369.7 100.5,370.4 102,371.1 103.5,372 105,373 106.5,374.1 108,375.3 109.5,376.5 111,377.8 112.5,379.2 114,380.7 115.5,382.2 117,383.7 118.5,385.3 120,386.9 121.5,388.5 123,390.2 124.5,391.8 126,393.4 127.5,395.1 129,396.7 130.5,398.3 132,399.9 133.5,401.5 135,403 136.5,404.6 138,406.1 139.5,407.7 141,409.2 142.5,410.7 144,412.2 145.5,413.7 147,415.2 148.5,416.7 150,418.2 151.5,419.7 153,421.2 154.5,422.7 156,424.2 157.5,425.7 159,427.2 160.5,428.7 162,430.2 163.5,431.8 165,433.3 166.5,434.9 168,436.4 169.5,438 171,439.6 172.5,441.2 174,442.8 175.5,444.4 177,446 178.5,447.7 180,449.3 181.5,451 183,452.6 184.5,454.3 186,456.1 187.5,458.1 189,460.2 190.5,462.6 192,465 193.5,467.6 195,470.2 196.5,472.7 198,475.2 199.5,477.6 201,479.9 202.5,482.2 204,484.3 205.5,486.3 207,488.2 208.5,490 210,491.7 211.5,493.2 213,494.6 214.5,495.8 216,496.9 217.5,497.8 219,498.5 220.5,499.1 222,499.5 223.5,499.7 225,499.7 226.5,499.5 228,499.1 229.5,498.5 231,497.7 232.5,496.9 234,495.8 235.5,494.7 237,493.5 238.5,492.2 240,490.9 241.5,489.6 243,488.2 244.5,486.9 246,485.6 247.5,484.3 249,483 250.5,481.7 252,480.4 253.5,479 255,477.5 256.5,475.8 258,474.2 259.5,472.5 261,471 262.5,469.5 264,468.1 265.5,466.8 267,465.4 268.5,464 270,462.4 271.5,460.7 273,459 274.5,457.3 276,455.7 277.5,454.2 279,452.8 280.5,451.5 282,450.2 283.5,449 285,447.8 286.5,446.6 288,445.3 289.5,444 291,442.7 292.5,441.2 294,439.8 295.5,438.2 297,436.6 298.5,435 300,433.3 301.5,431.6 303,429.8 304.5,428 306,426.1 307.5,424.2 309,422.2 310.5,420.2 312,418.1 313.5,416.1 315,413.9 316.5,411.8 318,409.6 319.5,407.4 321,405.1 322.5,402.9 324,400.6 325.5,398.2 327,395.9 328.5,393.6 330,391.3 331.5,389 333,386.7 334.5,384.6 336,382.5 337.5,380.5 339,378.7 340.5,377 342,375.5 343.5,374.1 345,372.8 346.5,371.7 348,370.8 349.5,370 351,369.3 352.5,368.8 354,368.5 355.5,368.3 357,368.2 358.5,368.3 360,368.5 361.5,368.8 363,369.3 364.5,369.9 366,370.6 367.5,371.4 369,372.3 370.5,373.3 372,374.4 373.5,375.6 375,376.9 376.5,378.2 378,379.6 379.5,381.1 381,382.6 382.5,384.1 384,385.7 385.5,387.3 387,389 388.5,390.6 390,392.2 391.5,393.9 393,395.5 394.5,397.1 396,398.7 397.5,400.3 399,401.9 400.5,403.4 402,405 403.5,406.5 405,408.1 406.5,409.6 408,411.1 409.5,412.6 411,414.1 412.5,415.6 414,417.1 415.5,418.6 417,420.1 418.5,421.6 420,423.1 421.5,424.6 423,426.1 424.5,427.6 426,429.1 427.5,430.7 429,432.2 430.5,433.7 432,435.3 433.5,436.8 435,438.4 436.5,440 438,441.6 439.5,443.2 441,444.8 442.5,446.5 444,448.1 445.5,449.8 447,451.4 448.5,453.1 450,454.8 451.5,456.6 453,458.6 454.5,460.8 456,463.2 457.5,465.7 459,468.3 460.5,470.9 462,473.4 463.5,475.8 465,478.2 466.5,480.5 468,482.7 469.5,484.8 471,486.8 472.5,488.7 474,490.5 475.5,492.1 477,493.6 478.5,494.9 480,496.1 481.5,497.2 483,498 484.5,498.7 486,499.2 487.5,499.6 489,499.7 490.5,499.6 492,499.4 493.5,498.9 495,498.3 496.5,497.5 498,496.6 499.5,495.6 501,494.4 502.5,493.2 504,491.9 505.5,490.6 507,489.2 508.5,487.9 510,486.5 511.5,485.2 513,483.9 514.5,482.7 516,481.4 517.5,480 519,478.6 520.5,477 522,475.4 523.5,473.7 525,472.1 526.5,470.6 528,469.1 529.5,467.8 531,466.4 532.5,465 534,463.6 535.5,462 537,460.3 538.5,458.6 540,456.9 541.5,455.3 543,453.8 544.5,452.4 546,451.1 547.5,449.9 549,448.7 550.5,447.5 552,446.3 553.5,445 555,443.7 556.5,442.3 558,440.8 559.5,439.4 561,437.8 562.5,436.2 564,434.6 565.5,432.9 567,431.1 568.5,429.3 570,427.5 571.5,425.6 573,423.6 574.5,421.7 576,419.6 577.5,417.6 579,415.5 580.5,413.4 582,411.2 583.5,409 585,406.8 586.5,404.5 588,402.3 589.5,400 591,397.6 592.5,395.3 594,393 595.5,390.6 597,388.4 598.5,386.1 600,384 601.5,382 603,380 604.5,378.2 606,376.6 607.5,375.1 609,373.7 610.5,372.5 612,371.5 613.5,370.5 615,369.8 616.5,369.2 618,368.7 619.5,368.4 621,368.3 622.5,368.2 624,368.3 625.5,368.6 627,369 628.5,369.4 630,370 631.5,370.8 633,371.6 634.5,372.5 636,373.6 637.5,374.7 639,375.9 640.5,377.2 642,378.6 643.5,380 645,381.5 646.5,383 648,384.6 649.5,386.2 651,387.8 652.5,389.4 654,391 655.5,392.7 657,394.3 658.5,395.9 660,397.5 661.5,399.1 663,400.7 664.5,402.3 666,403.9 667.5,405.4 669,406.9 670.5,408.5 672,410 673.5,411.5 675,413 676.5,414.5 678,416 679.5,417.5 681,419 682.5,420.5 684,422 685.5,423.5 687,425 688.5,426.5 690,428 691.5,429.5 693,431.1 694.5,432.6 696,434.1 697.5,435.7 699,437.3 700.5,438.8 702,440.4 703.5,442 705,443.6 706.5,445.3 708,446.9 709.5,448.6 711,450.2 712.5,451.9 714,453.5 715.5,455.3 717,457.2 718.5,459.2 720,461.5 721.5,463.9 723,466.4 724.5,469 726,471.5 727.5,474 729,476.5 730.5,478.8 732,481.1 733.5,483.3 735,485.4 736.5,487.3 738,489.2 739.5,490.9 741,492.5 742.5,494 744,495.3 745.5,496.4 747,497.4 748.5,498.2 750,498.9 751.5,499.3 753,499.6 754.5,499.7 756,499.6 757.5,499.3 759,498.8 760.5,498.1 762,497.3 763.5,496.3 765,495.3 766.5,494.1 768,492.8 769.5,491.5 771,490.2 772.5,488.8 774,487.5 775.5,486.2 777,484.9 778.5,483.6 780,482.3 781.5,481 783,479.6 784.5,478.2 786,476.6 787.5,474.9 789,473.3 790.5,471.7 792,470.2 793.5,468.8 795,467.4 796.5,466.1 798,464.7 799.5,463.1 801,461.5 802.5,459.8 804,458.1 805.5,456.5 807,454.9 808.5,453.4 810,452.1 811.5,450.8 813,449.6 814.5,448.4 816,447.2 817.5,445.9 819,444.6 820.5,443.3 822,441.9 823.5,440.5 825,439 826.5,437.4 828,435.8 829.5,434.1 831,432.4 832.5,430.6 834,428.8 835.5,427 837,425.1 838.5,423.1 840,421.1 841.5,419.1 843,417 844.5,414.9 846,412.8 847.5,410.6 849,408.4 850.5,406.2 852,403.9 853.5,401.6 855,399.3 856.5,397 858,394.7 859.5,392.3 861,390 862.5,387.8 864,385.6 865.5,383.4 867,381.4 868.5,379.5 870,377.8 871.5,376.2 873,374.7 874.5,373.4 876,372.2 877.5,371.2 879,370.3 880.5,369.6 882,369 883.5,368.6 885,368.4 886.5,368.2 888,368.2 889.5,368.4 891,368.7 892.5,369.1 894,369.6 895.5,370.2 897,371 898.5,371.8 900,372.8 901.5,373.9 903,375 904.5,376.3 906,377.6 907.5,379 909,380.4 910.5,381.9 912,383.4 913.5,385 915,386.6 916.5,388.2 918,389.8 919.5,391.5 921,393.1 922.5,394.7 924,396.4 925.5,398 927,399.6 928.5,401.1 930,402.7 931.5,404.3 933,405.8 934.5,407.3 936,408.9 937.5,410.4 939,411.9 940.5,413.4 942,414.9 943.5,416.4 945,417.9 946.5,419.4 948,420.9 949.5,422.4 951,423.9 952.5,425.4 954,426.9 955.5,428.4 957,429.9 958.5,431.5 960,433 961.5,434.6 963,436.1 964.5,437.7 966,439.3 967.5,440.9 969,442.5 970.5,444.1 972,445.7 973.5,447.4 975,449 976.5,450.6 978,452.3 979.5,454 981,455.8 982.5,457.7 984,459.8 985.5,462.1 987,464.5 988.5,467.1 990,469.7 991.5,472.2 993,474.7 994.5,477.1 996,479.5 997.5,481.7 999,483.9 1000.5,485.9 1002,487.8 1003.5,489.7 1005,491.3 1006.5,492.9 1008,494.3 1009.5,495.6 1011,496.7 1012.5,497.6 1014,498.4 1015.5,499 1017,499.4 1018.5,499.6 1020,499.7 1021.5,499.5 1023,499.2 1024.5,498.6 1026,497.9 1027.5,497 1029,496.1 1030.5,494.9 1032,493.8 1033.5,492.5 1035,491.2 1036.5,489.8 1038,488.5 1039.5,487.1 1041,485.8 1042.5,484.5 1044,483.3 1045.5,482 1047,480.7 1048.5,479.3 1050,477.8 1051.5,476.2 1053,474.5 1054.5,472.8 1056,471.3 1057.5,469.8 1059,468.4 1060.5,467 1062,465.7 1063.5,464.3 1065,462.7 1066.5,461.1 1068,459.4 1069.5,457.7 1071,456 1072.5,454.5 1074,453.1 1075.5,451.7 1077,450.5 1078.5,449.3 1080,448.1 1081.5,446.8 1083,445.6 1084.5,444.3 1086,442.9 1087.5,441.5 1089,440.1 1090.5,438.5 1092,437 1093.5,435.3 1095,433.7 1096.5,431.9 1098,430.1 1099.5,428.3 1101,426.5 1102.5,424.5 1104,422.6 1105.5,420.6 1107,418.6 1108.5,416.5 1110,414.4 1111.5,412.2 1113,410 1114.5,407.8 1116,405.6 1117.5,403.3 1119,401 1120.5,398.7 1122,396.4 1123.5,394 1125,391.7 1126.5,389.4 1128,387.2 1129.5,385 1131,382.9 1132.5,380.9 1134,379.1 1135.5,377.3 1137,375.8 1138.5,374.3 1140,373.1 1141.5,371.9 1143,370.9 1144.5,370.1 1146,369.5 1147.5,368.9 1149,368.5 1150.5,368.3 1152,368.2 1153.5,368.3 1155,368.5 1156.5,368.8 1158,369.2 1159.5,369.7 1161,370.4 1162.5,371.2 1164,372.1 1165.5,373.1 1167,374.2 1168.5,375.3 1170,376.6 1171.5,377.9 1173,379.3 1174.5,380.8 1176,382.3 1177.5,383.8 1179,385.4 1180.5,387 1182,388.6 1183.5,390.3 1185,391.9 1186.5,393.5 1188,395.2 1189.5,396.8 1191,398.4 1192.5,400 1194,401.6 1195.5,403.1 1197,404.7 1198.5,406.2 1200,407.8 1201.5,409.3 1203,410.8 1204.5,412.3 1206,413.8 1207.5,415.3 1209,416.8 1210.5,418.3 1212,419.8 1213.5,421.3 1215,422.8 1216.5,424.3 1218,425.8 1219.5,427.3 1221,428.8 1222.5,430.4 1224,431.9 1225.5,433.4 1227,435 1228.5,436.5 1230,438.1 1231.5,439.7 1233,441.3 1234.5,442.9 1236,444.5 1237.5,446.1 1239,447.8 1240.5,449.4 1242,451.1 1243.5,452.7 1245,454.5 1246.5,456.3 1248,458.2 1249.5,460.4 1251,462.7 1252.5,465.2 1254,467.8 1255.5,470.3 1257,472.9 1258.5,475.4 1260,477.8 1261.5,480.1 1263,482.3 1264.5,484.4 1266,486.4 1267.5,488.3 1269,490.1 1270.5,491.8 1272,493.3 1273.5,494.7 1275,495.9 1276.5,497 1278,497.9 1279.5,498.6 1281,499.1 1282.5,499.5 1284,499.7 1285.5,499.7 1287,499.4 1288.5,499 1290,498.4 1291.5,497.7 1293,496.8 1294.5,495.8 1296,494.6 1297.5,493.4 1299,492.1 1300.5,490.8 1302,489.5 1303.5,488.1 1305,486.8 1306.5,485.5 1308,484.2 1309.5,482.9 1311,481.6 1312.5,480.3 1314,478.9 1315.5,477.3 1317,475.7 1318.5,474.1 1320,472.4 1321.5,470.9 1323,469.4 1324.5,468 1326,466.7 1327.5,465.3 1329,463.9 1330.5,462.3 1332,460.6 1333.5,458.9 1335,457.2 1336.5,455.6 1338,454.1 1339.5,452.7 1341,451.4 1342.5,450.2 1344,448.9 1345.5,447.7 1347,446.5 1348.5,445.2 1350,443.9 1351.5,442.6 1353,441.1 1354.5,439.7 1356,438.1 1357.5,436.5 1359,434.9 1360.5,433.2 1362,431.5 1363.5,429.7 1365,427.8 1366.5,426 1368,424 1369.5,422.1 1371,420.1 1372.5,418 1374,415.9 1375.5,413.8 1377,411.6 1378.5,409.5 1380,407.2 1381.5,405 1383,402.7 1384.5,400.4 1386,398.1 1387.5,395.8 1389,393.4 1390.5,391.1 1392,388.8 1393.5,386.6 1395,384.4 1396.5,382.4 1398,380.4 1399.5,378.6 1401,376.9 1402.5,375.4 1404,374 1405.5,372.7 1407,371.7" fill="none" stroke="#ac00b4" stroke-width="3" stroke-linejoin="round" />
<rect x="76" y="59" width="1335" height="4" fill="#6a7676"/>
<rect x="76" y="59" width="4.5" height="617" fill="#606a6a"/>
<rect x="1407" y="59" width="4.5" height="617" fill="#687272"/>
<rect x="76" y="671.5" width="1335" height="4.5" fill="#687272"/>
<rect x="80" y="676" width="1327" height="5" fill="#d8dada"/>
<rect x="104" y="59" width="5" height="4" fill="#1e2828"/>
<rect x="126" y="59" width="16" height="4" fill="#1e2828"/>
<rect x="157" y="59" width="10" height="4" fill="#1e2828"/>
<rect x="1099" y="59" width="29" height="4" fill="#1e2828"/>
<rect x="1163" y="59" width="10" height="4" fill="#1e2828"/>
<rect x="1176" y="59" width="10" height="4" fill="#1e2828"/>
<rect x="1201" y="59" width="14" height="4" fill="#1e2828"/>
<rect x="1219" y="59" width="12" height="4" fill="#1e2828"/>
<rect x="1234" y="59" width="39" height="4" fill="#1e2828"/>
<rect x="1292" y="59" width="14" height="4" fill="#1e2828"/>
<rect x="1320" y="59" width="10" height="4" fill="#1e2828"/>
<path d="M733,63 L755,63 L749,70 L744,74 L739,70 Z" fill="#e89a10"/>
<rect x="684" y="75" width="24" height="25" rx="3" fill="#f5c68c"/>
<rect x="108" y="186" width="18" height="6" fill="#c07800"/>
<rect x="112" y="192" width="10" height="6" fill="#f8b020"/>
<rect x="82" y="198" width="23" height="22" rx="3" fill="#f4c490"/>
<path d="M19,413 L66,413 L75,431 L66,450 L19,450 Z" fill="#a000a8"/>
<text x="34" y="443" font-family="Liberation Sans" font-size="28" fill="#c040c8">3</text>
<rect x="18" y="681" width="1234" height="50" fill="#efefef"/>
<rect x="18" y="681" width="522" height="5" fill="#787878"/>
<rect x="18" y="725" width="522" height="5" fill="#666"/>
<rect x="18.5" y="684" width="4.5" height="46" fill="#5e5e5e"/>
<rect x="23" y="720" width="517" height="5" fill="#fbfbfb"/>
<rect x="535" y="686" width="5" height="39" fill="#fbfbfb"/>
<rect x="540" y="686" width="5" height="39" fill="#909090"/>
<rect x="545" y="686" width="5" height="39" fill="#7a7a7a"/>
<rect x="550" y="686" width="4" height="39" fill="#a4a4a4"/>
<rect x="554" y="681" width="275" height="5" fill="#787878"/>
<rect x="554" y="725" width="275" height="5" fill="#666"/>
<rect x="554" y="686" width="275" height="5" fill="#fafafa"/>
<rect x="554" y="720" width="275" height="5" fill="#fbfbfb"/>
<rect x="829" y="686" width="4" height="39" fill="#a0a0a0"/>
<rect x="838" y="686" width="4" height="39" fill="#909090"/>
<rect x="842" y="681" width="402" height="5" fill="#787878"/>
<rect x="842" y="725" width="402" height="5" fill="#666"/>
<rect x="842" y="720" width="402" height="5" fill="#fbfbfb"/>
<rect x="1244" y="686" width="4" height="39" fill="#8a8a8a"/>
<rect x="1248" y="686" width="4" height="39" fill="#b0b0b0"/>
<rect x="24" y="691" width="51" height="34" rx="12" fill="#8aecec"/>
<rect x="46" y="699" width="6" height="16" fill="#b4f2f2"/>
<text x="99" y="719" font-family="Liberation Sans" font-size="36" fill="#66e2ea" stroke="#66e2ea" stroke-width="0.8" textLength="72" lengthAdjust="spacingAndGlyphs" >10.0 V</text>
<rect x="307" y="691" width="55" height="34" rx="13" fill="#a418aa"/>
<rect x="331" y="699" width="11" height="18" fill="#c050c6"/>
<text x="387" y="719" font-family="Liberation Sans" font-size="36" fill="#d07ad8" stroke="#d07ad8" stroke-width="0.8" textLength="72" lengthAdjust="spacingAndGlyphs" >1.00 V</text>
<text x="553" y="719" font-family="Liberation Sans" font-size="36" fill="#8a8a82" stroke="#8a8a82" stroke-width="0.8" textLength="106" lengthAdjust="spacingAndGlyphs" >Z 10.0ms</text>
<text x="699" y="719" font-family="Liberation Sans" font-size="36" fill="#f4c46c" stroke="#f4c46c" stroke-width="0.8" textLength="129" lengthAdjust="spacingAndGlyphs" >7.11200ms</text>
<rect x="843" y="691" width="55" height="34" rx="13" fill="#2020f2"/>
<rect x="866" y="699" width="8" height="18" fill="#6a6af4"/>
<text x="912" y="719" font-family="Liberation Sans" font-size="36" fill="#8a8a82" stroke="#8a8a82" stroke-width="0.8" textLength="121" lengthAdjust="spacingAndGlyphs" >/ -1.20 V</text>
<text x="1110" y="719" font-family="Liberation Sans" font-size="36" fill="#8a8a82" stroke="#8a8a82" stroke-width="0.8" textLength="136" lengthAdjust="spacingAndGlyphs" >17.2749Hz</text>
</g>
<text x="0" y="810" font-family="Liberation Serif" font-size="65" fill="#000" transform="translate(161.2,0) scale(0.9585,1)">(a)SOGI PLL-Grid connection current and voltage</text>
<g filter="url(#soft)">
<rect x="21" y="842" width="1398" height="702" fill="#f0f0f0"/>
<rect x="82" y="888" width="1315" height="598" fill="#fff"/>
<rect x="80" y="880.5" width="1320" height="5" fill="#c8cccc"/>
<line x1="215.3" y1="899.4" x2="215.3" y2="1484" stroke="#d0d0d0" stroke-width="7" stroke-dasharray="7 7.9" />
<line x1="346.3" y1="899.4" x2="346.3" y2="1484" stroke="#d0d0d0" stroke-width="7" stroke-dasharray="7 7.9" />
<line x1="477.3" y1="899.4" x2="477.3" y2="1484" stroke="#d0d0d0" stroke-width="7" stroke-dasharray="7 7.9" />
<line x1="608.3" y1="899.4" x2="608.3" y2="1484" stroke="#d0d0d0" stroke-width="7" stroke-dasharray="7 7.9" />
<line x1="739.3" y1="899.4" x2="739.3" y2="1484" stroke="#a4a4a4" stroke-width="7" stroke-dasharray="7 7.9" />
<line x1="870.3" y1="899.4" x2="870.3" y2="1484" stroke="#d0d0d0" stroke-width="7" stroke-dasharray="7 7.9" />
<line x1="1001.3" y1="899.4" x2="1001.3" y2="1484" stroke="#d0d0d0" stroke-width="7" stroke-dasharray="7 7.9" />
<line x1="1132.3" y1="899.4" x2="1132.3" y2="1484" stroke="#d0d0d0" stroke-width="7" stroke-dasharray="7 7.9" />
<line x1="1263.3" y1="899.4" x2="1263.3" y2="1484" stroke="#d0d0d0" stroke-width="7" stroke-dasharray="7 7.9" />
<line x1="84" y1="962.6" x2="1395" y2="962.6" stroke="#cacaca" stroke-width="8" stroke-dasharray="8 18.2" stroke-dashoffset="4"/>
<line x1="84" y1="1037.2" x2="1395" y2="1037.2" stroke="#cacaca" stroke-width="8" stroke-dasharray="8 18.2" stroke-dashoffset="4"/>
<line x1="84" y1="1111.8" x2="1395" y2="1111.8" stroke="#cacaca" stroke-width="8" stroke-dasharray="8 18.2" stroke-dashoffset="4"/>
<line x1="84" y1="1186.4" x2="1395" y2="1186.4" stroke="#a8a8a8" stroke-width="8" stroke-dasharray="8 18.2" stroke-dashoffset="4"/>
<line x1="84" y1="1261" x2="1395" y2="1261" stroke="#cacaca" stroke-width="8" stroke-dasharray="8 18.2" stroke-dashoffset="4"/>
<line x1="84" y1="1335.6" x2="1395" y2="1335.6" stroke="#cacaca" stroke-width="8" stroke-dasharray="8 18.2" stroke-dashoffset="4"/>
<line x1="84" y1="1410.2" x2="1395" y2="1410.2" stroke="#cacaca" stroke-width="8" stroke-dasharray="8 18.2" stroke-dashoffset="4"/>
<rect x="108" y="890" width="5" height="5" fill="#3c4848"/>
<rect x="108" y="1479" width="5" height="5" fill="#4a5656"/>
<rect x="134.2" y="890" width="5" height="5" fill="#3c4848"/>
<rect x="134.2" y="1479" width="5" height="5" fill="#4a5656"/>
<rect x="160.4" y="890" width="5" height="5" fill="#3c4848"/>
<rect x="160.4" y="1479" width="5" height="5" fill="#4a5656"/>
<rect x="186.6" y="890" width="5" height="5" fill="#3c4848"/>
<rect x="186.6" y="1479" width="5" height="5" fill="#4a5656"/>
<rect x="212.8" y="890" width="5" height="5" fill="#3c4848"/>
<rect x="212.8" y="1479" width="5" height="5" fill="#4a5656"/>
<rect x="239" y="890" width="5" height="5" fill="#3c4848"/>
<rect x="239" y="1479" width="5" height="5" fill="#4a5656"/>
<rect x="265.2" y="890" width="5" height="5" fill="#3c4848"/>
<rect x="265.2" y="1479" width="5" height="5" fill="#4a5656"/>
<rect x="291.4" y="890" width="5" height="5" fill="#3c4848"/>
<rect x="291.4" y="1479" width="5" height="5" fill="#4a5656"/>
<rect x="317.6" y="890" width="5" height="5" fill="#3c4848"/>
<rect x="317.6" y="1479" width="5" height="5" fill="#4a5656"/>
<rect x="343.8" y="890" width="5" height="5" fill="#3c4848"/>
<rect x="343.8" y="1479" width="5" height="5" fill="#4a5656"/>
<rect x="370" y="890" width="5" height="5" fill="#3c4848"/>
<rect x="370" y="1479" width="5" height="5" fill="#4a5656"/>
<rect x="396.2" y="890" width="5" height="5" fill="#3c4848"/>
<rect x="396.2" y="1479" width="5" height="5" fill="#4a5656"/>
<rect x="422.4" y="890" width="5" height="5" fill="#3c4848"/>
<rect x="422.4" y="1479" width="5" height="5" fill="#4a5656"/>
<rect x="448.6" y="890" width="5" height="5" fill="#3c4848"/>
<rect x="448.6" y="1479" width="5" height="5" fill="#4a5656"/>
<rect x="474.8" y="890" width="5" height="5" fill="#3c4848"/>
<rect x="474.8" y="1479" width="5" height="5" fill="#4a5656"/>
<rect x="501" y="890" width="5" height="5" fill="#3c4848"/>
<rect x="501" y="1479" width="5" height="5" fill="#4a5656"/>
<rect x="527.2" y="890" width="5" height="5" fill="#3c4848"/>
<rect x="527.2" y="1479" width="5" height="5" fill="#4a5656"/>
<rect x="553.4" y="890" width="5" height="5" fill="#3c4848"/>
<rect x="553.4" y="1479" width="5" height="5" fill="#4a5656"/>
<rect x="579.6" y="890" width="5" height="5" fill="#3c4848"/>
<rect x="579.6" y="1479" width="5" height="5" fill="#4a5656"/>
<rect x="605.8" y="890" width="5" height="5" fill="#3c4848"/>
<rect x="605.8" y="1479" width="5" height="5" fill="#4a5656"/>
<rect x="632" y="890" width="5" height="5" fill="#3c4848"/>
<rect x="632" y="1479" width="5" height="5" fill="#4a5656"/>
<rect x="658.2" y="890" width="5" height="5" fill="#3c4848"/>
<rect x="658.2" y="1479" width="5" height="5" fill="#4a5656"/>
<rect x="684.4" y="890" width="5" height="5" fill="#3c4848"/>
<rect x="684.4" y="1479" width="5" height="5" fill="#4a5656"/>
<rect x="710.6" y="890" width="5" height="5" fill="#3c4848"/>
<rect x="710.6" y="1479" width="5" height="5" fill="#4a5656"/>
<rect x="736.8" y="890" width="5" height="5" fill="#3c4848"/>
<rect x="736.8" y="1479" width="5" height="5" fill="#4a5656"/>
<rect x="763" y="890" width="5" height="5" fill="#3c4848"/>
<rect x="763" y="1479" width="5" height="5" fill="#4a5656"/>
<rect x="789.2" y="890" width="5" height="5" fill="#3c4848"/>
<rect x="789.2" y="1479" width="5" height="5" fill="#4a5656"/>
<rect x="815.4" y="890" width="5" height="5" fill="#3c4848"/>
<rect x="815.4" y="1479" width="5" height="5" fill="#4a5656"/>
<rect x="841.6" y="890" width="5" height="5" fill="#3c4848"/>
<rect x="841.6" y="1479" width="5" height="5" fill="#4a5656"/>
<rect x="867.8" y="890" width="5" height="5" fill="#3c4848"/>
<rect x="867.8" y="1479" width="5" height="5" fill="#4a5656"/>
<rect x="894" y="890" width="5" height="5" fill="#3c4848"/>
<rect x="894" y="1479" width="5" height="5" fill="#4a5656"/>
<rect x="920.2" y="890" width="5" height="5" fill="#3c4848"/>
<rect x="920.2" y="1479" width="5" height="5" fill="#4a5656"/>
<rect x="946.4" y="890" width="5" height="5" fill="#3c4848"/>
<rect x="946.4" y="1479" width="5" height="5" fill="#4a5656"/>
<rect x="972.6" y="890" width="5" height="5" fill="#3c4848"/>
<rect x="972.6" y="1479" width="5" height="5" fill="#4a5656"/>
<rect x="998.8" y="890" width="5" height="5" fill="#3c4848"/>
<rect x="998.8" y="1479" width="5" height="5" fill="#4a5656"/>
<rect x="1025" y="890" width="5" height="5" fill="#3c4848"/>
<rect x="1025" y="1479" width="5" height="5" fill="#4a5656"/>
<rect x="1051.2" y="890" width="5" height="5" fill="#3c4848"/>
<rect x="1051.2" y="1479" width="5" height="5" fill="#4a5656"/>
<rect x="1077.4" y="890" width="5" height="5" fill="#3c4848"/>
<rect x="1077.4" y="1479" width="5" height="5" fill="#4a5656"/>
<rect x="1103.6" y="890" width="5" height="5" fill="#3c4848"/>
<rect x="1103.6" y="1479" width="5" height="5" fill="#4a5656"/>
<rect x="1129.8" y="890" width="5" height="5" fill="#3c4848"/>
<rect x="1129.8" y="1479" width="5" height="5" fill="#4a5656"/>
<rect x="1156" y="890" width="5" height="5" fill="#3c4848"/>
<rect x="1156" y="1479" width="5" height="5" fill="#4a5656"/>
<rect x="1182.2" y="890" width="5" height="5" fill="#3c4848"/>
<rect x="1182.2" y="1479" width="5" height="5" fill="#4a5656"/>
<rect x="1208.4" y="890" width="5" height="5" fill="#3c4848"/>
<rect x="1208.4" y="1479" width="5" height="5" fill="#4a5656"/>
<rect x="1234.6" y="890" width="5" height="5" fill="#3c4848"/>
<rect x="1234.6" y="1479" width="5" height="5" fill="#4a5656"/>
<rect x="1260.8" y="890" width="5" height="5" fill="#3c4848"/>
<rect x="1260.8" y="1479" width="5" height="5" fill="#4a5656"/>
<rect x="1287" y="890" width="5" height="5" fill="#3c4848"/>
<rect x="1287" y="1479" width="5" height="5" fill="#4a5656"/>
<rect x="1313.2" y="890" width="5" height="5" fill="#3c4848"/>
<rect x="1313.2" y="1479" width="5" height="5" fill="#4a5656"/>
<rect x="1339.4" y="890" width="5" height="5" fill="#3c4848"/>
<rect x="1339.4" y="1479" width="5" height="5" fill="#4a5656"/>
<rect x="1365.6" y="890" width="5" height="5" fill="#3c4848"/>
<rect x="1365.6" y="1479" width="5" height="5" fill="#4a5656"/>
<rect x="84" y="900.9" width="5" height="4" fill="#6a7474"/>
<rect x="1390" y="900.9" width="5" height="4" fill="#6a7474"/>
<rect x="84" y="915.8" width="5" height="4" fill="#6a7474"/>
<rect x="1390" y="915.8" width="5" height="4" fill="#6a7474"/>
<rect x="84" y="930.8" width="5" height="4" fill="#6a7474"/>
<rect x="1390" y="930.8" width="5" height="4" fill="#6a7474"/>
<rect x="84" y="945.7" width="5" height="4" fill="#6a7474"/>
<rect x="1390" y="945.7" width="5" height="4" fill="#6a7474"/>
<rect x="84" y="960.6" width="5" height="4" fill="#6a7474"/>
<rect x="1390" y="960.6" width="5" height="4" fill="#6a7474"/>
<rect x="84" y="975.5" width="5" height="4" fill="#6a7474"/>
<rect x="1390" y="975.5" width="5" height="4" fill="#6a7474"/>
<rect x="84" y="990.4" width="5" height="4" fill="#6a7474"/>
<rect x="1390" y="990.4" width="5" height="4" fill="#6a7474"/>
<rect x="84" y="1005.4" width="5" height="4" fill="#6a7474"/>
<rect x="1390" y="1005.4" width="5" height="4" fill="#6a7474"/>
<rect x="84" y="1020.3" width="5" height="4" fill="#6a7474"/>
<rect x="1390" y="1020.3" width="5" height="4" fill="#6a7474"/>
<rect x="84" y="1035.2" width="5" height="4" fill="#6a7474"/>
<rect x="1390" y="1035.2" width="5" height="4" fill="#6a7474"/>
<rect x="84" y="1050.1" width="5" height="4" fill="#6a7474"/>
<rect x="1390" y="1050.1" width="5" height="4" fill="#6a7474"/>
<rect x="84" y="1065" width="5" height="4" fill="#6a7474"/>
<rect x="1390" y="1065" width="5" height="4" fill="#6a7474"/>
<rect x="84" y="1080" width="5" height="4" fill="#6a7474"/>
<rect x="1390" y="1080" width="5" height="4" fill="#6a7474"/>
<rect x="84" y="1094.9" width="5" height="4" fill="#6a7474"/>
<rect x="1390" y="1094.9" width="5" height="4" fill="#6a7474"/>
<rect x="84" y="1109.8" width="5" height="4" fill="#6a7474"/>
<rect x="1390" y="1109.8" width="5" height="4" fill="#6a7474"/>
<rect x="84" y="1124.7" width="5" height="4" fill="#6a7474"/>
<rect x="1390" y="1124.7" width="5" height="4" fill="#6a7474"/>
<rect x="84" y="1139.6" width="5" height="4" fill="#6a7474"/>
<rect x="1390" y="1139.6" width="5" height="4" fill="#6a7474"/>
<rect x="84" y="1154.6" width="5" height="4" fill="#6a7474"/>
<rect x="1390" y="1154.6" width="5" height="4" fill="#6a7474"/>
<rect x="84" y="1169.5" width="5" height="4" fill="#6a7474"/>
<rect x="1390" y="1169.5" width="5" height="4" fill="#6a7474"/>
<rect x="84" y="1184.4" width="5" height="4" fill="#6a7474"/>
<rect x="1390" y="1184.4" width="5" height="4" fill="#6a7474"/>
<rect x="84" y="1199.3" width="5" height="4" fill="#6a7474"/>
<rect x="1390" y="1199.3" width="5" height="4" fill="#6a7474"/>
<rect x="84" y="1214.2" width="5" height="4" fill="#6a7474"/>
<rect x="1390" y="1214.2" width="5" height="4" fill="#6a7474"/>
<rect x="84" y="1229.2" width="5" height="4" fill="#6a7474"/>
<rect x="1390" y="1229.2" width="5" height="4" fill="#6a7474"/>
<rect x="84" y="1244.1" width="5" height="4" fill="#6a7474"/>
<rect x="1390" y="1244.1" width="5" height="4" fill="#6a7474"/>
<rect x="84" y="1259" width="5" height="4" fill="#6a7474"/>
<rect x="1390" y="1259" width="5" height="4" fill="#6a7474"/>
<rect x="84" y="1273.9" width="5" height="4" fill="#6a7474"/>
<rect x="1390" y="1273.9" width="5" height="4" fill="#6a7474"/>
<rect x="84" y="1288.8" width="5" height="4" fill="#6a7474"/>
<rect x="1390" y="1288.8" width="5" height="4" fill="#6a7474"/>
<rect x="84" y="1303.8" width="5" height="4" fill="#6a7474"/>
<rect x="1390" y="1303.8" width="5" height="4" fill="#6a7474"/>
<rect x="84" y="1318.7" width="5" height="4" fill="#6a7474"/>
<rect x="1390" y="1318.7" width="5" height="4" fill="#6a7474"/>
<rect x="84" y="1333.6" width="5" height="4" fill="#6a7474"/>
<rect x="1390" y="1333.6" width="5" height="4" fill="#6a7474"/>
<rect x="84" y="1348.5" width="5" height="4" fill="#6a7474"/>
<rect x="1390" y="1348.5" width="5" height="4" fill="#6a7474"/>
<rect x="84" y="1363.4" width="5" height="4" fill="#6a7474"/>
<rect x="1390" y="1363.4" width="5" height="4" fill="#6a7474"/>
<rect x="84" y="1378.4" width="5" height="4" fill="#6a7474"/>
<rect x="1390" y="1378.4" width="5" height="4" fill="#6a7474"/>
<rect x="84" y="1393.3" width="5" height="4" fill="#6a7474"/>
<rect x="1390" y="1393.3" width="5" height="4" fill="#6a7474"/>
<rect x="84" y="1408.2" width="5" height="4" fill="#6a7474"/>
<rect x="1390" y="1408.2" width="5" height="4" fill="#6a7474"/>
<rect x="84" y="1423.1" width="5" height="4" fill="#6a7474"/>
<rect x="1390" y="1423.1" width="5" height="4" fill="#6a7474"/>
<rect x="84" y="1438" width="5" height="4" fill="#6a7474"/>
<rect x="1390" y="1438" width="5" height="4" fill="#6a7474"/>
<rect x="84" y="1453" width="5" height="4" fill="#6a7474"/>
<rect x="1390" y="1453" width="5" height="4" fill="#6a7474"/>
<rect x="84" y="1467.9" width="5" height="4" fill="#6a7474"/>
<rect x="1390" y="1467.9" width="5" height="4" fill="#6a7474"/>
<path d="M84,1253.1 85.5,1244.7 87,1236.1 88.5,1227.1 90,1218 91.5,1208.6 93,1199 94.5,1189.3 96,1179.5 97.5,1169.8 99,1160.2 100.5,1150.9 102,1142 103.5,1133.4 105,1125.1 106.5,1117 108,1109 109.5,1101.1 111,1093.3 112.5,1085.5 114,1077.7 115.5,1070 117,1062.3 118.5,1054.8 120,1047.4 121.5,1040.2 123,1033.2 124.5,1026.4 126,1019.8 127.5,1013.4 129,1007.2 130.5,1001.3 132,995.6 133.5,990.2 135,985 136.5,980.1 138,975.5 139.5,971.1 141,967.1 142.5,963.3 144,959.8 145.5,956.7 147,953.9 148.5,951.4 150,949.2 151.5,947.4 153,945.8 154.5,944.6 156,943.7 157.5,943 159,942.5 160.5,942.2 162,942 163.5,941.9 165,941.9 166.5,941.9 168,942 169.5,942.1 171,942.4 172.5,942.8 174,943.4 175.5,944.4 177,945.7 178.5,947.4 180,949.5 181.5,952.1 183,955.1 184.5,958.4 186,962.2 187.5,966.2 189,970.6 190.5,975.2 192,980.1 193.5,985.3 195,990.6 196.5,996 198,1001.6 199.5,1007.3 201,1013.1 202.5,1018.9 204,1024.8 205.5,1030.8 207,1036.8 208.5,1042.9 210,1049.1 211.5,1055.5 213,1062.1 214.5,1068.9 216,1076 217.5,1083.3 219,1091 220.5,1098.9 222,1107.2 223.5,1115.8 225,1124.7 226.5,1133.9 228,1143.3 229.5,1153 231,1162.7 232.5,1172.5 234,1182.1 235.5,1191.7 237,1201 238.5,1209.9 240,1218.6 241.5,1227 243,1235 244.5,1242.8 246,1250.3 247.5,1257.6 249,1264.8 250.5,1271.8 252,1278.7 253.5,1285.4 255,1292.1 256.5,1298.7 258,1305.3 259.5,1311.7 261,1318.1 262.5,1324.3 264,1330.5 265.5,1336.6 267,1342.7 268.5,1348.6 270,1354.5 271.5,1360.3 273,1366.1 274.5,1371.7 276,1377.1 277.5,1382.4 279,1387.3 280.5,1391.8 282,1395.8 283.5,1399.1 285,1401.7 286.5,1403.6 288,1404.9 289.5,1405.7 291,1406.2 292.5,1406.4 294,1406.5 295.5,1406.6 297,1406.6 298.5,1406.7 300,1406.7 301.5,1406.7 303,1406.5 304.5,1406.1 306,1405.3 307.5,1403.8 309,1401.7 310.5,1398.6 312,1394.7 313.5,1390.1 315,1384.8 316.5,1379.2 318,1373.5 319.5,1367.7 321,1361.9 322.5,1356.1 324,1350.5 325.5,1344.8 327,1339 328.5,1333.2 330,1327.3 331.5,1321.3 333,1315.1 334.5,1308.8 336,1302.2 337.5,1295.4 339,1288.4 340.5,1281.2 342,1273.7 343.5,1266 345,1258 346.5,1249.8 348,1241.3 349.5,1232.5 351,1223.5 352.5,1214.3 354,1204.8 355.5,1195.1 357,1185.4 358.5,1175.6 360,1165.9 361.5,1156.5 363,1147.3 364.5,1138.5 366,1130 367.5,1121.8 369,1113.8 370.5,1105.8 372,1098 373.5,1090.1 375,1082.3 376.5,1074.6 378,1066.9 379.5,1059.3 381,1051.8 382.5,1044.5 384,1037.4 385.5,1030.5 387,1023.7 388.5,1017.2 390,1010.9 391.5,1004.8 393,999 394.5,993.4 396,988.1 397.5,983 399,978.2 400.5,973.7 402,969.5 403.5,965.5 405,961.9 406.5,958.6 408,955.5 409.5,952.8 411,950.5 412.5,948.4 414,946.7 415.5,945.3 417,944.2 418.5,943.4 420,942.8 421.5,942.4 423,942.1 424.5,942 426,941.9 427.5,941.9 429,941.9 430.5,942 432,942.2 433.5,942.5 435,943 436.5,943.8 438,944.8 439.5,946.3 441,948.2 442.5,950.5 444,953.2 445.5,956.4 447,959.9 448.5,963.7 450,967.9 451.5,972.4 453,977.2 454.5,982.2 456,987.4 457.5,992.7 459,998.2 460.5,1003.9 462,1009.6 463.5,1015.4 465,1021.3 466.5,1027.2 468,1033.2 469.5,1039.2 471,1045.4 472.5,1051.7 474,1058.1 475.5,1064.8 477,1071.7 478.5,1078.9 480,1086.3 481.5,1094.1 483,1102.2 484.5,1110.6 486,1119.3 487.5,1128.3 489,1137.6 490.5,1147.2 492,1156.8 493.5,1166.6 495,1176.4 496.5,1186 498,1195.4 499.5,1204.6 501,1213.5 502.5,1222 504,1230.2 505.5,1238.1 507,1245.8 508.5,1253.2 510,1260.5 511.5,1267.6 513,1274.5 514.5,1281.4 516,1288.1 517.5,1294.8 519,1301.4 520.5,1307.8 522,1314.2 523.5,1320.6 525,1326.8 526.5,1333 528,1339.1 529.5,1345.1 531,1351 532.5,1356.9 534,1362.6 535.5,1368.3 537,1373.9 538.5,1379.3 540,1384.4 541.5,1389.2 543,1393.5 544.5,1397.2 546,1400.2 547.5,1402.5 549,1404.2 550.5,1405.3 552,1405.9 553.5,1406.3 555,1406.5 556.5,1406.6 558,1406.6 559.5,1406.6 561,1406.7 562.5,1406.7 564,1406.6 565.5,1406.4 567,1405.8 568.5,1404.8 570,1403.1 571.5,1400.6 573,1397.2 574.5,1392.9 576,1388 577.5,1382.6 579,1376.9 580.5,1371.1 582,1365.3 583.5,1359.6 585,1353.9 586.5,1348.2 588,1342.5 589.5,1336.7 591,1330.9 592.5,1324.9 594,1318.8 595.5,1312.6 597,1306.2 598.5,1299.5 600,1292.6 601.5,1285.5 603,1278.2 604.5,1270.6 606,1262.8 607.5,1254.7 609,1246.4 610.5,1237.8 612,1229 613.5,1219.8 615,1210.5 616.5,1200.9 618,1191.2 619.5,1181.5 621,1171.7 622.5,1162.1 624,1152.8 625.5,1143.8 627,1135.1 628.5,1126.7 630,1118.6 631.5,1110.6 633,1102.7 634.5,1094.8 636,1087 637.5,1079.2 639,1071.5 640.5,1063.8 642,1056.3 643.5,1048.9 645,1041.7 646.5,1034.6 648,1027.8 649.5,1021.1 651,1014.7 652.5,1008.5 654,1002.5 655.5,996.8 657,991.3 658.5,986 660,981.1 661.5,976.4 663,972 664.5,967.9 666,964 667.5,960.5 669,957.3 670.5,954.4 672,951.9 673.5,949.6 675,947.7 676.5,946.1 678,944.8 679.5,943.8 681,943.1 682.5,942.6 684,942.2 685.5,942 687,941.9 688.5,941.9 690,941.9 691.5,942 693,942.1 694.5,942.3 696,942.7 697.5,943.3 699,944.2 700.5,945.4 702,947 703.5,949.1 705,951.6 706.5,954.4 708,957.7 709.5,961.4 711,965.4 712.5,969.7 714,974.3 715.5,979.1 717,984.2 718.5,989.5 720,994.9 721.5,1000.5 723,1006.1 724.5,1011.9 726,1017.7 727.5,1023.6 729,1029.6 730.5,1035.6 732,1041.7 733.5,1047.9 735,1054.2 736.5,1060.8 738,1067.5 739.5,1074.6 741,1081.8 742.5,1089.4 744,1097.3 745.5,1105.5 747,1114 748.5,1122.9 750,1132 751.5,1141.4 753,1151 754.5,1160.7 756,1170.5 757.5,1180.2 759,1189.8 760.5,1199.1 762,1208.2 763.5,1216.9 765,1225.3 766.5,1233.4 768,1241.2 769.5,1248.8 771,1256.2 772.5,1263.3 774,1270.4 775.5,1277.3 777,1284.1 778.5,1290.8 780,1297.4 781.5,1304 783,1310.4 784.5,1316.8 786,1323.1 787.5,1329.3 789,1335.4 790.5,1341.5 792,1347.5 793.5,1353.4 795,1359.2 796.5,1364.9 798,1370.6 799.5,1376.1 801,1381.4 802.5,1386.4 804,1391 805.5,1395.1 807,1398.5 808.5,1401.3 810,1403.3 811.5,1404.7 813,1405.6 814.5,1406.1 816,1406.4 817.5,1406.5 819,1406.6 820.5,1406.6 822,1406.7 823.5,1406.7 825,1406.7 826.5,1406.6 828,1406.2 829.5,1405.5 831,1404.2 832.5,1402.2 834,1399.3 835.5,1395.6 837,1391 838.5,1385.9 840,1380.4 841.5,1374.6 843,1368.8 844.5,1363 846,1357.3 847.5,1351.6 849,1345.9 850.5,1340.2 852,1334.4 853.5,1328.5 855,1322.5 856.5,1316.4 858,1310 859.5,1303.5 861,1296.8 862.5,1289.8 864,1282.6 865.5,1275.2 867,1267.5 868.5,1259.6 870,1251.4 871.5,1243 873,1234.3 874.5,1225.3 876,1216.1 877.5,1206.7 879,1197.1 880.5,1187.3 882,1177.5 883.5,1167.8 885,1158.3 886.5,1149.1 888,1140.2 889.5,1131.7 891,1123.4 892.5,1115.4 894,1107.4 895.5,1099.5 897,1091.7 898.5,1083.9 900,1076.1 901.5,1068.4 903,1060.8 904.5,1053.3 906,1046 907.5,1038.8 909,1031.9 910.5,1025.1 912,1018.5 913.5,1012.2 915,1006 916.5,1000.2 918,994.5 919.5,989.1 921,984 922.5,979.2 924,974.6 925.5,970.3 927,966.3 928.5,962.6 930,959.2 931.5,956.1 933,953.4 934.5,950.9 936,948.8 937.5,947 939,945.6 940.5,944.4 942,943.5 943.5,942.9 945,942.4 946.5,942.1 948,942 949.5,941.9 951,941.9 952.5,941.9 954,942 955.5,942.2 957,942.4 958.5,942.9 960,943.6 961.5,944.6 963,946 964.5,947.8 966,950 967.5,952.7 969,955.7 970.5,959.2 972,962.9 973.5,967.1 975,971.5 976.5,976.2 978,981.1 979.5,986.3 981,991.6 982.5,997.1 984,1002.7 985.5,1008.4 987,1014.2 988.5,1020.1 990,1026 991.5,1032 993,1038 994.5,1044.1 996,1050.4 997.5,1056.8 999,1063.5 1000.5,1070.3 1002,1077.4 1003.5,1084.8 1005,1092.5 1006.5,1100.5 1008,1108.9 1009.5,1117.5 1011,1126.5 1012.5,1135.8 1014,1145.2 1015.5,1154.9 1017,1164.7 1018.5,1174.4 1020,1184.1 1021.5,1193.6 1023,1202.8 1024.5,1211.7 1026,1220.3 1027.5,1228.6 1029,1236.6 1030.5,1244.3 1032,1251.8 1033.5,1259.1 1035,1266.2 1036.5,1273.2 1038,1280 1039.5,1286.8 1041,1293.5 1042.5,1300.1 1044,1306.6 1045.5,1313 1047,1319.3 1048.5,1325.6 1050,1331.8 1051.5,1337.9 1053,1343.9 1054.5,1349.8 1056,1355.7 1057.5,1361.5 1059,1367.2 1060.5,1372.8 1062,1378.2 1063.5,1383.4 1065,1388.3 1066.5,1392.7 1068,1396.5 1069.5,1399.7 1071,1402.1 1072.5,1403.9 1074,1405.1 1075.5,1405.8 1077,1406.2 1078.5,1406.4 1080,1406.5 1081.5,1406.6 1083,1406.6 1084.5,1406.7 1086,1406.7 1087.5,1406.7 1089,1406.5 1090.5,1406 1092,1405 1093.5,1403.5 1095,1401.1 1096.5,1397.9 1098,1393.9 1099.5,1389.1 1101,1383.7 1102.5,1378.1 1104,1372.3 1105.5,1366.5 1107,1360.7 1108.5,1355 1110,1349.3 1111.5,1343.6 1113,1337.9 1114.5,1332.1 1116,1326.1 1117.5,1320.1 1119,1313.9 1120.5,1307.5 1122,1300.8 1123.5,1294 1125,1287 1126.5,1279.7 1128,1272.2 1129.5,1264.4 1131,1256.4 1132.5,1248.1 1134,1239.5 1135.5,1230.7 1137,1221.7 1138.5,1212.4 1140,1202.9 1141.5,1193.2 1143,1183.4 1144.5,1173.6 1146,1164 1147.5,1154.6 1149,1145.5 1150.5,1136.8 1152,1128.4 1153.5,1120.2 1155,1112.2 1156.5,1104.3 1158,1096.4 1159.5,1088.6 1161,1080.8 1162.5,1073 1164,1065.4 1165.5,1057.8 1167,1050.4 1168.5,1043.1 1170,1036 1171.5,1029.1 1173,1022.4 1174.5,1015.9 1176,1009.7 1177.5,1003.7 1179,997.9 1180.5,992.3 1182,987.1 1183.5,982 1185,977.3 1186.5,972.8 1188,968.7 1189.5,964.8 1191,961.2 1192.5,957.9 1194,955 1195.5,952.3 1197,950 1198.5,948.1 1200,946.4 1201.5,945.1 1203,944 1204.5,943.2 1206,942.7 1207.5,942.3 1209,942.1 1210.5,941.9 1212,941.9 1213.5,941.9 1215,941.9 1216.5,942 1218,942.2 1219.5,942.6 1221,943.1 1222.5,943.9 1224,945.1 1225.5,946.7 1227,948.6 1228.5,951 1230,953.8 1231.5,957 1233,960.6 1234.5,964.6 1236,968.8 1237.5,973.4 1239,978.2 1240.5,983.2 1242,988.4 1243.5,993.8 1245,999.4 1246.5,1005 1248,1010.7 1249.5,1016.6 1251,1022.4 1252.5,1028.4 1254,1034.4 1255.5,1040.4 1257,1046.6 1258.5,1053 1260,1059.5 1261.5,1066.2 1263,1073.1 1264.5,1080.4 1266,1087.9 1267.5,1095.7 1269,1103.8 1270.5,1112.3 1272,1121.1 1273.5,1130.2 1275,1139.5 1276.5,1149.1 1278,1158.8 1279.5,1168.6 1281,1178.3 1282.5,1187.9 1284,1197.3 1285.5,1206.4 1287,1215.2 1288.5,1223.7 1290,1231.8 1291.5,1239.7 1293,1247.3 1294.5,1254.7 1296,1261.9 1297.5,1269 1299,1275.9 1300.5,1282.7 1302,1289.5 1303.5,1296.1 1305,1302.7 1306.5,1309.1 1308,1315.5 1309.5,1321.8 1311,1328.1 1312.5,1334.2 1314,1340.3 1315.5,1346.3 1317,1352.2 1318.5,1358 1320,1363.8 1321.5,1369.4 1323,1375 1324.5,1380.3 1326,1385.4 1327.5,1390.1 1329,1394.3 1330.5,1397.9 1332,1400.7 1333.5,1402.9 1335,1404.5 1336.5,1405.4 1338,1406 1339.5,1406.3 1341,1406.5 1342.5,1406.6 1344,1406.6 1345.5,1406.7 1347,1406.7 1348.5,1406.7 1350,1406.6 1351.5,1406.3 1353,1405.7 1354.5,1404.5 1356,1402.6 1357.5,1399.9 1359,1396.4 1360.5,1392 1362,1387 1363.5,1381.5 1365,1375.8 1366.5,1370 1368,1364.2 1369.5,1358.4 1371,1352.7 1372.5,1347 1374,1341.3 1375.5,1335.6 1377,1329.7 1378.5,1323.7 1380,1317.6 1381.5,1311.3 1383,1304.8 1384.5,1298.1 1386,1291.2 1387.5,1284.1 1389,1276.7 1390.5,1269.1 1392,1261.2 1393.5,1253.1 1395,1244.7 1395,1264.7 1393.5,1273.1 1392,1281.2 1390.5,1289.1 1389,1296.7 1387.5,1304.1 1386,1311.2 1384.5,1318.1 1383,1324.8 1381.5,1331.3 1380,1337.6 1378.5,1343.7 1377,1349.7 1375.5,1355.6 1374,1361.3 1372.5,1367 1371,1372.7 1369.5,1378.4 1368,1384.2 1366.5,1390 1365,1395.8 1363.5,1401.5 1362,1407 1360.5,1412 1359,1416.4 1357.5,1419.9 1356,1422.6 1354.5,1424.5 1353,1425.7 1351.5,1426.3 1350,1426.6 1348.5,1426.7 1347,1426.7 1345.5,1426.7 1344,1426.6 1342.5,1426.6 1341,1426.5 1339.5,1426.3 1338,1426 1336.5,1425.4 1335,1424.5 1333.5,1422.9 1332,1420.7 1330.5,1417.9 1329,1414.3 1327.5,1410.1 1326,1405.4 1324.5,1400.3 1323,1395 1321.5,1389.4 1320,1383.8 1318.5,1378 1317,1372.2 1315.5,1366.3 1314,1360.3 1312.5,1354.2 1311,1348.1 1309.5,1341.8 1308,1335.5 1306.5,1329.1 1305,1322.7 1303.5,1316.1 1302,1309.5 1300.5,1302.7 1299,1295.9 1297.5,1289 1296,1281.9 1294.5,1274.7 1293,1267.3 1291.5,1259.7 1290,1251.8 1288.5,1243.7 1287,1235.2 1285.5,1226.4 1284,1217.3 1282.5,1207.9 1281,1198.3 1279.5,1188.6 1278,1178.8 1276.5,1169.1 1275,1159.5 1273.5,1150.2 1272,1141.1 1270.5,1132.3 1269,1123.8 1267.5,1115.7 1266,1107.9 1264.5,1100.4 1263,1093.1 1261.5,1086.2 1260,1079.5 1258.5,1073 1257,1066.6 1255.5,1060.4 1254,1054.4 1252.5,1048.4 1251,1042.4 1249.5,1036.6 1248,1030.7 1246.5,1025 1245,1019.4 1243.5,1013.8 1242,1008.4 1240.5,1003.2 1239,998.2 1237.5,993.4 1236,988.8 1234.5,984.6 1233,980.6 1231.5,977 1230,973.8 1228.5,971 1227,968.6 1225.5,966.7 1224,965.1 1222.5,963.9 1221,963.1 1219.5,962.6 1218,962.2 1216.5,962 1215,961.9 1213.5,961.9 1212,961.9 1210.5,961.9 1209,962.1 1207.5,962.3 1206,962.7 1204.5,963.2 1203,964 1201.5,965.1 1200,966.4 1198.5,968.1 1197,970 1195.5,972.3 1194,975 1192.5,977.9 1191,981.2 1189.5,984.8 1188,988.7 1186.5,992.8 1185,997.3 1183.5,1002 1182,1007.1 1180.5,1012.3 1179,1017.9 1177.5,1023.7 1176,1029.7 1174.5,1035.9 1173,1042.4 1171.5,1049.1 1170,1056 1168.5,1063.1 1167,1070.4 1165.5,1077.8 1164,1085.4 1162.5,1093 1161,1100.8 1159.5,1108.6 1158,1116.4 1156.5,1124.3 1155,1132.2 1153.5,1140.2 1152,1148.4 1150.5,1156.8 1149,1165.5 1147.5,1174.6 1146,1184 1144.5,1193.6 1143,1203.4 1141.5,1213.2 1140,1222.9 1138.5,1232.4 1137,1241.7 1135.5,1250.7 1134,1259.5 1132.5,1268.1 1131,1276.4 1129.5,1284.4 1128,1292.2 1126.5,1299.7 1125,1307 1123.5,1314 1122,1320.8 1120.5,1327.5 1119,1333.9 1117.5,1340.1 1116,1346.1 1114.5,1352.1 1113,1357.9 1111.5,1363.6 1110,1369.3 1108.5,1375 1107,1380.7 1105.5,1386.5 1104,1392.3 1102.5,1398.1 1101,1403.7 1099.5,1409.1 1098,1413.9 1096.5,1417.9 1095,1421.1 1093.5,1423.5 1092,1425 1090.5,1426 1089,1426.5 1087.5,1426.7 1086,1426.7 1084.5,1426.7 1083,1426.6 1081.5,1426.6 1080,1426.5 1078.5,1426.4 1077,1426.2 1075.5,1425.8 1074,1425.1 1072.5,1423.9 1071,1422.1 1069.5,1419.7 1068,1416.5 1066.5,1412.7 1065,1408.3 1063.5,1403.4 1062,1398.2 1060.5,1392.8 1059,1387.2 1057.5,1381.5 1056,1375.7 1054.5,1369.8 1053,1363.9 1051.5,1357.9 1050,1351.8 1048.5,1345.6 1047,1339.3 1045.5,1333 1044,1326.6 1042.5,1320.1 1041,1313.5 1039.5,1306.8 1038,1300 1036.5,1293.2 1035,1286.2 1033.5,1279.1 1032,1271.8 1030.5,1264.3 1029,1256.6 1027.5,1248.6 1026,1240.3 1024.5,1231.7 1023,1222.8 1021.5,1213.6 1020,1204.1 1018.5,1194.4 1017,1184.7 1015.5,1174.9 1014,1165.2 1012.5,1155.8 1011,1146.5 1009.5,1137.5 1008,1128.9 1006.5,1120.5 1005,1112.5 1003.5,1104.8 1002,1097.4 1000.5,1090.3 999,1083.5 997.5,1076.8 996,1070.4 994.5,1064.1 993,1058 991.5,1052 990,1046 988.5,1040.1 987,1034.2 985.5,1028.4 984,1022.7 982.5,1017.1 981,1011.6 979.5,1006.3 978,1001.1 976.5,996.2 975,991.5 973.5,987.1 972,982.9 970.5,979.2 969,975.7 967.5,972.7 966,970 964.5,967.8 963,966 961.5,964.6 960,963.6 958.5,962.9 957,962.4 955.5,962.2 954,962 952.5,961.9 951,961.9 949.5,961.9 948,962 946.5,962.1 945,962.4 943.5,962.9 942,963.5 940.5,964.4 939,965.6 937.5,967 936,968.8 934.5,970.9 933,973.4 931.5,976.1 930,979.2 928.5,982.6 927,986.3 925.5,990.3 924,994.6 922.5,999.2 921,1004 919.5,1009.1 918,1014.5 916.5,1020.2 915,1026 913.5,1032.2 912,1038.5 910.5,1045.1 909,1051.9 907.5,1058.8 906,1066 904.5,1073.3 903,1080.8 901.5,1088.4 900,1096.1 898.5,1103.9 897,1111.7 895.5,1119.5 894,1127.4 892.5,1135.4 891,1143.4 889.5,1151.7 888,1160.2 886.5,1169.1 885,1178.3 883.5,1187.8 882,1197.5 880.5,1207.3 879,1217.1 877.5,1226.7 876,1236.1 874.5,1245.3 873,1254.3 871.5,1263 870,1271.4 868.5,1279.6 867,1287.5 865.5,1295.2 864,1302.6 862.5,1309.8 861,1316.8 859.5,1323.5 858,1330 856.5,1336.4 855,1342.5 853.5,1348.5 852,1354.4 850.5,1360.2 849,1365.9 847.5,1371.6 846,1377.3 844.5,1383 843,1388.8 841.5,1394.6 840,1400.4 838.5,1405.9 837,1411 835.5,1415.6 834,1419.3 832.5,1422.2 831,1424.2 829.5,1425.5 828,1426.2 826.5,1426.6 825,1426.7 823.5,1426.7 822,1426.7 820.5,1426.6 819,1426.6 817.5,1426.5 816,1426.4 814.5,1426.1 813,1425.6 811.5,1424.7 810,1423.3 808.5,1421.3 807,1418.5 805.5,1415.1 804,1411 802.5,1406.4 801,1401.4 799.5,1396.1 798,1390.6 796.5,1384.9 795,1379.2 793.5,1373.4 792,1367.5 790.5,1361.5 789,1355.4 787.5,1349.3 786,1343.1 784.5,1336.8 783,1330.4 781.5,1324 780,1317.4 778.5,1310.8 777,1304.1 775.5,1297.3 774,1290.4 772.5,1283.3 771,1276.2 769.5,1268.8 768,1261.2 766.5,1253.4 765,1245.3 763.5,1236.9 762,1228.2 760.5,1219.1 759,1209.8 757.5,1200.2 756,1190.5 754.5,1180.7 753,1171 751.5,1161.4 750,1152 748.5,1142.9 747,1134 745.5,1125.5 744,1117.3 742.5,1109.4 741,1101.8 739.5,1094.6 738,1087.5 736.5,1080.8 735,1074.2 733.5,1067.9 732,1061.7 730.5,1055.6 729,1049.6 727.5,1043.6 726,1037.7 724.5,1031.9 723,1026.1 721.5,1020.5 720,1014.9 718.5,1009.5 717,1004.2 715.5,999.1 714,994.3 712.5,989.7 711,985.4 709.5,981.4 708,977.7 706.5,974.4 705,971.6 703.5,969.1 702,967 700.5,965.4 699,964.2 697.5,963.3 696,962.7 694.5,962.3 693,962.1 691.5,962 690,961.9 688.5,961.9 687,961.9 685.5,962 684,962.2 682.5,962.6 681,963.1 679.5,963.8 678,964.8 676.5,966.1 675,967.7 673.5,969.6 672,971.9 670.5,974.4 669,977.3 667.5,980.5 666,984 664.5,987.9 663,992 661.5,996.4 660,1001.1 658.5,1006 657,1011.3 655.5,1016.8 654,1022.5 652.5,1028.5 651,1034.7 649.5,1041.1 648,1047.8 646.5,1054.6 645,1061.7 643.5,1068.9 642,1076.3 640.5,1083.8 639,1091.5 637.5,1099.2 636,1107 634.5,1114.8 633,1122.7 631.5,1130.6 630,1138.6 628.5,1146.7 627,1155.1 625.5,1163.8 624,1172.8 622.5,1182.1 621,1191.7 619.5,1201.5 618,1211.2 616.5,1220.9 615,1230.5 613.5,1239.8 612,1249 610.5,1257.8 609,1266.4 607.5,1274.7 606,1282.8 604.5,1290.6 603,1298.2 601.5,1305.5 600,1312.6 598.5,1319.5 597,1326.2 595.5,1332.6 594,1338.8 592.5,1344.9 591,1350.9 589.5,1356.7 588,1362.5 586.5,1368.2 585,1373.9 583.5,1379.6 582,1385.3 580.5,1391.1 579,1396.9 577.5,1402.6 576,1408 574.5,1412.9 573,1417.2 571.5,1420.6 570,1423.1 568.5,1424.8 567,1425.8 565.5,1426.4 564,1426.6 562.5,1426.7 561,1426.7 559.5,1426.6 558,1426.6 556.5,1426.6 555,1426.5 553.5,1426.3 552,1425.9 550.5,1425.3 549,1424.2 547.5,1422.5 546,1420.2 544.5,1417.2 543,1413.5 541.5,1409.2 540,1404.4 538.5,1399.3 537,1393.9 535.5,1388.3 534,1382.6 532.5,1376.9 531,1371 529.5,1365.1 528,1359.1 526.5,1353 525,1346.8 523.5,1340.6 522,1334.2 520.5,1327.8 519,1321.4 517.5,1314.8 516,1308.1 514.5,1301.4 513,1294.5 511.5,1287.6 510,1280.5 508.5,1273.2 507,1265.8 505.5,1258.1 504,1250.2 502.5,1242 501,1233.5 499.5,1224.6 498,1215.4 496.5,1206 495,1196.4 493.5,1186.6 492,1176.8 490.5,1167.2 489,1157.6 487.5,1148.3 486,1139.3 484.5,1130.6 483,1122.2 481.5,1114.1 480,1106.3 478.5,1098.9 477,1091.7 475.5,1084.8 474,1078.1 472.5,1071.7 471,1065.4 469.5,1059.2 468,1053.2 466.5,1047.2 465,1041.3 463.5,1035.4 462,1029.6 460.5,1023.9 459,1018.2 457.5,1012.7 456,1007.4 454.5,1002.2 453,997.2 451.5,992.4 450,987.9 448.5,983.7 447,979.9 445.5,976.4 444,973.2 442.5,970.5 441,968.2 439.5,966.3 438,964.8 436.5,963.8 435,963 433.5,962.5 432,962.2 430.5,962 429,961.9 427.5,961.9 426,961.9 424.5,962 423,962.1 421.5,962.4 420,962.8 418.5,963.4 417,964.2 415.5,965.3 414,966.7 412.5,968.4 411,970.5 409.5,972.8 408,975.5 406.5,978.6 405,981.9 403.5,985.5 402,989.5 400.5,993.7 399,998.2 397.5,1003 396,1008.1 394.5,1013.4 393,1019 391.5,1024.8 390,1030.9 388.5,1037.2 387,1043.7 385.5,1050.5 384,1057.4 382.5,1064.5 381,1071.8 379.5,1079.3 378,1086.9 376.5,1094.6 375,1102.3 373.5,1110.1 372,1118 370.5,1125.8 369,1133.8 367.5,1141.8 366,1150 364.5,1158.5 363,1167.3 361.5,1176.5 360,1185.9 358.5,1195.6 357,1205.4 355.5,1215.1 354,1224.8 352.5,1234.3 351,1243.5 349.5,1252.5 348,1261.3 346.5,1269.8 345,1278 343.5,1286 342,1293.7 340.5,1301.2 339,1308.4 337.5,1315.4 336,1322.2 334.5,1328.8 333,1335.1 331.5,1341.3 330,1347.3 328.5,1353.2 327,1359 325.5,1364.8 324,1370.5 322.5,1376.1 321,1381.9 319.5,1387.7 318,1393.5 316.5,1399.2 315,1404.8 313.5,1410.1 312,1414.7 310.5,1418.6 309,1421.7 307.5,1423.8 306,1425.3 304.5,1426.1 303,1426.5 301.5,1426.7 300,1426.7 298.5,1426.7 297,1426.6 295.5,1426.6 294,1426.5 292.5,1426.4 291,1426.2 289.5,1425.7 288,1424.9 286.5,1423.6 285,1421.7 283.5,1419.1 282,1415.8 280.5,1411.8 279,1407.3 277.5,1402.4 276,1397.1 274.5,1391.7 273,1386.1 271.5,1380.3 270,1374.5 268.5,1368.6 267,1362.7 265.5,1356.6 264,1350.5 262.5,1344.3 261,1338.1 259.5,1331.7 258,1325.3 256.5,1318.7 255,1312.1 253.5,1305.4 252,1298.7 250.5,1291.8 249,1284.8 247.5,1277.6 246,1270.3 244.5,1262.8 243,1255 241.5,1247 240,1238.6 238.5,1229.9 237,1221 235.5,1211.7 234,1202.1 232.5,1192.5 231,1182.7 229.5,1173 228,1163.3 226.5,1153.9 225,1144.7 223.5,1135.8 222,1127.2 220.5,1118.9 219,1111 217.5,1103.3 216,1096 214.5,1088.9 213,1082.1 211.5,1075.5 210,1069.1 208.5,1062.9 207,1056.8 205.5,1050.8 204,1044.8 202.5,1038.9 201,1033.1 199.5,1027.3 198,1021.6 196.5,1016 195,1010.6 193.5,1005.3 192,1000.1 190.5,995.2 189,990.6 187.5,986.2 186,982.2 184.5,978.4 183,975.1 181.5,972.1 180,969.5 178.5,967.4 177,965.7 175.5,964.4 174,963.4 172.5,962.8 171,962.4 169.5,962.1 168,962 166.5,961.9 165,961.9 163.5,961.9 162,962 160.5,962.2 159,962.5 157.5,963 156,963.7 154.5,964.6 153,965.8 151.5,967.4 150,969.2 148.5,971.4 147,973.9 145.5,976.7 144,979.8 142.5,983.3 141,987.1 139.5,991.1 138,995.5 136.5,1000.1 135,1005 133.5,1010.2 132,1015.6 130.5,1021.3 129,1027.2 127.5,1033.4 126,1039.8 124.5,1046.4 123,1053.2 121.5,1060.2 120,1067.4 118.5,1074.8 117,1082.3 115.5,1090 114,1097.7 112.5,1105.5 111,1113.3 109.5,1121.1 108,1129 106.5,1137 105,1145.1 103.5,1153.4 102,1162 100.5,1170.9 99,1180.2 97.5,1189.8 96,1199.5 94.5,1209.3 93,1219 91.5,1228.6 90,1238 88.5,1247.1 87,1256.1 85.5,1264.7 84,1273.1Z" fill="#030c0c" stroke="#6a7878" stroke-width="3" stroke-opacity="0.55"/>
<path d="M84,1262.4 85.5,1254.1 87,1245.5 88.5,1236.7 90,1227.6 91.5,1218.3 93,1208.8 94.5,1199.1 96,1189.5 97.5,1179.8 99,1170.3 100.5,1161.1 102,1152.3 103.5,1143.7 105,1135.5 106.5,1127.5 108,1119.6 109.5,1111.8 111,1104 112.5,1096.2 114,1088.5 115.5,1080.9 117,1073.3 118.5,1065.9 120,1058.5 121.5,1051.4 123,1044.5 124.5,1037.7 126,1031.1 127.5,1024.8 129,1018.7 130.5,1012.8 132,1007.2 133.5,1001.8 135,996.7 136.5,991.8 138,987.2 139.5,982.9 141,978.9 142.5,975.1 144,971.7 145.5,968.6 147,965.8 148.5,963.3 150,961.2 151.5,959.3 153,957.8 154.5,956.6 156,955.7 157.5,955 159,954.5 160.5,954.2 162,954 163.5,953.9 165,953.9 166.5,953.9 168,954 169.5,954.1 171,954.4 172.5,954.8 174,955.4 175.5,956.4 177,957.7 178.5,959.4 180,961.5 181.5,964 183,967 184.5,970.3 186,974 187.5,978 189,982.4 190.5,987 192,991.8 193.5,996.9 195,1002.1 196.5,1007.6 198,1013.1 199.5,1018.7 201,1024.5 202.5,1030.3 204,1036.1 205.5,1042 207,1048 208.5,1054 210,1060.2 211.5,1066.6 213,1073.1 214.5,1079.8 216,1086.8 217.5,1094.1 219,1101.7 220.5,1109.6 222,1117.8 223.5,1126.3 225,1135.1 226.5,1144.2 228,1153.6 229.5,1163.1 231,1172.8 232.5,1182.5 234,1192.1 235.5,1201.5 237,1210.7 238.5,1219.6 240,1228.2 241.5,1236.5 243,1244.5 244.5,1252.2 246,1259.6 247.5,1266.9 249,1274 250.5,1280.9 252,1287.7 253.5,1294.5 255,1301.1 256.5,1307.7 258,1314.1 259.5,1320.5 261,1326.8 262.5,1333 264,1339.2 265.5,1345.2 267,1351.2 268.5,1357.1 270,1363 271.5,1368.7 273,1374.4 274.5,1379.9 276,1385.4 277.5,1390.6 279,1395.5 280.5,1399.9 282,1403.9 283.5,1407.2 285,1409.7 286.5,1411.6 288,1412.9 289.5,1413.7 291,1414.2 292.5,1414.4 294,1414.5 295.5,1414.6 297,1414.6 298.5,1414.6 300,1414.7 301.5,1414.7 303,1414.5 304.5,1414.1 306,1413.3 307.5,1411.8 309,1409.7 310.5,1406.7 312,1402.8 313.5,1398.2 315,1393 316.5,1387.5 318,1381.7 319.5,1376 321,1370.2 322.5,1364.6 324,1358.9 325.5,1353.3 327,1347.6 328.5,1341.9 330,1336 331.5,1330 333,1323.9 334.5,1317.6 336,1311.1 337.5,1304.4 339,1297.4 340.5,1290.2 342,1282.8 343.5,1275.2 345,1267.3 346.5,1259.1 348,1250.7 349.5,1242 351,1233.1 352.5,1223.9 354,1214.5 355.5,1204.9 357,1195.3 358.5,1185.6 360,1176 361.5,1166.6 363,1157.6 364.5,1148.8 366,1140.4 367.5,1132.3 369,1124.3 370.5,1116.4 372,1108.6 373.5,1100.9 375,1093.1 376.5,1085.4 378,1077.8 379.5,1070.3 381,1062.9 382.5,1055.7 384,1048.6 385.5,1041.7 387,1035 388.5,1028.6 390,1022.3 391.5,1016.3 393,1010.5 394.5,1005 396,999.7 397.5,994.7 399,989.9 400.5,985.5 402,981.3 403.5,977.3 405,973.7 406.5,970.4 408,967.4 409.5,964.8 411,962.4 412.5,960.4 414,958.7 415.5,957.3 417,956.2 418.5,955.4 420,954.8 421.5,954.4 423,954.1 424.5,954 426,953.9 427.5,953.9 429,954 430.5,954 432,954.2 433.5,954.5 435,955 436.5,955.8 438,956.8 439.5,958.3 441,960.2 442.5,962.5 444,965.2 445.5,968.3 447,971.7 448.5,975.6 450,979.7 451.5,984.2 453,988.9 454.5,993.8 456,999 457.5,1004.3 459,1009.8 460.5,1015.3 462,1021 463.5,1026.8 465,1032.6 466.5,1038.4 468,1044.4 469.5,1050.4 471,1056.5 472.5,1062.7 474,1069.2 475.5,1075.8 477,1082.6 478.5,1089.7 480,1097.1 481.5,1104.8 483,1112.8 484.5,1121.1 486,1129.8 487.5,1138.7 489,1147.9 490.5,1157.4 492,1167 493.5,1176.7 495,1186.3 496.5,1195.9 498,1205.2 499.5,1214.3 501,1223.1 502.5,1231.6 504,1239.7 505.5,1247.6 507,1255.2 508.5,1262.6 510,1269.7 511.5,1276.8 513,1283.7 514.5,1290.5 516,1297.1 517.5,1303.7 519,1310.3 520.5,1316.7 522,1323 523.5,1329.3 525,1335.5 526.5,1341.6 528,1347.6 529.5,1353.6 531,1359.5 532.5,1365.3 534,1371 535.5,1376.6 537,1382.1 538.5,1387.5 540,1392.6 541.5,1397.3 543,1401.6 544.5,1405.3 546,1408.3 547.5,1410.6 549,1412.2 550.5,1413.3 552,1413.9 553.5,1414.3 555,1414.5 556.5,1414.5 558,1414.6 559.5,1414.6 561,1414.7 562.5,1414.7 564,1414.6 565.5,1414.4 567,1413.8 568.5,1412.8 570,1411.1 571.5,1408.6 573,1405.2 574.5,1401 576,1396.2 577.5,1390.8 579,1385.2 580.5,1379.4 582,1373.7 583.5,1368 585,1362.3 586.5,1356.7 588,1351 589.5,1345.3 591,1339.5 592.5,1333.6 594,1327.6 595.5,1321.4 597,1315 598.5,1308.4 600,1301.6 601.5,1294.6 603,1287.3 604.5,1279.8 606,1272 607.5,1264 609,1255.8 610.5,1247.2 612,1238.5 613.5,1229.4 615,1220.2 616.5,1210.7 618,1201.1 619.5,1191.4 621,1181.7 622.5,1172.2 624,1163 625.5,1154 627,1145.4 628.5,1137.1 630,1129.1 631.5,1121.1 633,1113.3 634.5,1105.5 636,1097.8 637.5,1090.1 639,1082.4 640.5,1074.8 642,1067.3 643.5,1060 645,1052.8 646.5,1045.8 648,1039 649.5,1032.4 651,1026.1 652.5,1019.9 654,1014 655.5,1008.3 657,1002.9 658.5,997.7 660,992.8 661.5,988.1 663,983.7 664.5,979.7 666,975.9 667.5,972.4 669,969.2 670.5,966.3 672,963.8 673.5,961.6 675,959.7 676.5,958.1 678,956.8 679.5,955.8 681,955.1 682.5,954.6 684,954.3 685.5,954 687,953.9 688.5,953.9 690,953.9 691.5,954 693,954.1 694.5,954.3 696,954.7 697.5,955.3 699,956.2 700.5,957.4 702,959 703.5,961 705,963.5 706.5,966.4 708,969.6 709.5,973.2 711,977.2 712.5,981.5 714,986 715.5,990.8 717,995.9 718.5,1001.1 720,1006.5 721.5,1012 723,1017.6 724.5,1023.3 726,1029.1 727.5,1034.9 729,1040.8 730.5,1046.8 732,1052.8 733.5,1059 735,1065.3 736.5,1071.8 738,1078.5 739.5,1085.4 741,1092.6 742.5,1100.1 744,1108 745.5,1116.1 747,1124.6 748.5,1133.3 750,1142.4 751.5,1151.7 753,1161.2 754.5,1170.9 756,1180.5 757.5,1190.2 759,1199.6 760.5,1208.9 762,1217.9 763.5,1226.5 765,1234.9 766.5,1242.9 768,1250.7 769.5,1258.2 771,1265.4 772.5,1272.6 774,1279.5 775.5,1286.4 777,1293.1 778.5,1299.8 780,1306.4 781.5,1312.8 783,1319.2 784.5,1325.5 786,1331.8 787.5,1337.9 789,1344 790.5,1350 792,1356 793.5,1361.8 795,1367.6 796.5,1373.3 798,1378.8 799.5,1384.3 801,1389.5 802.5,1394.5 804,1399.1 805.5,1403.1 807,1406.5 808.5,1409.3 810,1411.3 811.5,1412.7 813,1413.6 814.5,1414.1 816,1414.4 817.5,1414.5 819,1414.6 820.5,1414.6 822,1414.6 823.5,1414.7 825,1414.7 826.5,1414.5 828,1414.2 829.5,1413.5 831,1412.2 832.5,1410.2 834,1407.3 835.5,1403.6 837,1399.2 838.5,1394.1 840,1388.6 841.5,1382.9 843,1377.1 844.5,1371.4 846,1365.7 847.5,1360 849,1354.4 850.5,1348.7 852,1343 853.5,1337.2 855,1331.2 856.5,1325.1 858,1318.9 859.5,1312.4 861,1305.7 862.5,1298.8 864,1291.7 865.5,1284.3 867,1276.7 868.5,1268.9 870,1260.8 871.5,1252.4 873,1243.8 874.5,1234.9 876,1225.8 877.5,1216.4 879,1206.9 880.5,1197.2 882,1187.5 883.5,1177.9 885,1168.5 886.5,1159.3 888,1150.5 889.5,1142.1 891,1133.9 892.5,1125.9 894,1118 895.5,1110.2 897,1102.4 898.5,1094.7 900,1087 901.5,1079.3 903,1071.8 904.5,1064.4 906,1057.1 907.5,1050 909,1043.1 910.5,1036.4 912,1029.9 913.5,1023.6 915,1017.5 916.5,1011.7 918,1006.1 919.5,1000.8 921,995.7 922.5,990.9 924,986.3 925.5,982.1 927,978.1 928.5,974.4 930,971.1 931.5,968 933,965.3 934.5,962.9 936,960.8 937.5,959 939,957.6 940.5,956.4 942,955.5 943.5,954.9 945,954.4 946.5,954.2 948,954 949.5,953.9 951,953.9 952.5,953.9 954,954 955.5,954.2 957,954.4 958.5,954.9 960,955.6 961.5,956.6 963,958 964.5,959.8 966,962 967.5,964.6 969,967.6 970.5,971 972,974.8 973.5,978.9 975,983.3 976.5,987.9 978,992.8 979.5,997.9 981,1003.2 982.5,1008.7 984,1014.2 985.5,1019.9 987,1025.6 988.5,1031.4 990,1037.3 991.5,1043.2 993,1049.2 994.5,1055.3 996,1061.5 997.5,1067.9 999,1074.4 1000.5,1081.2 1002,1088.3 1003.5,1095.6 1005,1103.2 1006.5,1111.2 1008,1119.4 1009.5,1128 1011,1136.9 1012.5,1146.1 1014,1155.5 1015.5,1165.1 1017,1174.7 1018.5,1184.4 1020,1194 1021.5,1203.4 1023,1212.5 1024.5,1221.4 1026,1229.9 1027.5,1238.1 1029,1246 1030.5,1253.7 1032,1261.1 1033.5,1268.3 1035,1275.4 1036.5,1282.3 1038,1289.1 1039.5,1295.8 1041,1302.4 1042.5,1309 1044,1315.4 1045.5,1321.8 1047,1328.1 1048.5,1334.3 1050,1340.4 1051.5,1346.4 1053,1352.4 1054.5,1358.3 1056,1364.1 1057.5,1369.9 1059,1375.5 1060.5,1381 1062,1386.4 1063.5,1391.6 1065,1396.4 1066.5,1400.8 1068,1404.6 1069.5,1407.7 1071,1410.2 1072.5,1411.9 1074,1413.1 1075.5,1413.8 1077,1414.2 1078.5,1414.4 1080,1414.5 1081.5,1414.6 1083,1414.6 1084.5,1414.7 1086,1414.7 1087.5,1414.6 1089,1414.4 1090.5,1414 1092,1413 1093.5,1411.5 1095,1409.1 1096.5,1406 1098,1401.9 1099.5,1397.2 1101,1391.9 1102.5,1386.3 1104,1380.6 1105.5,1374.8 1107,1369.1 1108.5,1363.4 1110,1357.8 1111.5,1352.1 1113,1346.5 1114.5,1340.7 1116,1334.8 1117.5,1328.8 1119,1322.6 1120.5,1316.3 1122,1309.7 1123.5,1303 1125,1296 1126.5,1288.8 1128,1281.3 1129.5,1273.6 1131,1265.7 1132.5,1257.4 1134,1249 1135.5,1240.2 1137,1231.3 1138.5,1222.1 1140,1212.6 1141.5,1203 1143,1193.3 1144.5,1183.7 1146,1174.1 1147.5,1164.8 1149,1155.8 1150.5,1147.1 1152,1138.8 1153.5,1130.6 1155,1122.7 1156.5,1114.9 1158,1107.1 1159.5,1099.3 1161,1091.6 1162.5,1083.9 1164,1076.3 1165.5,1068.8 1167,1061.5 1168.5,1054.2 1170,1047.2 1171.5,1040.4 1173,1033.7 1174.5,1027.3 1176,1021.1 1177.5,1015.1 1179,1009.4 1180.5,1003.9 1182,998.7 1183.5,993.7 1185,989 1186.5,984.6 1188,980.4 1189.5,976.6 1191,973 1192.5,969.8 1194,966.9 1195.5,964.3 1197,962 1198.5,960 1200,958.4 1201.5,957.1 1203,956 1204.5,955.2 1206,954.7 1207.5,954.3 1209,954.1 1210.5,954 1212,953.9 1213.5,953.9 1215,954 1216.5,954.1 1218,954.3 1219.5,954.6 1221,955.1 1222.5,956 1224,957.1 1225.5,958.6 1227,960.6 1228.5,963 1230,965.8 1231.5,968.9 1233,972.5 1234.5,976.4 1236,980.6 1237.5,985.1 1239,989.9 1240.5,994.8 1242,1000 1243.5,1005.4 1245,1010.9 1246.5,1016.5 1248,1022.2 1249.5,1027.9 1251,1033.8 1252.5,1039.6 1254,1045.6 1255.5,1051.6 1257,1057.7 1258.5,1064 1260,1070.5 1261.5,1077.1 1263,1084 1264.5,1091.2 1266,1098.6 1267.5,1106.4 1269,1114.4 1270.5,1122.8 1272,1131.5 1273.5,1140.6 1275,1149.8 1276.5,1159.3 1278,1168.9 1279.5,1178.6 1281,1188.3 1282.5,1197.8 1284,1207.1 1285.5,1216.1 1287,1224.8 1288.5,1233.2 1290,1241.3 1291.5,1249.1 1293,1256.7 1294.5,1264 1296,1271.2 1297.5,1278.2 1299,1285 1300.5,1291.8 1302,1298.5 1303.5,1305 1305,1311.5 1306.5,1318 1308,1324.3 1309.5,1330.5 1311,1336.7 1312.5,1342.8 1314,1348.8 1315.5,1354.8 1317,1360.6 1318.5,1366.4 1320,1372.1 1321.5,1377.7 1323,1383.2 1324.5,1388.5 1326,1393.6 1327.5,1398.2 1329,1402.4 1330.5,1405.9 1332,1408.8 1333.5,1410.9 1335,1412.5 1336.5,1413.4 1338,1414 1339.5,1414.3 1341,1414.5 1342.5,1414.5 1344,1414.6 1345.5,1414.6 1347,1414.7 1348.5,1414.7 1350,1414.6 1351.5,1414.3 1353,1413.6 1354.5,1412.5 1356,1410.6 1357.5,1408 1359,1404.4 1360.5,1400.1 1362,1395.1 1363.5,1389.7 1365,1384 1366.5,1378.3 1368,1372.5 1369.5,1366.8 1371,1361.2 1372.5,1355.5 1374,1349.9 1375.5,1344.2 1377,1338.4 1378.5,1332.4 1380,1326.4 1381.5,1320.1 1383,1313.7 1384.5,1307.1 1386,1300.2 1387.5,1293.1 1389,1285.8 1390.5,1278.3 1392,1270.5 1393.5,1262.4 1395,1254.1" fill="none" stroke="#061a1a" stroke-width="11" stroke-linejoin="round" />
<path d="M84,1262.4 85.5,1254.1 87,1245.5 88.5,1236.7 90,1227.6 91.5,1218.3 93,1208.8 94.5,1199.1 96,1189.5 97.5,1179.8 99,1170.3 100.5,1161.1 102,1152.3 103.5,1143.7 105,1135.5 106.5,1127.5 108,1119.6 109.5,1111.8 111,1104 112.5,1096.2 114,1088.5 115.5,1080.9 117,1073.3 118.5,1065.9 120,1058.5 121.5,1051.4 123,1044.5 124.5,1037.7 126,1031.1 127.5,1024.8 129,1018.7 130.5,1012.8 132,1007.2 133.5,1001.8 135,996.7 136.5,991.8 138,987.2 139.5,982.9 141,978.9 142.5,975.1 144,971.7 145.5,968.6 147,965.8 148.5,963.3 150,961.2 151.5,959.3 153,957.8 154.5,956.6 156,955.7 157.5,955 159,954.5 160.5,954.2 162,954 163.5,953.9 165,953.9 166.5,953.9 168,954 169.5,954.1 171,954.4 172.5,954.8 174,955.4 175.5,956.4 177,957.7 178.5,959.4 180,961.5 181.5,964 183,967 184.5,970.3 186,974 187.5,978 189,982.4 190.5,987 192,991.8 193.5,996.9 195,1002.1 196.5,1007.6 198,1013.1 199.5,1018.7 201,1024.5 202.5,1030.3 204,1036.1 205.5,1042 207,1048 208.5,1054 210,1060.2 211.5,1066.6 213,1073.1 214.5,1079.8 216,1086.8 217.5,1094.1 219,1101.7 220.5,1109.6 222,1117.8 223.5,1126.3 225,1135.1 226.5,1144.2 228,1153.6 229.5,1163.1 231,1172.8 232.5,1182.5 234,1192.1 235.5,1201.5 237,1210.7 238.5,1219.6 240,1228.2 241.5,1236.5 243,1244.5 244.5,1252.2 246,1259.6 247.5,1266.9 249,1274 250.5,1280.9 252,1287.7 253.5,1294.5 255,1301.1 256.5,1307.7 258,1314.1 259.5,1320.5 261,1326.8 262.5,1333 264,1339.2 265.5,1345.2 267,1351.2 268.5,1357.1 270,1363 271.5,1368.7 273,1374.4 274.5,1379.9 276,1385.4 277.5,1390.6 279,1395.5 280.5,1399.9 282,1403.9 283.5,1407.2 285,1409.7 286.5,1411.6 288,1412.9 289.5,1413.7 291,1414.2 292.5,1414.4 294,1414.5 295.5,1414.6 297,1414.6 298.5,1414.6 300,1414.7 301.5,1414.7 303,1414.5 304.5,1414.1 306,1413.3 307.5,1411.8 309,1409.7 310.5,1406.7 312,1402.8 313.5,1398.2 315,1393 316.5,1387.5 318,1381.7 319.5,1376 321,1370.2 322.5,1364.6 324,1358.9 325.5,1353.3 327,1347.6 328.5,1341.9 330,1336 331.5,1330 333,1323.9 334.5,1317.6 336,1311.1 337.5,1304.4 339,1297.4 340.5,1290.2 342,1282.8 343.5,1275.2 345,1267.3 346.5,1259.1 348,1250.7 349.5,1242 351,1233.1 352.5,1223.9 354,1214.5 355.5,1204.9 357,1195.3 358.5,1185.6 360,1176 361.5,1166.6 363,1157.6 364.5,1148.8 366,1140.4 367.5,1132.3 369,1124.3 370.5,1116.4 372,1108.6 373.5,1100.9 375,1093.1 376.5,1085.4 378,1077.8 379.5,1070.3 381,1062.9 382.5,1055.7 384,1048.6 385.5,1041.7 387,1035 388.5,1028.6 390,1022.3 391.5,1016.3 393,1010.5 394.5,1005 396,999.7 397.5,994.7 399,989.9 400.5,985.5 402,981.3 403.5,977.3 405,973.7 406.5,970.4 408,967.4 409.5,964.8 411,962.4 412.5,960.4 414,958.7 415.5,957.3 417,956.2 418.5,955.4 420,954.8 421.5,954.4 423,954.1 424.5,954 426,953.9 427.5,953.9 429,954 430.5,954 432,954.2 433.5,954.5 435,955 436.5,955.8 438,956.8 439.5,958.3 441,960.2 442.5,962.5 444,965.2 445.5,968.3 447,971.7 448.5,975.6 450,979.7 451.5,984.2 453,988.9 454.5,993.8 456,999 457.5,1004.3 459,1009.8 460.5,1015.3 462,1021 463.5,1026.8 465,1032.6 466.5,1038.4 468,1044.4 469.5,1050.4 471,1056.5 472.5,1062.7 474,1069.2 475.5,1075.8 477,1082.6 478.5,1089.7 480,1097.1 481.5,1104.8 483,1112.8 484.5,1121.1 486,1129.8 487.5,1138.7 489,1147.9 490.5,1157.4 492,1167 493.5,1176.7 495,1186.3 496.5,1195.9 498,1205.2 499.5,1214.3 501,1223.1 502.5,1231.6 504,1239.7 505.5,1247.6 507,1255.2 508.5,1262.6 510,1269.7 511.5,1276.8 513,1283.7 514.5,1290.5 516,1297.1 517.5,1303.7 519,1310.3 520.5,1316.7 522,1323 523.5,1329.3 525,1335.5 526.5,1341.6 528,1347.6 529.5,1353.6 531,1359.5 532.5,1365.3 534,1371 535.5,1376.6 537,1382.1 538.5,1387.5 540,1392.6 541.5,1397.3 543,1401.6 544.5,1405.3 546,1408.3 547.5,1410.6 549,1412.2 550.5,1413.3 552,1413.9 553.5,1414.3 555,1414.5 556.5,1414.5 558,1414.6 559.5,1414.6 561,1414.7 562.5,1414.7 564,1414.6 565.5,1414.4 567,1413.8 568.5,1412.8 570,1411.1 571.5,1408.6 573,1405.2 574.5,1401 576,1396.2 577.5,1390.8 579,1385.2 580.5,1379.4 582,1373.7 583.5,1368 585,1362.3 586.5,1356.7 588,1351 589.5,1345.3 591,1339.5 592.5,1333.6 594,1327.6 595.5,1321.4 597,1315 598.5,1308.4 600,1301.6 601.5,1294.6 603,1287.3 604.5,1279.8 606,1272 607.5,1264 609,1255.8 610.5,1247.2 612,1238.5 613.5,1229.4 615,1220.2 616.5,1210.7 618,1201.1 619.5,1191.4 621,1181.7 622.5,1172.2 624,1163 625.5,1154 627,1145.4 628.5,1137.1 630,1129.1 631.5,1121.1 633,1113.3 634.5,1105.5 636,1097.8 637.5,1090.1 639,1082.4 640.5,1074.8 642,1067.3 643.5,1060 645,1052.8 646.5,1045.8 648,1039 649.5,1032.4 651,1026.1 652.5,1019.9 654,1014 655.5,1008.3 657,1002.9 658.5,997.7 660,992.8 661.5,988.1 663,983.7 664.5,979.7 666,975.9 667.5,972.4 669,969.2 670.5,966.3 672,963.8 673.5,961.6 675,959.7 676.5,958.1 678,956.8 679.5,955.8 681,955.1 682.5,954.6 684,954.3 685.5,954 687,953.9 688.5,953.9 690,953.9 691.5,954 693,954.1 694.5,954.3 696,954.7 697.5,955.3 699,956.2 700.5,957.4 702,959 703.5,961 705,963.5 706.5,966.4 708,969.6 709.5,973.2 711,977.2 712.5,981.5 714,986 715.5,990.8 717,995.9 718.5,1001.1 720,1006.5 721.5,1012 723,1017.6 724.5,1023.3 726,1029.1 727.5,1034.9 729,1040.8 730.5,1046.8 732,1052.8 733.5,1059 735,1065.3 736.5,1071.8 738,1078.5 739.5,1085.4 741,1092.6 742.5,1100.1 744,1108 745.5,1116.1 747,1124.6 748.5,1133.3 750,1142.4 751.5,1151.7 753,1161.2 754.5,1170.9 756,1180.5 757.5,1190.2 759,1199.6 760.5,1208.9 762,1217.9 763.5,1226.5 765,1234.9 766.5,1242.9 768,1250.7 769.5,1258.2 771,1265.4 772.5,1272.6 774,1279.5 775.5,1286.4 777,1293.1 778.5,1299.8 780,1306.4 781.5,1312.8 783,1319.2 784.5,1325.5 786,1331.8 787.5,1337.9 789,1344 790.5,1350 792,1356 793.5,1361.8 795,1367.6 796.5,1373.3 798,1378.8 799.5,1384.3 801,1389.5 802.5,1394.5 804,1399.1 805.5,1403.1 807,1406.5 808.5,1409.3 810,1411.3 811.5,1412.7 813,1413.6 814.5,1414.1 816,1414.4 817.5,1414.5 819,1414.6 820.5,1414.6 822,1414.6 823.5,1414.7 825,1414.7 826.5,1414.5 828,1414.2 829.5,1413.5 831,1412.2 832.5,1410.2 834,1407.3 835.5,1403.6 837,1399.2 838.5,1394.1 840,1388.6 841.5,1382.9 843,1377.1 844.5,1371.4 846,1365.7 847.5,1360 849,1354.4 850.5,1348.7 852,1343 853.5,1337.2 855,1331.2 856.5,1325.1 858,1318.9 859.5,1312.4 861,1305.7 862.5,1298.8 864,1291.7 865.5,1284.3 867,1276.7 868.5,1268.9 870,1260.8 871.5,1252.4 873,1243.8 874.5,1234.9 876,1225.8 877.5,1216.4 879,1206.9 880.5,1197.2 882,1187.5 883.5,1177.9 885,1168.5 886.5,1159.3 888,1150.5 889.5,1142.1 891,1133.9 892.5,1125.9 894,1118 895.5,1110.2 897,1102.4 898.5,1094.7 900,1087 901.5,1079.3 903,1071.8 904.5,1064.4 906,1057.1 907.5,1050 909,1043.1 910.5,1036.4 912,1029.9 913.5,1023.6 915,1017.5 916.5,1011.7 918,1006.1 919.5,1000.8 921,995.7 922.5,990.9 924,986.3 925.5,982.1 927,978.1 928.5,974.4 930,971.1 931.5,968 933,965.3 934.5,962.9 936,960.8 937.5,959 939,957.6 940.5,956.4 942,955.5 943.5,954.9 945,954.4 946.5,954.2 948,954 949.5,953.9 951,953.9 952.5,953.9 954,954 955.5,954.2 957,954.4 958.5,954.9 960,955.6 961.5,956.6 963,958 964.5,959.8 966,962 967.5,964.6 969,967.6 970.5,971 972,974.8 973.5,978.9 975,983.3 976.5,987.9 978,992.8 979.5,997.9 981,1003.2 982.5,1008.7 984,1014.2 985.5,1019.9 987,1025.6 988.5,1031.4 990,1037.3 991.5,1043.2 993,1049.2 994.5,1055.3 996,1061.5 997.5,1067.9 999,1074.4 1000.5,1081.2 1002,1088.3 1003.5,1095.6 1005,1103.2 1006.5,1111.2 1008,1119.4 1009.5,1128 1011,1136.9 1012.5,1146.1 1014,1155.5 1015.5,1165.1 1017,1174.7 1018.5,1184.4 1020,1194 1021.5,1203.4 1023,1212.5 1024.5,1221.4 1026,1229.9 1027.5,1238.1 1029,1246 1030.5,1253.7 1032,1261.1 1033.5,1268.3 1035,1275.4 1036.5,1282.3 1038,1289.1 1039.5,1295.8 1041,1302.4 1042.5,1309 1044,1315.4 1045.5,1321.8 1047,1328.1 1048.5,1334.3 1050,1340.4 1051.5,1346.4 1053,1352.4 1054.5,1358.3 1056,1364.1 1057.5,1369.9 1059,1375.5 1060.5,1381 1062,1386.4 1063.5,1391.6 1065,1396.4 1066.5,1400.8 1068,1404.6 1069.5,1407.7 1071,1410.2 1072.5,1411.9 1074,1413.1 1075.5,1413.8 1077,1414.2 1078.5,1414.4 1080,1414.5 1081.5,1414.6 1083,1414.6 1084.5,1414.7 1086,1414.7 1087.5,1414.6 1089,1414.4 1090.5,1414 1092,1413 1093.5,1411.5 1095,1409.1 1096.5,1406 1098,1401.9 1099.5,1397.2 1101,1391.9 1102.5,1386.3 1104,1380.6 1105.5,1374.8 1107,1369.1 1108.5,1363.4 1110,1357.8 1111.5,1352.1 1113,1346.5 1114.5,1340.7 1116,1334.8 1117.5,1328.8 1119,1322.6 1120.5,1316.3 1122,1309.7 1123.5,1303 1125,1296 1126.5,1288.8 1128,1281.3 1129.5,1273.6 1131,1265.7 1132.5,1257.4 1134,1249 1135.5,1240.2 1137,1231.3 1138.5,1222.1 1140,1212.6 1141.5,1203 1143,1193.3 1144.5,1183.7 1146,1174.1 1147.5,1164.8 1149,1155.8 1150.5,1147.1 1152,1138.8 1153.5,1130.6 1155,1122.7 1156.5,1114.9 1158,1107.1 1159.5,1099.3 1161,1091.6 1162.5,1083.9 1164,1076.3 1165.5,1068.8 1167,1061.5 1168.5,1054.2 1170,1047.2 1171.5,1040.4 1173,1033.7 1174.5,1027.3 1176,1021.1 1177.5,1015.1 1179,1009.4 1180.5,1003.9 1182,998.7 1183.5,993.7 1185,989 1186.5,984.6 1188,980.4 1189.5,976.6 1191,973 1192.5,969.8 1194,966.9 1195.5,964.3 1197,962 1198.5,960 1200,958.4 1201.5,957.1 1203,956 1204.5,955.2 1206,954.7 1207.5,954.3 1209,954.1 1210.5,954 1212,953.9 1213.5,953.9 1215,954 1216.5,954.1 1218,954.3 1219.5,954.6 1221,955.1 1222.5,956 1224,957.1 1225.5,958.6 1227,960.6 1228.5,963 1230,965.8 1231.5,968.9 1233,972.5 1234.5,976.4 1236,980.6 1237.5,985.1 1239,989.9 1240.5,994.8 1242,1000 1243.5,1005.4 1245,1010.9 1246.5,1016.5 1248,1022.2 1249.5,1027.9 1251,1033.8 1252.5,1039.6 1254,1045.6 1255.5,1051.6 1257,1057.7 1258.5,1064 1260,1070.5 1261.5,1077.1 1263,1084 1264.5,1091.2 1266,1098.6 1267.5,1106.4 1269,1114.4 1270.5,1122.8 1272,1131.5 1273.5,1140.6 1275,1149.8 1276.5,1159.3 1278,1168.9 1279.5,1178.6 1281,1188.3 1282.5,1197.8 1284,1207.1 1285.5,1216.1 1287,1224.8 1288.5,1233.2 1290,1241.3 1291.5,1249.1 1293,1256.7 1294.5,1264 1296,1271.2 1297.5,1278.2 1299,1285 1300.5,1291.8 1302,1298.5 1303.5,1305 1305,1311.5 1306.5,1318 1308,1324.3 1309.5,1330.5 1311,1336.7 1312.5,1342.8 1314,1348.8 1315.5,1354.8 1317,1360.6 1318.5,1366.4 1320,1372.1 1321.5,1377.7 1323,1383.2 1324.5,1388.5 1326,1393.6 1327.5,1398.2 1329,1402.4 1330.5,1405.9 1332,1408.8 1333.5,1410.9 1335,1412.5 1336.5,1413.4 1338,1414 1339.5,1414.3 1341,1414.5 1342.5,1414.5 1344,1414.6 1345.5,1414.6 1347,1414.7 1348.5,1414.7 1350,1414.6 1351.5,1414.3 1353,1413.6 1354.5,1412.5 1356,1410.6 1357.5,1408 1359,1404.4 1360.5,1400.1 1362,1395.1 1363.5,1389.7 1365,1384 1366.5,1378.3 1368,1372.5 1369.5,1366.8 1371,1361.2 1372.5,1355.5 1374,1349.9 1375.5,1344.2 1377,1338.4 1378.5,1332.4 1380,1326.4 1381.5,1320.1 1383,1313.7 1384.5,1307.1 1386,1300.2 1387.5,1293.1 1389,1285.8 1390.5,1278.3 1392,1270.5 1393.5,1262.4 1395,1254.1" fill="none" stroke="#0a8686" stroke-width="7" stroke-linejoin="round" />
<path d="M84,1261.4 85.5,1253.1 87,1244.5 88.5,1235.7 90,1226.6 91.5,1217.3 93,1207.8 94.5,1198.1 96,1188.5 97.5,1178.8 99,1169.3 100.5,1160.1 102,1151.3 103.5,1142.7 105,1134.5 106.5,1126.5 108,1118.6 109.5,1110.8 111,1103 112.5,1095.2 114,1087.5 115.5,1079.9 117,1072.3 118.5,1064.9 120,1057.5 121.5,1050.4 123,1043.5 124.5,1036.7 126,1030.1 127.5,1023.8 129,1017.7 130.5,1011.8 132,1006.2 133.5,1000.8 135,995.7 136.5,990.8 138,986.2 139.5,981.9 141,977.9 142.5,974.1 144,970.7 145.5,967.6 147,964.8 148.5,962.3 150,960.2 151.5,958.3 153,956.8 154.5,955.6 156,954.7 157.5,954 159,953.5 160.5,953.2 162,953 163.5,952.9 165,952.9 166.5,952.9 168,953 169.5,953.1 171,953.4 172.5,953.8 174,954.4 175.5,955.4 177,956.7 178.5,958.4 180,960.5 181.5,963 183,966 184.5,969.3 186,973 187.5,977 189,981.4 190.5,986 192,990.8 193.5,995.9 195,1001.1 196.5,1006.6 198,1012.1 199.5,1017.7 201,1023.5 202.5,1029.3 204,1035.1 205.5,1041 207,1047 208.5,1053 210,1059.2 211.5,1065.6 213,1072.1 214.5,1078.8 216,1085.8 217.5,1093.1 219,1100.7 220.5,1108.6 222,1116.8 223.5,1125.3 225,1134.1 226.5,1143.2 228,1152.6 229.5,1162.1 231,1171.8 232.5,1181.5 234,1191.1 235.5,1200.5 237,1209.7 238.5,1218.6 240,1227.2 241.5,1235.5 243,1243.5 244.5,1251.2 246,1258.6 247.5,1265.9 249,1273 250.5,1279.9 252,1286.7 253.5,1293.5 255,1300.1 256.5,1306.7 258,1313.1 259.5,1319.5 261,1325.8 262.5,1332 264,1338.2 265.5,1344.2 267,1350.2 268.5,1356.1 270,1362 271.5,1367.7 273,1373.4 274.5,1378.9 276,1384.4 277.5,1389.6 279,1394.5 280.5,1398.9 282,1402.9 283.5,1406.2 285,1408.7 286.5,1410.6 288,1411.9 289.5,1412.7 291,1413.2 292.5,1413.4 294,1413.5 295.5,1413.6 297,1413.6 298.5,1413.6 300,1413.7 301.5,1413.7 303,1413.5 304.5,1413.1 306,1412.3 307.5,1410.8 309,1408.7 310.5,1405.7 312,1401.8 313.5,1397.2 315,1392 316.5,1386.5 318,1380.7 319.5,1375 321,1369.2 322.5,1363.6 324,1357.9 325.5,1352.3 327,1346.6 328.5,1340.9 330,1335 331.5,1329 333,1322.9 334.5,1316.6 336,1310.1 337.5,1303.4 339,1296.4 340.5,1289.2 342,1281.8 343.5,1274.2 345,1266.3 346.5,1258.1 348,1249.7 349.5,1241 351,1232.1 352.5,1222.9 354,1213.5 355.5,1203.9 357,1194.3 358.5,1184.6 360,1175 361.5,1165.6 363,1156.6 364.5,1147.8 366,1139.4 367.5,1131.3 369,1123.3 370.5,1115.4 372,1107.6 373.5,1099.9 375,1092.1 376.5,1084.4 378,1076.8 379.5,1069.3 381,1061.9 382.5,1054.7 384,1047.6 385.5,1040.7 387,1034 388.5,1027.6 390,1021.3 391.5,1015.3 393,1009.5 394.5,1004 396,998.7 397.5,993.7 399,988.9 400.5,984.5 402,980.3 403.5,976.3 405,972.7 406.5,969.4 408,966.4 409.5,963.8 411,961.4 412.5,959.4 414,957.7 415.5,956.3 417,955.2 418.5,954.4 420,953.8 421.5,953.4 423,953.1 424.5,953 426,952.9 427.5,952.9 429,953 430.5,953 432,953.2 433.5,953.5 435,954 436.5,954.8 438,955.8 439.5,957.3 441,959.2 442.5,961.5 444,964.2 445.5,967.3 447,970.7 448.5,974.6 450,978.7 451.5,983.2 453,987.9 454.5,992.8 456,998 457.5,1003.3 459,1008.8 460.5,1014.3 462,1020 463.5,1025.8 465,1031.6 466.5,1037.4 468,1043.4 469.5,1049.4 471,1055.5 472.5,1061.7 474,1068.2 475.5,1074.8 477,1081.6 478.5,1088.7 480,1096.1 481.5,1103.8 483,1111.8 484.5,1120.1 486,1128.8 487.5,1137.7 489,1146.9 490.5,1156.4 492,1166 493.5,1175.7 495,1185.3 496.5,1194.9 498,1204.2 499.5,1213.3 501,1222.1 502.5,1230.6 504,1238.7 505.5,1246.6 507,1254.2 508.5,1261.6 510,1268.7 511.5,1275.8 513,1282.7 514.5,1289.5 516,1296.1 517.5,1302.7 519,1309.3 520.5,1315.7 522,1322 523.5,1328.3 525,1334.5 526.5,1340.6 528,1346.6 529.5,1352.6 531,1358.5 532.5,1364.3 534,1370 535.5,1375.6 537,1381.1 538.5,1386.5 540,1391.6 541.5,1396.3 543,1400.6 544.5,1404.3 546,1407.3 547.5,1409.6 549,1411.2 550.5,1412.3 552,1412.9 553.5,1413.3 555,1413.5 556.5,1413.5 558,1413.6 559.5,1413.6 561,1413.7 562.5,1413.7 564,1413.6 565.5,1413.4 567,1412.8 568.5,1411.8 570,1410.1 571.5,1407.6 573,1404.2 574.5,1400 576,1395.2 577.5,1389.8 579,1384.2 580.5,1378.4 582,1372.7 583.5,1367 585,1361.3 586.5,1355.7 588,1350 589.5,1344.3 591,1338.5 592.5,1332.6 594,1326.6 595.5,1320.4 597,1314 598.5,1307.4 600,1300.6 601.5,1293.6 603,1286.3 604.5,1278.8 606,1271 607.5,1263 609,1254.8 610.5,1246.2 612,1237.5 613.5,1228.4 615,1219.2 616.5,1209.7 618,1200.1 619.5,1190.4 621,1180.7 622.5,1171.2 624,1162 625.5,1153 627,1144.4 628.5,1136.1 630,1128.1 631.5,1120.1 633,1112.3 634.5,1104.5 636,1096.8 637.5,1089.1 639,1081.4 640.5,1073.8 642,1066.3 643.5,1059 645,1051.8 646.5,1044.8 648,1038 649.5,1031.4 651,1025.1 652.5,1018.9 654,1013 655.5,1007.3 657,1001.9 658.5,996.7 660,991.8 661.5,987.1 663,982.7 664.5,978.7 666,974.9 667.5,971.4 669,968.2 670.5,965.3 672,962.8 673.5,960.6 675,958.7 676.5,957.1 678,955.8 679.5,954.8 681,954.1 682.5,953.6 684,953.3 685.5,953 687,952.9 688.5,952.9 690,952.9 691.5,953 693,953.1 694.5,953.3 696,953.7 697.5,954.3 699,955.2 700.5,956.4 702,958 703.5,960 705,962.5 706.5,965.4 708,968.6 709.5,972.2 711,976.2 712.5,980.5 714,985 715.5,989.8 717,994.9 718.5,1000.1 720,1005.5 721.5,1011 723,1016.6 724.5,1022.3 726,1028.1 727.5,1033.9 729,1039.8 730.5,1045.8 732,1051.8 733.5,1058 735,1064.3 736.5,1070.8 738,1077.5 739.5,1084.4 741,1091.6 742.5,1099.1 744,1107 745.5,1115.1 747,1123.6 748.5,1132.3 750,1141.4 751.5,1150.7 753,1160.2 754.5,1169.9 756,1179.5 757.5,1189.2 759,1198.6 760.5,1207.9 762,1216.9 763.5,1225.5 765,1233.9 766.5,1241.9 768,1249.7 769.5,1257.2 771,1264.4 772.5,1271.6 774,1278.5 775.5,1285.4 777,1292.1 778.5,1298.8 780,1305.4 781.5,1311.8 783,1318.2 784.5,1324.5 786,1330.8 787.5,1336.9 789,1343 790.5,1349 792,1355 793.5,1360.8 795,1366.6 796.5,1372.3 798,1377.8 799.5,1383.3 801,1388.5 802.5,1393.5 804,1398.1 805.5,1402.1 807,1405.5 808.5,1408.3 810,1410.3 811.5,1411.7 813,1412.6 814.5,1413.1 816,1413.4 817.5,1413.5 819,1413.6 820.5,1413.6 822,1413.6 823.5,1413.7 825,1413.7 826.5,1413.5 828,1413.2 829.5,1412.5 831,1411.2 832.5,1409.2 834,1406.3 835.5,1402.6 837,1398.2 838.5,1393.1 840,1387.6 841.5,1381.9 843,1376.1 844.5,1370.4 846,1364.7 847.5,1359 849,1353.4 850.5,1347.7 852,1342 853.5,1336.2 855,1330.2 856.5,1324.1 858,1317.9 859.5,1311.4 861,1304.7 862.5,1297.8 864,1290.7 865.5,1283.3 867,1275.7 868.5,1267.9 870,1259.8 871.5,1251.4 873,1242.8 874.5,1233.9 876,1224.8 877.5,1215.4 879,1205.9 880.5,1196.2 882,1186.5 883.5,1176.9 885,1167.5 886.5,1158.3 888,1149.5 889.5,1141.1 891,1132.9 892.5,1124.9 894,1117 895.5,1109.2 897,1101.4 898.5,1093.7 900,1086 901.5,1078.3 903,1070.8 904.5,1063.4 906,1056.1 907.5,1049 909,1042.1 910.5,1035.4 912,1028.9 913.5,1022.6 915,1016.5 916.5,1010.7 918,1005.1 919.5,999.8 921,994.7 922.5,989.9 924,985.3 925.5,981.1 927,977.1 928.5,973.4 930,970.1 931.5,967 933,964.3 934.5,961.9 936,959.8 937.5,958 939,956.6 940.5,955.4 942,954.5 943.5,953.9 945,953.4 946.5,953.2 948,953 949.5,952.9 951,952.9 952.5,952.9 954,953 955.5,953.2 957,953.4 958.5,953.9 960,954.6 961.5,955.6 963,957 964.5,958.8 966,961 967.5,963.6 969,966.6 970.5,970 972,973.8 973.5,977.9 975,982.3 976.5,986.9 978,991.8 979.5,996.9 981,1002.2 982.5,1007.7 984,1013.2 985.5,1018.9 987,1024.6 988.5,1030.4 990,1036.3 991.5,1042.2 993,1048.2 994.5,1054.3 996,1060.5 997.5,1066.9 999,1073.4 1000.5,1080.2 1002,1087.3 1003.5,1094.6 1005,1102.2 1006.5,1110.2 1008,1118.4 1009.5,1127 1011,1135.9 1012.5,1145.1 1014,1154.5 1015.5,1164.1 1017,1173.7 1018.5,1183.4 1020,1193 1021.5,1202.4 1023,1211.5 1024.5,1220.4 1026,1228.9 1027.5,1237.1 1029,1245 1030.5,1252.7 1032,1260.1 1033.5,1267.3 1035,1274.4 1036.5,1281.3 1038,1288.1 1039.5,1294.8 1041,1301.4 1042.5,1308 1044,1314.4 1045.5,1320.8 1047,1327.1 1048.5,1333.3 1050,1339.4 1051.5,1345.4 1053,1351.4 1054.5,1357.3 1056,1363.1 1057.5,1368.9 1059,1374.5 1060.5,1380 1062,1385.4 1063.5,1390.6 1065,1395.4 1066.5,1399.8 1068,1403.6 1069.5,1406.7 1071,1409.2 1072.5,1410.9 1074,1412.1 1075.5,1412.8 1077,1413.2 1078.5,1413.4 1080,1413.5 1081.5,1413.6 1083,1413.6 1084.5,1413.7 1086,1413.7 1087.5,1413.6 1089,1413.4 1090.5,1413 1092,1412 1093.5,1410.5 1095,1408.1 1096.5,1405 1098,1400.9 1099.5,1396.2 1101,1390.9 1102.5,1385.3 1104,1379.6 1105.5,1373.8 1107,1368.1 1108.5,1362.4 1110,1356.8 1111.5,1351.1 1113,1345.5 1114.5,1339.7 1116,1333.8 1117.5,1327.8 1119,1321.6 1120.5,1315.3 1122,1308.7 1123.5,1302 1125,1295 1126.5,1287.8 1128,1280.3 1129.5,1272.6 1131,1264.7 1132.5,1256.4 1134,1248 1135.5,1239.2 1137,1230.3 1138.5,1221.1 1140,1211.6 1141.5,1202 1143,1192.3 1144.5,1182.7 1146,1173.1 1147.5,1163.8 1149,1154.8 1150.5,1146.1 1152,1137.8 1153.5,1129.6 1155,1121.7 1156.5,1113.9 1158,1106.1 1159.5,1098.3 1161,1090.6 1162.5,1082.9 1164,1075.3 1165.5,1067.8 1167,1060.5 1168.5,1053.2 1170,1046.2 1171.5,1039.4 1173,1032.7 1174.5,1026.3 1176,1020.1 1177.5,1014.1 1179,1008.4 1180.5,1002.9 1182,997.7 1183.5,992.7 1185,988 1186.5,983.6 1188,979.4 1189.5,975.6 1191,972 1192.5,968.8 1194,965.9 1195.5,963.3 1197,961 1198.5,959 1200,957.4 1201.5,956.1 1203,955 1204.5,954.2 1206,953.7 1207.5,953.3 1209,953.1 1210.5,953 1212,952.9 1213.5,952.9 1215,953 1216.5,953.1 1218,953.3 1219.5,953.6 1221,954.1 1222.5,955 1224,956.1 1225.5,957.6 1227,959.6 1228.5,962 1230,964.8 1231.5,967.9 1233,971.5 1234.5,975.4 1236,979.6 1237.5,984.1 1239,988.9 1240.5,993.8 1242,999 1243.5,1004.4 1245,1009.9 1246.5,1015.5 1248,1021.2 1249.5,1026.9 1251,1032.8 1252.5,1038.6 1254,1044.6 1255.5,1050.6 1257,1056.7 1258.5,1063 1260,1069.5 1261.5,1076.1 1263,1083 1264.5,1090.2 1266,1097.6 1267.5,1105.4 1269,1113.4 1270.5,1121.8 1272,1130.5 1273.5,1139.6 1275,1148.8 1276.5,1158.3 1278,1167.9 1279.5,1177.6 1281,1187.3 1282.5,1196.8 1284,1206.1 1285.5,1215.1 1287,1223.8 1288.5,1232.2 1290,1240.3 1291.5,1248.1 1293,1255.7 1294.5,1263 1296,1270.2 1297.5,1277.2 1299,1284 1300.5,1290.8 1302,1297.5 1303.5,1304 1305,1310.5 1306.5,1317 1308,1323.3 1309.5,1329.5 1311,1335.7 1312.5,1341.8 1314,1347.8 1315.5,1353.8 1317,1359.6 1318.5,1365.4 1320,1371.1 1321.5,1376.7 1323,1382.2 1324.5,1387.5 1326,1392.6 1327.5,1397.2 1329,1401.4 1330.5,1404.9 1332,1407.8 1333.5,1409.9 1335,1411.5 1336.5,1412.4 1338,1413 1339.5,1413.3 1341,1413.5 1342.5,1413.5 1344,1413.6 1345.5,1413.6 1347,1413.7 1348.5,1413.7 1350,1413.6 1351.5,1413.3 1353,1412.6 1354.5,1411.5 1356,1409.6 1357.5,1407 1359,1403.4 1360.5,1399.1 1362,1394.1 1363.5,1388.7 1365,1383 1366.5,1377.3 1368,1371.5 1369.5,1365.8 1371,1360.2 1372.5,1354.5 1374,1348.9 1375.5,1343.2 1377,1337.4 1378.5,1331.4 1380,1325.4 1381.5,1319.1 1383,1312.7 1384.5,1306.1 1386,1299.2 1387.5,1292.1 1389,1284.8 1390.5,1277.3 1392,1269.5 1393.5,1261.4 1395,1253.1" fill="none" stroke="#14c8c8" stroke-width="3.5" stroke-linejoin="round" />
<path d="M84,1208.9 85.5,1204.7 87,1200.6 88.5,1196.5 90,1192.6 91.5,1188.7 93,1184.8 94.5,1181 96,1177.3 97.5,1173.6 99,1169.8 100.5,1166.1 102,1162.4 103.5,1158.6 105,1154.8 106.5,1150.9 108,1147 109.5,1143 111,1138.8 112.5,1134.6 114,1130.3 115.5,1125.8 117,1121.1 118.5,1116.4 120,1111.4 121.5,1106.2 123,1100.9 124.5,1095.4 126,1089.7 127.5,1084 129,1078.3 130.5,1072.7 132,1067.2 133.5,1061.9 135,1056.9 136.5,1052.3 138,1048.1 139.5,1044.4 141,1041.1 142.5,1038.2 144,1035.7 145.5,1033.5 147,1031.5 148.5,1029.7 150,1028 151.5,1026.5 153,1025.1 154.5,1023.9 156,1022.8 157.5,1021.8 159,1021 160.5,1020.4 162,1020 163.5,1019.7 165,1019.4 166.5,1019.2 168,1019.2 169.5,1019.6 171,1020.4 172.5,1021.5 174,1022.8 175.5,1024.4 177,1026.2 178.5,1028.3 180,1030.6 181.5,1033.2 183,1035.9 184.5,1038.8 186,1042 187.5,1045.3 189,1048.8 190.5,1052.5 192,1056.4 193.5,1060.4 195,1064.6 196.5,1068.9 198,1073.5 199.5,1078.2 201,1083.1 202.5,1088.2 204,1093.6 205.5,1099.1 207,1104.8 208.5,1110.8 210,1116.9 211.5,1123.1 213,1129.3 214.5,1135.4 216,1141.3 217.5,1146.9 219,1152.1 220.5,1156.9 222,1161.2 223.5,1165 225,1168.4 226.5,1171.5 228,1174.2 229.5,1176.8 231,1179.1 232.5,1181.4 234,1183.6 235.5,1185.9 237,1188.2 238.5,1190.8 240,1193.5 241.5,1196.6 243,1200 244.5,1203.7 246,1207.7 247.5,1211.9 249,1216.3 250.5,1220.7 252,1225.1 253.5,1229.3 255,1233.5 256.5,1237.6 258,1241.6 259.5,1245.5 261,1249.5 262.5,1253.4 264,1257.4 265.5,1261.5 267,1265.7 268.5,1269.9 270,1274.4 271.5,1278.9 273,1283.6 274.5,1288.4 276,1293.2 277.5,1297.9 279,1302.6 280.5,1307.1 282,1311.5 283.5,1315.6 285,1319.4 286.5,1322.8 288,1325.9 289.5,1328.4 291,1330.6 292.5,1332.3 294,1333.4 295.5,1334.1 297,1334.2 298.5,1333.8 300,1332.8 301.5,1331.4 303,1329.5 304.5,1327.2 306,1324.5 307.5,1321.4 309,1318.1 310.5,1314.4 312,1310.6 313.5,1306.5 315,1302.3 316.5,1297.9 318,1293.4 319.5,1288.9 321,1284.4 322.5,1279.8 324,1275.2 325.5,1270.5 327,1265.9 328.5,1261.2 330,1256.6 331.5,1251.9 333,1247.3 334.5,1242.7 336,1238.1 337.5,1233.6 339,1229 340.5,1224.6 342,1220.1 343.5,1215.8 345,1211.4 346.5,1207.2 348,1203 349.5,1198.9 351,1194.9 352.5,1191 354,1187.1 355.5,1183.3 357,1179.5 358.5,1175.8 360,1172.1 361.5,1168.4 363,1164.6 364.5,1160.9 366,1157.1 367.5,1153.2 369,1149.4 370.5,1145.4 372,1141.3 373.5,1137.2 375,1132.9 376.5,1128.5 378,1123.9 379.5,1119.2 381,1114.4 382.5,1109.3 384,1104.1 385.5,1098.7 387,1093.1 388.5,1087.5 390,1081.7 391.5,1076 393,1070.4 394.5,1065 396,1059.8 397.5,1055 399,1050.6 400.5,1046.6 402,1043 403.5,1039.9 405,1037.2 406.5,1034.8 408,1032.7 409.5,1030.8 411,1029 412.5,1027.4 414,1025.9 415.5,1024.6 417,1023.4 418.5,1022.4 420,1021.5 421.5,1020.8 423,1020.2 424.5,1019.8 426,1019.5 427.5,1019.3 429,1019.1 430.5,1019.3 432,1019.9 433.5,1020.8 435,1022 436.5,1023.4 438,1025.1 439.5,1027 441,1029.2 442.5,1031.6 444,1034.2 445.5,1037.1 447,1040.1 448.5,1043.3 450,1046.7 451.5,1050.3 453,1054 454.5,1058 456,1062.1 457.5,1066.3 459,1070.7 460.5,1075.4 462,1080.2 463.5,1085.2 465,1090.4 466.5,1095.8 468,1101.4 469.5,1107.2 471,1113.2 472.5,1119.4 474,1125.6 475.5,1131.7 477,1137.8 478.5,1143.6 480,1149 481.5,1154.1 483,1158.7 484.5,1162.8 486,1166.4 487.5,1169.7 489,1172.6 490.5,1175.3 492,1177.7 493.5,1180 495,1182.3 496.5,1184.5 498,1186.8 499.5,1189.2 501,1191.8 502.5,1194.7 504,1197.9 505.5,1201.4 507,1205.2 508.5,1209.4 510,1213.7 511.5,1218.1 513,1222.5 514.5,1226.8 516,1231 517.5,1235.1 519,1239.2 520.5,1243.2 522,1247.1 523.5,1251.1 525,1255 526.5,1259 528,1263.1 529.5,1267.3 531,1271.7 532.5,1276.2 534,1280.8 535.5,1285.5 537,1290.3 538.5,1295.1 540,1299.8 541.5,1304.4 543,1308.9 544.5,1313.1 546,1317.1 547.5,1320.8 549,1324.1 550.5,1326.9 552,1329.4 553.5,1331.3 555,1332.8 556.5,1333.7 558,1334.2 559.5,1334.1 561,1333.5 562.5,1332.3 564,1330.7 565.5,1328.6 567,1326.2 568.5,1323.3 570,1320.1 571.5,1316.7 573,1312.9 574.5,1309 576,1304.8 577.5,1300.5 579,1296.1 580.5,1291.6 582,1287.1 583.5,1282.5 585,1277.9 586.5,1273.3 588,1268.7 589.5,1264 591,1259.4 592.5,1254.7 594,1250.1 595.5,1245.5 597,1240.9 598.5,1236.3 600,1231.7 601.5,1227.2 603,1222.8 604.5,1218.4 606,1214 607.5,1209.7 609,1205.5 610.5,1201.4 612,1197.3 613.5,1193.3 615,1189.4 616.5,1185.6 618,1181.8 619.5,1178 621,1174.3 622.5,1170.6 624,1166.9 625.5,1163.1 627,1159.4 628.5,1155.6 630,1151.7 631.5,1147.8 633,1143.8 634.5,1139.7 636,1135.5 637.5,1131.1 639,1126.7 640.5,1122.1 642,1117.3 643.5,1112.4 645,1107.3 646.5,1102 648,1096.5 649.5,1090.9 651,1085.2 652.5,1079.4 654,1073.8 655.5,1068.2 657,1062.9 658.5,1057.9 660,1053.2 661.5,1048.9 663,1045.1 664.5,1041.7 666,1038.8 667.5,1036.2 669,1033.9 670.5,1031.9 672,1030 673.5,1028.3 675,1026.8 676.5,1025.4 678,1024.1 679.5,1023 681,1022 682.5,1021.2 684,1020.5 685.5,1020.1 687,1019.7 688.5,1019.4 690,1019.2 691.5,1019.2 693,1019.5 694.5,1020.2 696,1021.3 697.5,1022.5 699,1024.1 700.5,1025.9 702,1027.9 703.5,1030.1 705,1032.6 706.5,1035.3 708,1038.2 709.5,1041.3 711,1044.6 712.5,1048.1 714,1051.8 715.5,1055.6 717,1059.6 718.5,1063.7 720,1068.1 721.5,1072.6 723,1077.3 724.5,1082.1 726,1087.2 727.5,1092.5 729,1098 730.5,1103.7 732,1109.6 733.5,1115.7 735,1121.8 736.5,1128 738,1134.2 739.5,1140.1 741,1145.8 742.5,1151.1 744,1156 745.5,1160.4 747,1164.3 748.5,1167.8 750,1170.9 751.5,1173.7 753,1176.3 754.5,1178.7 756,1180.9 757.5,1183.2 759,1185.4 760.5,1187.8 762,1190.2 763.5,1193 765,1195.9 766.5,1199.2 768,1202.9 769.5,1206.9 771,1211.1 772.5,1215.4 774,1219.8 775.5,1224.2 777,1228.5 778.5,1232.7 780,1236.8 781.5,1240.8 783,1244.7 784.5,1248.7 786,1252.6 787.5,1256.6 789,1260.7 790.5,1264.8 792,1269.1 793.5,1273.5 795,1278 796.5,1282.7 798,1287.4 799.5,1292.2 801,1297 802.5,1301.7 804,1306.2 805.5,1310.6 807,1314.8 808.5,1318.6 810,1322.1 811.5,1325.3 813,1328 814.5,1330.2 816,1332 817.5,1333.2 819,1334 820.5,1334.2 822,1333.9 823.5,1333.1 825,1331.7 826.5,1329.9 828,1327.7 829.5,1325.1 831,1322.1 832.5,1318.8 834,1315.2 835.5,1311.4 837,1307.3 838.5,1303.1 840,1298.8 841.5,1294.3 843,1289.8 844.5,1285.3 846,1280.7 847.5,1276.1 849,1271.5 850.5,1266.8 852,1262.2 853.5,1257.5 855,1252.9 856.5,1248.2 858,1243.6 859.5,1239 861,1234.5 862.5,1229.9 864,1225.4 865.5,1221 867,1216.6 868.5,1212.3 870,1208 871.5,1203.9 873,1199.8 874.5,1195.7 876,1191.8 877.5,1187.9 879,1184.1 880.5,1180.3 882,1176.5 883.5,1172.8 885,1169.1 886.5,1165.4 888,1161.6 889.5,1157.8 891,1154 892.5,1150.1 894,1146.2 895.5,1142.1 897,1138 898.5,1133.7 900,1129.4 901.5,1124.9 903,1120.2 904.5,1115.4 906,1110.4 907.5,1105.2 909,1099.8 910.5,1094.3 912,1088.6 913.5,1082.9 915,1077.2 916.5,1071.5 918,1066.1 919.5,1060.9 921,1055.9 922.5,1051.4 924,1047.3 925.5,1043.7 927,1040.5 928.5,1037.7 930,1035.3 931.5,1033.1 933,1031.1 934.5,1029.3 936,1027.7 937.5,1026.2 939,1024.8 940.5,1023.6 942,1022.6 943.5,1021.7 945,1020.9 946.5,1020.3 948,1019.9 949.5,1019.6 951,1019.3 952.5,1019.1 954,1019.3 955.5,1019.8 957,1020.6 958.5,1021.7 960,1023.1 961.5,1024.8 963,1026.6 964.5,1028.8 966,1031.1 967.5,1033.7 969,1036.5 970.5,1039.5 972,1042.6 973.5,1046 975,1049.6 976.5,1053.3 978,1057.2 979.5,1061.2 981,1065.4 982.5,1069.8 984,1074.4 985.5,1079.2 987,1084.1 988.5,1089.3 990,1094.7 991.5,1100.2 993,1106 994.5,1112 996,1118.1 997.5,1124.3 999,1130.5 1000.5,1136.6 1002,1142.4 1003.5,1148 1005,1153.1 1006.5,1157.8 1008,1162 1009.5,1165.7 1011,1169.1 1012.5,1172 1014,1174.8 1015.5,1177.2 1017,1179.6 1018.5,1181.8 1020,1184.1 1021.5,1186.3 1023,1188.7 1024.5,1191.3 1026,1194.1 1027.5,1197.2 1029,1200.7 1030.5,1204.5 1032,1208.5 1033.5,1212.8 1035,1217.2 1036.5,1221.6 1038,1225.9 1039.5,1230.2 1041,1234.3 1042.5,1238.4 1044,1242.4 1045.5,1246.3 1047,1250.3 1048.5,1254.2 1050,1258.2 1051.5,1262.3 1053,1266.5 1054.5,1270.8 1056,1275.3 1057.5,1279.9 1059,1284.6 1060.5,1289.3 1062,1294.1 1063.5,1298.9 1065,1303.5 1066.5,1308 1068,1312.3 1069.5,1316.4 1071,1320.1 1072.5,1323.4 1074,1326.4 1075.5,1328.9 1077,1331 1078.5,1332.5 1080,1333.6 1081.5,1334.1 1083,1334.1 1084.5,1333.6 1086,1332.6 1087.5,1331.1 1089,1329.1 1090.5,1326.7 1092,1323.9 1093.5,1320.8 1095,1317.4 1096.5,1313.7 1098,1309.8 1099.5,1305.7 1101,1301.4 1102.5,1297 1104,1292.5 1105.5,1288 1107,1283.5 1108.5,1278.9 1110,1274.2 1111.5,1269.6 1113,1265 1114.5,1260.3 1116,1255.7 1117.5,1251 1119,1246.4 1120.5,1241.8 1122,1237.2 1123.5,1232.6 1125,1228.1 1126.5,1223.7 1128,1219.2 1129.5,1214.9 1131,1210.6 1132.5,1206.4 1134,1202.2 1135.5,1198.1 1137,1194.1 1138.5,1190.2 1140,1186.4 1141.5,1182.6 1143,1178.8 1144.5,1175.1 1146,1171.3 1147.5,1167.6 1149,1163.9 1150.5,1160.1 1152,1156.3 1153.5,1152.5 1155,1148.6 1156.5,1144.6 1158,1140.5 1159.5,1136.3 1161,1132 1162.5,1127.6 1164,1123 1165.5,1118.3 1167,1113.4 1168.5,1108.3 1170,1103.1 1171.5,1097.6 1173,1092 1174.5,1086.3 1176,1080.6 1177.5,1074.9 1179,1069.3 1180.5,1064 1182,1058.9 1183.5,1054.1 1185,1049.7 1186.5,1045.8 1188,1042.4 1189.5,1039.3 1191,1036.7 1192.5,1034.4 1194,1032.3 1195.5,1030.4 1197,1028.7 1198.5,1027.1 1200,1025.6 1201.5,1024.3 1203,1023.2 1204.5,1022.2 1206,1021.3 1207.5,1020.7 1209,1020.2 1210.5,1019.8 1212,1019.5 1213.5,1019.2 1215,1019.1 1216.5,1019.4 1218,1020.1 1219.5,1021 1221,1022.3 1222.5,1023.7 1224,1025.5 1225.5,1027.5 1227,1029.7 1228.5,1032.1 1230,1034.8 1231.5,1037.6 1233,1040.7 1234.5,1044 1236,1047.4 1237.5,1051 1239,1054.8 1240.5,1058.8 1242,1062.9 1243.5,1067.2 1245,1071.7 1246.5,1076.3 1248,1081.1 1249.5,1086.2 1251,1091.4 1252.5,1096.9 1254,1102.5 1255.5,1108.4 1257,1114.4 1258.5,1120.6 1260,1126.8 1261.5,1133 1263,1139 1264.5,1144.7 1266,1150.1 1267.5,1155.1 1269,1159.5 1270.5,1163.6 1272,1167.1 1273.5,1170.3 1275,1173.2 1276.5,1175.8 1278,1178.2 1279.5,1180.5 1281,1182.7 1282.5,1185 1284,1187.3 1285.5,1189.7 1287,1192.4 1288.5,1195.3 1290,1198.6 1291.5,1202.1 1293,1206 1294.5,1210.2 1296,1214.5 1297.5,1218.9 1299,1223.3 1300.5,1227.6 1302,1231.9 1303.5,1236 1305,1240 1306.5,1244 1308,1247.9 1309.5,1251.8 1311,1255.8 1312.5,1259.9 1314,1264 1315.5,1268.2 1317,1272.6 1318.5,1277.1 1320,1281.7 1321.5,1286.5 1323,1291.2 1324.5,1296 1326,1300.7 1327.5,1305.3 1329,1309.8 1330.5,1314 1332,1317.9 1333.5,1321.5 1335,1324.7 1336.5,1327.5 1338,1329.8 1339.5,1331.7 1341,1333 1342.5,1333.9 1344,1334.2 1345.5,1334 1347,1333.3 1348.5,1332 1350,1330.3 1351.5,1328.2 1353,1325.6 1354.5,1322.7 1356,1319.5 1357.5,1315.9 1359,1312.1 1360.5,1308.1 1362,1304 1363.5,1299.7 1365,1295.2 1366.5,1290.7 1368,1286.2 1369.5,1281.6 1371,1277 1372.5,1272.4 1374,1267.7 1375.5,1263.1 1377,1258.4 1378.5,1253.8 1380,1249.2 1381.5,1244.5 1383,1239.9 1384.5,1235.4 1386,1230.8 1387.5,1226.3 1389,1221.9 1390.5,1217.5 1392,1213.2 1393.5,1208.9 1395,1204.7 1395,1228.7 1393.5,1232.9 1392,1237.2 1390.5,1241.5 1389,1245.9 1387.5,1250.3 1386,1254.8 1384.5,1259.4 1383,1263.9 1381.5,1268.5 1380,1273.2 1378.5,1277.8 1377,1282.4 1375.5,1287.1 1374,1291.7 1372.5,1296.4 1371,1301 1369.5,1305.6 1368,1310.2 1366.5,1314.7 1365,1319.2 1363.5,1323.7 1362,1328 1360.5,1332.1 1359,1336.1 1357.5,1339.9 1356,1343.5 1354.5,1346.7 1353,1349.6 1351.5,1352.2 1350,1354.3 1348.5,1356 1347,1357.3 1345.5,1358 1344,1358.2 1342.5,1357.9 1341,1357 1339.5,1355.7 1338,1353.8 1336.5,1351.5 1335,1348.7 1333.5,1345.5 1332,1341.9 1330.5,1338 1329,1333.8 1327.5,1329.3 1326,1324.7 1324.5,1320 1323,1315.2 1321.5,1310.5 1320,1305.7 1318.5,1301.1 1317,1296.6 1315.5,1292.2 1314,1288 1312.5,1283.9 1311,1279.8 1309.5,1275.8 1308,1271.9 1306.5,1268 1305,1264 1303.5,1260 1302,1255.9 1300.5,1251.6 1299,1247.3 1297.5,1242.9 1296,1238.5 1294.5,1234.2 1293,1230 1291.5,1226.1 1290,1222.6 1288.5,1219.3 1287,1216.4 1285.5,1213.7 1284,1211.3 1282.5,1209 1281,1206.7 1279.5,1204.5 1278,1202.2 1276.5,1199.8 1275,1197.2 1273.5,1194.3 1272,1191.1 1270.5,1187.6 1269,1183.5 1267.5,1179.1 1266,1174.1 1264.5,1168.7 1263,1163 1261.5,1157 1260,1150.8 1258.5,1144.6 1257,1138.4 1255.5,1132.4 1254,1126.5 1252.5,1120.9 1251,1115.4 1249.5,1110.2 1248,1105.1 1246.5,1100.3 1245,1095.7 1243.5,1091.2 1242,1086.9 1240.5,1082.8 1239,1078.8 1237.5,1075 1236,1071.4 1234.5,1068 1233,1064.7 1231.5,1061.6 1230,1058.8 1228.5,1056.1 1227,1053.7 1225.5,1051.5 1224,1049.5 1222.5,1047.7 1221,1046.3 1219.5,1045 1218,1044.1 1216.5,1043.4 1215,1043.1 1213.5,1043.2 1212,1043.5 1210.5,1043.8 1209,1044.2 1207.5,1044.7 1206,1045.3 1204.5,1046.2 1203,1047.2 1201.5,1048.3 1200,1049.6 1198.5,1051.1 1197,1052.7 1195.5,1054.4 1194,1056.3 1192.5,1058.4 1191,1060.7 1189.5,1063.3 1188,1066.4 1186.5,1069.8 1185,1073.7 1183.5,1078.1 1182,1082.9 1180.5,1088 1179,1093.3 1177.5,1098.9 1176,1104.6 1174.5,1110.3 1173,1116 1171.5,1121.6 1170,1127.1 1168.5,1132.3 1167,1137.4 1165.5,1142.3 1164,1147 1162.5,1151.6 1161,1156 1159.5,1160.3 1158,1164.5 1156.5,1168.6 1155,1172.6 1153.5,1176.5 1152,1180.3 1150.5,1184.1 1149,1187.9 1147.5,1191.6 1146,1195.3 1144.5,1199.1 1143,1202.8 1141.5,1206.6 1140,1210.4 1138.5,1214.2 1137,1218.1 1135.5,1222.1 1134,1226.2 1132.5,1230.4 1131,1234.6 1129.5,1238.9 1128,1243.2 1126.5,1247.7 1125,1252.1 1123.5,1256.6 1122,1261.2 1120.5,1265.8 1119,1270.4 1117.5,1275 1116,1279.7 1114.5,1284.3 1113,1289 1111.5,1293.6 1110,1298.2 1108.5,1302.9 1107,1307.5 1105.5,1312 1104,1316.5 1102.5,1321 1101,1325.4 1099.5,1329.7 1098,1333.8 1096.5,1337.7 1095,1341.4 1093.5,1344.8 1092,1347.9 1090.5,1350.7 1089,1353.1 1087.5,1355.1 1086,1356.6 1084.5,1357.6 1083,1358.1 1081.5,1358.1 1080,1357.6 1078.5,1356.5 1077,1355 1075.5,1352.9 1074,1350.4 1072.5,1347.4 1071,1344.1 1069.5,1340.4 1068,1336.3 1066.5,1332 1065,1327.5 1063.5,1322.9 1062,1318.1 1060.5,1313.3 1059,1308.6 1057.5,1303.9 1056,1299.3 1054.5,1294.8 1053,1290.5 1051.5,1286.3 1050,1282.2 1048.5,1278.2 1047,1274.3 1045.5,1270.3 1044,1266.4 1042.5,1262.4 1041,1258.3 1039.5,1254.2 1038,1249.9 1036.5,1245.6 1035,1241.2 1033.5,1236.8 1032,1232.5 1030.5,1228.5 1029,1224.7 1027.5,1221.2 1026,1218.1 1024.5,1215.3 1023,1212.7 1021.5,1210.3 1020,1208.1 1018.5,1205.8 1017,1203.6 1015.5,1201.2 1014,1198.8 1012.5,1196 1011,1193.1 1009.5,1189.7 1008,1186 1006.5,1181.8 1005,1177.1 1003.5,1172 1002,1166.4 1000.5,1160.6 999,1154.5 997.5,1148.3 996,1142.1 994.5,1136 993,1130 991.5,1124.2 990,1118.7 988.5,1113.3 987,1108.1 985.5,1103.2 984,1098.4 982.5,1093.8 981,1089.4 979.5,1085.2 978,1081.2 976.5,1077.3 975,1073.6 973.5,1070 972,1066.6 970.5,1063.5 969,1060.5 967.5,1057.7 966,1055.1 964.5,1052.8 963,1050.6 961.5,1048.8 960,1047.1 958.5,1045.7 957,1044.6 955.5,1043.8 954,1043.3 952.5,1043.1 951,1043.3 949.5,1043.6 948,1043.9 946.5,1044.3 945,1044.9 943.5,1045.7 942,1046.6 940.5,1047.6 939,1048.8 937.5,1050.2 936,1051.7 934.5,1053.3 933,1055.1 931.5,1057.1 930,1059.3 928.5,1061.7 927,1064.5 925.5,1067.7 924,1071.3 922.5,1075.4 921,1079.9 919.5,1084.9 918,1090.1 916.5,1095.5 915,1101.2 913.5,1106.9 912,1112.6 910.5,1118.3 909,1123.8 907.5,1129.2 906,1134.4 904.5,1139.4 903,1144.2 901.5,1148.9 900,1153.4 898.5,1157.7 897,1162 895.5,1166.1 894,1170.2 892.5,1174.1 891,1178 889.5,1181.8 888,1185.6 886.5,1189.4 885,1193.1 883.5,1196.8 882,1200.5 880.5,1204.3 879,1208.1 877.5,1211.9 876,1215.8 874.5,1219.7 873,1223.8 871.5,1227.9 870,1232 868.5,1236.3 867,1240.6 865.5,1245 864,1249.4 862.5,1253.9 861,1258.5 859.5,1263 858,1267.6 856.5,1272.2 855,1276.9 853.5,1281.5 852,1286.2 850.5,1290.8 849,1295.5 847.5,1300.1 846,1304.7 844.5,1309.3 843,1313.8 841.5,1318.3 840,1322.8 838.5,1327.1 837,1331.3 835.5,1335.4 834,1339.2 832.5,1342.8 831,1346.1 829.5,1349.1 828,1351.7 826.5,1353.9 825,1355.7 823.5,1357.1 822,1357.9 820.5,1358.2 819,1358 817.5,1357.2 816,1356 814.5,1354.2 813,1352 811.5,1349.3 810,1346.1 808.5,1342.6 807,1338.8 805.5,1334.6 804,1330.2 802.5,1325.7 801,1321 799.5,1316.2 798,1311.4 796.5,1306.7 795,1302 793.5,1297.5 792,1293.1 790.5,1288.8 789,1284.7 787.5,1280.6 786,1276.6 784.5,1272.7 783,1268.7 781.5,1264.8 780,1260.8 778.5,1256.7 777,1252.5 775.5,1248.2 774,1243.8 772.5,1239.4 771,1235.1 769.5,1230.9 768,1226.9 766.5,1223.2 765,1219.9 763.5,1217 762,1214.2 760.5,1211.8 759,1209.4 757.5,1207.2 756,1204.9 754.5,1202.7 753,1200.3 751.5,1197.7 750,1194.9 748.5,1191.8 747,1188.3 745.5,1184.4 744,1180 742.5,1175.1 741,1169.8 739.5,1164.1 738,1158.2 736.5,1152 735,1145.8 733.5,1139.7 732,1133.6 730.5,1127.7 729,1122 727.5,1116.5 726,1111.2 724.5,1106.1 723,1101.3 721.5,1096.6 720,1092.1 718.5,1087.7 717,1083.6 715.5,1079.6 714,1075.8 712.5,1072.1 711,1068.6 709.5,1065.3 708,1062.2 706.5,1059.3 705,1056.6 703.5,1054.1 702,1051.9 700.5,1049.9 699,1048.1 697.5,1046.5 696,1045.3 694.5,1044.2 693,1043.5 691.5,1043.2 690,1043.2 688.5,1043.4 687,1043.7 685.5,1044.1 684,1044.5 682.5,1045.2 681,1046 679.5,1047 678,1048.1 676.5,1049.4 675,1050.8 673.5,1052.3 672,1054 670.5,1055.9 669,1057.9 667.5,1060.2 666,1062.8 664.5,1065.7 663,1069.1 661.5,1072.9 660,1077.2 658.5,1081.9 657,1086.9 655.5,1092.2 654,1097.8 652.5,1103.4 651,1109.2 649.5,1114.9 648,1120.5 646.5,1126 645,1131.3 643.5,1136.4 642,1141.3 640.5,1146.1 639,1150.7 637.5,1155.1 636,1159.5 634.5,1163.7 633,1167.8 631.5,1171.8 630,1175.7 628.5,1179.6 627,1183.4 625.5,1187.1 624,1190.9 622.5,1194.6 621,1198.3 619.5,1202 618,1205.8 616.5,1209.6 615,1213.4 613.5,1217.3 612,1221.3 610.5,1225.4 609,1229.5 607.5,1233.7 606,1238 604.5,1242.4 603,1246.8 601.5,1251.2 600,1255.7 598.5,1260.3 597,1264.9 595.5,1269.5 594,1274.1 592.5,1278.7 591,1283.4 589.5,1288 588,1292.7 586.5,1297.3 585,1301.9 583.5,1306.5 582,1311.1 580.5,1315.6 579,1320.1 577.5,1324.5 576,1328.8 574.5,1333 573,1336.9 571.5,1340.7 570,1344.1 568.5,1347.3 567,1350.2 565.5,1352.6 564,1354.7 562.5,1356.3 561,1357.5 559.5,1358.1 558,1358.2 556.5,1357.7 555,1356.8 553.5,1355.3 552,1353.4 550.5,1350.9 549,1348.1 547.5,1344.8 546,1341.1 544.5,1337.1 543,1332.9 541.5,1328.4 540,1323.8 538.5,1319.1 537,1314.3 535.5,1309.5 534,1304.8 532.5,1300.2 531,1295.7 529.5,1291.3 528,1287.1 526.5,1283 525,1279 523.5,1275.1 522,1271.1 520.5,1267.2 519,1263.2 517.5,1259.1 516,1255 514.5,1250.8 513,1246.5 511.5,1242.1 510,1237.7 508.5,1233.4 507,1229.2 505.5,1225.4 504,1221.9 502.5,1218.7 501,1215.8 499.5,1213.2 498,1210.8 496.5,1208.5 495,1206.3 493.5,1204 492,1201.7 490.5,1199.3 489,1196.6 487.5,1193.7 486,1190.4 484.5,1186.8 483,1182.7 481.5,1178.1 480,1173 478.5,1167.6 477,1161.8 475.5,1155.7 474,1149.6 472.5,1143.4 471,1137.2 469.5,1131.2 468,1125.4 466.5,1119.8 465,1114.4 463.5,1109.2 462,1104.2 460.5,1099.4 459,1094.7 457.5,1090.3 456,1086.1 454.5,1082 453,1078 451.5,1074.3 450,1070.7 448.5,1067.3 447,1064.1 445.5,1061.1 444,1058.2 442.5,1055.6 441,1053.2 439.5,1051 438,1049.1 436.5,1047.4 435,1046 433.5,1044.8 432,1043.9 430.5,1043.3 429,1043.1 427.5,1043.3 426,1043.5 424.5,1043.8 423,1044.2 421.5,1044.8 420,1045.5 418.5,1046.4 417,1047.4 415.5,1048.6 414,1049.9 412.5,1051.4 411,1053 409.5,1054.8 408,1056.7 406.5,1058.8 405,1061.2 403.5,1063.9 402,1067 400.5,1070.6 399,1074.6 397.5,1079 396,1083.8 394.5,1089 393,1094.4 391.5,1100 390,1105.7 388.5,1111.5 387,1117.1 385.5,1122.7 384,1128.1 382.5,1133.3 381,1138.4 379.5,1143.2 378,1147.9 376.5,1152.5 375,1156.9 373.5,1161.2 372,1165.3 370.5,1169.4 369,1173.4 367.5,1177.2 366,1181.1 364.5,1184.9 363,1188.6 361.5,1192.4 360,1196.1 358.5,1199.8 357,1203.5 355.5,1207.3 354,1211.1 352.5,1215 351,1218.9 349.5,1222.9 348,1227 346.5,1231.2 345,1235.4 343.5,1239.8 342,1244.1 340.5,1248.6 339,1253 337.5,1257.6 336,1262.1 334.5,1266.7 333,1271.3 331.5,1275.9 330,1280.6 328.5,1285.2 327,1289.9 325.5,1294.5 324,1299.2 322.5,1303.8 321,1308.4 319.5,1312.9 318,1317.4 316.5,1321.9 315,1326.3 313.5,1330.5 312,1334.6 310.5,1338.4 309,1342.1 307.5,1345.4 306,1348.5 304.5,1351.2 303,1353.5 301.5,1355.4 300,1356.8 298.5,1357.8 297,1358.2 295.5,1358.1 294,1357.4 292.5,1356.3 291,1354.6 289.5,1352.4 288,1349.9 286.5,1346.8 285,1343.4 283.5,1339.6 282,1335.5 280.5,1331.1 279,1326.6 277.5,1321.9 276,1317.2 274.5,1312.4 273,1307.6 271.5,1302.9 270,1298.4 268.5,1293.9 267,1289.7 265.5,1285.5 264,1281.4 262.5,1277.4 261,1273.5 259.5,1269.5 258,1265.6 256.5,1261.6 255,1257.5 253.5,1253.3 252,1249.1 250.5,1244.7 249,1240.3 247.5,1235.9 246,1231.7 244.5,1227.7 243,1224 241.5,1220.6 240,1217.5 238.5,1214.8 237,1212.2 235.5,1209.9 234,1207.6 232.5,1205.4 231,1203.1 229.5,1200.8 228,1198.2 226.5,1195.5 225,1192.4 223.5,1189 222,1185.2 220.5,1180.9 219,1176.1 217.5,1170.9 216,1165.3 214.5,1159.4 213,1153.3 211.5,1147.1 210,1140.9 208.5,1134.8 207,1128.8 205.5,1123.1 204,1117.6 202.5,1112.2 201,1107.1 199.5,1102.2 198,1097.5 196.5,1092.9 195,1088.6 193.5,1084.4 192,1080.4 190.5,1076.5 189,1072.8 187.5,1069.3 186,1066 184.5,1062.8 183,1059.9 181.5,1057.2 180,1054.6 178.5,1052.3 177,1050.2 175.5,1048.4 174,1046.8 172.5,1045.5 171,1044.4 169.5,1043.6 168,1043.2 166.5,1043.2 165,1043.4 163.5,1043.7 162,1044 160.5,1044.4 159,1045 157.5,1045.8 156,1046.8 154.5,1047.9 153,1049.1 151.5,1050.5 150,1052 148.5,1053.7 147,1055.5 145.5,1057.5 144,1059.7 142.5,1062.2 141,1065.1 139.5,1068.4 138,1072.1 136.5,1076.3 135,1080.9 133.5,1085.9 132,1091.2 130.5,1096.7 129,1102.3 127.5,1108 126,1113.7 124.5,1119.4 123,1124.9 121.5,1130.2 120,1135.4 118.5,1140.4 117,1145.1 115.5,1149.8 114,1154.3 112.5,1158.6 111,1162.8 109.5,1167 108,1171 106.5,1174.9 105,1178.8 103.5,1182.6 102,1186.4 100.5,1190.1 99,1193.8 97.5,1197.6 96,1201.3 94.5,1205 93,1208.8 91.5,1212.7 90,1216.6 88.5,1220.5 87,1224.6 85.5,1228.7 84,1232.9Z" fill="#120010" stroke="#705870" stroke-width="3" stroke-opacity="0.55"/>
<path d="M84,1220.9 85.5,1216.7 87,1212.6 88.5,1208.5 90,1204.6 91.5,1200.7 93,1196.8 94.5,1193 96,1189.3 97.5,1185.6 99,1181.8 100.5,1178.1 102,1174.4 103.5,1170.6 105,1166.8 106.5,1162.9 108,1159 109.5,1155 111,1150.8 112.5,1146.6 114,1142.3 115.5,1137.8 117,1133.1 118.5,1128.4 120,1123.4 121.5,1118.2 123,1112.9 124.5,1107.4 126,1101.7 127.5,1096 129,1090.3 130.5,1084.7 132,1079.2 133.5,1073.9 135,1068.9 136.5,1064.3 138,1060.1 139.5,1056.4 141,1053.1 142.5,1050.2 144,1047.7 145.5,1045.5 147,1043.5 148.5,1041.7 150,1040 151.5,1038.5 153,1037.1 154.5,1035.9 156,1034.8 157.5,1033.8 159,1033 160.5,1032.4 162,1032 163.5,1031.7 165,1031.4 166.5,1031.2 168,1031.2 169.5,1031.6 171,1032.4 172.5,1033.5 174,1034.8 175.5,1036.4 177,1038.2 178.5,1040.3 180,1042.6 181.5,1045.2 183,1047.9 184.5,1050.8 186,1054 187.5,1057.3 189,1060.8 190.5,1064.5 192,1068.4 193.5,1072.4 195,1076.6 196.5,1080.9 198,1085.5 199.5,1090.2 201,1095.1 202.5,1100.2 204,1105.6 205.5,1111.1 207,1116.8 208.5,1122.8 210,1128.9 211.5,1135.1 213,1141.3 214.5,1147.4 216,1153.3 217.5,1158.9 219,1164.1 220.5,1168.9 222,1173.2 223.5,1177 225,1180.4 226.5,1183.5 228,1186.2 229.5,1188.8 231,1191.1 232.5,1193.4 234,1195.6 235.5,1197.9 237,1200.2 238.5,1202.8 240,1205.5 241.5,1208.6 243,1212 244.5,1215.7 246,1219.7 247.5,1223.9 249,1228.3 250.5,1232.7 252,1237.1 253.5,1241.3 255,1245.5 256.5,1249.6 258,1253.6 259.5,1257.5 261,1261.5 262.5,1265.4 264,1269.4 265.5,1273.5 267,1277.7 268.5,1281.9 270,1286.4 271.5,1290.9 273,1295.6 274.5,1300.4 276,1305.2 277.5,1309.9 279,1314.6 280.5,1319.1 282,1323.5 283.5,1327.6 285,1331.4 286.5,1334.8 288,1337.9 289.5,1340.4 291,1342.6 292.5,1344.3 294,1345.4 295.5,1346.1 297,1346.2 298.5,1345.8 300,1344.8 301.5,1343.4 303,1341.5 304.5,1339.2 306,1336.5 307.5,1333.4 309,1330.1 310.5,1326.4 312,1322.6 313.5,1318.5 315,1314.3 316.5,1309.9 318,1305.4 319.5,1300.9 321,1296.4 322.5,1291.8 324,1287.2 325.5,1282.5 327,1277.9 328.5,1273.2 330,1268.6 331.5,1263.9 333,1259.3 334.5,1254.7 336,1250.1 337.5,1245.6 339,1241 340.5,1236.6 342,1232.1 343.5,1227.8 345,1223.4 346.5,1219.2 348,1215 349.5,1210.9 351,1206.9 352.5,1203 354,1199.1 355.5,1195.3 357,1191.5 358.5,1187.8 360,1184.1 361.5,1180.4 363,1176.6 364.5,1172.9 366,1169.1 367.5,1165.2 369,1161.4 370.5,1157.4 372,1153.3 373.5,1149.2 375,1144.9 376.5,1140.5 378,1135.9 379.5,1131.2 381,1126.4 382.5,1121.3 384,1116.1 385.5,1110.7 387,1105.1 388.5,1099.5 390,1093.7 391.5,1088 393,1082.4 394.5,1077 396,1071.8 397.5,1067 399,1062.6 400.5,1058.6 402,1055 403.5,1051.9 405,1049.2 406.5,1046.8 408,1044.7 409.5,1042.8 411,1041 412.5,1039.4 414,1037.9 415.5,1036.6 417,1035.4 418.5,1034.4 420,1033.5 421.5,1032.8 423,1032.2 424.5,1031.8 426,1031.5 427.5,1031.3 429,1031.1 430.5,1031.3 432,1031.9 433.5,1032.8 435,1034 436.5,1035.4 438,1037.1 439.5,1039 441,1041.2 442.5,1043.6 444,1046.2 445.5,1049.1 447,1052.1 448.5,1055.3 450,1058.7 451.5,1062.3 453,1066 454.5,1070 456,1074.1 457.5,1078.3 459,1082.7 460.5,1087.4 462,1092.2 463.5,1097.2 465,1102.4 466.5,1107.8 468,1113.4 469.5,1119.2 471,1125.2 472.5,1131.4 474,1137.6 475.5,1143.7 477,1149.8 478.5,1155.6 480,1161 481.5,1166.1 483,1170.7 484.5,1174.8 486,1178.4 487.5,1181.7 489,1184.6 490.5,1187.3 492,1189.7 493.5,1192 495,1194.3 496.5,1196.5 498,1198.8 499.5,1201.2 501,1203.8 502.5,1206.7 504,1209.9 505.5,1213.4 507,1217.2 508.5,1221.4 510,1225.7 511.5,1230.1 513,1234.5 514.5,1238.8 516,1243 517.5,1247.1 519,1251.2 520.5,1255.2 522,1259.1 523.5,1263.1 525,1267 526.5,1271 528,1275.1 529.5,1279.3 531,1283.7 532.5,1288.2 534,1292.8 535.5,1297.5 537,1302.3 538.5,1307.1 540,1311.8 541.5,1316.4 543,1320.9 544.5,1325.1 546,1329.1 547.5,1332.8 549,1336.1 550.5,1338.9 552,1341.4 553.5,1343.3 555,1344.8 556.5,1345.7 558,1346.2 559.5,1346.1 561,1345.5 562.5,1344.3 564,1342.7 565.5,1340.6 567,1338.2 568.5,1335.3 570,1332.1 571.5,1328.7 573,1324.9 574.5,1321 576,1316.8 577.5,1312.5 579,1308.1 580.5,1303.6 582,1299.1 583.5,1294.5 585,1289.9 586.5,1285.3 588,1280.7 589.5,1276 591,1271.4 592.5,1266.7 594,1262.1 595.5,1257.5 597,1252.9 598.5,1248.3 600,1243.7 601.5,1239.2 603,1234.8 604.5,1230.4 606,1226 607.5,1221.7 609,1217.5 610.5,1213.4 612,1209.3 613.5,1205.3 615,1201.4 616.5,1197.6 618,1193.8 619.5,1190 621,1186.3 622.5,1182.6 624,1178.9 625.5,1175.1 627,1171.4 628.5,1167.6 630,1163.7 631.5,1159.8 633,1155.8 634.5,1151.7 636,1147.5 637.5,1143.1 639,1138.7 640.5,1134.1 642,1129.3 643.5,1124.4 645,1119.3 646.5,1114 648,1108.5 649.5,1102.9 651,1097.2 652.5,1091.4 654,1085.8 655.5,1080.2 657,1074.9 658.5,1069.9 660,1065.2 661.5,1060.9 663,1057.1 664.5,1053.7 666,1050.8 667.5,1048.2 669,1045.9 670.5,1043.9 672,1042 673.5,1040.3 675,1038.8 676.5,1037.4 678,1036.1 679.5,1035 681,1034 682.5,1033.2 684,1032.5 685.5,1032.1 687,1031.7 688.5,1031.4 690,1031.2 691.5,1031.2 693,1031.5 694.5,1032.2 696,1033.3 697.5,1034.5 699,1036.1 700.5,1037.9 702,1039.9 703.5,1042.1 705,1044.6 706.5,1047.3 708,1050.2 709.5,1053.3 711,1056.6 712.5,1060.1 714,1063.8 715.5,1067.6 717,1071.6 718.5,1075.7 720,1080.1 721.5,1084.6 723,1089.3 724.5,1094.1 726,1099.2 727.5,1104.5 729,1110 730.5,1115.7 732,1121.6 733.5,1127.7 735,1133.8 736.5,1140 738,1146.2 739.5,1152.1 741,1157.8 742.5,1163.1 744,1168 745.5,1172.4 747,1176.3 748.5,1179.8 750,1182.9 751.5,1185.7 753,1188.3 754.5,1190.7 756,1192.9 757.5,1195.2 759,1197.4 760.5,1199.8 762,1202.2 763.5,1205 765,1207.9 766.5,1211.2 768,1214.9 769.5,1218.9 771,1223.1 772.5,1227.4 774,1231.8 775.5,1236.2 777,1240.5 778.5,1244.7 780,1248.8 781.5,1252.8 783,1256.7 784.5,1260.7 786,1264.6 787.5,1268.6 789,1272.7 790.5,1276.8 792,1281.1 793.5,1285.5 795,1290 796.5,1294.7 798,1299.4 799.5,1304.2 801,1309 802.5,1313.7 804,1318.2 805.5,1322.6 807,1326.8 808.5,1330.6 810,1334.1 811.5,1337.3 813,1340 814.5,1342.2 816,1344 817.5,1345.2 819,1346 820.5,1346.2 822,1345.9 823.5,1345.1 825,1343.7 826.5,1341.9 828,1339.7 829.5,1337.1 831,1334.1 832.5,1330.8 834,1327.2 835.5,1323.4 837,1319.3 838.5,1315.1 840,1310.8 841.5,1306.3 843,1301.8 844.5,1297.3 846,1292.7 847.5,1288.1 849,1283.5 850.5,1278.8 852,1274.2 853.5,1269.5 855,1264.9 856.5,1260.2 858,1255.6 859.5,1251 861,1246.5 862.5,1241.9 864,1237.4 865.5,1233 867,1228.6 868.5,1224.3 870,1220 871.5,1215.9 873,1211.8 874.5,1207.7 876,1203.8 877.5,1199.9 879,1196.1 880.5,1192.3 882,1188.5 883.5,1184.8 885,1181.1 886.5,1177.4 888,1173.6 889.5,1169.8 891,1166 892.5,1162.1 894,1158.2 895.5,1154.1 897,1150 898.5,1145.7 900,1141.4 901.5,1136.9 903,1132.2 904.5,1127.4 906,1122.4 907.5,1117.2 909,1111.8 910.5,1106.3 912,1100.6 913.5,1094.9 915,1089.2 916.5,1083.5 918,1078.1 919.5,1072.9 921,1067.9 922.5,1063.4 924,1059.3 925.5,1055.7 927,1052.5 928.5,1049.7 930,1047.3 931.5,1045.1 933,1043.1 934.5,1041.3 936,1039.7 937.5,1038.2 939,1036.8 940.5,1035.6 942,1034.6 943.5,1033.7 945,1032.9 946.5,1032.3 948,1031.9 949.5,1031.6 951,1031.3 952.5,1031.1 954,1031.3 955.5,1031.8 957,1032.6 958.5,1033.7 960,1035.1 961.5,1036.8 963,1038.6 964.5,1040.8 966,1043.1 967.5,1045.7 969,1048.5 970.5,1051.5 972,1054.6 973.5,1058 975,1061.6 976.5,1065.3 978,1069.2 979.5,1073.2 981,1077.4 982.5,1081.8 984,1086.4 985.5,1091.2 987,1096.1 988.5,1101.3 990,1106.7 991.5,1112.2 993,1118 994.5,1124 996,1130.1 997.5,1136.3 999,1142.5 1000.5,1148.6 1002,1154.4 1003.5,1160 1005,1165.1 1006.5,1169.8 1008,1174 1009.5,1177.7 1011,1181.1 1012.5,1184 1014,1186.8 1015.5,1189.2 1017,1191.6 1018.5,1193.8 1020,1196.1 1021.5,1198.3 1023,1200.7 1024.5,1203.3 1026,1206.1 1027.5,1209.2 1029,1212.7 1030.5,1216.5 1032,1220.5 1033.5,1224.8 1035,1229.2 1036.5,1233.6 1038,1237.9 1039.5,1242.2 1041,1246.3 1042.5,1250.4 1044,1254.4 1045.5,1258.3 1047,1262.3 1048.5,1266.2 1050,1270.2 1051.5,1274.3 1053,1278.5 1054.5,1282.8 1056,1287.3 1057.5,1291.9 1059,1296.6 1060.5,1301.3 1062,1306.1 1063.5,1310.9 1065,1315.5 1066.5,1320 1068,1324.3 1069.5,1328.4 1071,1332.1 1072.5,1335.4 1074,1338.4 1075.5,1340.9 1077,1343 1078.5,1344.5 1080,1345.6 1081.5,1346.1 1083,1346.1 1084.5,1345.6 1086,1344.6 1087.5,1343.1 1089,1341.1 1090.5,1338.7 1092,1335.9 1093.5,1332.8 1095,1329.4 1096.5,1325.7 1098,1321.8 1099.5,1317.7 1101,1313.4 1102.5,1309 1104,1304.5 1105.5,1300 1107,1295.5 1108.5,1290.9 1110,1286.2 1111.5,1281.6 1113,1277 1114.5,1272.3 1116,1267.7 1117.5,1263 1119,1258.4 1120.5,1253.8 1122,1249.2 1123.5,1244.6 1125,1240.1 1126.5,1235.7 1128,1231.2 1129.5,1226.9 1131,1222.6 1132.5,1218.4 1134,1214.2 1135.5,1210.1 1137,1206.1 1138.5,1202.2 1140,1198.4 1141.5,1194.6 1143,1190.8 1144.5,1187.1 1146,1183.3 1147.5,1179.6 1149,1175.9 1150.5,1172.1 1152,1168.3 1153.5,1164.5 1155,1160.6 1156.5,1156.6 1158,1152.5 1159.5,1148.3 1161,1144 1162.5,1139.6 1164,1135 1165.5,1130.3 1167,1125.4 1168.5,1120.3 1170,1115.1 1171.5,1109.6 1173,1104 1174.5,1098.3 1176,1092.6 1177.5,1086.9 1179,1081.3 1180.5,1076 1182,1070.9 1183.5,1066.1 1185,1061.7 1186.5,1057.8 1188,1054.4 1189.5,1051.3 1191,1048.7 1192.5,1046.4 1194,1044.3 1195.5,1042.4 1197,1040.7 1198.5,1039.1 1200,1037.6 1201.5,1036.3 1203,1035.2 1204.5,1034.2 1206,1033.3 1207.5,1032.7 1209,1032.2 1210.5,1031.8 1212,1031.5 1213.5,1031.2 1215,1031.1 1216.5,1031.4 1218,1032.1 1219.5,1033 1221,1034.3 1222.5,1035.7 1224,1037.5 1225.5,1039.5 1227,1041.7 1228.5,1044.1 1230,1046.8 1231.5,1049.6 1233,1052.7 1234.5,1056 1236,1059.4 1237.5,1063 1239,1066.8 1240.5,1070.8 1242,1074.9 1243.5,1079.2 1245,1083.7 1246.5,1088.3 1248,1093.1 1249.5,1098.2 1251,1103.4 1252.5,1108.9 1254,1114.5 1255.5,1120.4 1257,1126.4 1258.5,1132.6 1260,1138.8 1261.5,1145 1263,1151 1264.5,1156.7 1266,1162.1 1267.5,1167.1 1269,1171.5 1270.5,1175.6 1272,1179.1 1273.5,1182.3 1275,1185.2 1276.5,1187.8 1278,1190.2 1279.5,1192.5 1281,1194.7 1282.5,1197 1284,1199.3 1285.5,1201.7 1287,1204.4 1288.5,1207.3 1290,1210.6 1291.5,1214.1 1293,1218 1294.5,1222.2 1296,1226.5 1297.5,1230.9 1299,1235.3 1300.5,1239.6 1302,1243.9 1303.5,1248 1305,1252 1306.5,1256 1308,1259.9 1309.5,1263.8 1311,1267.8 1312.5,1271.9 1314,1276 1315.5,1280.2 1317,1284.6 1318.5,1289.1 1320,1293.7 1321.5,1298.5 1323,1303.2 1324.5,1308 1326,1312.7 1327.5,1317.3 1329,1321.8 1330.5,1326 1332,1329.9 1333.5,1333.5 1335,1336.7 1336.5,1339.5 1338,1341.8 1339.5,1343.7 1341,1345 1342.5,1345.9 1344,1346.2 1345.5,1346 1347,1345.3 1348.5,1344 1350,1342.3 1351.5,1340.2 1353,1337.6 1354.5,1334.7 1356,1331.5 1357.5,1327.9 1359,1324.1 1360.5,1320.1 1362,1316 1363.5,1311.7 1365,1307.2 1366.5,1302.7 1368,1298.2 1369.5,1293.6 1371,1289 1372.5,1284.4 1374,1279.7 1375.5,1275.1 1377,1270.4 1378.5,1265.8 1380,1261.2 1381.5,1256.5 1383,1251.9 1384.5,1247.4 1386,1242.8 1387.5,1238.3 1389,1233.9 1390.5,1229.5 1392,1225.2 1393.5,1220.9 1395,1216.7" fill="none" stroke="#1a0018" stroke-width="12" stroke-linejoin="round" />
<path d="M84,1220.9 85.5,1216.7 87,1212.6 88.5,1208.5 90,1204.6 91.5,1200.7 93,1196.8 94.5,1193 96,1189.3 97.5,1185.6 99,1181.8 100.5,1178.1 102,1174.4 103.5,1170.6 105,1166.8 106.5,1162.9 108,1159 109.5,1155 111,1150.8 112.5,1146.6 114,1142.3 115.5,1137.8 117,1133.1 118.5,1128.4 120,1123.4 121.5,1118.2 123,1112.9 124.5,1107.4 126,1101.7 127.5,1096 129,1090.3 130.5,1084.7 132,1079.2 133.5,1073.9 135,1068.9 136.5,1064.3 138,1060.1 139.5,1056.4 141,1053.1 142.5,1050.2 144,1047.7 145.5,1045.5 147,1043.5 148.5,1041.7 150,1040 151.5,1038.5 153,1037.1 154.5,1035.9 156,1034.8 157.5,1033.8 159,1033 160.5,1032.4 162,1032 163.5,1031.7 165,1031.4 166.5,1031.2 168,1031.2 169.5,1031.6 171,1032.4 172.5,1033.5 174,1034.8 175.5,1036.4 177,1038.2 178.5,1040.3 180,1042.6 181.5,1045.2 183,1047.9 184.5,1050.8 186,1054 187.5,1057.3 189,1060.8 190.5,1064.5 192,1068.4 193.5,1072.4 195,1076.6 196.5,1080.9 198,1085.5 199.5,1090.2 201,1095.1 202.5,1100.2 204,1105.6 205.5,1111.1 207,1116.8 208.5,1122.8 210,1128.9 211.5,1135.1 213,1141.3 214.5,1147.4 216,1153.3 217.5,1158.9 219,1164.1 220.5,1168.9 222,1173.2 223.5,1177 225,1180.4 226.5,1183.5 228,1186.2 229.5,1188.8 231,1191.1 232.5,1193.4 234,1195.6 235.5,1197.9 237,1200.2 238.5,1202.8 240,1205.5 241.5,1208.6 243,1212 244.5,1215.7 246,1219.7 247.5,1223.9 249,1228.3 250.5,1232.7 252,1237.1 253.5,1241.3 255,1245.5 256.5,1249.6 258,1253.6 259.5,1257.5 261,1261.5 262.5,1265.4 264,1269.4 265.5,1273.5 267,1277.7 268.5,1281.9 270,1286.4 271.5,1290.9 273,1295.6 274.5,1300.4 276,1305.2 277.5,1309.9 279,1314.6 280.5,1319.1 282,1323.5 283.5,1327.6 285,1331.4 286.5,1334.8 288,1337.9 289.5,1340.4 291,1342.6 292.5,1344.3 294,1345.4 295.5,1346.1 297,1346.2 298.5,1345.8 300,1344.8 301.5,1343.4 303,1341.5 304.5,1339.2 306,1336.5 307.5,1333.4 309,1330.1 310.5,1326.4 312,1322.6 313.5,1318.5 315,1314.3 316.5,1309.9 318,1305.4 319.5,1300.9 321,1296.4 322.5,1291.8 324,1287.2 325.5,1282.5 327,1277.9 328.5,1273.2 330,1268.6 331.5,1263.9 333,1259.3 334.5,1254.7 336,1250.1 337.5,1245.6 339,1241 340.5,1236.6 342,1232.1 343.5,1227.8 345,1223.4 346.5,1219.2 348,1215 349.5,1210.9 351,1206.9 352.5,1203 354,1199.1 355.5,1195.3 357,1191.5 358.5,1187.8 360,1184.1 361.5,1180.4 363,1176.6 364.5,1172.9 366,1169.1 367.5,1165.2 369,1161.4 370.5,1157.4 372,1153.3 373.5,1149.2 375,1144.9 376.5,1140.5 378,1135.9 379.5,1131.2 381,1126.4 382.5,1121.3 384,1116.1 385.5,1110.7 387,1105.1 388.5,1099.5 390,1093.7 391.5,1088 393,1082.4 394.5,1077 396,1071.8 397.5,1067 399,1062.6 400.5,1058.6 402,1055 403.5,1051.9 405,1049.2 406.5,1046.8 408,1044.7 409.5,1042.8 411,1041 412.5,1039.4 414,1037.9 415.5,1036.6 417,1035.4 418.5,1034.4 420,1033.5 421.5,1032.8 423,1032.2 424.5,1031.8 426,1031.5 427.5,1031.3 429,1031.1 430.5,1031.3 432,1031.9 433.5,1032.8 435,1034 436.5,1035.4 438,1037.1 439.5,1039 441,1041.2 442.5,1043.6 444,1046.2 445.5,1049.1 447,1052.1 448.5,1055.3 450,1058.7 451.5,1062.3 453,1066 454.5,1070 456,1074.1 457.5,1078.3 459,1082.7 460.5,1087.4 462,1092.2 463.5,1097.2 465,1102.4 466.5,1107.8 468,1113.4 469.5,1119.2 471,1125.2 472.5,1131.4 474,1137.6 475.5,1143.7 477,1149.8 478.5,1155.6 480,1161 481.5,1166.1 483,1170.7 484.5,1174.8 486,1178.4 487.5,1181.7 489,1184.6 490.5,1187.3 492,1189.7 493.5,1192 495,1194.3 496.5,1196.5 498,1198.8 499.5,1201.2 501,1203.8 502.5,1206.7 504,1209.9 505.5,1213.4 507,1217.2 508.5,1221.4 510,1225.7 511.5,1230.1 513,1234.5 514.5,1238.8 516,1243 517.5,1247.1 519,1251.2 520.5,1255.2 522,1259.1 523.5,1263.1 525,1267 526.5,1271 528,1275.1 529.5,1279.3 531,1283.7 532.5,1288.2 534,1292.8 535.5,1297.5 537,1302.3 538.5,1307.1 540,1311.8 541.5,1316.4 543,1320.9 544.5,1325.1 546,1329.1 547.5,1332.8 549,1336.1 550.5,1338.9 552,1341.4 553.5,1343.3 555,1344.8 556.5,1345.7 558,1346.2 559.5,1346.1 561,1345.5 562.5,1344.3 564,1342.7 565.5,1340.6 567,1338.2 568.5,1335.3 570,1332.1 571.5,1328.7 573,1324.9 574.5,1321 576,1316.8 577.5,1312.5 579,1308.1 580.5,1303.6 582,1299.1 583.5,1294.5 585,1289.9 586.5,1285.3 588,1280.7 589.5,1276 591,1271.4 592.5,1266.7 594,1262.1 595.5,1257.5 597,1252.9 598.5,1248.3 600,1243.7 601.5,1239.2 603,1234.8 604.5,1230.4 606,1226 607.5,1221.7 609,1217.5 610.5,1213.4 612,1209.3 613.5,1205.3 615,1201.4 616.5,1197.6 618,1193.8 619.5,1190 621,1186.3 622.5,1182.6 624,1178.9 625.5,1175.1 627,1171.4 628.5,1167.6 630,1163.7 631.5,1159.8 633,1155.8 634.5,1151.7 636,1147.5 637.5,1143.1 639,1138.7 640.5,1134.1 642,1129.3 643.5,1124.4 645,1119.3 646.5,1114 648,1108.5 649.5,1102.9 651,1097.2 652.5,1091.4 654,1085.8 655.5,1080.2 657,1074.9 658.5,1069.9 660,1065.2 661.5,1060.9 663,1057.1 664.5,1053.7 666,1050.8 667.5,1048.2 669,1045.9 670.5,1043.9 672,1042 673.5,1040.3 675,1038.8 676.5,1037.4 678,1036.1 679.5,1035 681,1034 682.5,1033.2 684,1032.5 685.5,1032.1 687,1031.7 688.5,1031.4 690,1031.2 691.5,1031.2 693,1031.5 694.5,1032.2 696,1033.3 697.5,1034.5 699,1036.1 700.5,1037.9 702,1039.9 703.5,1042.1 705,1044.6 706.5,1047.3 708,1050.2 709.5,1053.3 711,1056.6 712.5,1060.1 714,1063.8 715.5,1067.6 717,1071.6 718.5,1075.7 720,1080.1 721.5,1084.6 723,1089.3 724.5,1094.1 726,1099.2 727.5,1104.5 729,1110 730.5,1115.7 732,1121.6 733.5,1127.7 735,1133.8 736.5,1140 738,1146.2 739.5,1152.1 741,1157.8 742.5,1163.1 744,1168 745.5,1172.4 747,1176.3 748.5,1179.8 750,1182.9 751.5,1185.7 753,1188.3 754.5,1190.7 756,1192.9 757.5,1195.2 759,1197.4 760.5,1199.8 762,1202.2 763.5,1205 765,1207.9 766.5,1211.2 768,1214.9 769.5,1218.9 771,1223.1 772.5,1227.4 774,1231.8 775.5,1236.2 777,1240.5 778.5,1244.7 780,1248.8 781.5,1252.8 783,1256.7 784.5,1260.7 786,1264.6 787.5,1268.6 789,1272.7 790.5,1276.8 792,1281.1 793.5,1285.5 795,1290 796.5,1294.7 798,1299.4 799.5,1304.2 801,1309 802.5,1313.7 804,1318.2 805.5,1322.6 807,1326.8 808.5,1330.6 810,1334.1 811.5,1337.3 813,1340 814.5,1342.2 816,1344 817.5,1345.2 819,1346 820.5,1346.2 822,1345.9 823.5,1345.1 825,1343.7 826.5,1341.9 828,1339.7 829.5,1337.1 831,1334.1 832.5,1330.8 834,1327.2 835.5,1323.4 837,1319.3 838.5,1315.1 840,1310.8 841.5,1306.3 843,1301.8 844.5,1297.3 846,1292.7 847.5,1288.1 849,1283.5 850.5,1278.8 852,1274.2 853.5,1269.5 855,1264.9 856.5,1260.2 858,1255.6 859.5,1251 861,1246.5 862.5,1241.9 864,1237.4 865.5,1233 867,1228.6 868.5,1224.3 870,1220 871.5,1215.9 873,1211.8 874.5,1207.7 876,1203.8 877.5,1199.9 879,1196.1 880.5,1192.3 882,1188.5 883.5,1184.8 885,1181.1 886.5,1177.4 888,1173.6 889.5,1169.8 891,1166 892.5,1162.1 894,1158.2 895.5,1154.1 897,1150 898.5,1145.7 900,1141.4 901.5,1136.9 903,1132.2 904.5,1127.4 906,1122.4 907.5,1117.2 909,1111.8 910.5,1106.3 912,1100.6 913.5,1094.9 915,1089.2 916.5,1083.5 918,1078.1 919.5,1072.9 921,1067.9 922.5,1063.4 924,1059.3 925.5,1055.7 927,1052.5 928.5,1049.7 930,1047.3 931.5,1045.1 933,1043.1 934.5,1041.3 936,1039.7 937.5,1038.2 939,1036.8 940.5,1035.6 942,1034.6 943.5,1033.7 945,1032.9 946.5,1032.3 948,1031.9 949.5,1031.6 951,1031.3 952.5,1031.1 954,1031.3 955.5,1031.8 957,1032.6 958.5,1033.7 960,1035.1 961.5,1036.8 963,1038.6 964.5,1040.8 966,1043.1 967.5,1045.7 969,1048.5 970.5,1051.5 972,1054.6 973.5,1058 975,1061.6 976.5,1065.3 978,1069.2 979.5,1073.2 981,1077.4 982.5,1081.8 984,1086.4 985.5,1091.2 987,1096.1 988.5,1101.3 990,1106.7 991.5,1112.2 993,1118 994.5,1124 996,1130.1 997.5,1136.3 999,1142.5 1000.5,1148.6 1002,1154.4 1003.5,1160 1005,1165.1 1006.5,1169.8 1008,1174 1009.5,1177.7 1011,1181.1 1012.5,1184 1014,1186.8 1015.5,1189.2 1017,1191.6 1018.5,1193.8 1020,1196.1 1021.5,1198.3 1023,1200.7 1024.5,1203.3 1026,1206.1 1027.5,1209.2 1029,1212.7 1030.5,1216.5 1032,1220.5 1033.5,1224.8 1035,1229.2 1036.5,1233.6 1038,1237.9 1039.5,1242.2 1041,1246.3 1042.5,1250.4 1044,1254.4 1045.5,1258.3 1047,1262.3 1048.5,1266.2 1050,1270.2 1051.5,1274.3 1053,1278.5 1054.5,1282.8 1056,1287.3 1057.5,1291.9 1059,1296.6 1060.5,1301.3 1062,1306.1 1063.5,1310.9 1065,1315.5 1066.5,1320 1068,1324.3 1069.5,1328.4 1071,1332.1 1072.5,1335.4 1074,1338.4 1075.5,1340.9 1077,1343 1078.5,1344.5 1080,1345.6 1081.5,1346.1 1083,1346.1 1084.5,1345.6 1086,1344.6 1087.5,1343.1 1089,1341.1 1090.5,1338.7 1092,1335.9 1093.5,1332.8 1095,1329.4 1096.5,1325.7 1098,1321.8 1099.5,1317.7 1101,1313.4 1102.5,1309 1104,1304.5 1105.5,1300 1107,1295.5 1108.5,1290.9 1110,1286.2 1111.5,1281.6 1113,1277 1114.5,1272.3 1116,1267.7 1117.5,1263 1119,1258.4 1120.5,1253.8 1122,1249.2 1123.5,1244.6 1125,1240.1 1126.5,1235.7 1128,1231.2 1129.5,1226.9 1131,1222.6 1132.5,1218.4 1134,1214.2 1135.5,1210.1 1137,1206.1 1138.5,1202.2 1140,1198.4 1141.5,1194.6 1143,1190.8 1144.5,1187.1 1146,1183.3 1147.5,1179.6 1149,1175.9 1150.5,1172.1 1152,1168.3 1153.5,1164.5 1155,1160.6 1156.5,1156.6 1158,1152.5 1159.5,1148.3 1161,1144 1162.5,1139.6 1164,1135 1165.5,1130.3 1167,1125.4 1168.5,1120.3 1170,1115.1 1171.5,1109.6 1173,1104 1174.5,1098.3 1176,1092.6 1177.5,1086.9 1179,1081.3 1180.5,1076 1182,1070.9 1183.5,1066.1 1185,1061.7 1186.5,1057.8 1188,1054.4 1189.5,1051.3 1191,1048.7 1192.5,1046.4 1194,1044.3 1195.5,1042.4 1197,1040.7 1198.5,1039.1 1200,1037.6 1201.5,1036.3 1203,1035.2 1204.5,1034.2 1206,1033.3 1207.5,1032.7 1209,1032.2 1210.5,1031.8 1212,1031.5 1213.5,1031.2 1215,1031.1 1216.5,1031.4 1218,1032.1 1219.5,1033 1221,1034.3 1222.5,1035.7 1224,1037.5 1225.5,1039.5 1227,1041.7 1228.5,1044.1 1230,1046.8 1231.5,1049.6 1233,1052.7 1234.5,1056 1236,1059.4 1237.5,1063 1239,1066.8 1240.5,1070.8 1242,1074.9 1243.5,1079.2 1245,1083.7 1246.5,1088.3 1248,1093.1 1249.5,1098.2 1251,1103.4 1252.5,1108.9 1254,1114.5 1255.5,1120.4 1257,1126.4 1258.5,1132.6 1260,1138.8 1261.5,1145 1263,1151 1264.5,1156.7 1266,1162.1 1267.5,1167.1 1269,1171.5 1270.5,1175.6 1272,1179.1 1273.5,1182.3 1275,1185.2 1276.5,1187.8 1278,1190.2 1279.5,1192.5 1281,1194.7 1282.5,1197 1284,1199.3 1285.5,1201.7 1287,1204.4 1288.5,1207.3 1290,1210.6 1291.5,1214.1 1293,1218 1294.5,1222.2 1296,1226.5 1297.5,1230.9 1299,1235.3 1300.5,1239.6 1302,1243.9 1303.5,1248 1305,1252 1306.5,1256 1308,1259.9 1309.5,1263.8 1311,1267.8 1312.5,1271.9 1314,1276 1315.5,1280.2 1317,1284.6 1318.5,1289.1 1320,1293.7 1321.5,1298.5 1323,1303.2 1324.5,1308 1326,1312.7 1327.5,1317.3 1329,1321.8 1330.5,1326 1332,1329.9 1333.5,1333.5 1335,1336.7 1336.5,1339.5 1338,1341.8 1339.5,1343.7 1341,1345 1342.5,1345.9 1344,1346.2 1345.5,1346 1347,1345.3 1348.5,1344 1350,1342.3 1351.5,1340.2 1353,1337.6 1354.5,1334.7 1356,1331.5 1357.5,1327.9 1359,1324.1 1360.5,1320.1 1362,1316 1363.5,1311.7 1365,1307.2 1366.5,1302.7 1368,1298.2 1369.5,1293.6 1371,1289 1372.5,1284.4 1374,1279.7 1375.5,1275.1 1377,1270.4 1378.5,1265.8 1380,1261.2 1381.5,1256.5 1383,1251.9 1384.5,1247.4 1386,1242.8 1387.5,1238.3 1389,1233.9 1390.5,1229.5 1392,1225.2 1393.5,1220.9 1395,1216.7" fill="none" stroke="#880094" stroke-width="7" stroke-linejoin="round" />
<path d="M84,1219.9 85.5,1215.7 87,1211.6 88.5,1207.5 90,1203.6 91.5,1199.7 93,1195.8 94.5,1192 96,1188.3 97.5,1184.6 99,1180.8 100.5,1177.1 102,1173.4 103.5,1169.6 105,1165.8 106.5,1161.9 108,1158 109.5,1154 111,1149.8 112.5,1145.6 114,1141.3 115.5,1136.8 117,1132.1 118.5,1127.4 120,1122.4 121.5,1117.2 123,1111.9 124.5,1106.4 126,1100.7 127.5,1095 129,1089.3 130.5,1083.7 132,1078.2 133.5,1072.9 135,1067.9 136.5,1063.3 138,1059.1 139.5,1055.4 141,1052.1 142.5,1049.2 144,1046.7 145.5,1044.5 147,1042.5 148.5,1040.7 150,1039 151.5,1037.5 153,1036.1 154.5,1034.9 156,1033.8 157.5,1032.8 159,1032 160.5,1031.4 162,1031 163.5,1030.7 165,1030.4 166.5,1030.2 168,1030.2 169.5,1030.6 171,1031.4 172.5,1032.5 174,1033.8 175.5,1035.4 177,1037.2 178.5,1039.3 180,1041.6 181.5,1044.2 183,1046.9 184.5,1049.8 186,1053 187.5,1056.3 189,1059.8 190.5,1063.5 192,1067.4 193.5,1071.4 195,1075.6 196.5,1079.9 198,1084.5 199.5,1089.2 201,1094.1 202.5,1099.2 204,1104.6 205.5,1110.1 207,1115.8 208.5,1121.8 210,1127.9 211.5,1134.1 213,1140.3 214.5,1146.4 216,1152.3 217.5,1157.9 219,1163.1 220.5,1167.9 222,1172.2 223.5,1176 225,1179.4 226.5,1182.5 228,1185.2 229.5,1187.8 231,1190.1 232.5,1192.4 234,1194.6 235.5,1196.9 237,1199.2 238.5,1201.8 240,1204.5 241.5,1207.6 243,1211 244.5,1214.7 246,1218.7 247.5,1222.9 249,1227.3 250.5,1231.7 252,1236.1 253.5,1240.3 255,1244.5 256.5,1248.6 258,1252.6 259.5,1256.5 261,1260.5 262.5,1264.4 264,1268.4 265.5,1272.5 267,1276.7 268.5,1280.9 270,1285.4 271.5,1289.9 273,1294.6 274.5,1299.4 276,1304.2 277.5,1308.9 279,1313.6 280.5,1318.1 282,1322.5 283.5,1326.6 285,1330.4 286.5,1333.8 288,1336.9 289.5,1339.4 291,1341.6 292.5,1343.3 294,1344.4 295.5,1345.1 297,1345.2 298.5,1344.8 300,1343.8 301.5,1342.4 303,1340.5 304.5,1338.2 306,1335.5 307.5,1332.4 309,1329.1 310.5,1325.4 312,1321.6 313.5,1317.5 315,1313.3 316.5,1308.9 318,1304.4 319.5,1299.9 321,1295.4 322.5,1290.8 324,1286.2 325.5,1281.5 327,1276.9 328.5,1272.2 330,1267.6 331.5,1262.9 333,1258.3 334.5,1253.7 336,1249.1 337.5,1244.6 339,1240 340.5,1235.6 342,1231.1 343.5,1226.8 345,1222.4 346.5,1218.2 348,1214 349.5,1209.9 351,1205.9 352.5,1202 354,1198.1 355.5,1194.3 357,1190.5 358.5,1186.8 360,1183.1 361.5,1179.4 363,1175.6 364.5,1171.9 366,1168.1 367.5,1164.2 369,1160.4 370.5,1156.4 372,1152.3 373.5,1148.2 375,1143.9 376.5,1139.5 378,1134.9 379.5,1130.2 381,1125.4 382.5,1120.3 384,1115.1 385.5,1109.7 387,1104.1 388.5,1098.5 390,1092.7 391.5,1087 393,1081.4 394.5,1076 396,1070.8 397.5,1066 399,1061.6 400.5,1057.6 402,1054 403.5,1050.9 405,1048.2 406.5,1045.8 408,1043.7 409.5,1041.8 411,1040 412.5,1038.4 414,1036.9 415.5,1035.6 417,1034.4 418.5,1033.4 420,1032.5 421.5,1031.8 423,1031.2 424.5,1030.8 426,1030.5 427.5,1030.3 429,1030.1 430.5,1030.3 432,1030.9 433.5,1031.8 435,1033 436.5,1034.4 438,1036.1 439.5,1038 441,1040.2 442.5,1042.6 444,1045.2 445.5,1048.1 447,1051.1 448.5,1054.3 450,1057.7 451.5,1061.3 453,1065 454.5,1069 456,1073.1 457.5,1077.3 459,1081.7 460.5,1086.4 462,1091.2 463.5,1096.2 465,1101.4 466.5,1106.8 468,1112.4 469.5,1118.2 471,1124.2 472.5,1130.4 474,1136.6 475.5,1142.7 477,1148.8 478.5,1154.6 480,1160 481.5,1165.1 483,1169.7 484.5,1173.8 486,1177.4 487.5,1180.7 489,1183.6 490.5,1186.3 492,1188.7 493.5,1191 495,1193.3 496.5,1195.5 498,1197.8 499.5,1200.2 501,1202.8 502.5,1205.7 504,1208.9 505.5,1212.4 507,1216.2 508.5,1220.4 510,1224.7 511.5,1229.1 513,1233.5 514.5,1237.8 516,1242 517.5,1246.1 519,1250.2 520.5,1254.2 522,1258.1 523.5,1262.1 525,1266 526.5,1270 528,1274.1 529.5,1278.3 531,1282.7 532.5,1287.2 534,1291.8 535.5,1296.5 537,1301.3 538.5,1306.1 540,1310.8 541.5,1315.4 543,1319.9 544.5,1324.1 546,1328.1 547.5,1331.8 549,1335.1 550.5,1337.9 552,1340.4 553.5,1342.3 555,1343.8 556.5,1344.7 558,1345.2 559.5,1345.1 561,1344.5 562.5,1343.3 564,1341.7 565.5,1339.6 567,1337.2 568.5,1334.3 570,1331.1 571.5,1327.7 573,1323.9 574.5,1320 576,1315.8 577.5,1311.5 579,1307.1 580.5,1302.6 582,1298.1 583.5,1293.5 585,1288.9 586.5,1284.3 588,1279.7 589.5,1275 591,1270.4 592.5,1265.7 594,1261.1 595.5,1256.5 597,1251.9 598.5,1247.3 600,1242.7 601.5,1238.2 603,1233.8 604.5,1229.4 606,1225 607.5,1220.7 609,1216.5 610.5,1212.4 612,1208.3 613.5,1204.3 615,1200.4 616.5,1196.6 618,1192.8 619.5,1189 621,1185.3 622.5,1181.6 624,1177.9 625.5,1174.1 627,1170.4 628.5,1166.6 630,1162.7 631.5,1158.8 633,1154.8 634.5,1150.7 636,1146.5 637.5,1142.1 639,1137.7 640.5,1133.1 642,1128.3 643.5,1123.4 645,1118.3 646.5,1113 648,1107.5 649.5,1101.9 651,1096.2 652.5,1090.4 654,1084.8 655.5,1079.2 657,1073.9 658.5,1068.9 660,1064.2 661.5,1059.9 663,1056.1 664.5,1052.7 666,1049.8 667.5,1047.2 669,1044.9 670.5,1042.9 672,1041 673.5,1039.3 675,1037.8 676.5,1036.4 678,1035.1 679.5,1034 681,1033 682.5,1032.2 684,1031.5 685.5,1031.1 687,1030.7 688.5,1030.4 690,1030.2 691.5,1030.2 693,1030.5 694.5,1031.2 696,1032.3 697.5,1033.5 699,1035.1 700.5,1036.9 702,1038.9 703.5,1041.1 705,1043.6 706.5,1046.3 708,1049.2 709.5,1052.3 711,1055.6 712.5,1059.1 714,1062.8 715.5,1066.6 717,1070.6 718.5,1074.7 720,1079.1 721.5,1083.6 723,1088.3 724.5,1093.1 726,1098.2 727.5,1103.5 729,1109 730.5,1114.7 732,1120.6 733.5,1126.7 735,1132.8 736.5,1139 738,1145.2 739.5,1151.1 741,1156.8 742.5,1162.1 744,1167 745.5,1171.4 747,1175.3 748.5,1178.8 750,1181.9 751.5,1184.7 753,1187.3 754.5,1189.7 756,1191.9 757.5,1194.2 759,1196.4 760.5,1198.8 762,1201.2 763.5,1204 765,1206.9 766.5,1210.2 768,1213.9 769.5,1217.9 771,1222.1 772.5,1226.4 774,1230.8 775.5,1235.2 777,1239.5 778.5,1243.7 780,1247.8 781.5,1251.8 783,1255.7 784.5,1259.7 786,1263.6 787.5,1267.6 789,1271.7 790.5,1275.8 792,1280.1 793.5,1284.5 795,1289 796.5,1293.7 798,1298.4 799.5,1303.2 801,1308 802.5,1312.7 804,1317.2 805.5,1321.6 807,1325.8 808.5,1329.6 810,1333.1 811.5,1336.3 813,1339 814.5,1341.2 816,1343 817.5,1344.2 819,1345 820.5,1345.2 822,1344.9 823.5,1344.1 825,1342.7 826.5,1340.9 828,1338.7 829.5,1336.1 831,1333.1 832.5,1329.8 834,1326.2 835.5,1322.4 837,1318.3 838.5,1314.1 840,1309.8 841.5,1305.3 843,1300.8 844.5,1296.3 846,1291.7 847.5,1287.1 849,1282.5 850.5,1277.8 852,1273.2 853.5,1268.5 855,1263.9 856.5,1259.2 858,1254.6 859.5,1250 861,1245.5 862.5,1240.9 864,1236.4 865.5,1232 867,1227.6 868.5,1223.3 870,1219 871.5,1214.9 873,1210.8 874.5,1206.7 876,1202.8 877.5,1198.9 879,1195.1 880.5,1191.3 882,1187.5 883.5,1183.8 885,1180.1 886.5,1176.4 888,1172.6 889.5,1168.8 891,1165 892.5,1161.1 894,1157.2 895.5,1153.1 897,1149 898.5,1144.7 900,1140.4 901.5,1135.9 903,1131.2 904.5,1126.4 906,1121.4 907.5,1116.2 909,1110.8 910.5,1105.3 912,1099.6 913.5,1093.9 915,1088.2 916.5,1082.5 918,1077.1 919.5,1071.9 921,1066.9 922.5,1062.4 924,1058.3 925.5,1054.7 927,1051.5 928.5,1048.7 930,1046.3 931.5,1044.1 933,1042.1 934.5,1040.3 936,1038.7 937.5,1037.2 939,1035.8 940.5,1034.6 942,1033.6 943.5,1032.7 945,1031.9 946.5,1031.3 948,1030.9 949.5,1030.6 951,1030.3 952.5,1030.1 954,1030.3 955.5,1030.8 957,1031.6 958.5,1032.7 960,1034.1 961.5,1035.8 963,1037.6 964.5,1039.8 966,1042.1 967.5,1044.7 969,1047.5 970.5,1050.5 972,1053.6 973.5,1057 975,1060.6 976.5,1064.3 978,1068.2 979.5,1072.2 981,1076.4 982.5,1080.8 984,1085.4 985.5,1090.2 987,1095.1 988.5,1100.3 990,1105.7 991.5,1111.2 993,1117 994.5,1123 996,1129.1 997.5,1135.3 999,1141.5 1000.5,1147.6 1002,1153.4 1003.5,1159 1005,1164.1 1006.5,1168.8 1008,1173 1009.5,1176.7 1011,1180.1 1012.5,1183 1014,1185.8 1015.5,1188.2 1017,1190.6 1018.5,1192.8 1020,1195.1 1021.5,1197.3 1023,1199.7 1024.5,1202.3 1026,1205.1 1027.5,1208.2 1029,1211.7 1030.5,1215.5 1032,1219.5 1033.5,1223.8 1035,1228.2 1036.5,1232.6 1038,1236.9 1039.5,1241.2 1041,1245.3 1042.5,1249.4 1044,1253.4 1045.5,1257.3 1047,1261.3 1048.5,1265.2 1050,1269.2 1051.5,1273.3 1053,1277.5 1054.5,1281.8 1056,1286.3 1057.5,1290.9 1059,1295.6 1060.5,1300.3 1062,1305.1 1063.5,1309.9 1065,1314.5 1066.5,1319 1068,1323.3 1069.5,1327.4 1071,1331.1 1072.5,1334.4 1074,1337.4 1075.5,1339.9 1077,1342 1078.5,1343.5 1080,1344.6 1081.5,1345.1 1083,1345.1 1084.5,1344.6 1086,1343.6 1087.5,1342.1 1089,1340.1 1090.5,1337.7 1092,1334.9 1093.5,1331.8 1095,1328.4 1096.5,1324.7 1098,1320.8 1099.5,1316.7 1101,1312.4 1102.5,1308 1104,1303.5 1105.5,1299 1107,1294.5 1108.5,1289.9 1110,1285.2 1111.5,1280.6 1113,1276 1114.5,1271.3 1116,1266.7 1117.5,1262 1119,1257.4 1120.5,1252.8 1122,1248.2 1123.5,1243.6 1125,1239.1 1126.5,1234.7 1128,1230.2 1129.5,1225.9 1131,1221.6 1132.5,1217.4 1134,1213.2 1135.5,1209.1 1137,1205.1 1138.5,1201.2 1140,1197.4 1141.5,1193.6 1143,1189.8 1144.5,1186.1 1146,1182.3 1147.5,1178.6 1149,1174.9 1150.5,1171.1 1152,1167.3 1153.5,1163.5 1155,1159.6 1156.5,1155.6 1158,1151.5 1159.5,1147.3 1161,1143 1162.5,1138.6 1164,1134 1165.5,1129.3 1167,1124.4 1168.5,1119.3 1170,1114.1 1171.5,1108.6 1173,1103 1174.5,1097.3 1176,1091.6 1177.5,1085.9 1179,1080.3 1180.5,1075 1182,1069.9 1183.5,1065.1 1185,1060.7 1186.5,1056.8 1188,1053.4 1189.5,1050.3 1191,1047.7 1192.5,1045.4 1194,1043.3 1195.5,1041.4 1197,1039.7 1198.5,1038.1 1200,1036.6 1201.5,1035.3 1203,1034.2 1204.5,1033.2 1206,1032.3 1207.5,1031.7 1209,1031.2 1210.5,1030.8 1212,1030.5 1213.5,1030.2 1215,1030.1 1216.5,1030.4 1218,1031.1 1219.5,1032 1221,1033.3 1222.5,1034.7 1224,1036.5 1225.5,1038.5 1227,1040.7 1228.5,1043.1 1230,1045.8 1231.5,1048.6 1233,1051.7 1234.5,1055 1236,1058.4 1237.5,1062 1239,1065.8 1240.5,1069.8 1242,1073.9 1243.5,1078.2 1245,1082.7 1246.5,1087.3 1248,1092.1 1249.5,1097.2 1251,1102.4 1252.5,1107.9 1254,1113.5 1255.5,1119.4 1257,1125.4 1258.5,1131.6 1260,1137.8 1261.5,1144 1263,1150 1264.5,1155.7 1266,1161.1 1267.5,1166.1 1269,1170.5 1270.5,1174.6 1272,1178.1 1273.5,1181.3 1275,1184.2 1276.5,1186.8 1278,1189.2 1279.5,1191.5 1281,1193.7 1282.5,1196 1284,1198.3 1285.5,1200.7 1287,1203.4 1288.5,1206.3 1290,1209.6 1291.5,1213.1 1293,1217 1294.5,1221.2 1296,1225.5 1297.5,1229.9 1299,1234.3 1300.5,1238.6 1302,1242.9 1303.5,1247 1305,1251 1306.5,1255 1308,1258.9 1309.5,1262.8 1311,1266.8 1312.5,1270.9 1314,1275 1315.5,1279.2 1317,1283.6 1318.5,1288.1 1320,1292.7 1321.5,1297.5 1323,1302.2 1324.5,1307 1326,1311.7 1327.5,1316.3 1329,1320.8 1330.5,1325 1332,1328.9 1333.5,1332.5 1335,1335.7 1336.5,1338.5 1338,1340.8 1339.5,1342.7 1341,1344 1342.5,1344.9 1344,1345.2 1345.5,1345 1347,1344.3 1348.5,1343 1350,1341.3 1351.5,1339.2 1353,1336.6 1354.5,1333.7 1356,1330.5 1357.5,1326.9 1359,1323.1 1360.5,1319.1 1362,1315 1363.5,1310.7 1365,1306.2 1366.5,1301.7 1368,1297.2 1369.5,1292.6 1371,1288 1372.5,1283.4 1374,1278.7 1375.5,1274.1 1377,1269.4 1378.5,1264.8 1380,1260.2 1381.5,1255.5 1383,1250.9 1384.5,1246.4 1386,1241.8 1387.5,1237.3 1389,1232.9 1390.5,1228.5 1392,1224.2 1393.5,1219.9 1395,1215.7" fill="none" stroke="#aa00b4" stroke-width="3" stroke-linejoin="round" />
<rect x="79.5" y="885.5" width="320" height="5" fill="#6e7a7a"/>
<rect x="79.5" y="885.5" width="1320" height="5" fill="#6e7a7a"/>
<rect x="79.5" y="885.5" width="4.5" height="604" fill="#606a6a"/>
<rect x="1395" y="885.5" width="4.5" height="604" fill="#687272"/>
<rect x="79.5" y="1484" width="1320" height="5" fill="#687272"/>
<rect x="84" y="1489" width="1311" height="5" fill="#d0d4d4"/>
<rect x="109" y="880.5" width="16" height="5" fill="#8a9292"/>
<rect x="130" y="880.5" width="8" height="5" fill="#8a9292"/>
<rect x="140" y="880.5" width="33" height="5" fill="#8a9292"/>
<rect x="1090" y="880.5" width="20" height="5" fill="#8a9292"/>
<rect x="1120" y="880.5" width="15" height="5" fill="#8a9292"/>
<rect x="1150" y="880.5" width="20" height="5" fill="#8a9292"/>
<rect x="1175" y="880.5" width="30" height="5" fill="#8a9292"/>
<rect x="1215" y="880.5" width="25" height="5" fill="#8a9292"/>
<rect x="1245" y="880.5" width="20" height="5" fill="#8a9292"/>
<rect x="1290" y="880.5" width="10" height="5" fill="#8a9292"/>
<rect x="1305" y="880.5" width="13" height="5" fill="#8a9292"/>
<path d="M731,886 L749,886 L745,893 L740,900 L735,893 Z" fill="#f0a010"/>
<rect x="84" y="900" width="23" height="23" rx="3" fill="#f4c088"/>
<rect x="408" y="879" width="17" height="4" fill="#f8c890"/>
<path d="M22,1168 L68,1168 L78.5,1185 L68,1202 L22,1202 Z" fill="#00e0e0"/>
<rect x="22" y="1168" width="5" height="34" fill="#a0f0f0"/>
<text x="36" y="1196" font-family="Liberation Sans" font-size="28" fill="#7aeaea">2</text>
<rect x="21" y="1494" width="1399" height="50" fill="#efefef"/>
<rect x="21" y="1494" width="519" height="5" fill="#787878"/>
<rect x="21" y="1538" width="519" height="5" fill="#666"/>
<rect x="21" y="1497" width="5.5" height="46" fill="#5e5e5e"/>
<rect x="26" y="1533" width="514" height="5" fill="#fbfbfb"/>
<rect x="540" y="1499" width="5" height="39" fill="#909090"/>
<rect x="545" y="1499" width="5" height="39" fill="#7a7a7a"/>
<rect x="550" y="1499" width="4" height="39" fill="#a4a4a4"/>
<rect x="554" y="1494" width="272" height="5" fill="#787878"/>
<rect x="554" y="1538" width="272" height="5" fill="#666"/>
<rect x="554" y="1533" width="272" height="5" fill="#fbfbfb"/>
<rect x="826" y="1499" width="4" height="39" fill="#a0a0a0"/>
<rect x="834" y="1499" width="4" height="39" fill="#909090"/>
<rect x="838" y="1494" width="398" height="5" fill="#787878"/>
<rect x="838" y="1538" width="398" height="5" fill="#666"/>
<rect x="838" y="1533" width="398" height="5" fill="#fbfbfb"/>
<rect x="1236" y="1499" width="3" height="39" fill="#b0b0b0"/>
<rect x="1239" y="1499" width="4" height="39" fill="#202020"/>
<rect x="1243" y="1494" width="177" height="5" fill="#787878"/>
<rect x="1243" y="1538" width="177" height="5" fill="#666"/>
<rect x="1243" y="1533" width="171" height="5" fill="#fbfbfb"/>
<rect x="1414" y="1499" width="6" height="44" fill="#6a6a6a"/>
<rect x="27" y="1503.5" width="50" height="34" rx="12" fill="#8aecec"/>
<rect x="49" y="1511.5" width="6" height="16" fill="#b4f2f2"/>
<text x="103" y="1532" font-family="Liberation Sans" font-size="36" fill="#66e2ea" stroke="#66e2ea" stroke-width="0.8" textLength="71" lengthAdjust="spacingAndGlyphs" >10.0 V</text>
<rect x="306" y="1503.5" width="55" height="34" rx="13" fill="#a418aa"/>
<rect x="329" y="1511.5" width="11" height="18" fill="#c050c6"/>
<text x="384" y="1532" font-family="Liberation Sans" font-size="36" fill="#d07ad8" stroke="#d07ad8" stroke-width="0.8" textLength="75" lengthAdjust="spacingAndGlyphs" >1.00 V</text>
<text x="554" y="1532" font-family="Liberation Sans" font-size="36" fill="#8a8a82" stroke="#8a8a82" stroke-width="0.8" textLength="80" lengthAdjust="spacingAndGlyphs" >10.0ms</text>
<text x="715" y="1532" font-family="Liberation Sans" font-size="36" fill="#f4c46c" stroke="#f4c46c" stroke-width="0.8" textLength="109" lengthAdjust="spacingAndGlyphs" >1.00491 s</text>
<rect x="838" y="1503.5" width="54" height="34" rx="13" fill="#2020f2"/>
<rect x="861" y="1511.5" width="8" height="18" fill="#6a6af4"/>
<text x="906" y="1532" font-family="Liberation Sans" font-size="36" fill="#8a8a82" stroke="#8a8a82" stroke-width="0.8" textLength="103" lengthAdjust="spacingAndGlyphs" >/ 0.00 V</text>
<text x="1105" y="1532" font-family="Liberation Sans" font-size="36" fill="#8a8a82" stroke="#8a8a82" stroke-width="0.8" textLength="131" lengthAdjust="spacingAndGlyphs" >7.62351kHz</text>
<text x="1249" y="1532" font-family="Liberation Sans" font-size="36" fill="#8a8a82" stroke="#8a8a82" stroke-width="0.8" textLength="98" lengthAdjust="spacingAndGlyphs" >13:55:05</text>
</g>
<text x="0" y="1625" font-family="Liberation Serif" font-size="65" fill="#000" transform="translate(69,0) scale(0.9617,1)">(b)TOGI PLL-Grid connection current and voltage</text>
</svg></body></html>
